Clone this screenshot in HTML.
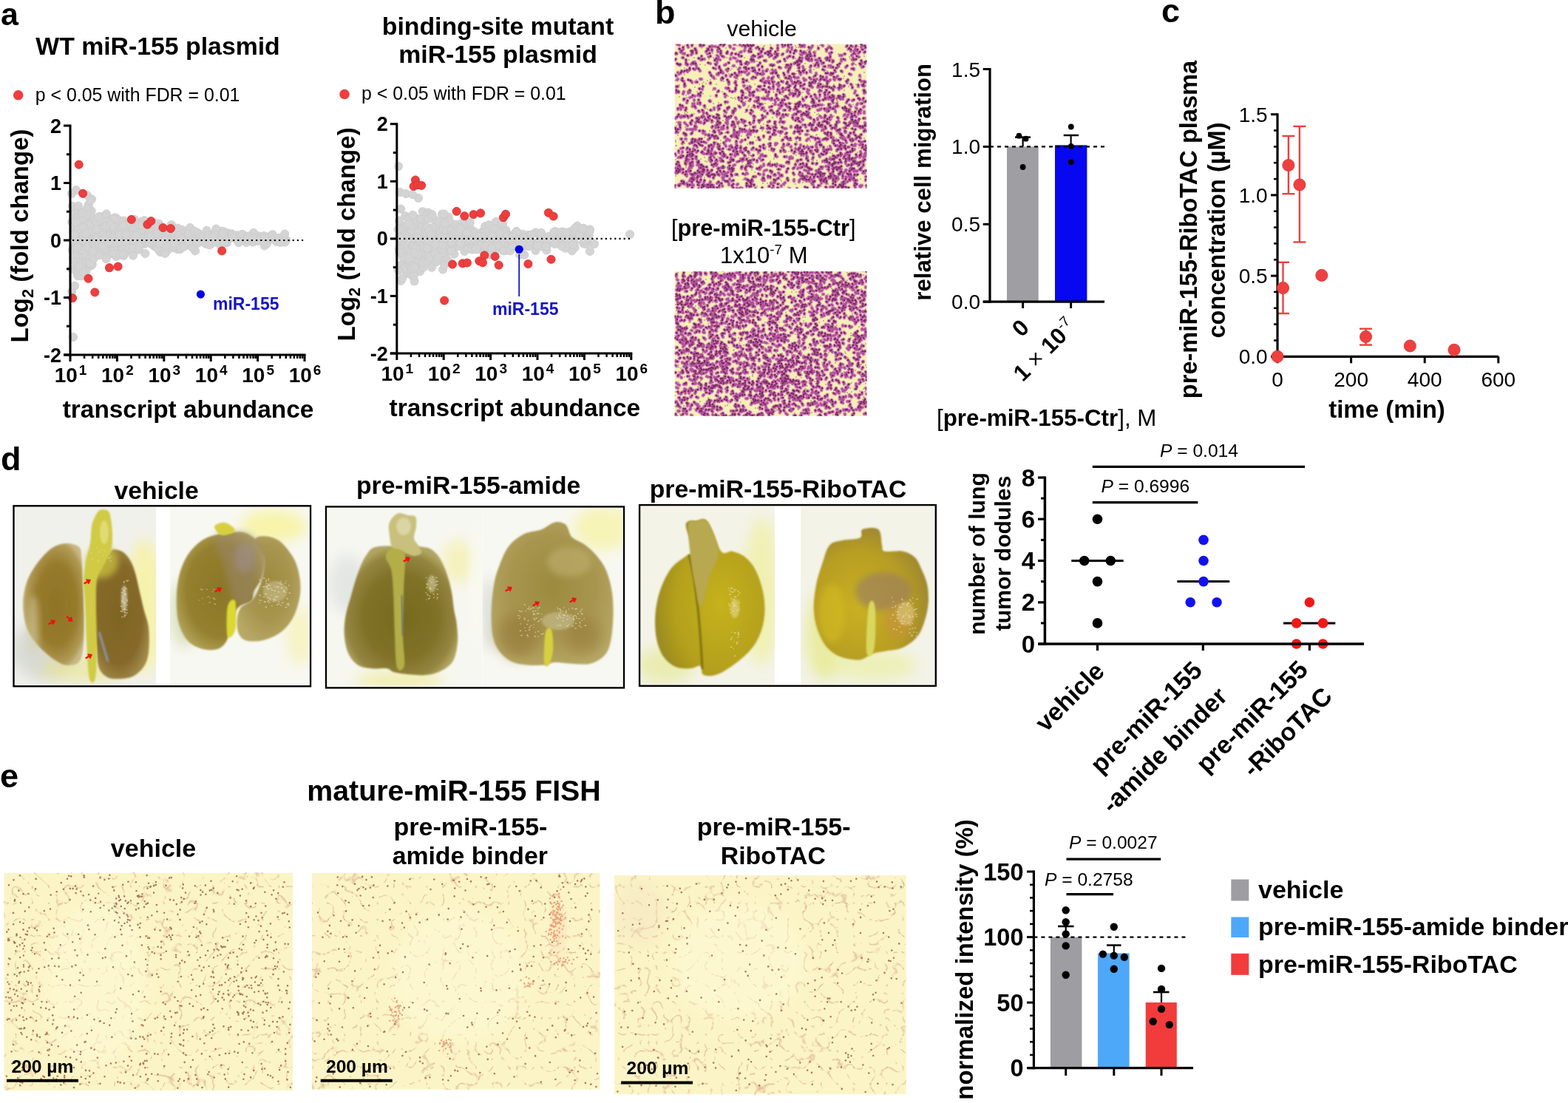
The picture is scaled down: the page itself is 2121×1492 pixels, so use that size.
<!DOCTYPE html>
<html><head><meta charset="utf-8"><style>
html,body{margin:0;padding:0;background:#fff;overflow:hidden;}
svg{display:block;}
</style></head><body>
<svg width="2121" height="1492" viewBox="0 0 2121 1492" font-family="'Liberation Sans', Arial, sans-serif">
<defs><clipPath id="mcc1"><rect x="912.6" y="59.6" width="259.8" height="195.2"/></clipPath>
<clipPath id="mcc2"><rect x="912.6" y="367" width="259.8" height="195.7"/></clipPath>
<filter id="bl1" x="-30%" y="-30%" width="160%" height="160%"><feGaussianBlur stdDeviation="0.8"/></filter>
<filter id="bl2" x="-30%" y="-30%" width="160%" height="160%"><feGaussianBlur stdDeviation="1.6"/></filter>
<filter id="bl4" x="-30%" y="-30%" width="160%" height="160%"><feGaussianBlur stdDeviation="4"/></filter>
<filter id="bl8" x="-30%" y="-30%" width="160%" height="160%"><feGaussianBlur stdDeviation="9"/></filter>
<radialGradient id="gL1" cx="0.55" cy="0.5" r="0.55" fx="0.55" fy="0.5"><stop offset="0" stop-color="#8f7326"/><stop offset="0.6" stop-color="#977b2c"/><stop offset="0.9" stop-color="#b09a55"/><stop offset="1" stop-color="#c9b784"/></radialGradient>
<radialGradient id="gL2" cx="0.5" cy="0.5" r="0.55" fx="0.5" fy="0.5"><stop offset="0" stop-color="#7e6522"/><stop offset="0.7" stop-color="#86692a"/><stop offset="1" stop-color="#a08a4a"/></radialGradient>
<radialGradient id="gL3" cx="0.5" cy="0.5" r="0.55" fx="0.5" fy="0.5"><stop offset="0" stop-color="#8c7628"/><stop offset="0.7" stop-color="#94802e"/><stop offset="1" stop-color="#b0a258"/></radialGradient>
<radialGradient id="gL3b" cx="0.5" cy="0.55" r="0.55" fx="0.5" fy="0.55"><stop offset="0" stop-color="#766a20"/><stop offset="0.6" stop-color="#807228"/><stop offset="0.88" stop-color="#948640"/><stop offset="1" stop-color="#b0a460"/></radialGradient>
<radialGradient id="gL4" cx="0.5" cy="0.45" r="0.6" fx="0.5" fy="0.45"><stop offset="0" stop-color="#9c8a3e"/><stop offset="0.6" stop-color="#a89650"/><stop offset="1" stop-color="#b8a866"/></radialGradient>
<radialGradient id="gL5" cx="0.6" cy="0.55" r="0.6" fx="0.6" fy="0.55"><stop offset="0" stop-color="#c6b21a"/><stop offset="0.7" stop-color="#b4a01a"/><stop offset="1" stop-color="#9c8c22"/></radialGradient>
<radialGradient id="gL6" cx="0.4" cy="0.6" r="0.6" fx="0.4" fy="0.6"><stop offset="0" stop-color="#cab020"/><stop offset="0.7" stop-color="#b89e24"/><stop offset="1" stop-color="#a08a30"/></radialGradient>
<radialGradient id="gY" cx="0.5" cy="0.5" r="0.5" fx="0.5" fy="0.5"><stop offset="0" stop-color="#fbf7a0" stop-opacity="1"/><stop offset="1" stop-color="#fbf7a0" stop-opacity="0"/></radialGradient>
<clipPath id="cp0"><rect x="20" y="686" width="191.5" height="240.5"/></clipPath>
<clipPath id="cp1"><rect x="229.7" y="686" width="189" height="240.5"/></clipPath>
<clipPath id="cp2"><rect x="442.5" y="687" width="210" height="241.5"/></clipPath>
<clipPath id="cp3"><rect x="652.5" y="687" width="190" height="241.5"/></clipPath>
<clipPath id="cp4"><rect x="867" y="685" width="181" height="241"/></clipPath>
<clipPath id="cp5"><rect x="1082.6" y="685" width="181.5" height="241"/></clipPath>
<filter id="ff1" filterUnits="userSpaceOnUse" primitiveUnits="userSpaceOnUse" x="5.5" y="1180.8" width="390.5" height="294.2" color-interpolation-filters="sRGB"><feTurbulence type="turbulence" baseFrequency="0.045" numOctaves="2" seed="5"/><feColorMatrix type="matrix" values="0 0 0 0 0 0 0 0 0 0 0 0 0 0 0 -1 0 0 0 1"/><feComponentTransfer result="a"><feFuncA type="linear" slope="9" intercept="-8.1"/></feComponentTransfer><feFlood flood-color="#d8a888" flood-opacity="0.75"/><feComposite in2="a" operator="in" result="p"/><feMerge><feMergeNode in="SourceGraphic"/><feMergeNode in="p"/></feMerge></filter>
<filter id="ff2" filterUnits="userSpaceOnUse" primitiveUnits="userSpaceOnUse" x="422" y="1181" width="389.4" height="292.6" color-interpolation-filters="sRGB"><feTurbulence type="turbulence" baseFrequency="0.045" numOctaves="2" seed="9"/><feColorMatrix type="matrix" values="0 0 0 0 0 0 0 0 0 0 0 0 0 0 0 -1 0 0 0 1"/><feComponentTransfer result="a"><feFuncA type="linear" slope="9" intercept="-8.1"/></feComponentTransfer><feFlood flood-color="#d8a888" flood-opacity="0.75"/><feComposite in2="a" operator="in" result="p"/><feMerge><feMergeNode in="SourceGraphic"/><feMergeNode in="p"/></feMerge></filter>
<filter id="ff3" filterUnits="userSpaceOnUse" primitiveUnits="userSpaceOnUse" x="831.2" y="1184" width="394.4" height="296.1" color-interpolation-filters="sRGB"><feTurbulence type="turbulence" baseFrequency="0.045" numOctaves="2" seed="13"/><feColorMatrix type="matrix" values="0 0 0 0 0 0 0 0 0 0 0 0 0 0 0 -1 0 0 0 1"/><feComponentTransfer result="a"><feFuncA type="linear" slope="9" intercept="-8.1"/></feComponentTransfer><feFlood flood-color="#d8a888" flood-opacity="0.75"/><feComposite in2="a" operator="in" result="p"/><feMerge><feMergeNode in="SourceGraphic"/><feMergeNode in="p"/></feMerge></filter></defs>
<rect width="2121" height="1492" fill="#fff"/>
<text x="1" y="34" font-size="43" font-weight="bold">a</text>
<text x="886" y="32" font-size="45" font-weight="bold">b</text>
<text x="1571" y="30" font-size="45" font-weight="bold">c</text>
<text x="1" y="636" font-size="45" font-weight="bold">d</text>
<text x="0" y="1065" font-size="45" font-weight="bold">e</text>
<g fill="#d4d4d4" stroke="#cbcbcb" stroke-width="0.8">
<circle cx="98.8" cy="362.4" r="5.6"/>
<circle cx="98.9" cy="335.6" r="5.6"/>
<circle cx="97.7" cy="338.8" r="5.6"/>
<circle cx="100.2" cy="287.4" r="5.6"/>
<circle cx="97.4" cy="363.7" r="5.6"/>
<circle cx="97.2" cy="394.3" r="5.6"/>
<circle cx="99.6" cy="313.3" r="5.6"/>
<circle cx="97.1" cy="300.6" r="5.6"/>
<circle cx="97.8" cy="278.8" r="5.6"/>
<circle cx="98.9" cy="348.5" r="5.6"/>
<circle cx="99.1" cy="338.7" r="5.6"/>
<circle cx="99.6" cy="310.7" r="5.6"/>
<circle cx="101" cy="386.7" r="5.6"/>
<circle cx="99.8" cy="297.6" r="5.6"/>
<circle cx="103" cy="257" r="5.6"/>
<circle cx="97" cy="262" r="5.6"/>
<circle cx="99" cy="456" r="5.6"/>
<circle cx="105.2" cy="345.3" r="5.6"/>
<circle cx="124.5" cy="294.3" r="5.6"/>
<circle cx="115.7" cy="326.7" r="5.6"/>
<circle cx="102.2" cy="340.6" r="5.6"/>
<circle cx="119" cy="288.4" r="5.6"/>
<circle cx="102.5" cy="316" r="5.6"/>
<circle cx="104.4" cy="324.4" r="5.6"/>
<circle cx="104.8" cy="316.3" r="5.6"/>
<circle cx="116.1" cy="298.1" r="5.6"/>
<circle cx="105.3" cy="337.5" r="5.6"/>
<circle cx="120.1" cy="334.6" r="5.6"/>
<circle cx="105.3" cy="337.9" r="5.6"/>
<circle cx="116" cy="329" r="5.6"/>
<circle cx="105.3" cy="325.7" r="5.6"/>
<circle cx="108.2" cy="288.7" r="5.6"/>
<circle cx="102.3" cy="314.2" r="5.6"/>
<circle cx="115" cy="314.2" r="5.6"/>
<circle cx="124" cy="327.3" r="5.6"/>
<circle cx="121.7" cy="286.9" r="5.6"/>
<circle cx="122.7" cy="327.8" r="5.6"/>
<circle cx="104.7" cy="362.1" r="5.6"/>
<circle cx="104.9" cy="370.6" r="5.6"/>
<circle cx="115.1" cy="297.4" r="5.6"/>
<circle cx="101" cy="335.3" r="5.6"/>
<circle cx="117.6" cy="328.5" r="5.6"/>
<circle cx="114.9" cy="294.3" r="5.6"/>
<circle cx="118" cy="284.6" r="5.6"/>
<circle cx="114" cy="350.1" r="5.6"/>
<circle cx="107" cy="330.8" r="5.6"/>
<circle cx="100.4" cy="308" r="5.6"/>
<circle cx="101.5" cy="298.5" r="5.6"/>
<circle cx="114.3" cy="295.6" r="5.6"/>
<circle cx="122.3" cy="359.7" r="5.6"/>
<circle cx="117.3" cy="308.6" r="5.6"/>
<circle cx="100.9" cy="320" r="5.6"/>
<circle cx="117.5" cy="323.1" r="5.6"/>
<circle cx="115.9" cy="335.9" r="5.6"/>
<circle cx="108" cy="328.2" r="5.6"/>
<circle cx="113.7" cy="359.7" r="5.6"/>
<circle cx="118.4" cy="351.8" r="5.6"/>
<circle cx="122.9" cy="326.1" r="5.6"/>
<circle cx="122.5" cy="340.1" r="5.6"/>
<circle cx="119.8" cy="348.4" r="5.6"/>
<circle cx="115.6" cy="322" r="5.6"/>
<circle cx="115.2" cy="308.3" r="5.6"/>
<circle cx="124.8" cy="358" r="5.6"/>
<circle cx="109.7" cy="341.7" r="5.6"/>
<circle cx="111" cy="319.6" r="5.6"/>
<circle cx="118.8" cy="303.3" r="5.6"/>
<circle cx="112" cy="320" r="5.6"/>
<circle cx="112.4" cy="354" r="5.6"/>
<circle cx="106.4" cy="285.5" r="5.6"/>
<circle cx="117" cy="288.8" r="5.6"/>
<circle cx="122.6" cy="329.7" r="5.6"/>
<circle cx="122.3" cy="323.6" r="5.6"/>
<circle cx="105" cy="337.3" r="5.6"/>
<circle cx="122.9" cy="338.8" r="5.6"/>
<circle cx="114.6" cy="293.3" r="5.6"/>
<circle cx="112.4" cy="362.4" r="5.6"/>
<circle cx="117.8" cy="336.7" r="5.6"/>
<circle cx="104.2" cy="308.6" r="5.6"/>
<circle cx="105.4" cy="326.2" r="5.6"/>
<circle cx="112.3" cy="332.7" r="5.6"/>
<circle cx="124.6" cy="297.5" r="5.6"/>
<circle cx="100.8" cy="319.2" r="5.6"/>
<circle cx="117.7" cy="317.3" r="5.6"/>
<circle cx="119.8" cy="276.7" r="5.6"/>
<circle cx="111.4" cy="315.8" r="5.6"/>
<circle cx="105.9" cy="278.5" r="5.6"/>
<circle cx="115.7" cy="328.3" r="5.6"/>
<circle cx="116.4" cy="366.9" r="5.6"/>
<circle cx="117.1" cy="305.8" r="5.6"/>
<circle cx="104.5" cy="295" r="5.6"/>
<circle cx="117.9" cy="293.3" r="5.6"/>
<circle cx="108.6" cy="336.2" r="5.6"/>
<circle cx="115.4" cy="332.4" r="5.6"/>
<circle cx="119.8" cy="323.6" r="5.6"/>
<circle cx="123.3" cy="315.7" r="5.6"/>
<circle cx="111.3" cy="354" r="5.6"/>
<circle cx="109.4" cy="349.1" r="5.6"/>
<circle cx="119.9" cy="346.8" r="5.6"/>
<circle cx="116.3" cy="319.9" r="5.6"/>
<circle cx="120.5" cy="344.1" r="5.6"/>
<circle cx="105.3" cy="373.3" r="5.6"/>
<circle cx="124.4" cy="342.4" r="5.6"/>
<circle cx="108" cy="366.9" r="5.6"/>
<circle cx="108.7" cy="297.3" r="5.6"/>
<circle cx="113.8" cy="338.3" r="5.6"/>
<circle cx="100.7" cy="316.9" r="5.6"/>
<circle cx="120" cy="296.4" r="5.6"/>
<circle cx="119.7" cy="284.2" r="5.6"/>
<circle cx="112.9" cy="355.6" r="5.6"/>
<circle cx="117.2" cy="348.5" r="5.6"/>
<circle cx="123.7" cy="285.2" r="5.6"/>
<circle cx="113.2" cy="325.1" r="5.6"/>
<circle cx="116" cy="344.5" r="5.6"/>
<circle cx="114" cy="306.8" r="5.6"/>
<circle cx="121.1" cy="330.1" r="5.6"/>
<circle cx="121.3" cy="351.6" r="5.6"/>
<circle cx="114.3" cy="309.3" r="5.6"/>
<circle cx="112.6" cy="303.4" r="5.6"/>
<circle cx="124.2" cy="319.3" r="5.6"/>
<circle cx="120" cy="327" r="5.6"/>
<circle cx="117.3" cy="301.9" r="5.6"/>
<circle cx="110.3" cy="373.3" r="5.6"/>
<circle cx="106.7" cy="301.6" r="5.6"/>
<circle cx="110.8" cy="364.1" r="5.6"/>
<circle cx="111.9" cy="296.5" r="5.6"/>
<circle cx="115.4" cy="327.1" r="5.6"/>
<circle cx="119.5" cy="280.1" r="5.6"/>
<circle cx="105.7" cy="324.5" r="5.6"/>
<circle cx="108.9" cy="308.6" r="5.6"/>
<circle cx="118.3" cy="303.5" r="5.6"/>
<circle cx="106.3" cy="308.8" r="5.6"/>
<circle cx="110.9" cy="312.2" r="5.6"/>
<circle cx="113.2" cy="288.4" r="5.6"/>
<circle cx="115.8" cy="333.4" r="5.6"/>
<circle cx="121.3" cy="350.2" r="5.6"/>
<circle cx="105.8" cy="354.9" r="5.6"/>
<circle cx="122.6" cy="303.3" r="5.6"/>
<circle cx="123.1" cy="336.1" r="5.6"/>
<circle cx="122.2" cy="288.9" r="5.6"/>
<circle cx="118.2" cy="288" r="5.6"/>
<circle cx="120.8" cy="335.8" r="5.6"/>
<circle cx="103.2" cy="328.9" r="5.6"/>
<circle cx="100.4" cy="317.5" r="5.6"/>
<circle cx="122.8" cy="328.7" r="5.6"/>
<circle cx="112.6" cy="338.6" r="5.6"/>
<circle cx="117.1" cy="282.5" r="5.6"/>
<circle cx="102.7" cy="301" r="5.6"/>
<circle cx="112.9" cy="308.1" r="5.6"/>
<circle cx="104.6" cy="326.5" r="5.6"/>
<circle cx="124.8" cy="325.2" r="5.6"/>
<circle cx="101.5" cy="347.2" r="5.6"/>
<circle cx="119.1" cy="312.5" r="5.6"/>
<circle cx="112.9" cy="325.7" r="5.6"/>
<circle cx="100.3" cy="354.5" r="5.6"/>
<circle cx="104.5" cy="334.8" r="5.6"/>
<circle cx="110.1" cy="288.2" r="5.6"/>
<circle cx="112.8" cy="318.9" r="5.6"/>
<circle cx="120" cy="355.7" r="5.6"/>
<circle cx="115.7" cy="324.2" r="5.6"/>
<circle cx="112.6" cy="368.1" r="5.6"/>
<circle cx="106.5" cy="360.7" r="5.6"/>
<circle cx="119.4" cy="336.3" r="5.6"/>
<circle cx="122.4" cy="356.2" r="5.6"/>
<circle cx="119.2" cy="333.6" r="5.6"/>
<circle cx="118.1" cy="291.1" r="5.6"/>
<circle cx="111.7" cy="288.5" r="5.6"/>
<circle cx="116" cy="315.9" r="5.6"/>
<circle cx="117.7" cy="264" r="5.6"/>
<circle cx="124" cy="269.3" r="5.6"/>
<circle cx="122.3" cy="270.9" r="5.6"/>
<circle cx="149.5" cy="343.2" r="5.6"/>
<circle cx="125.8" cy="330" r="5.6"/>
<circle cx="134" cy="299.4" r="5.6"/>
<circle cx="131.8" cy="300.1" r="5.6"/>
<circle cx="133.8" cy="333.5" r="5.6"/>
<circle cx="142.8" cy="336.2" r="5.6"/>
<circle cx="159.8" cy="333.2" r="5.6"/>
<circle cx="127.7" cy="330.1" r="5.6"/>
<circle cx="126.6" cy="321.1" r="5.6"/>
<circle cx="141.5" cy="306.6" r="5.6"/>
<circle cx="146.4" cy="318.1" r="5.6"/>
<circle cx="139.7" cy="322.2" r="5.6"/>
<circle cx="137.8" cy="316" r="5.6"/>
<circle cx="144.6" cy="318" r="5.6"/>
<circle cx="135.4" cy="292.8" r="5.6"/>
<circle cx="126.5" cy="315" r="5.6"/>
<circle cx="138.6" cy="340" r="5.6"/>
<circle cx="126.8" cy="349.7" r="5.6"/>
<circle cx="127.6" cy="329.4" r="5.6"/>
<circle cx="141.7" cy="325.4" r="5.6"/>
<circle cx="143.3" cy="340.4" r="5.6"/>
<circle cx="141.4" cy="345" r="5.6"/>
<circle cx="146.1" cy="309.1" r="5.6"/>
<circle cx="140.9" cy="292.7" r="5.6"/>
<circle cx="143.5" cy="303.3" r="5.6"/>
<circle cx="148.4" cy="308.4" r="5.6"/>
<circle cx="145.4" cy="324.7" r="5.6"/>
<circle cx="143.6" cy="350.3" r="5.6"/>
<circle cx="150.7" cy="296" r="5.6"/>
<circle cx="156.2" cy="331.9" r="5.6"/>
<circle cx="137.6" cy="316.5" r="5.6"/>
<circle cx="144.8" cy="325.6" r="5.6"/>
<circle cx="151.4" cy="298.9" r="5.6"/>
<circle cx="159.3" cy="345" r="5.6"/>
<circle cx="126.4" cy="295.3" r="5.6"/>
<circle cx="139.9" cy="308.7" r="5.6"/>
<circle cx="144" cy="289.4" r="5.6"/>
<circle cx="148.7" cy="324.2" r="5.6"/>
<circle cx="138.1" cy="307.4" r="5.6"/>
<circle cx="137" cy="337.8" r="5.6"/>
<circle cx="127.6" cy="315.6" r="5.6"/>
<circle cx="146.8" cy="317.4" r="5.6"/>
<circle cx="139.9" cy="320.3" r="5.6"/>
<circle cx="137.9" cy="339.9" r="5.6"/>
<circle cx="136.4" cy="328" r="5.6"/>
<circle cx="157.2" cy="311.1" r="5.6"/>
<circle cx="128.4" cy="316.4" r="5.6"/>
<circle cx="127.9" cy="319.7" r="5.6"/>
<circle cx="149" cy="320.5" r="5.6"/>
<circle cx="127.7" cy="313.8" r="5.6"/>
<circle cx="127.9" cy="319" r="5.6"/>
<circle cx="149.3" cy="298.5" r="5.6"/>
<circle cx="137.5" cy="321.1" r="5.6"/>
<circle cx="129.1" cy="327.5" r="5.6"/>
<circle cx="157.1" cy="347" r="5.6"/>
<circle cx="140.3" cy="321.7" r="5.6"/>
<circle cx="136.1" cy="329.4" r="5.6"/>
<circle cx="156.3" cy="304.7" r="5.6"/>
<circle cx="137.8" cy="309.8" r="5.6"/>
<circle cx="138.6" cy="309.8" r="5.6"/>
<circle cx="152.9" cy="330.8" r="5.6"/>
<circle cx="144.7" cy="315.8" r="5.6"/>
<circle cx="155.8" cy="294.3" r="5.6"/>
<circle cx="143" cy="321.8" r="5.6"/>
<circle cx="158.8" cy="333.5" r="5.6"/>
<circle cx="127.2" cy="329.4" r="5.6"/>
<circle cx="127.9" cy="311.8" r="5.6"/>
<circle cx="156.5" cy="308.4" r="5.6"/>
<circle cx="130" cy="331.4" r="5.6"/>
<circle cx="133.6" cy="317.5" r="5.6"/>
<circle cx="143.3" cy="323.4" r="5.6"/>
<circle cx="136.8" cy="339.8" r="5.6"/>
<circle cx="142.3" cy="326.8" r="5.6"/>
<circle cx="149.8" cy="329.1" r="5.6"/>
<circle cx="153.9" cy="335.7" r="5.6"/>
<circle cx="153.2" cy="342.6" r="5.6"/>
<circle cx="158.5" cy="323.6" r="5.6"/>
<circle cx="149.9" cy="325.6" r="5.6"/>
<circle cx="139.7" cy="314.2" r="5.6"/>
<circle cx="159.7" cy="302.5" r="5.6"/>
<circle cx="132.2" cy="308.4" r="5.6"/>
<circle cx="158.9" cy="296.5" r="5.6"/>
<circle cx="129" cy="332.4" r="5.6"/>
<circle cx="131.3" cy="301.7" r="5.6"/>
<circle cx="145.4" cy="316.2" r="5.6"/>
<circle cx="128.8" cy="297.7" r="5.6"/>
<circle cx="133.2" cy="328.6" r="5.6"/>
<circle cx="132.8" cy="299.8" r="5.6"/>
<circle cx="131" cy="320.4" r="5.6"/>
<circle cx="144.2" cy="328.1" r="5.6"/>
<circle cx="134.1" cy="345.3" r="5.6"/>
<circle cx="137" cy="335.1" r="5.6"/>
<circle cx="141.9" cy="293.2" r="5.6"/>
<circle cx="158.2" cy="324.3" r="5.6"/>
<circle cx="143.5" cy="310.9" r="5.6"/>
<circle cx="159.7" cy="314.4" r="5.6"/>
<circle cx="125.4" cy="312.7" r="5.6"/>
<circle cx="152.9" cy="328.9" r="5.6"/>
<circle cx="130.5" cy="300.3" r="5.6"/>
<circle cx="134.1" cy="331.1" r="5.6"/>
<circle cx="147.3" cy="326.8" r="5.6"/>
<circle cx="143.7" cy="315.3" r="5.6"/>
<circle cx="125" cy="340.7" r="5.6"/>
<circle cx="153.8" cy="296" r="5.6"/>
<circle cx="150.1" cy="303.6" r="5.6"/>
<circle cx="141.4" cy="336.4" r="5.6"/>
<circle cx="155" cy="321.2" r="5.6"/>
<circle cx="139.6" cy="318.3" r="5.6"/>
<circle cx="153.9" cy="309.6" r="5.6"/>
<circle cx="143.4" cy="317.6" r="5.6"/>
<circle cx="135.9" cy="297.2" r="5.6"/>
<circle cx="135.7" cy="324.2" r="5.6"/>
<circle cx="137.6" cy="311" r="5.6"/>
<circle cx="138.8" cy="332.6" r="5.6"/>
<circle cx="154" cy="306.7" r="5.6"/>
<circle cx="138.2" cy="316.2" r="5.6"/>
<circle cx="144.7" cy="299.9" r="5.6"/>
<circle cx="159.7" cy="318.2" r="5.6"/>
<circle cx="146.6" cy="306.7" r="5.6"/>
<circle cx="143.9" cy="305.6" r="5.6"/>
<circle cx="138.7" cy="315.4" r="5.6"/>
<circle cx="132" cy="320.1" r="5.6"/>
<circle cx="158.1" cy="327.7" r="5.6"/>
<circle cx="136.6" cy="315.3" r="5.6"/>
<circle cx="129.9" cy="310.3" r="5.6"/>
<circle cx="149.8" cy="303.8" r="5.6"/>
<circle cx="154.3" cy="307.2" r="5.6"/>
<circle cx="132.9" cy="293.6" r="5.6"/>
<circle cx="139.2" cy="317.8" r="5.6"/>
<circle cx="139.9" cy="323.4" r="5.6"/>
<circle cx="190.7" cy="326.6" r="5.6"/>
<circle cx="173.3" cy="305.5" r="5.6"/>
<circle cx="176" cy="339.4" r="5.6"/>
<circle cx="191.6" cy="328.3" r="5.6"/>
<circle cx="160.7" cy="312.2" r="5.6"/>
<circle cx="186" cy="307.1" r="5.6"/>
<circle cx="180.4" cy="337.6" r="5.6"/>
<circle cx="184.5" cy="319" r="5.6"/>
<circle cx="196.1" cy="318.3" r="5.6"/>
<circle cx="180" cy="317.1" r="5.6"/>
<circle cx="199.5" cy="327.2" r="5.6"/>
<circle cx="193.4" cy="324.8" r="5.6"/>
<circle cx="185.1" cy="301.6" r="5.6"/>
<circle cx="169.8" cy="328.4" r="5.6"/>
<circle cx="173.2" cy="328.8" r="5.6"/>
<circle cx="178.5" cy="323.6" r="5.6"/>
<circle cx="165.4" cy="333.1" r="5.6"/>
<circle cx="182.4" cy="316.3" r="5.6"/>
<circle cx="196.4" cy="342.9" r="5.6"/>
<circle cx="184.1" cy="319.6" r="5.6"/>
<circle cx="171.5" cy="324.7" r="5.6"/>
<circle cx="182.9" cy="321.4" r="5.6"/>
<circle cx="181.9" cy="296.9" r="5.6"/>
<circle cx="167.2" cy="346" r="5.6"/>
<circle cx="186.3" cy="320.4" r="5.6"/>
<circle cx="189.5" cy="320.3" r="5.6"/>
<circle cx="192.2" cy="299.8" r="5.6"/>
<circle cx="178.7" cy="308.3" r="5.6"/>
<circle cx="182.8" cy="312.7" r="5.6"/>
<circle cx="170.5" cy="318.3" r="5.6"/>
<circle cx="185.7" cy="313.1" r="5.6"/>
<circle cx="165.8" cy="336.1" r="5.6"/>
<circle cx="178.8" cy="322" r="5.6"/>
<circle cx="187.6" cy="334.8" r="5.6"/>
<circle cx="179.4" cy="343.5" r="5.6"/>
<circle cx="194.2" cy="316.8" r="5.6"/>
<circle cx="182.6" cy="332.6" r="5.6"/>
<circle cx="181" cy="330.1" r="5.6"/>
<circle cx="172.8" cy="315.1" r="5.6"/>
<circle cx="196" cy="329.9" r="5.6"/>
<circle cx="190.1" cy="318.3" r="5.6"/>
<circle cx="162.8" cy="309.4" r="5.6"/>
<circle cx="180.1" cy="306.1" r="5.6"/>
<circle cx="187.8" cy="314.7" r="5.6"/>
<circle cx="172.3" cy="311" r="5.6"/>
<circle cx="162.7" cy="344.7" r="5.6"/>
<circle cx="186.6" cy="328.8" r="5.6"/>
<circle cx="192.2" cy="320.1" r="5.6"/>
<circle cx="182.7" cy="321.1" r="5.6"/>
<circle cx="191.7" cy="311.9" r="5.6"/>
<circle cx="198" cy="300.6" r="5.6"/>
<circle cx="172" cy="304.5" r="5.6"/>
<circle cx="195.8" cy="326.7" r="5.6"/>
<circle cx="174.3" cy="311" r="5.6"/>
<circle cx="161.2" cy="326.6" r="5.6"/>
<circle cx="179.9" cy="345.6" r="5.6"/>
<circle cx="178.9" cy="307.6" r="5.6"/>
<circle cx="196.9" cy="323.5" r="5.6"/>
<circle cx="193.5" cy="316.3" r="5.6"/>
<circle cx="166.9" cy="344.6" r="5.6"/>
<circle cx="168.1" cy="316.2" r="5.6"/>
<circle cx="195.2" cy="298.2" r="5.6"/>
<circle cx="189" cy="326.8" r="5.6"/>
<circle cx="194.8" cy="316.9" r="5.6"/>
<circle cx="187.8" cy="331.3" r="5.6"/>
<circle cx="163.2" cy="308.3" r="5.6"/>
<circle cx="188.4" cy="304.2" r="5.6"/>
<circle cx="169.4" cy="333.3" r="5.6"/>
<circle cx="174.9" cy="335.8" r="5.6"/>
<circle cx="183.6" cy="308.3" r="5.6"/>
<circle cx="197.1" cy="319.5" r="5.6"/>
<circle cx="185.6" cy="323" r="5.6"/>
<circle cx="177.6" cy="322.6" r="5.6"/>
<circle cx="161.8" cy="317.9" r="5.6"/>
<circle cx="170" cy="318" r="5.6"/>
<circle cx="171.4" cy="321" r="5.6"/>
<circle cx="171.2" cy="313.8" r="5.6"/>
<circle cx="195.9" cy="321.6" r="5.6"/>
<circle cx="178.5" cy="324.7" r="5.6"/>
<circle cx="197.2" cy="312.4" r="5.6"/>
<circle cx="182.2" cy="321.1" r="5.6"/>
<circle cx="186.3" cy="329.1" r="5.6"/>
<circle cx="180.2" cy="335.3" r="5.6"/>
<circle cx="180.8" cy="324.4" r="5.6"/>
<circle cx="191.2" cy="314.9" r="5.6"/>
<circle cx="169.4" cy="326.8" r="5.6"/>
<circle cx="191.5" cy="321.7" r="5.6"/>
<circle cx="179.6" cy="315.6" r="5.6"/>
<circle cx="180" cy="311.1" r="5.6"/>
<circle cx="188.6" cy="333" r="5.6"/>
<circle cx="167.2" cy="298.6" r="5.6"/>
<circle cx="179.8" cy="317.7" r="5.6"/>
<circle cx="170.5" cy="317.5" r="5.6"/>
<circle cx="196.3" cy="324" r="5.6"/>
<circle cx="191.7" cy="304.4" r="5.6"/>
<circle cx="172.4" cy="303.6" r="5.6"/>
<circle cx="184.8" cy="315.3" r="5.6"/>
<circle cx="183.5" cy="318.5" r="5.6"/>
<circle cx="166.9" cy="305.2" r="5.6"/>
<circle cx="187.6" cy="337.7" r="5.6"/>
<circle cx="202.1" cy="318.2" r="5.6"/>
<circle cx="207.6" cy="323.8" r="5.6"/>
<circle cx="217.1" cy="341.1" r="5.6"/>
<circle cx="205.1" cy="328.2" r="5.6"/>
<circle cx="201.4" cy="326.6" r="5.6"/>
<circle cx="205" cy="316.2" r="5.6"/>
<circle cx="214.9" cy="302.6" r="5.6"/>
<circle cx="234.9" cy="335.2" r="5.6"/>
<circle cx="208" cy="318.9" r="5.6"/>
<circle cx="208.5" cy="332.8" r="5.6"/>
<circle cx="212.7" cy="331" r="5.6"/>
<circle cx="221.4" cy="310.4" r="5.6"/>
<circle cx="222.7" cy="309.4" r="5.6"/>
<circle cx="224.3" cy="334.2" r="5.6"/>
<circle cx="231" cy="320.1" r="5.6"/>
<circle cx="229.5" cy="327.3" r="5.6"/>
<circle cx="207.5" cy="312.5" r="5.6"/>
<circle cx="219.2" cy="308.6" r="5.6"/>
<circle cx="207.5" cy="318.2" r="5.6"/>
<circle cx="215.6" cy="339.3" r="5.6"/>
<circle cx="230.2" cy="313.8" r="5.6"/>
<circle cx="202.5" cy="324.8" r="5.6"/>
<circle cx="209.6" cy="304.7" r="5.6"/>
<circle cx="209.2" cy="330.9" r="5.6"/>
<circle cx="225" cy="314.8" r="5.6"/>
<circle cx="205.4" cy="330.5" r="5.6"/>
<circle cx="226.8" cy="338.3" r="5.6"/>
<circle cx="200.7" cy="316.6" r="5.6"/>
<circle cx="202.9" cy="328.4" r="5.6"/>
<circle cx="227" cy="313.5" r="5.6"/>
<circle cx="213.8" cy="306.6" r="5.6"/>
<circle cx="205.3" cy="314.7" r="5.6"/>
<circle cx="210.9" cy="322.7" r="5.6"/>
<circle cx="204.8" cy="322.7" r="5.6"/>
<circle cx="225.4" cy="319.1" r="5.6"/>
<circle cx="207.2" cy="323.3" r="5.6"/>
<circle cx="214.2" cy="329.4" r="5.6"/>
<circle cx="207.9" cy="315" r="5.6"/>
<circle cx="207.6" cy="301.5" r="5.6"/>
<circle cx="222.1" cy="332.3" r="5.6"/>
<circle cx="234.1" cy="322.8" r="5.6"/>
<circle cx="232.2" cy="321.3" r="5.6"/>
<circle cx="223.3" cy="342.9" r="5.6"/>
<circle cx="208.2" cy="317" r="5.6"/>
<circle cx="215" cy="310.6" r="5.6"/>
<circle cx="213.4" cy="319.4" r="5.6"/>
<circle cx="209.8" cy="313.2" r="5.6"/>
<circle cx="216.6" cy="319.6" r="5.6"/>
<circle cx="208.4" cy="310.2" r="5.6"/>
<circle cx="214.8" cy="317.2" r="5.6"/>
<circle cx="224.5" cy="329.5" r="5.6"/>
<circle cx="200.8" cy="317.8" r="5.6"/>
<circle cx="202.2" cy="310.8" r="5.6"/>
<circle cx="217.3" cy="324.8" r="5.6"/>
<circle cx="211.4" cy="306.5" r="5.6"/>
<circle cx="212.1" cy="334.3" r="5.6"/>
<circle cx="209.2" cy="320.1" r="5.6"/>
<circle cx="216.4" cy="336.9" r="5.6"/>
<circle cx="212.7" cy="335.7" r="5.6"/>
<circle cx="227" cy="329.3" r="5.6"/>
<circle cx="214.4" cy="316.3" r="5.6"/>
<circle cx="229" cy="329.6" r="5.6"/>
<circle cx="231.8" cy="304.1" r="5.6"/>
<circle cx="217.7" cy="315.7" r="5.6"/>
<circle cx="234.2" cy="308" r="5.6"/>
<circle cx="208" cy="321.5" r="5.6"/>
<circle cx="200" cy="322" r="5.6"/>
<circle cx="208.4" cy="326.9" r="5.6"/>
<circle cx="219.2" cy="327.9" r="5.6"/>
<circle cx="229.1" cy="330.6" r="5.6"/>
<circle cx="212.1" cy="328.2" r="5.6"/>
<circle cx="225.1" cy="332.5" r="5.6"/>
<circle cx="233.7" cy="323.1" r="5.6"/>
<circle cx="221.8" cy="324.8" r="5.6"/>
<circle cx="212.9" cy="324.3" r="5.6"/>
<circle cx="218.7" cy="311.4" r="5.6"/>
<circle cx="211.4" cy="316.3" r="5.6"/>
<circle cx="204.4" cy="303.1" r="5.6"/>
<circle cx="203.6" cy="319.2" r="5.6"/>
<circle cx="215.8" cy="329.4" r="5.6"/>
<circle cx="240" cy="337.1" r="5.6"/>
<circle cx="236.7" cy="319.1" r="5.6"/>
<circle cx="259.7" cy="325.5" r="5.6"/>
<circle cx="242.8" cy="324.3" r="5.6"/>
<circle cx="245.3" cy="334.6" r="5.6"/>
<circle cx="260.7" cy="323.3" r="5.6"/>
<circle cx="256.9" cy="331.9" r="5.6"/>
<circle cx="259.8" cy="314.3" r="5.6"/>
<circle cx="255.8" cy="312.7" r="5.6"/>
<circle cx="235.4" cy="333.2" r="5.6"/>
<circle cx="265.1" cy="320.2" r="5.6"/>
<circle cx="248" cy="324" r="5.6"/>
<circle cx="263.9" cy="324.2" r="5.6"/>
<circle cx="257.1" cy="308" r="5.6"/>
<circle cx="243.9" cy="336.9" r="5.6"/>
<circle cx="238.7" cy="311.6" r="5.6"/>
<circle cx="251.8" cy="320.8" r="5.6"/>
<circle cx="244.6" cy="335.3" r="5.6"/>
<circle cx="243.8" cy="323.7" r="5.6"/>
<circle cx="258.7" cy="330.4" r="5.6"/>
<circle cx="256.5" cy="329.9" r="5.6"/>
<circle cx="239.6" cy="310.2" r="5.6"/>
<circle cx="263.9" cy="318.7" r="5.6"/>
<circle cx="238.7" cy="311.3" r="5.6"/>
<circle cx="252.5" cy="319.2" r="5.6"/>
<circle cx="243.5" cy="318.1" r="5.6"/>
<circle cx="246.3" cy="310.8" r="5.6"/>
<circle cx="237" cy="327.2" r="5.6"/>
<circle cx="237.4" cy="317.3" r="5.6"/>
<circle cx="265.9" cy="324.8" r="5.6"/>
<circle cx="250" cy="327.6" r="5.6"/>
<circle cx="247.3" cy="316.3" r="5.6"/>
<circle cx="255.4" cy="321.7" r="5.6"/>
<circle cx="264.1" cy="339.4" r="5.6"/>
<circle cx="248.7" cy="333.8" r="5.6"/>
<circle cx="240.5" cy="308.6" r="5.6"/>
<circle cx="238.7" cy="313" r="5.6"/>
<circle cx="258.4" cy="320.2" r="5.6"/>
<circle cx="235.3" cy="326.6" r="5.6"/>
<circle cx="235.3" cy="329.7" r="5.6"/>
<circle cx="259.6" cy="326" r="5.6"/>
<circle cx="259.9" cy="334.5" r="5.6"/>
<circle cx="265.6" cy="324.4" r="5.6"/>
<circle cx="247.5" cy="322.7" r="5.6"/>
<circle cx="263.2" cy="316.1" r="5.6"/>
<circle cx="242" cy="319" r="5.6"/>
<circle cx="255.4" cy="326.7" r="5.6"/>
<circle cx="254.8" cy="316.7" r="5.6"/>
<circle cx="263.1" cy="312.7" r="5.6"/>
<circle cx="245.4" cy="322.6" r="5.6"/>
<circle cx="273.4" cy="326.7" r="5.6"/>
<circle cx="267.8" cy="315" r="5.6"/>
<circle cx="269.5" cy="317.3" r="5.6"/>
<circle cx="271" cy="320.7" r="5.6"/>
<circle cx="271.4" cy="325.9" r="5.6"/>
<circle cx="274.8" cy="324.9" r="5.6"/>
<circle cx="267.1" cy="329" r="5.6"/>
<circle cx="275.6" cy="319.5" r="5.6"/>
<circle cx="300.7" cy="312.8" r="5.6"/>
<circle cx="299.7" cy="325" r="5.6"/>
<circle cx="282.4" cy="326.2" r="5.6"/>
<circle cx="281.2" cy="321.2" r="5.6"/>
<circle cx="298.5" cy="318.4" r="5.6"/>
<circle cx="307.1" cy="328.3" r="5.6"/>
<circle cx="293.7" cy="316.2" r="5.6"/>
<circle cx="305.3" cy="323.1" r="5.6"/>
<circle cx="299.3" cy="318.1" r="5.6"/>
<circle cx="284.1" cy="323.6" r="5.6"/>
<circle cx="294" cy="315.9" r="5.6"/>
<circle cx="291.6" cy="323.8" r="5.6"/>
<circle cx="308.6" cy="315.3" r="5.6"/>
<circle cx="310.8" cy="321.8" r="5.6"/>
<circle cx="301.8" cy="326.9" r="5.6"/>
<circle cx="306.4" cy="322.8" r="5.6"/>
<circle cx="293.2" cy="322.1" r="5.6"/>
<circle cx="298.7" cy="332.5" r="5.6"/>
<circle cx="303.9" cy="328.6" r="5.6"/>
<circle cx="278.3" cy="329.7" r="5.6"/>
<circle cx="284.8" cy="324.9" r="5.6"/>
<circle cx="294.8" cy="321.9" r="5.6"/>
<circle cx="285.8" cy="316.8" r="5.6"/>
<circle cx="295.4" cy="325.2" r="5.6"/>
<circle cx="284.5" cy="330.8" r="5.6"/>
<circle cx="303" cy="327.8" r="5.6"/>
<circle cx="303.9" cy="313.8" r="5.6"/>
<circle cx="279.5" cy="311.7" r="5.6"/>
<circle cx="306.3" cy="320.3" r="5.6"/>
<circle cx="282.4" cy="324.6" r="5.6"/>
<circle cx="297.6" cy="320.6" r="5.6"/>
<circle cx="310.6" cy="318.5" r="5.6"/>
<circle cx="306.7" cy="319.9" r="5.6"/>
<circle cx="299.4" cy="312.7" r="5.6"/>
<circle cx="287.9" cy="320.2" r="5.6"/>
<circle cx="285.7" cy="325.5" r="5.6"/>
<circle cx="282.3" cy="318.3" r="5.6"/>
<circle cx="292.3" cy="309.7" r="5.6"/>
<circle cx="308.9" cy="320.5" r="5.6"/>
<circle cx="282.9" cy="331.3" r="5.6"/>
<circle cx="301.8" cy="316.1" r="5.6"/>
<circle cx="290.3" cy="317.7" r="5.6"/>
<circle cx="290.9" cy="324.4" r="5.6"/>
<circle cx="292" cy="327.7" r="5.6"/>
<circle cx="288.1" cy="320.1" r="5.6"/>
<circle cx="355.6" cy="324.2" r="5.6"/>
<circle cx="333.1" cy="328.1" r="5.6"/>
<circle cx="346" cy="325.9" r="5.6"/>
<circle cx="368.2" cy="323" r="5.6"/>
<circle cx="315.9" cy="319.4" r="5.6"/>
<circle cx="344.9" cy="325.1" r="5.6"/>
<circle cx="364.5" cy="321.6" r="5.6"/>
<circle cx="342.7" cy="322.8" r="5.6"/>
<circle cx="330.4" cy="320" r="5.6"/>
<circle cx="374.2" cy="327.1" r="5.6"/>
<circle cx="353" cy="322.5" r="5.6"/>
<circle cx="317.8" cy="319.7" r="5.6"/>
<circle cx="366.7" cy="322.6" r="5.6"/>
<circle cx="380.1" cy="322.2" r="5.6"/>
<circle cx="359.7" cy="320.7" r="5.6"/>
<circle cx="346.8" cy="322.4" r="5.6"/>
<circle cx="357.6" cy="332.4" r="5.6"/>
<circle cx="387.4" cy="324.8" r="5.6"/>
<circle cx="361" cy="329.8" r="5.6"/>
<circle cx="316.1" cy="321.1" r="5.6"/>
<circle cx="361.5" cy="324.7" r="5.6"/>
<circle cx="327.1" cy="317.4" r="5.6"/>
<circle cx="341.4" cy="320.7" r="5.6"/>
<circle cx="323.8" cy="325.4" r="5.6"/>
<circle cx="368.1" cy="323.2" r="5.6"/>
<circle cx="367.3" cy="321.4" r="5.6"/>
<circle cx="347.1" cy="321.2" r="5.6"/>
<circle cx="383.7" cy="321.7" r="5.6"/>
<circle cx="338" cy="323.2" r="5.6"/>
<circle cx="319.6" cy="323.5" r="5.6"/>
<circle cx="350.1" cy="319.3" r="5.6"/>
<circle cx="321" cy="318.3" r="5.6"/>
<circle cx="333.6" cy="322.8" r="5.6"/>
<circle cx="342.9" cy="314.9" r="5.6"/>
<circle cx="345.8" cy="322.7" r="5.6"/>
<circle cx="376.5" cy="322" r="5.6"/>
<circle cx="322.9" cy="327.7" r="5.6"/>
<circle cx="342.3" cy="327.5" r="5.6"/>
<circle cx="385.2" cy="316.5" r="5.6"/>
<circle cx="322.8" cy="328.3" r="5.6"/>
<circle cx="365.9" cy="319.2" r="5.6"/>
<circle cx="313.2" cy="316.3" r="5.6"/>
<circle cx="385.4" cy="327.7" r="5.6"/>
<circle cx="314.5" cy="317.2" r="5.6"/>
<circle cx="331.1" cy="322.8" r="5.6"/>
<circle cx="336.3" cy="324" r="5.6"/>
<circle cx="379.3" cy="327.9" r="5.6"/>
<circle cx="349.6" cy="325.6" r="5.6"/>
<circle cx="334" cy="322.5" r="5.6"/>
<circle cx="339.3" cy="321.5" r="5.6"/>
<circle cx="338.6" cy="321.3" r="5.6"/>
<circle cx="314.8" cy="321.4" r="5.6"/>
<circle cx="351.6" cy="321.9" r="5.6"/>
<circle cx="328.1" cy="316.9" r="5.6"/>
<circle cx="335.2" cy="319.5" r="5.6"/>
<circle cx="368.7" cy="317.2" r="5.6"/>
<circle cx="342.3" cy="322.2" r="5.6"/>
<circle cx="356.7" cy="325.9" r="5.6"/>
<circle cx="357.1" cy="319" r="5.6"/>
<circle cx="357.9" cy="321.5" r="5.6"/>
</g>
<line x1="98" y1="325" x2="412" y2="325" stroke="#000" stroke-width="2.2" stroke-dasharray="2.2 4" />
<g fill="#ee3e3e" stroke="#d63030" stroke-width="0.8">
<circle cx="106.7" cy="222.6" r="5.6"/>
<circle cx="112.1" cy="261.7" r="5.6"/>
<circle cx="177.8" cy="296.9" r="5.6"/>
<circle cx="199.4" cy="303.7" r="5.6"/>
<circle cx="204.3" cy="299.1" r="5.6"/>
<circle cx="220.5" cy="308" r="5.6"/>
<circle cx="230.9" cy="309.1" r="5.6"/>
<circle cx="300.2" cy="339.4" r="5.6"/>
<circle cx="148" cy="362.2" r="5.6"/>
<circle cx="159.6" cy="360.5" r="5.6"/>
<circle cx="119.5" cy="376.7" r="5.6"/>
<circle cx="128.3" cy="395.4" r="5.6"/>
<circle cx="98.1" cy="403.2" r="5.6"/>
</g>
<circle cx="271.4" cy="398.1" r="5.6" fill="#0000e6"/>
<line x1="95" y1="168.5" x2="95" y2="481.5" stroke="#000" stroke-width="3"/>
<line x1="86" y1="480" x2="413.5" y2="480" stroke="#000" stroke-width="3"/>
<line x1="86" y1="170" x2="95" y2="170" stroke="#000" stroke-width="3"/>
<text x="83" y="179.5" font-size="27" font-weight="bold" text-anchor="end">2</text>
<line x1="86" y1="247.5" x2="95" y2="247.5" stroke="#000" stroke-width="3"/>
<text x="83" y="257" font-size="27" font-weight="bold" text-anchor="end">1</text>
<line x1="86" y1="325" x2="95" y2="325" stroke="#000" stroke-width="3"/>
<text x="83" y="334.5" font-size="27" font-weight="bold" text-anchor="end">0</text>
<line x1="86" y1="402.5" x2="95" y2="402.5" stroke="#000" stroke-width="3"/>
<text x="83" y="412" font-size="27" font-weight="bold" text-anchor="end">-1</text>
<line x1="86" y1="480" x2="95" y2="480" stroke="#000" stroke-width="3"/>
<text x="83" y="489.5" font-size="27" font-weight="bold" text-anchor="end">-2</text>
<line x1="90" y1="208.8" x2="95" y2="208.8" stroke="#000" stroke-width="3"/>
<line x1="90" y1="286.2" x2="95" y2="286.2" stroke="#000" stroke-width="3"/>
<line x1="90" y1="363.8" x2="95" y2="363.8" stroke="#000" stroke-width="3"/>
<line x1="90" y1="441.2" x2="95" y2="441.2" stroke="#000" stroke-width="3"/>
<line x1="95" y1="480" x2="95" y2="489" stroke="#000" stroke-width="3"/>
<line x1="114.1" y1="480" x2="114.1" y2="485" stroke="#000" stroke-width="2.5"/>
<line x1="125.2" y1="480" x2="125.2" y2="485" stroke="#000" stroke-width="2.5"/>
<line x1="133.2" y1="480" x2="133.2" y2="485" stroke="#000" stroke-width="2.5"/>
<line x1="139.3" y1="480" x2="139.3" y2="485" stroke="#000" stroke-width="2.5"/>
<line x1="144.3" y1="480" x2="144.3" y2="485" stroke="#000" stroke-width="2.5"/>
<line x1="148.6" y1="480" x2="148.6" y2="485" stroke="#000" stroke-width="2.5"/>
<line x1="152.3" y1="480" x2="152.3" y2="485" stroke="#000" stroke-width="2.5"/>
<line x1="155.5" y1="480" x2="155.5" y2="485" stroke="#000" stroke-width="2.5"/>
<text x="95.5" y="516.5" font-size="28" font-weight="bold" text-anchor="middle">10<tspan font-size="19" dx="2" dy="-10">1</tspan></text>
<line x1="158.4" y1="480" x2="158.4" y2="489" stroke="#000" stroke-width="3"/>
<line x1="177.5" y1="480" x2="177.5" y2="485" stroke="#000" stroke-width="2.5"/>
<line x1="188.6" y1="480" x2="188.6" y2="485" stroke="#000" stroke-width="2.5"/>
<line x1="196.6" y1="480" x2="196.6" y2="485" stroke="#000" stroke-width="2.5"/>
<line x1="202.7" y1="480" x2="202.7" y2="485" stroke="#000" stroke-width="2.5"/>
<line x1="207.7" y1="480" x2="207.7" y2="485" stroke="#000" stroke-width="2.5"/>
<line x1="212" y1="480" x2="212" y2="485" stroke="#000" stroke-width="2.5"/>
<line x1="215.7" y1="480" x2="215.7" y2="485" stroke="#000" stroke-width="2.5"/>
<line x1="218.9" y1="480" x2="218.9" y2="485" stroke="#000" stroke-width="2.5"/>
<text x="158.9" y="516.5" font-size="28" font-weight="bold" text-anchor="middle">10<tspan font-size="19" dx="2" dy="-10">2</tspan></text>
<line x1="221.8" y1="480" x2="221.8" y2="489" stroke="#000" stroke-width="3"/>
<line x1="240.9" y1="480" x2="240.9" y2="485" stroke="#000" stroke-width="2.5"/>
<line x1="252" y1="480" x2="252" y2="485" stroke="#000" stroke-width="2.5"/>
<line x1="260" y1="480" x2="260" y2="485" stroke="#000" stroke-width="2.5"/>
<line x1="266.1" y1="480" x2="266.1" y2="485" stroke="#000" stroke-width="2.5"/>
<line x1="271.1" y1="480" x2="271.1" y2="485" stroke="#000" stroke-width="2.5"/>
<line x1="275.4" y1="480" x2="275.4" y2="485" stroke="#000" stroke-width="2.5"/>
<line x1="279.1" y1="480" x2="279.1" y2="485" stroke="#000" stroke-width="2.5"/>
<line x1="282.3" y1="480" x2="282.3" y2="485" stroke="#000" stroke-width="2.5"/>
<text x="222.3" y="516.5" font-size="28" font-weight="bold" text-anchor="middle">10<tspan font-size="19" dx="2" dy="-10">3</tspan></text>
<line x1="285.2" y1="480" x2="285.2" y2="489" stroke="#000" stroke-width="3"/>
<line x1="304.3" y1="480" x2="304.3" y2="485" stroke="#000" stroke-width="2.5"/>
<line x1="315.4" y1="480" x2="315.4" y2="485" stroke="#000" stroke-width="2.5"/>
<line x1="323.4" y1="480" x2="323.4" y2="485" stroke="#000" stroke-width="2.5"/>
<line x1="329.5" y1="480" x2="329.5" y2="485" stroke="#000" stroke-width="2.5"/>
<line x1="334.5" y1="480" x2="334.5" y2="485" stroke="#000" stroke-width="2.5"/>
<line x1="338.8" y1="480" x2="338.8" y2="485" stroke="#000" stroke-width="2.5"/>
<line x1="342.5" y1="480" x2="342.5" y2="485" stroke="#000" stroke-width="2.5"/>
<line x1="345.7" y1="480" x2="345.7" y2="485" stroke="#000" stroke-width="2.5"/>
<text x="285.7" y="516.5" font-size="28" font-weight="bold" text-anchor="middle">10<tspan font-size="19" dx="2" dy="-10">4</tspan></text>
<line x1="348.6" y1="480" x2="348.6" y2="489" stroke="#000" stroke-width="3"/>
<line x1="367.7" y1="480" x2="367.7" y2="485" stroke="#000" stroke-width="2.5"/>
<line x1="378.8" y1="480" x2="378.8" y2="485" stroke="#000" stroke-width="2.5"/>
<line x1="386.8" y1="480" x2="386.8" y2="485" stroke="#000" stroke-width="2.5"/>
<line x1="392.9" y1="480" x2="392.9" y2="485" stroke="#000" stroke-width="2.5"/>
<line x1="397.9" y1="480" x2="397.9" y2="485" stroke="#000" stroke-width="2.5"/>
<line x1="402.2" y1="480" x2="402.2" y2="485" stroke="#000" stroke-width="2.5"/>
<line x1="405.9" y1="480" x2="405.9" y2="485" stroke="#000" stroke-width="2.5"/>
<line x1="409.1" y1="480" x2="409.1" y2="485" stroke="#000" stroke-width="2.5"/>
<text x="349.1" y="516.5" font-size="28" font-weight="bold" text-anchor="middle">10<tspan font-size="19" dx="2" dy="-10">5</tspan></text>
<line x1="412" y1="480" x2="412" y2="489" stroke="#000" stroke-width="3"/>
<text x="412.5" y="516.5" font-size="28" font-weight="bold" text-anchor="middle">10<tspan font-size="19" dx="2" dy="-10">6</tspan></text>
<text transform="translate(38 319) rotate(-90)" font-size="33" font-weight="bold" text-anchor="middle">Log<tspan font-size="22" dy="7">2</tspan><tspan dy="-7"> (fold change)</tspan></text>
<text x="254.5" y="564.5" font-size="33.4" font-weight="bold" text-anchor="middle">transcript abundance</text>
<text x="213.5" y="74" font-size="33.8" font-weight="bold" text-anchor="middle">WT miR-155 plasmid</text>
<circle cx="24.7" cy="128.7" r="6.8" fill="#ee3e3e"/>
<text x="47.7" y="136.5" font-size="24.9">p &lt; 0.05 with FDR = 0.01</text>
<text x="288" y="419" font-size="23" font-weight="bold" fill="#1414c8">miR-155</text>
<g fill="#d4d4d4" stroke="#cbcbcb" stroke-width="0.8">
<circle cx="539" cy="225" r="5.6"/>
<circle cx="541" cy="260" r="5.6"/>
<circle cx="549" cy="262" r="5.6"/>
<circle cx="566" cy="268" r="5.6"/>
<circle cx="558" cy="263" r="5.6"/>
<circle cx="553.6" cy="344.2" r="5.6"/>
<circle cx="551.3" cy="321.7" r="5.6"/>
<circle cx="559.8" cy="346" r="5.6"/>
<circle cx="573.9" cy="337.3" r="5.6"/>
<circle cx="551.6" cy="343.4" r="5.6"/>
<circle cx="549.6" cy="306.1" r="5.6"/>
<circle cx="564.6" cy="332.6" r="5.6"/>
<circle cx="561.8" cy="295" r="5.6"/>
<circle cx="550" cy="331.1" r="5.6"/>
<circle cx="542.2" cy="282.6" r="5.6"/>
<circle cx="548.2" cy="352.3" r="5.6"/>
<circle cx="550.2" cy="311.5" r="5.6"/>
<circle cx="549.3" cy="348.6" r="5.6"/>
<circle cx="547.6" cy="324.4" r="5.6"/>
<circle cx="564.2" cy="334.2" r="5.6"/>
<circle cx="558.2" cy="358.9" r="5.6"/>
<circle cx="573" cy="338.4" r="5.6"/>
<circle cx="540.1" cy="299.4" r="5.6"/>
<circle cx="568" cy="367.2" r="5.6"/>
<circle cx="567.8" cy="357.6" r="5.6"/>
<circle cx="574.6" cy="335.8" r="5.6"/>
<circle cx="574.1" cy="306.7" r="5.6"/>
<circle cx="540.8" cy="311.8" r="5.6"/>
<circle cx="572.5" cy="339.7" r="5.6"/>
<circle cx="541.8" cy="313.8" r="5.6"/>
<circle cx="558.1" cy="334.2" r="5.6"/>
<circle cx="553.6" cy="349.7" r="5.6"/>
<circle cx="550.7" cy="369.7" r="5.6"/>
<circle cx="571.1" cy="336.1" r="5.6"/>
<circle cx="563.6" cy="356.5" r="5.6"/>
<circle cx="546.8" cy="314.1" r="5.6"/>
<circle cx="566.6" cy="336.4" r="5.6"/>
<circle cx="568.6" cy="316.1" r="5.6"/>
<circle cx="550.3" cy="352.4" r="5.6"/>
<circle cx="547.2" cy="332.2" r="5.6"/>
<circle cx="558.8" cy="318.1" r="5.6"/>
<circle cx="558.8" cy="326.1" r="5.6"/>
<circle cx="564.6" cy="296.2" r="5.6"/>
<circle cx="567.1" cy="331" r="5.6"/>
<circle cx="545.5" cy="322.4" r="5.6"/>
<circle cx="554.6" cy="303" r="5.6"/>
<circle cx="563.9" cy="339.9" r="5.6"/>
<circle cx="557.9" cy="335.1" r="5.6"/>
<circle cx="549" cy="329.7" r="5.6"/>
<circle cx="570.4" cy="350.6" r="5.6"/>
<circle cx="566.7" cy="346" r="5.6"/>
<circle cx="548.8" cy="312.1" r="5.6"/>
<circle cx="549.2" cy="347.2" r="5.6"/>
<circle cx="552.3" cy="343.6" r="5.6"/>
<circle cx="555.7" cy="319.9" r="5.6"/>
<circle cx="548.3" cy="292" r="5.6"/>
<circle cx="547.8" cy="350.2" r="5.6"/>
<circle cx="542.1" cy="307.4" r="5.6"/>
<circle cx="558.9" cy="347.2" r="5.6"/>
<circle cx="547.6" cy="336" r="5.6"/>
<circle cx="574.4" cy="312.6" r="5.6"/>
<circle cx="567.9" cy="310.4" r="5.6"/>
<circle cx="543.4" cy="326.5" r="5.6"/>
<circle cx="565.3" cy="334.7" r="5.6"/>
<circle cx="548.8" cy="330.1" r="5.6"/>
<circle cx="562.2" cy="338.6" r="5.6"/>
<circle cx="571.7" cy="286.2" r="5.6"/>
<circle cx="560.6" cy="323.3" r="5.6"/>
<circle cx="555.3" cy="346" r="5.6"/>
<circle cx="566.5" cy="354.1" r="5.6"/>
<circle cx="559.9" cy="300.6" r="5.6"/>
<circle cx="541.4" cy="334" r="5.6"/>
<circle cx="553.8" cy="327" r="5.6"/>
<circle cx="557.7" cy="346.9" r="5.6"/>
<circle cx="551.4" cy="352.5" r="5.6"/>
<circle cx="572.2" cy="341.5" r="5.6"/>
<circle cx="574.3" cy="336.7" r="5.6"/>
<circle cx="552.1" cy="364.1" r="5.6"/>
<circle cx="539.5" cy="337.1" r="5.6"/>
<circle cx="566.1" cy="316.4" r="5.6"/>
<circle cx="553.1" cy="295.8" r="5.6"/>
<circle cx="553.8" cy="353.4" r="5.6"/>
<circle cx="553.3" cy="306.1" r="5.6"/>
<circle cx="562.8" cy="309.3" r="5.6"/>
<circle cx="568.4" cy="360.6" r="5.6"/>
<circle cx="557.8" cy="333.3" r="5.6"/>
<circle cx="560.5" cy="380.5" r="5.6"/>
<circle cx="562.5" cy="302.4" r="5.6"/>
<circle cx="569.1" cy="317.9" r="5.6"/>
<circle cx="540.1" cy="298.6" r="5.6"/>
<circle cx="574.1" cy="355.4" r="5.6"/>
<circle cx="562.7" cy="299.5" r="5.6"/>
<circle cx="560.3" cy="311.2" r="5.6"/>
<circle cx="557" cy="311.8" r="5.6"/>
<circle cx="540.5" cy="309.3" r="5.6"/>
<circle cx="561.7" cy="326.6" r="5.6"/>
<circle cx="565.8" cy="338.2" r="5.6"/>
<circle cx="545.3" cy="348.5" r="5.6"/>
<circle cx="547.9" cy="318.2" r="5.6"/>
<circle cx="558.2" cy="335.3" r="5.6"/>
<circle cx="573.6" cy="320.1" r="5.6"/>
<circle cx="559.1" cy="333.5" r="5.6"/>
<circle cx="563.5" cy="364.6" r="5.6"/>
<circle cx="542.2" cy="379.9" r="5.6"/>
<circle cx="542.1" cy="325.3" r="5.6"/>
<circle cx="541" cy="359.1" r="5.6"/>
<circle cx="573.4" cy="338.5" r="5.6"/>
<circle cx="548.1" cy="361.9" r="5.6"/>
<circle cx="561.9" cy="334.6" r="5.6"/>
<circle cx="565.2" cy="319.5" r="5.6"/>
<circle cx="568.3" cy="296.8" r="5.6"/>
<circle cx="540.3" cy="319.7" r="5.6"/>
<circle cx="574.1" cy="319.9" r="5.6"/>
<circle cx="566.1" cy="338.3" r="5.6"/>
<circle cx="567.5" cy="318.1" r="5.6"/>
<circle cx="567.5" cy="327" r="5.6"/>
<circle cx="557" cy="348.2" r="5.6"/>
<circle cx="569.6" cy="297.6" r="5.6"/>
<circle cx="562.8" cy="355.2" r="5.6"/>
<circle cx="545.7" cy="363.8" r="5.6"/>
<circle cx="543.3" cy="315.1" r="5.6"/>
<circle cx="574.1" cy="332.8" r="5.6"/>
<circle cx="556.8" cy="348.9" r="5.6"/>
<circle cx="557.9" cy="359.7" r="5.6"/>
<circle cx="567.6" cy="336.3" r="5.6"/>
<circle cx="560.2" cy="360.5" r="5.6"/>
<circle cx="573.2" cy="332.9" r="5.6"/>
<circle cx="556.8" cy="306.2" r="5.6"/>
<circle cx="556.5" cy="372.2" r="5.6"/>
<circle cx="541.7" cy="309.3" r="5.6"/>
<circle cx="570.8" cy="309.4" r="5.6"/>
<circle cx="558.4" cy="290.8" r="5.6"/>
<circle cx="559.9" cy="373.1" r="5.6"/>
<circle cx="565.2" cy="314.6" r="5.6"/>
<circle cx="561.6" cy="341.9" r="5.6"/>
<circle cx="540" cy="341.2" r="5.6"/>
<circle cx="565.3" cy="344" r="5.6"/>
<circle cx="550.5" cy="303.9" r="5.6"/>
<circle cx="555.8" cy="341.4" r="5.6"/>
<circle cx="562.7" cy="336.5" r="5.6"/>
<circle cx="544.4" cy="376.3" r="5.6"/>
<circle cx="538.9" cy="365.8" r="5.6"/>
<circle cx="563.6" cy="321.6" r="5.6"/>
<circle cx="566.6" cy="363.2" r="5.6"/>
<circle cx="573" cy="361.5" r="5.6"/>
<circle cx="543.3" cy="321" r="5.6"/>
<circle cx="557.3" cy="363.2" r="5.6"/>
<circle cx="561" cy="362" r="5.6"/>
<circle cx="552.8" cy="349.3" r="5.6"/>
<circle cx="552.9" cy="302.3" r="5.6"/>
<circle cx="538.4" cy="310.3" r="5.6"/>
<circle cx="541" cy="321.4" r="5.6"/>
<circle cx="572.3" cy="355.2" r="5.6"/>
<circle cx="569.3" cy="296.7" r="5.6"/>
<circle cx="560.6" cy="342.3" r="5.6"/>
<circle cx="589.9" cy="328.7" r="5.6"/>
<circle cx="578.3" cy="336.8" r="5.6"/>
<circle cx="584" cy="361.7" r="5.6"/>
<circle cx="599.1" cy="364.5" r="5.6"/>
<circle cx="580.2" cy="343.5" r="5.6"/>
<circle cx="600.6" cy="318" r="5.6"/>
<circle cx="595.6" cy="318.8" r="5.6"/>
<circle cx="588.1" cy="327.6" r="5.6"/>
<circle cx="579.1" cy="287.6" r="5.6"/>
<circle cx="579.1" cy="335.9" r="5.6"/>
<circle cx="587.4" cy="313.2" r="5.6"/>
<circle cx="586.6" cy="336.7" r="5.6"/>
<circle cx="591" cy="338.2" r="5.6"/>
<circle cx="604.8" cy="351.5" r="5.6"/>
<circle cx="601.1" cy="313.8" r="5.6"/>
<circle cx="602" cy="345.1" r="5.6"/>
<circle cx="604.5" cy="338.7" r="5.6"/>
<circle cx="597.4" cy="302.4" r="5.6"/>
<circle cx="600.4" cy="355.8" r="5.6"/>
<circle cx="590.4" cy="328" r="5.6"/>
<circle cx="598" cy="289.9" r="5.6"/>
<circle cx="605.7" cy="309.5" r="5.6"/>
<circle cx="609.6" cy="337.9" r="5.6"/>
<circle cx="603.2" cy="313.5" r="5.6"/>
<circle cx="581" cy="325" r="5.6"/>
<circle cx="602.7" cy="293.8" r="5.6"/>
<circle cx="588.5" cy="297.6" r="5.6"/>
<circle cx="608.7" cy="325" r="5.6"/>
<circle cx="604.1" cy="300" r="5.6"/>
<circle cx="597.3" cy="301.3" r="5.6"/>
<circle cx="578" cy="295.9" r="5.6"/>
<circle cx="606.9" cy="305" r="5.6"/>
<circle cx="582.4" cy="311.1" r="5.6"/>
<circle cx="588" cy="312.8" r="5.6"/>
<circle cx="589.4" cy="314.8" r="5.6"/>
<circle cx="597" cy="320.7" r="5.6"/>
<circle cx="584.5" cy="318.9" r="5.6"/>
<circle cx="578.3" cy="291.9" r="5.6"/>
<circle cx="583.7" cy="289.7" r="5.6"/>
<circle cx="604.8" cy="324.1" r="5.6"/>
<circle cx="592.8" cy="316.8" r="5.6"/>
<circle cx="576.6" cy="308.9" r="5.6"/>
<circle cx="592.7" cy="343.4" r="5.6"/>
<circle cx="575" cy="310.7" r="5.6"/>
<circle cx="595.3" cy="313.8" r="5.6"/>
<circle cx="608.5" cy="332.2" r="5.6"/>
<circle cx="604.2" cy="351.5" r="5.6"/>
<circle cx="592.1" cy="317.9" r="5.6"/>
<circle cx="604.5" cy="323.7" r="5.6"/>
<circle cx="609.1" cy="320.2" r="5.6"/>
<circle cx="602.5" cy="300" r="5.6"/>
<circle cx="606.7" cy="319.8" r="5.6"/>
<circle cx="588.9" cy="334.3" r="5.6"/>
<circle cx="606.6" cy="293.5" r="5.6"/>
<circle cx="592.9" cy="307.9" r="5.6"/>
<circle cx="578.9" cy="308.3" r="5.6"/>
<circle cx="576.8" cy="308.2" r="5.6"/>
<circle cx="578.3" cy="353.4" r="5.6"/>
<circle cx="576.1" cy="322.3" r="5.6"/>
<circle cx="600.5" cy="314.7" r="5.6"/>
<circle cx="607.6" cy="298.2" r="5.6"/>
<circle cx="586.9" cy="350.5" r="5.6"/>
<circle cx="580.5" cy="350.6" r="5.6"/>
<circle cx="608.5" cy="328.6" r="5.6"/>
<circle cx="600.5" cy="289.3" r="5.6"/>
<circle cx="593.8" cy="299.4" r="5.6"/>
<circle cx="587.5" cy="339.2" r="5.6"/>
<circle cx="595.3" cy="334.8" r="5.6"/>
<circle cx="581.6" cy="347.3" r="5.6"/>
<circle cx="603.5" cy="322.7" r="5.6"/>
<circle cx="577.6" cy="327.4" r="5.6"/>
<circle cx="608.2" cy="333.1" r="5.6"/>
<circle cx="601.5" cy="358.1" r="5.6"/>
<circle cx="598.8" cy="331.7" r="5.6"/>
<circle cx="575.6" cy="324.1" r="5.6"/>
<circle cx="605.9" cy="315.3" r="5.6"/>
<circle cx="580.8" cy="313.9" r="5.6"/>
<circle cx="602.4" cy="305.7" r="5.6"/>
<circle cx="594.5" cy="311.1" r="5.6"/>
<circle cx="587" cy="323.4" r="5.6"/>
<circle cx="583.7" cy="318.5" r="5.6"/>
<circle cx="608" cy="299.6" r="5.6"/>
<circle cx="584.5" cy="314.5" r="5.6"/>
<circle cx="603.7" cy="318.7" r="5.6"/>
<circle cx="590.1" cy="326.2" r="5.6"/>
<circle cx="596.1" cy="314.2" r="5.6"/>
<circle cx="589.1" cy="339.3" r="5.6"/>
<circle cx="589.3" cy="330.1" r="5.6"/>
<circle cx="575.5" cy="315" r="5.6"/>
<circle cx="578.2" cy="315.4" r="5.6"/>
<circle cx="585.4" cy="307.7" r="5.6"/>
<circle cx="590.2" cy="354.3" r="5.6"/>
<circle cx="588.6" cy="343.5" r="5.6"/>
<circle cx="603.4" cy="311.2" r="5.6"/>
<circle cx="599.5" cy="342.5" r="5.6"/>
<circle cx="580.3" cy="311.8" r="5.6"/>
<circle cx="583.1" cy="317.2" r="5.6"/>
<circle cx="580" cy="296" r="5.6"/>
<circle cx="599.7" cy="310.2" r="5.6"/>
<circle cx="608.3" cy="355" r="5.6"/>
<circle cx="603.2" cy="311.2" r="5.6"/>
<circle cx="584.6" cy="291.1" r="5.6"/>
<circle cx="597.3" cy="321" r="5.6"/>
<circle cx="601.2" cy="302.1" r="5.6"/>
<circle cx="579" cy="326.7" r="5.6"/>
<circle cx="592.2" cy="349" r="5.6"/>
<circle cx="598.3" cy="337.1" r="5.6"/>
<circle cx="577.8" cy="335.8" r="5.6"/>
<circle cx="598.9" cy="330.8" r="5.6"/>
<circle cx="601.5" cy="322.6" r="5.6"/>
<circle cx="664.4" cy="333.9" r="5.6"/>
<circle cx="651" cy="337.6" r="5.6"/>
<circle cx="626.8" cy="316.6" r="5.6"/>
<circle cx="659.4" cy="329.8" r="5.6"/>
<circle cx="637.4" cy="337" r="5.6"/>
<circle cx="639.9" cy="317.7" r="5.6"/>
<circle cx="640" cy="325.6" r="5.6"/>
<circle cx="650.7" cy="317.4" r="5.6"/>
<circle cx="651.3" cy="321.3" r="5.6"/>
<circle cx="679.3" cy="329.6" r="5.6"/>
<circle cx="650.1" cy="317.9" r="5.6"/>
<circle cx="664.3" cy="310.2" r="5.6"/>
<circle cx="627.7" cy="300.5" r="5.6"/>
<circle cx="638.7" cy="318" r="5.6"/>
<circle cx="626.1" cy="314.3" r="5.6"/>
<circle cx="633.2" cy="316.1" r="5.6"/>
<circle cx="671.1" cy="299.8" r="5.6"/>
<circle cx="645.8" cy="334.6" r="5.6"/>
<circle cx="639.2" cy="337.6" r="5.6"/>
<circle cx="676" cy="319.1" r="5.6"/>
<circle cx="625.6" cy="326.4" r="5.6"/>
<circle cx="682" cy="322.2" r="5.6"/>
<circle cx="659.6" cy="327.8" r="5.6"/>
<circle cx="652.8" cy="313.5" r="5.6"/>
<circle cx="672.7" cy="308.7" r="5.6"/>
<circle cx="617" cy="305.5" r="5.6"/>
<circle cx="613.5" cy="317.6" r="5.6"/>
<circle cx="611.4" cy="316" r="5.6"/>
<circle cx="628.5" cy="319" r="5.6"/>
<circle cx="614.4" cy="343.7" r="5.6"/>
<circle cx="629" cy="327.9" r="5.6"/>
<circle cx="629.9" cy="317.3" r="5.6"/>
<circle cx="632" cy="310" r="5.6"/>
<circle cx="628.4" cy="340.1" r="5.6"/>
<circle cx="636.5" cy="329.8" r="5.6"/>
<circle cx="678.1" cy="327.2" r="5.6"/>
<circle cx="646.2" cy="322.2" r="5.6"/>
<circle cx="641.6" cy="325" r="5.6"/>
<circle cx="679.2" cy="311.1" r="5.6"/>
<circle cx="623.8" cy="302.7" r="5.6"/>
<circle cx="615.9" cy="315.6" r="5.6"/>
<circle cx="682.4" cy="331.9" r="5.6"/>
<circle cx="636.4" cy="315.6" r="5.6"/>
<circle cx="628.6" cy="305.1" r="5.6"/>
<circle cx="684.3" cy="311.3" r="5.6"/>
<circle cx="628.6" cy="317.2" r="5.6"/>
<circle cx="650.8" cy="326.5" r="5.6"/>
<circle cx="621.5" cy="319.8" r="5.6"/>
<circle cx="684.1" cy="338.9" r="5.6"/>
<circle cx="679.2" cy="321.9" r="5.6"/>
<circle cx="647.6" cy="321.2" r="5.6"/>
<circle cx="678.4" cy="318.9" r="5.6"/>
<circle cx="615.5" cy="320.6" r="5.6"/>
<circle cx="638.5" cy="330.6" r="5.6"/>
<circle cx="667.8" cy="314.8" r="5.6"/>
<circle cx="648.6" cy="319.1" r="5.6"/>
<circle cx="632.1" cy="335" r="5.6"/>
<circle cx="654.1" cy="332.7" r="5.6"/>
<circle cx="624.3" cy="328.4" r="5.6"/>
<circle cx="622" cy="329.4" r="5.6"/>
<circle cx="677.6" cy="331.7" r="5.6"/>
<circle cx="660.9" cy="325.1" r="5.6"/>
<circle cx="652.9" cy="330" r="5.6"/>
<circle cx="650.1" cy="318.5" r="5.6"/>
<circle cx="617.7" cy="315.6" r="5.6"/>
<circle cx="626.9" cy="319.3" r="5.6"/>
<circle cx="652.4" cy="330.1" r="5.6"/>
<circle cx="614" cy="306.5" r="5.6"/>
<circle cx="636.6" cy="329.4" r="5.6"/>
<circle cx="611.1" cy="321.2" r="5.6"/>
<circle cx="669.3" cy="342" r="5.6"/>
<circle cx="656.1" cy="306.2" r="5.6"/>
<circle cx="644.9" cy="337.4" r="5.6"/>
<circle cx="680.1" cy="302.6" r="5.6"/>
<circle cx="662.1" cy="317" r="5.6"/>
<circle cx="650.7" cy="319.5" r="5.6"/>
<circle cx="682.8" cy="313.7" r="5.6"/>
<circle cx="622.9" cy="308.1" r="5.6"/>
<circle cx="661.2" cy="304.3" r="5.6"/>
<circle cx="674.6" cy="326.6" r="5.6"/>
<circle cx="668.8" cy="333" r="5.6"/>
<circle cx="659.7" cy="323.8" r="5.6"/>
<circle cx="636.5" cy="309.7" r="5.6"/>
<circle cx="651.1" cy="315.5" r="5.6"/>
<circle cx="616.8" cy="303.7" r="5.6"/>
<circle cx="622.5" cy="332.4" r="5.6"/>
<circle cx="652.8" cy="323.6" r="5.6"/>
<circle cx="616" cy="334.3" r="5.6"/>
<circle cx="621.8" cy="321.8" r="5.6"/>
<circle cx="666.5" cy="311.2" r="5.6"/>
<circle cx="640.8" cy="330.8" r="5.6"/>
<circle cx="621.7" cy="329.2" r="5.6"/>
<circle cx="624.2" cy="321.1" r="5.6"/>
<circle cx="659.9" cy="320.4" r="5.6"/>
<circle cx="615" cy="319.7" r="5.6"/>
<circle cx="645.3" cy="332.2" r="5.6"/>
<circle cx="641.6" cy="313.3" r="5.6"/>
<circle cx="659.4" cy="318" r="5.6"/>
<circle cx="610.4" cy="311.5" r="5.6"/>
<circle cx="657.9" cy="314" r="5.6"/>
<circle cx="648" cy="329" r="5.6"/>
<circle cx="631" cy="321.9" r="5.6"/>
<circle cx="629.2" cy="320.9" r="5.6"/>
<circle cx="652.4" cy="320" r="5.6"/>
<circle cx="620.1" cy="318.2" r="5.6"/>
<circle cx="646.5" cy="319.9" r="5.6"/>
<circle cx="662.4" cy="305.1" r="5.6"/>
<circle cx="665.9" cy="319.2" r="5.6"/>
<circle cx="612.7" cy="316.6" r="5.6"/>
<circle cx="612.5" cy="321.3" r="5.6"/>
<circle cx="669.4" cy="326.5" r="5.6"/>
<circle cx="675.2" cy="320.8" r="5.6"/>
<circle cx="656" cy="337.5" r="5.6"/>
<circle cx="673" cy="324.8" r="5.6"/>
<circle cx="612.5" cy="320" r="5.6"/>
<circle cx="651.4" cy="321.2" r="5.6"/>
<circle cx="612" cy="333.9" r="5.6"/>
<circle cx="656.8" cy="331.1" r="5.6"/>
<circle cx="647.8" cy="330.1" r="5.6"/>
<circle cx="621.9" cy="332.8" r="5.6"/>
<circle cx="636.6" cy="313.9" r="5.6"/>
<circle cx="633.5" cy="317.8" r="5.6"/>
<circle cx="669.8" cy="337.9" r="5.6"/>
<circle cx="642.5" cy="325.7" r="5.6"/>
<circle cx="630.6" cy="325.5" r="5.6"/>
<circle cx="617.9" cy="321.7" r="5.6"/>
<circle cx="611.1" cy="327.1" r="5.6"/>
<circle cx="686.8" cy="329.8" r="5.6"/>
<circle cx="653.7" cy="321" r="5.6"/>
<circle cx="611.6" cy="334.8" r="5.6"/>
<circle cx="674" cy="312.7" r="5.6"/>
<circle cx="618.2" cy="326.8" r="5.6"/>
<circle cx="675.3" cy="315.7" r="5.6"/>
<circle cx="687.5" cy="317.7" r="5.6"/>
<circle cx="652.3" cy="315.7" r="5.6"/>
<circle cx="615.7" cy="313.2" r="5.6"/>
<circle cx="613.1" cy="328.2" r="5.6"/>
<circle cx="622.8" cy="328.9" r="5.6"/>
<circle cx="638.9" cy="316.1" r="5.6"/>
<circle cx="681.6" cy="324.1" r="5.6"/>
<circle cx="660.2" cy="328.9" r="5.6"/>
<circle cx="631.8" cy="314.9" r="5.6"/>
<circle cx="674.1" cy="332.4" r="5.6"/>
<circle cx="610.2" cy="339.1" r="5.6"/>
<circle cx="620.1" cy="308" r="5.6"/>
<circle cx="620.4" cy="313.5" r="5.6"/>
<circle cx="665.6" cy="322.1" r="5.6"/>
<circle cx="665" cy="341.1" r="5.6"/>
<circle cx="666.5" cy="311.3" r="5.6"/>
<circle cx="633.6" cy="325.6" r="5.6"/>
<circle cx="668.2" cy="309.2" r="5.6"/>
<circle cx="643.7" cy="336.5" r="5.6"/>
<circle cx="636.6" cy="324.7" r="5.6"/>
<circle cx="682.3" cy="328.4" r="5.6"/>
<circle cx="656.6" cy="333.4" r="5.6"/>
<circle cx="641.2" cy="323.6" r="5.6"/>
<circle cx="667.2" cy="320.9" r="5.6"/>
<circle cx="649.1" cy="319.4" r="5.6"/>
<circle cx="635.7" cy="301.2" r="5.6"/>
<circle cx="622.4" cy="309" r="5.6"/>
<circle cx="687.5" cy="329.5" r="5.6"/>
<circle cx="665.1" cy="336" r="5.6"/>
<circle cx="686.6" cy="319.2" r="5.6"/>
<circle cx="610.2" cy="329.3" r="5.6"/>
<circle cx="662.3" cy="344.6" r="5.6"/>
<circle cx="652" cy="320.1" r="5.6"/>
<circle cx="665.8" cy="319.5" r="5.6"/>
<circle cx="610.3" cy="327.6" r="5.6"/>
<circle cx="681" cy="339.4" r="5.6"/>
<circle cx="646.4" cy="319.7" r="5.6"/>
<circle cx="715.8" cy="318.1" r="5.6"/>
<circle cx="714" cy="318.1" r="5.6"/>
<circle cx="693.2" cy="318.7" r="5.6"/>
<circle cx="699.2" cy="331" r="5.6"/>
<circle cx="739.4" cy="338.5" r="5.6"/>
<circle cx="711.8" cy="327.8" r="5.6"/>
<circle cx="738.5" cy="323.7" r="5.6"/>
<circle cx="724.5" cy="339" r="5.6"/>
<circle cx="736.5" cy="322.6" r="5.6"/>
<circle cx="701.8" cy="327.9" r="5.6"/>
<circle cx="727.1" cy="329.6" r="5.6"/>
<circle cx="728.2" cy="316.5" r="5.6"/>
<circle cx="705.6" cy="332.4" r="5.6"/>
<circle cx="690.2" cy="339.3" r="5.6"/>
<circle cx="739.7" cy="332.8" r="5.6"/>
<circle cx="717.6" cy="330.7" r="5.6"/>
<circle cx="703.1" cy="322" r="5.6"/>
<circle cx="691.6" cy="321.3" r="5.6"/>
<circle cx="736.1" cy="329.3" r="5.6"/>
<circle cx="705.4" cy="327.6" r="5.6"/>
<circle cx="724.7" cy="314.4" r="5.6"/>
<circle cx="703.3" cy="344.6" r="5.6"/>
<circle cx="709.3" cy="344.8" r="5.6"/>
<circle cx="697.1" cy="323" r="5.6"/>
<circle cx="707.2" cy="316.8" r="5.6"/>
<circle cx="719.3" cy="317.3" r="5.6"/>
<circle cx="697" cy="327.4" r="5.6"/>
<circle cx="704.4" cy="328.1" r="5.6"/>
<circle cx="691.4" cy="321.7" r="5.6"/>
<circle cx="705.5" cy="329.5" r="5.6"/>
<circle cx="723.1" cy="329" r="5.6"/>
<circle cx="708" cy="325.1" r="5.6"/>
<circle cx="727.8" cy="328.1" r="5.6"/>
<circle cx="698.6" cy="312.9" r="5.6"/>
<circle cx="732.5" cy="333.3" r="5.6"/>
<circle cx="693.6" cy="329.3" r="5.6"/>
<circle cx="696.4" cy="316" r="5.6"/>
<circle cx="714.8" cy="333.2" r="5.6"/>
<circle cx="739.2" cy="333.4" r="5.6"/>
<circle cx="723.7" cy="331.3" r="5.6"/>
<circle cx="691.7" cy="326.4" r="5.6"/>
<circle cx="715.9" cy="332.4" r="5.6"/>
<circle cx="732.1" cy="314.8" r="5.6"/>
<circle cx="704.5" cy="334.1" r="5.6"/>
<circle cx="728.2" cy="328.9" r="5.6"/>
<circle cx="726.9" cy="332.6" r="5.6"/>
<circle cx="716.3" cy="325" r="5.6"/>
<circle cx="700.5" cy="335.3" r="5.6"/>
<circle cx="702.7" cy="322.2" r="5.6"/>
<circle cx="704.8" cy="339.9" r="5.6"/>
<circle cx="694.3" cy="323.8" r="5.6"/>
<circle cx="708.3" cy="320.6" r="5.6"/>
<circle cx="708" cy="322.4" r="5.6"/>
<circle cx="715.9" cy="328.2" r="5.6"/>
<circle cx="693.1" cy="332.9" r="5.6"/>
<circle cx="702.6" cy="326.1" r="5.6"/>
<circle cx="690.6" cy="324.3" r="5.6"/>
<circle cx="707.2" cy="328.6" r="5.6"/>
<circle cx="699.2" cy="313.7" r="5.6"/>
<circle cx="693.8" cy="320.9" r="5.6"/>
<circle cx="796.7" cy="318.6" r="5.6"/>
<circle cx="797.8" cy="310.3" r="5.6"/>
<circle cx="770.3" cy="316" r="5.6"/>
<circle cx="790" cy="322.9" r="5.6"/>
<circle cx="773.4" cy="322.1" r="5.6"/>
<circle cx="751" cy="318.4" r="5.6"/>
<circle cx="780.9" cy="305.7" r="5.6"/>
<circle cx="791.3" cy="318.2" r="5.6"/>
<circle cx="770.8" cy="313.4" r="5.6"/>
<circle cx="789.1" cy="328.4" r="5.6"/>
<circle cx="757.2" cy="321.8" r="5.6"/>
<circle cx="771.6" cy="326.2" r="5.6"/>
<circle cx="755.6" cy="324" r="5.6"/>
<circle cx="777.6" cy="334.8" r="5.6"/>
<circle cx="747.9" cy="325" r="5.6"/>
<circle cx="749.7" cy="315.7" r="5.6"/>
<circle cx="772.6" cy="322.4" r="5.6"/>
<circle cx="767.7" cy="315.7" r="5.6"/>
<circle cx="799.4" cy="327.7" r="5.6"/>
<circle cx="760.4" cy="324.2" r="5.6"/>
<circle cx="795.6" cy="313.4" r="5.6"/>
<circle cx="764" cy="321.2" r="5.6"/>
<circle cx="789.6" cy="329.6" r="5.6"/>
<circle cx="776.5" cy="321.6" r="5.6"/>
<circle cx="748" cy="322.8" r="5.6"/>
<circle cx="751.1" cy="313.2" r="5.6"/>
<circle cx="791.4" cy="316.8" r="5.6"/>
<circle cx="776.6" cy="314.6" r="5.6"/>
<circle cx="792" cy="329.6" r="5.6"/>
<circle cx="777.6" cy="308.6" r="5.6"/>
<circle cx="761.3" cy="313.6" r="5.6"/>
<circle cx="776.8" cy="328.2" r="5.6"/>
<circle cx="770.7" cy="324.5" r="5.6"/>
<circle cx="757.9" cy="314.1" r="5.6"/>
<circle cx="792.1" cy="330" r="5.6"/>
<circle cx="769.2" cy="323.1" r="5.6"/>
<circle cx="742.1" cy="319.8" r="5.6"/>
<circle cx="769" cy="324.3" r="5.6"/>
<circle cx="779" cy="314" r="5.6"/>
<circle cx="764.9" cy="314.6" r="5.6"/>
<circle cx="788.5" cy="312.3" r="5.6"/>
<circle cx="759.6" cy="330.5" r="5.6"/>
<circle cx="749.3" cy="313.9" r="5.6"/>
<circle cx="789.3" cy="308.7" r="5.6"/>
<circle cx="783.4" cy="316.8" r="5.6"/>
<circle cx="790.3" cy="326" r="5.6"/>
<circle cx="773.7" cy="339.2" r="5.6"/>
<circle cx="775.5" cy="331.1" r="5.6"/>
<circle cx="789.7" cy="324.1" r="5.6"/>
<circle cx="764.9" cy="335.8" r="5.6"/>
<circle cx="759.9" cy="333.1" r="5.6"/>
<circle cx="784" cy="317.4" r="5.6"/>
<circle cx="744.8" cy="324.4" r="5.6"/>
<circle cx="750.7" cy="330.1" r="5.6"/>
<circle cx="797.3" cy="313.2" r="5.6"/>
<circle cx="852" cy="317" r="5.6"/>
<circle cx="788" cy="310" r="5.6"/>
<circle cx="798" cy="340" r="5.6"/>
<circle cx="804" cy="330" r="5.6"/>
</g>
<line x1="539.8" y1="322.9" x2="853.8" y2="322.9" stroke="#000" stroke-width="2.2" stroke-dasharray="2.2 4" />
<g fill="#ee3e3e" stroke="#d63030" stroke-width="0.8">
<circle cx="561.9" cy="243.5" r="5.6"/>
<circle cx="559.6" cy="252" r="5.6"/>
<circle cx="565" cy="250.1" r="5.6"/>
<circle cx="570.1" cy="250.8" r="5.6"/>
<circle cx="617.6" cy="285.9" r="5.6"/>
<circle cx="628.3" cy="292.2" r="5.6"/>
<circle cx="640.5" cy="290.1" r="5.6"/>
<circle cx="650.1" cy="288.3" r="5.6"/>
<circle cx="680.9" cy="294.3" r="5.6"/>
<circle cx="684" cy="289.7" r="5.6"/>
<circle cx="741.9" cy="287.8" r="5.6"/>
<circle cx="748.6" cy="292.5" r="5.6"/>
<circle cx="612" cy="357.5" r="5.6"/>
<circle cx="625.7" cy="356.3" r="5.6"/>
<circle cx="631.9" cy="355.5" r="5.6"/>
<circle cx="648.3" cy="353.1" r="5.6"/>
<circle cx="652.9" cy="355.2" r="5.6"/>
<circle cx="655.3" cy="345.4" r="5.6"/>
<circle cx="669.6" cy="346.9" r="5.6"/>
<circle cx="674.7" cy="358.6" r="5.6"/>
<circle cx="714.4" cy="357" r="5.6"/>
<circle cx="745.5" cy="350.8" r="5.6"/>
<circle cx="601.1" cy="406.5" r="5.6"/>
</g>
<circle cx="702.2" cy="337.3" r="5.6" fill="#0000e6"/>
<line x1="536.8" y1="166.2" x2="536.8" y2="479.5" stroke="#000" stroke-width="3"/>
<line x1="527.8" y1="478" x2="855.3" y2="478" stroke="#000" stroke-width="3"/>
<line x1="527.8" y1="167.7" x2="536.8" y2="167.7" stroke="#000" stroke-width="3"/>
<text x="524.8" y="177.2" font-size="27" font-weight="bold" text-anchor="end">2</text>
<line x1="527.8" y1="245.3" x2="536.8" y2="245.3" stroke="#000" stroke-width="3"/>
<text x="524.8" y="254.8" font-size="27" font-weight="bold" text-anchor="end">1</text>
<line x1="527.8" y1="322.9" x2="536.8" y2="322.9" stroke="#000" stroke-width="3"/>
<text x="524.8" y="332.4" font-size="27" font-weight="bold" text-anchor="end">0</text>
<line x1="527.8" y1="400.4" x2="536.8" y2="400.4" stroke="#000" stroke-width="3"/>
<text x="524.8" y="409.9" font-size="27" font-weight="bold" text-anchor="end">-1</text>
<line x1="527.8" y1="478" x2="536.8" y2="478" stroke="#000" stroke-width="3"/>
<text x="524.8" y="487.5" font-size="27" font-weight="bold" text-anchor="end">-2</text>
<line x1="531.8" y1="206.5" x2="536.8" y2="206.5" stroke="#000" stroke-width="3"/>
<line x1="531.8" y1="284.1" x2="536.8" y2="284.1" stroke="#000" stroke-width="3"/>
<line x1="531.8" y1="361.6" x2="536.8" y2="361.6" stroke="#000" stroke-width="3"/>
<line x1="531.8" y1="439.2" x2="536.8" y2="439.2" stroke="#000" stroke-width="3"/>
<line x1="536.8" y1="478" x2="536.8" y2="487" stroke="#000" stroke-width="3"/>
<line x1="555.9" y1="478" x2="555.9" y2="483" stroke="#000" stroke-width="2.5"/>
<line x1="567" y1="478" x2="567" y2="483" stroke="#000" stroke-width="2.5"/>
<line x1="575" y1="478" x2="575" y2="483" stroke="#000" stroke-width="2.5"/>
<line x1="581.1" y1="478" x2="581.1" y2="483" stroke="#000" stroke-width="2.5"/>
<line x1="586.1" y1="478" x2="586.1" y2="483" stroke="#000" stroke-width="2.5"/>
<line x1="590.4" y1="478" x2="590.4" y2="483" stroke="#000" stroke-width="2.5"/>
<line x1="594.1" y1="478" x2="594.1" y2="483" stroke="#000" stroke-width="2.5"/>
<line x1="597.3" y1="478" x2="597.3" y2="483" stroke="#000" stroke-width="2.5"/>
<text x="537.3" y="514.5" font-size="28" font-weight="bold" text-anchor="middle">10<tspan font-size="19" dx="2" dy="-10">1</tspan></text>
<line x1="600.2" y1="478" x2="600.2" y2="487" stroke="#000" stroke-width="3"/>
<line x1="619.3" y1="478" x2="619.3" y2="483" stroke="#000" stroke-width="2.5"/>
<line x1="630.4" y1="478" x2="630.4" y2="483" stroke="#000" stroke-width="2.5"/>
<line x1="638.4" y1="478" x2="638.4" y2="483" stroke="#000" stroke-width="2.5"/>
<line x1="644.5" y1="478" x2="644.5" y2="483" stroke="#000" stroke-width="2.5"/>
<line x1="649.5" y1="478" x2="649.5" y2="483" stroke="#000" stroke-width="2.5"/>
<line x1="653.8" y1="478" x2="653.8" y2="483" stroke="#000" stroke-width="2.5"/>
<line x1="657.5" y1="478" x2="657.5" y2="483" stroke="#000" stroke-width="2.5"/>
<line x1="660.7" y1="478" x2="660.7" y2="483" stroke="#000" stroke-width="2.5"/>
<text x="600.7" y="514.5" font-size="28" font-weight="bold" text-anchor="middle">10<tspan font-size="19" dx="2" dy="-10">2</tspan></text>
<line x1="663.6" y1="478" x2="663.6" y2="487" stroke="#000" stroke-width="3"/>
<line x1="682.7" y1="478" x2="682.7" y2="483" stroke="#000" stroke-width="2.5"/>
<line x1="693.8" y1="478" x2="693.8" y2="483" stroke="#000" stroke-width="2.5"/>
<line x1="701.8" y1="478" x2="701.8" y2="483" stroke="#000" stroke-width="2.5"/>
<line x1="707.9" y1="478" x2="707.9" y2="483" stroke="#000" stroke-width="2.5"/>
<line x1="712.9" y1="478" x2="712.9" y2="483" stroke="#000" stroke-width="2.5"/>
<line x1="717.2" y1="478" x2="717.2" y2="483" stroke="#000" stroke-width="2.5"/>
<line x1="720.9" y1="478" x2="720.9" y2="483" stroke="#000" stroke-width="2.5"/>
<line x1="724.1" y1="478" x2="724.1" y2="483" stroke="#000" stroke-width="2.5"/>
<text x="664.1" y="514.5" font-size="28" font-weight="bold" text-anchor="middle">10<tspan font-size="19" dx="2" dy="-10">3</tspan></text>
<line x1="727" y1="478" x2="727" y2="487" stroke="#000" stroke-width="3"/>
<line x1="746.1" y1="478" x2="746.1" y2="483" stroke="#000" stroke-width="2.5"/>
<line x1="757.2" y1="478" x2="757.2" y2="483" stroke="#000" stroke-width="2.5"/>
<line x1="765.2" y1="478" x2="765.2" y2="483" stroke="#000" stroke-width="2.5"/>
<line x1="771.3" y1="478" x2="771.3" y2="483" stroke="#000" stroke-width="2.5"/>
<line x1="776.3" y1="478" x2="776.3" y2="483" stroke="#000" stroke-width="2.5"/>
<line x1="780.6" y1="478" x2="780.6" y2="483" stroke="#000" stroke-width="2.5"/>
<line x1="784.3" y1="478" x2="784.3" y2="483" stroke="#000" stroke-width="2.5"/>
<line x1="787.5" y1="478" x2="787.5" y2="483" stroke="#000" stroke-width="2.5"/>
<text x="727.5" y="514.5" font-size="28" font-weight="bold" text-anchor="middle">10<tspan font-size="19" dx="2" dy="-10">4</tspan></text>
<line x1="790.4" y1="478" x2="790.4" y2="487" stroke="#000" stroke-width="3"/>
<line x1="809.5" y1="478" x2="809.5" y2="483" stroke="#000" stroke-width="2.5"/>
<line x1="820.6" y1="478" x2="820.6" y2="483" stroke="#000" stroke-width="2.5"/>
<line x1="828.6" y1="478" x2="828.6" y2="483" stroke="#000" stroke-width="2.5"/>
<line x1="834.7" y1="478" x2="834.7" y2="483" stroke="#000" stroke-width="2.5"/>
<line x1="839.7" y1="478" x2="839.7" y2="483" stroke="#000" stroke-width="2.5"/>
<line x1="844" y1="478" x2="844" y2="483" stroke="#000" stroke-width="2.5"/>
<line x1="847.7" y1="478" x2="847.7" y2="483" stroke="#000" stroke-width="2.5"/>
<line x1="850.9" y1="478" x2="850.9" y2="483" stroke="#000" stroke-width="2.5"/>
<text x="790.9" y="514.5" font-size="28" font-weight="bold" text-anchor="middle">10<tspan font-size="19" dx="2" dy="-10">5</tspan></text>
<line x1="853.8" y1="478" x2="853.8" y2="487" stroke="#000" stroke-width="3"/>
<text x="854.3" y="514.5" font-size="28" font-weight="bold" text-anchor="middle">10<tspan font-size="19" dx="2" dy="-10">6</tspan></text>
<text transform="translate(479.8 316.9) rotate(-90)" font-size="33" font-weight="bold" text-anchor="middle">Log<tspan font-size="22" dy="7">2</tspan><tspan dy="-7"> (fold change)</tspan></text>
<text x="696.3" y="562.5" font-size="33.4" font-weight="bold" text-anchor="middle">transcript abundance</text>
<text x="673.5" y="46.5" font-size="33.8" font-weight="bold" text-anchor="middle">binding-site mutant</text>
<text x="673.5" y="84.5" font-size="33.8" font-weight="bold" text-anchor="middle">miR-155 plasmid</text>
<circle cx="466" cy="127.5" r="6.8" fill="#ee3e3e"/>
<text x="489" y="135.3" font-size="24.9">p &lt; 0.05 with FDR = 0.01</text>
<text x="666" y="426.3" font-size="23" font-weight="bold" fill="#1414c8">miR-155</text>
<line x1="702.2" y1="344" x2="702.2" y2="401" stroke="#1414c8" stroke-width="1.8"/>
<text x="1030.5" y="48.8" font-size="30.4" text-anchor="middle">vehicle</text>
<rect x="912.6" y="59.6" width="259.8" height="195.2" fill="#f6f0b8"/>
<g clip-path="url(#mcc1)" fill="none" stroke-linecap="round">
<path d="M974 166l-1 2M1066 118l-2 1M938 86l-2 0M1075 118l0 1M1170 191l-3 1M967 222l0 1M1134 253l-1 1M924 200l-3 1M1044 255l2 0M921 98l0 1M924 229l-3 0M1074 243l0 2M1048 167l1 2M928 182l-1 1M1096 204l2 0M1067 122l1 1M1067 118l0 0M1060 203l2 2M1094 79l1 2M1027 227l1 2M1142 148l2 1M1079 217l1 0M1119 113l0 1M1019 239l3 0M1141 252l-3 0M1085 161l1 1M930 175l-1 0M1146 235l2 0M1072 126l-2 1M1116 128l0 3M1122 220l-1 2M926 113l0 2M1035 211l1 0M995 121l-1 2M1006 97l2 1M1099 134l1 1M1070 212l-2 1M1093 74l1 3M945 218l-2 1M939 174l2 1M924 78l-1 0M919 224l-2 1M1130 246l0 0M1128 107l1 1M1108 136l0 1M1021 76l-2 0M1109 191l0 2M1146 89l-2 2M961 112l0 1M989 197l-2 1M982 102l0 1M1129 220l0 2M1162 151l2 2M975 97l2 1M1136 235l-1 1M1023 202l2 1M1088 61l0 2M1014 166l1 2M938 243l-2 2M1162 191l2 1M1032 121l2 0M1006 111l-1 0M1005 125l0 2M1004 225l0 1M1066 88l1 1M1060 99l0 0M990 227l-1 2M963 163l0 2M1075 69l1 0M1053 241l-2 1M948 227l-2 1M1155 228l-1 1M941 68l1 1M1068 103l2 2M950 149l1 1M1017 92l1 0M1040 71l0 1M1095 70l0 1M1163 102l0 1M1074 127l2 0M984 213l-1 0M1076 127l-2 2M1066 60l1 0M1157 66l-1 3M1089 241l-2 2M1007 141l-1 1M1070 198l0 1M1097 64l-2 2M999 132l1 3M940 171l2 1M975 69l-1 2M970 169l-2 1M1117 164l1 0M1127 82l-1 0M970 222l-1 2M1067 219l0 2M1102 75l0 1M1081 178l1 3M1000 144l1 1M1147 245l-1 1M1172 239l-1 0M938 201l0 2M923 205l0 1M1105 205l1 0M1019 75l-2 2M1009 91l0 2M1122 118l0 0M956 69l-1 1M922 96l0 1M926 166l1 1M1121 141l2 0M1123 108l-2 2M985 93l-1 2M1154 218l0 2M1170 166l1 1M1155 179l0 2M1162 185l-1 0M1012 221l2 2M986 85l-1 0M972 99l0 2M982 166l2 2M950 236l-2 0M1081 87l-1 1M925 247l0 1M1014 252l1 0M1172 251l1 3M1116 171l0 2M1051 222l-1 3M1131 92l1 0M1049 209l0 2M951 177l0 1M986 248l0 2M1140 252l0 2M1012 251l1 1M1097 130l0 1M1064 88l1 2M949 76l0 0M944 231l0 3M1068 76l0 0M1129 95l1 2M1092 76l-2 2M930 61l1 3M1064 232l0 1M1049 172l1 1M1135 165l-2 0M1050 99l-1 0M1104 99l0 1M963 230l-2 2M944 238l1 1M922 157l-2 1M1093 126l1 1M958 206l0 2M1076 146l-2 2M1040 173l-2 1M1002 254l2 1M1127 99l-1 1M1107 116l-1 2M996 201l0 1M1019 172l2 0M965 158l2 1M1152 229l0 1M943 245l0 1M1045 99l-2 0M1103 236l-1 2M997 208l-1 1M1024 217l0 2M1013 69l0 1M1133 202l2 0M1106 239l3 1M1069 91l-1 3M948 61l-1 1M981 196l1 2M998 249l-1 1M1120 127l0 1M1068 116l1 0M964 171l-1 1M1085 203l0 1M929 215l3 1M945 255l1 3M977 240l2 0M992 152l0 1M924 248l2 1M1046 247l2 0M1058 136l0 1M992 204l0 1M1161 153l0 1M975 95l1 1M979 232l1 1M1007 201l1 1M1025 99l-1 2M1026 88l-1 1M972 236l1 1M931 108l3 1M1148 238l1 1M927 236l2 2M965 240l0 1M1146 137l-1 2M919 230l1 1M1018 125l0 2M1132 133l0 0M961 251l-1 0M1119 110l0 3M926 134l-1 1M1088 230l3 1M985 189l2 1M946 225l0 2M1136 115l2 1M1094 122l-2 2M1102 176l-2 0M969 79l0 1M1159 186l-1 2M1040 222l-1 1M1028 198l1 1M1058 172l1 1M1087 60l0 1M1118 122l-1 2M1007 164l1 0M972 254l1 1M1137 219l1 1M1131 241l-1 3M982 119l2 1M937 205l-2 1M1091 225l1 1M1124 132l0 1M1170 208l2 1M967 207l-1 1M1080 160l-3 0M1110 114l-2 2M1158 188l-1 0M1119 181l1 2M945 162l-2 1M1111 208l0 0M1059 155l1 3M1005 235l3 1M1165 60l2 2M956 250l-2 1M966 213l0 0M1095 169l-1 0M1028 77l-2 1M985 233l-2 1M1126 129l2 1M1057 143l1 0M1144 215l0 1M936 241l-1 0M995 73l1 0M1134 220l0 1M953 166l-1 1M950 197l0 0M957 250l-1 2M1106 231l-2 0M980 150l2 2M1097 229l1 0M1104 174l-1 0M1066 96l0 2M1116 90l-2 0M1119 182l1 2M1167 67l-1 0M1125 173l0 0M952 208l1 0M1137 107l-1 1M1144 220l0 1M1140 146l1 1M1146 170l-1 0M1118 207l-1 1M1136 198l-1 2M1038 170l2 2M984 238l-1 0M1028 85l0 1M1052 102l1 2M941 86l1 3M936 163l-1 2M1095 71l1 2M984 188l-1 0M970 75l2 2M1164 209l1 2M980 127l2 2M1069 147l-1 2M919 224l1 3M1109 128l0 2M979 208l2 2M1029 76l2 0M1149 243l1 1M918 155l-1 2M1016 177l0 2M1003 97l0 1M1004 123l0 2M936 175l-3 0M947 196l3 1M1149 213l-2 0M1135 119l0 2M963 217l-2 1M1033 196l-1 1M1028 117l1 0M1127 83l-1 1M995 210l-1 1M1010 177l-2 1M1095 116l1 0M1107 86l-3 0M1111 238l1 0M984 108l1 2M1066 244l0 0M999 182l-1 1M1031 90l0 1M1157 163l2 1M1138 201l0 1M1068 255l-1 2M1081 128l-2 2M1013 99l-2 2M924 72l2 1M1003 226l0 2M1108 166l0 1M938 251l-2 0M1167 217l0 2M1126 222l-2 1M1062 61l-1 1M1151 236l0 3M936 73l-1 1M1091 214l0 1M939 135l0 1M1171 197l0 3M1135 132l2 2M959 234l-1 2M1161 115l0 2M1039 238l0 2M1159 76l3 1M1044 144l-3 1M1091 238l1 1M992 89l1 0M1055 224l2 0M1105 194l-1 2M1033 235l0 2M943 164l-2 2M1035 158l-1 0M985 119l1 1M1155 241l-1 2M1101 138l-2 1M1004 190l-2 2M962 102l2 2M1081 125l0 1M1146 208l-2 2M1001 92l-2 2M992 165l0 2M1112 228l-1 0M1163 252l1 1M1103 81l2 0M1156 220l1 1M972 176l1 2M963 236l-2 1M1040 110l-1 0M934 242l-1 3M1103 110l-1 2M928 217l2 1M1066 77l-1 1M1086 169l0 0M1027 94l0 1M986 158l-1 3M1100 246l-1 1M1114 85l-2 1M1025 64l-2 1M1138 232l0 1M1119 188l1 0M1138 96l1 1M1119 132l-1 1M1024 137l-3 0M1060 156l-2 1M1020 92l-1 1M914 72l-1 1M917 107l-1 1M1167 116l2 0M977 105l-1 2M995 110l-1 2M1099 199l-2 0M958 85l3 1M1054 153l0 2M1132 229l1 1M968 221l1 2M936 61l0 1M1152 215l1 1M920 212l-2 1M963 62l1 1M1117 205l2 0M1143 161l1 0M1144 218l0 1M1083 69l2 2M1097 113l-2 1M1044 201l0 2M1060 195l0 2M1058 140l0 1M983 245l2 1M1125 119l-1 0M1005 107l0 1M972 246l-2 2M1033 241l1 3M1069 70l0 1M928 219l-1 0M1148 169l0 1M1006 61l-2 1M976 180l-2 1M1100 143l-1 1M1138 229l-2 0M952 252l-1 0M1065 219l-1 1M947 238l1 1M1070 108l1 2M1130 197l3 0M1086 134l1 2M1136 117l2 2M1127 232l-1 1M932 228l-1 3M1128 227l3 1M992 228l0 2M956 163l-1 0M1007 175l-2 1M1004 216l1 1M1154 78l0 2M1084 83l-1 1M944 220l1 0M1053 234l1 1M1079 86l0 1M972 172l-2 0M1114 199l0 3M1113 117l-1 1M1004 164l2 2M977 217l1 1M1119 161l2 0M1091 151l1 1M1080 105l-1 0M1011 60l0 2M951 225l1 1M996 115l0 1M1014 121l-2 1M1005 215l1 0M1072 113l2 0M988 79l0 1M1158 62l-1 2M1164 228l1 2M1026 135l-1 0M1115 243l-1 0M975 72l0 2M958 159l2 2M1142 212l-1 2M972 227l-1 1M1015 153l1 1M1076 195l1 0M1133 143l0 1M1148 236l2 1M934 205l-1 0M1001 60l0 1M942 71l0 1M1108 192l-3 1M961 213l-1 2M1019 81l1 2M1141 249l-3 1M918 166l2 0M1096 95l0 2M945 93l2 3M1136 216l1 2M1080 227l-1 1M1117 173l0 1M1156 230l-1 2M1064 143l2 2M971 64l1 0M1167 172l1 0M916 86l1 1M1075 85l-1 1M989 184l1 1M1032 66l0 1M1110 233l1 2M1136 118l-2 1M1018 92l1 1M1059 189l-1 1M1127 229l0 2M1042 194l-2 1M1116 180l1 1M1148 183l1 0M1024 121l1 1M946 233l0 1M930 136l-1 3M1050 98l-2 0M1133 212l-1 1M1167 199l-1 1M928 232l0 1M1017 243l1 2M1008 170l0 0M963 223l2 1M1108 234l0 0M1150 165l-1 1M1039 128l-1 3M1003 70l-2 1M990 237l0 1M1170 169l1 1M992 216l-1 0M971 68l0 2M1000 179l0 0M1113 235l-1 3M1101 164l0 2M937 224l-1 1M978 243l1 0M1099 236l-1 0M1143 210l1 0M935 227l0 0M1051 194l-1 1M1128 215l0 1M1127 131l1 2M967 206l0 2M1082 60l1 3M1101 108l0 1M970 100l0 1M937 69l0 3M937 188l-1 1M1085 62l0 1M1020 157l-1 0M1024 177l-1 1M1170 216l-1 0M1123 240l3 0M1149 210l-1 0M1101 162l1 2M953 244l-1 3M1103 88l-1 1M978 226l1 0M1124 201l0 1M1144 253l1 3M966 177l-1 1M1172 83l-1 1M1145 150l0 1M941 170l-1 0M1082 200l0 1M926 115l0 2M1092 121l1 2M1007 210l1 1M995 119l0 1M1121 142l0 2M1172 177l1 0M1120 179l-2 2M973 92l1 1M965 92l3 1M1012 206l1 0M981 185l-1 1M979 210l0 2M962 208l2 2M941 214l1 1M996 191l0 2M1003 76l-1 0M983 238l-1 0M1034 112l2 0M1111 196l-1 0M1165 182l-1 1M928 146l0 2M922 157l-1 2M1087 71l0 1M1136 130l1 1M990 72l-1 2M1137 207l2 2M989 157l-1 2M1020 250l0 1M976 172l0 3M1030 173l2 0M1083 98l0 3M1003 137l0 0M1049 77l-2 2M1053 178l2 1M1010 248l1 1M1154 166l2 0M917 228l-2 2M979 170l-1 3M990 199l1 1M1016 149l2 2M960 213l1 0M913 208l1 2M978 227l-3 0M984 146l0 2M984 245l1 1M1095 112l2 0M1010 215l0 1M1121 229l0 2M1119 117l-3 0M1083 222l-1 1M1150 205l0 1M972 228l0 2M960 137l1 0M1156 236l-1 2M1029 225l1 1M1149 215l3 1M948 223l1 3M972 156l-1 2M938 93l2 1M931 124l0 2M920 142l1 2M1120 229l0 0M951 232l1 1M1000 97l0 2M928 81l0 2M1117 164l2 1M967 81l0 1M1164 195l0 1M1162 150l2 0M937 209l1 1M1132 165l0 2M960 98l1 2M1046 114l0 1M942 92l1 0M950 120l0 1M1101 253l0 2M1063 105l2 1M1057 143l0 1M987 242l0 1M1007 68l0 1M939 142l-2 2M1093 234l2 1M1150 167l-1 0M942 212l-1 0M1152 222l2 0M1009 86l-1 0M1043 88l-1 0M974 231l1 2M920 249l1 0M950 80l3 0M1001 83l1 0M1044 106l0 3M1070 171l0 1M1019 200l-2 2M1121 80l1 2M1103 102l-2 2M918 124l0 1M1013 93l-1 0M1153 201l1 1M984 172l0 2M961 246l-1 2M1104 173l1 2M1124 180l-1 0M1057 237l1 0M1113 226l-1 0M1163 210l0 3M1049 194l0 2M1038 153l0 1M986 145l0 1M1077 141l-1 0M920 145l1 3M1072 100l1 0M1014 176l0 2M1153 204l-1 1M1163 186l1 1M1076 222l0 2M973 198l0 1M1160 67l-1 2M1055 146l-1 1M914 175l2 1M1094 243l1 2M1002 84l0 2M1090 108l-2 1M1117 241l-2 1M1140 238l0 3M1136 227l-1 1M949 158l1 1M1045 89l0 0M1048 236l-1 1M1042 239l0 1M927 181l1 2M1010 234l1 1M1135 179l2 2M1116 217l1 1M1013 181l2 1M1045 107l-1 0M1171 206l1 1M1042 134l1 1M917 147l0 1M993 66l-1 0M1123 145l0 0M1107 142l2 0M961 253l2 0M981 245l3 1M990 229l-2 1M1028 100l1 0M1066 62l1 2M956 153l1 2M923 143l1 2M917 124l-2 1M1014 125l1 1M1024 132l-1 0M1014 220l2 0M1002 215l1 2M1076 85l-1 1M1156 218l1 0M1140 194l-2 0M913 233l1 1M1135 177l-3 0M1080 144l-2 1M1113 94l2 1M1092 177l1 0M1153 203l0 1M918 100l1 0M1059 123l0 1M1091 222l0 1M960 136l0 1M973 166l1 1M918 232l2 0M966 222l-1 3M950 205l0 2M1076 68l1 1M933 220l0 2M994 104l2 1M1074 104l2 1M1151 189l1 2M998 82l-1 1M1028 163l-1 2M1154 73l-2 2M1109 122l2 1M1084 208l0 2M964 183l1 1M993 179l2 1M1109 117l-1 1M948 125l-1 2M1033 100l-2 1M1048 141l1 0M1144 242l-1 2M1166 251l-2 0M1006 214l-2 1M925 124l-1 3M1041 221l1 3M1163 108l2 2M1004 177l0 1M1133 176l-1 1M1149 231l1 3M1146 62l-1 1M1081 141l-1 2M965 253l-1 0M1068 140l-1 0M1079 140l1 1M1049 70l-1 3M1096 76l2 0M1108 149l-2 0M990 169l0 1M1156 202l-1 1M1153 118l0 1M1093 152l1 1M932 94l0 0M1049 182l-1 0M1155 69l1 0M1136 175l0 1M969 129l0 1M1052 249l1 0M960 238l-2 0M1008 62l0 3M1075 178l-1 2M1021 95l1 3M1033 106l-2 2M945 150l1 1M968 207l1 0M1123 77l-1 2M1142 116l-1 1M1115 108l3 1M947 139l0 2M973 251l-1 3M993 60l1 0M1148 185l1 1M943 111l-2 0M998 208l0 1M1045 95l1 2M917 175l-2 1M1063 130l1 1M958 250l0 1M926 116l1 0M1058 60l1 3M1157 175l-1 1M1082 187l0 2M1056 144l0 1M1003 123l0 1M1042 69l-1 1M1047 176l0 2M1082 173l-1 2M1032 216l-2 1M971 195l2 2M1044 133l0 2M1081 82l-2 1M1097 185l3 1M974 207l1 1M1134 210l-2 1M1128 191l-1 2M1092 143l-1 2M1143 177l1 1M1124 65l1 1M1101 71l1 1M993 168l0 2M1019 129l0 1M1079 186l-2 1M918 204l0 2M1096 159l1 1M1047 202l-1 2M1009 226l-1 1M1111 147l-1 1M1116 156l1 1M1131 144l-1 0M1055 83l-3 1M1044 75l-3 1M1063 141l-1 0M1008 132l2 0M1170 170l1 0M1073 77l0 1M963 250l2 1M952 192l3 1M967 179l-1 0M963 203l-1 1M1155 93l0 1M1010 251l0 1M1008 242l1 0M994 99l1 1M1133 159l1 1M939 240l0 3M1164 87l1 0M919 66l1 1M1078 170l1 0M915 72l0 1M1086 238l0 1M949 223l0 1M1117 164l1 1M1119 165l2 1M1081 92l-1 0M1144 179l-1 0M1079 151l0 1M1098 243l1 1M1170 84l0 2M1169 234l-2 0M1119 219l-3 0M1083 196l0 1M1123 145l-2 2M1150 189l3 1M934 221l3 0M1160 231l-2 1M1048 236l1 1M1138 80l0 3M1046 251l0 1M957 230l0 2M919 251l-1 0M1091 206l-1 2M965 198l-1 1M1105 107l-2 1M1144 190l1 3M961 149l1 0M1085 177l-1 0M967 237l-1 1M1025 139l2 1M1114 245l1 1M1118 217l1 0M1100 213l-1 2M1062 247l-2 2M1163 171l1 2M942 197l1 2M1082 138l-2 1M1026 117l2 1M925 180l0 1M1157 248l-1 1M1127 248l0 1M924 64l0 3M934 235l2 1M1121 150l-2 1M1085 238l-2 0M971 164l-1 2M973 147l-1 1M981 130l0 1M1139 183l2 2M1135 107l-1 0M1086 242l2 1M965 253l-2 1M1031 243l1 1M1109 196l2 1M994 223l-2 1M1115 147l1 2M1141 246l-2 1M1157 195l-1 2M1086 90l1 3M1083 112l-2 1M1059 165l2 0M970 233l1 3M1093 217l0 1M1132 140l0 1M918 231l0 1M1099 169l1 0M1159 249l-1 1M921 213l-1 0M946 177l1 0M916 60l3 1M1155 165l1 2M1049 244l0 0M959 198l0 2M1016 249l0 1M1036 122l0 1M1027 189l1 0M1117 253l1 1M1116 158l-1 2M1086 96l1 2M1041 252l-1 0M1159 129l1 0M992 217l-1 0M1139 253l0 2M1149 148l0 3M1166 140l-2 0M1005 139l2 1M918 87l1 1M940 234l2 1M1121 239l0 2M1084 205l-2 2M1083 216l1 0M1065 241l0 2M1007 91l0 1M929 169l1 1M1024 228l3 1M1015 129l-1 0M1038 94l-1 1M1056 204l0 1M1063 155l2 1M1163 134l0 1M1171 203l1 1M1031 156l1 3M1059 73l-1 1M958 254l-2 1M937 236l3 0M984 70l-1 2M1035 150l-1 0M927 149l0 0M1123 240l0 1M977 76l2 1M1124 238l-2 2M1172 231l-2 0M973 202l1 0M1019 96l-1 0M968 87l1 1M936 180l-1 1M1067 195l-2 1M1170 212l-2 1M1124 89l-3 0M1072 159l1 2M947 165l1 0M1139 255l2 1M953 143l0 1M990 101l-2 2M1118 246l0 2M1129 219l2 1M1050 128l0 2M1064 180l-1 1M1168 90l-2 1M1170 62l0 1M958 163l-3 0M1113 104l-2 1M960 157l-2 1M983 162l1 2M1044 149l1 2M1112 169l0 3M944 140l2 0M1126 100l-2 1M1159 221l1 1M1108 234l-3 0M997 205l-2 1M1083 172l-1 3M1051 133l2 2M1125 71l-3 1M1087 153l-3 2M1127 147l-2 0M1090 182l2 0M996 195l0 1M1110 238l0 3M928 85l0 2M915 117l0 1M1020 177l-1 1M1160 236l-2 1M917 219l1 1M945 79l2 0M1117 99l0 0M1004 129l1 0M975 142l-2 1M1166 226l-2 2M1069 126l-1 2M1096 73l-2 1M1021 158l-1 2M1015 225l2 1M978 106l-2 2M1102 128l1 1M1040 124l0 1M1107 88l0 2M977 251l0 1M922 210l1 2M1155 135l-2 1M1140 188l2 0M1012 218l1 0M957 236l-1 0M937 129l3 1M1073 234l1 2M1112 61l1 1M1163 229l1 1M926 96l-1 1M1096 113l1 1M1110 170l0 1M1170 124l1 1M1111 169l1 1M1078 83l1 2M972 80l2 1M944 250l2 1M1010 149l0 1M1165 82l1 3M1042 197l-1 1M1141 234l-1 2M1069 187l0 2M970 254l1 2M1151 114l1 1M1022 255l0 1M946 160l-1 1M1128 104l2 2M988 209l2 0M984 179l1 0M1087 198l1 3M1115 235l-1 3M1157 151l-1 2M951 117l0 0M1157 123l-1 3M1099 137l-1 1M983 189l-1 2M1020 216l-2 0M972 123l-1 1M1015 61l0 2M1089 253l1 1M1117 187l1 2M1033 121l-2 0M933 122l0 3M1076 163l0 0M1058 238l-3 0M923 109l2 1M1153 157l0 2M1078 255l0 1M1105 254l1 0M1015 66l0 2M1096 205l1 1M1051 75l0 1M1028 141l0 2M1148 223l-2 1M1088 71l0 1M1170 70l-1 1M1091 211l0 1M994 147l1 1M1153 214l1 1M1117 225l2 0M914 102l1 1M1026 132l-1 3M1171 243l0 1M997 102l1 0M1152 154l0 2M943 240l0 2M1005 107l1 1M1169 151l0 2M1019 75l-1 3M936 219l1 0M966 185l1 2M1149 100l2 1M1030 70l-1 2M913 173l2 1M1065 111l-1 2M1144 167l0 1M975 98l-1 0M1056 178l1 0M1007 116l-1 0M995 112l-1 0M1012 180l-1 3M952 230l-1 0M936 236l-1 0M1138 225l-2 1M1037 96l-1 0M1160 140l-1 2M922 245l1 1M1127 244l1 0M949 107l-2 0M949 254l1 0M1148 151l2 1M997 179l1 0M934 167l1 1M929 95l1 2M1033 184l0 1M1154 93l-2 0M933 92l0 1M1153 188l-2 1M1063 130l-1 1M1124 99l1 2M924 192l-1 2M1171 201l2 1M1134 163l0 1M1147 206l1 0M1075 154l-2 2M929 248l1 1M1059 199l-1 1M1104 198l1 2M1018 193l0 1M1106 203l-1 2M982 87l-2 1M970 155l2 1M1053 229l2 0M1138 251l1 0M1157 244l2 0M1079 110l2 0M963 201l0 2M969 216l1 2M1107 65l0 1M952 251l1 0M1105 221l-1 1M966 254l-2 1M1147 155l1 0M1076 172l0 1M1123 239l2 1M1133 103l-1 1M1164 171l-3 0M962 216l0 3M1015 217l0 1M1099 62l-1 2M920 169l-1 0M1157 197l-1 0M973 160l-1 0M958 204l-1 0M1086 143l0 1M1167 171l0 2M1160 220l1 0M1108 79l1 0M1156 170l3 0M1020 163l-1 3M1081 200l1 1M1148 135l-1 0M1046 117l0 3M999 74l1 2M970 82l0 3M987 123l0 0M1083 116l0 1M1076 144l0 1M1130 250l0 1M1034 82l2 0M1095 105l2 2M1122 159l0 0M1099 111l1 1M1158 80l-2 1M1043 248l0 1M947 60l2 2M1079 178l2 1M992 78l3 1M981 138l3 0M1163 86l1 2M1121 226l0 1M1027 214l1 0M925 134l0 0M1004 175l-2 1M981 157l-1 0M1122 215l2 0M918 251l1 0M1086 221l1 2M990 251l1 2M1152 223l-1 1M1092 212l0 3M1137 186l2 1M1153 174l0 0M1143 188l0 1M1069 76l-1 0M1003 132l1 2M1151 241l-2 1M996 181l-3 1M1002 200l-1 0M943 160l-1 0M1100 208l0 1M916 117l1 0M992 244l-2 1M1167 196l0 1M1165 194l-2 2M1094 201l0 1M928 156l-2 2M1119 80l-1 1M1013 244l0 1M1122 131l-1 3M1082 78l-1 2M1093 155l0 3M994 171l-1 2M1017 62l-1 1M1000 218l-3 1M977 205l1 1M1056 160l0 2M1088 114l0 0M1080 143l1 0M1064 185l-2 1M1148 149l-1 2M974 214l2 1M939 140l-2 1M1153 228l-1 2M1061 101l0 1M924 233l0 1M951 229l-1 1M936 211l-3 0M1099 221l1 0M1095 147l-1 1M1138 181l-1 0M1079 173l0 2M1061 80l1 2M1108 229l0 3M1143 232l1 0M1016 70l-2 0M936 131l-3 1M937 175l0 2M1123 253l2 0M1119 78l-2 1M1169 144l-1 1M1012 186l0 0M1130 213l-1 1M1053 142l2 0M1109 242l1 0M1144 208l1 0M1148 216l1 1M979 61l-1 1M1008 228l1 2M1110 107l-1 2M1032 211l1 0M1036 124l1 1M980 60l-1 0M1143 146l2 1M1148 254l-2 0M1072 100l2 1M924 211l0 0M1068 145l-1 0M1044 232l0 2M1079 88l2 2M1115 202l-1 1M929 212l-1 2M1074 100l-2 0M1171 64l-1 1M978 201l0 0M1052 61l0 1M935 69l2 0M1014 117l1 1M1058 165l2 1M1126 137l1 2M1032 96l0 2M1132 203l0 1M1091 98l0 1M973 90l0 2M1075 111l0 1M992 182l-1 1M1089 154l-1 1M1067 93l0 1M1156 156l2 2M962 206l-1 1M1141 80l2 1M1091 131l-1 1M1066 228l-1 1M1095 75l1 1M1087 106l1 2M1081 124l1 2M1052 150l-1 1M947 129l0 1M1065 187l2 2M1152 162l1 3M1032 241l1 1M1017 81l0 2M984 165l0 2M936 193l-3 1M930 87l0 1M1091 207l0 1M930 206l3 0M920 87l0 1M975 60l-1 1M1162 220l1 1M1162 161l-1 3M950 231l-1 1M1015 193l0 1M1119 99l1 0M1082 172l0 2M930 250l0 2M1119 167l2 0M1128 117l1 1M1093 227l2 0M1140 253l0 1M1008 189l0 0M1087 208l0 1M1098 169l0 3M972 143l-1 2M967 194l-1 1M965 104l1 2M991 231l-2 2M1111 247l0 1M1085 74l-2 0M951 156l1 2M1095 228l-1 3M1063 174l-2 0M1169 122l-1 0M1033 200l1 1M1057 164l-2 1M1049 211l2 1M1137 209l0 2M945 220l0 2M1096 167l1 2M1126 224l0 1M1039 74l1 0M933 250l-1 1M1085 155l-1 2M1127 121l0 1M1081 164l2 1M1153 162l0 2M1111 226l-1 0M913 255l-2 0M918 250l1 1M1102 245l-2 2M1145 110l1 2M1115 107l-2 0M980 211l-3 0M1131 226l1 0M1156 251l1 3M1168 160l2 0M1118 215l0 1M1163 70l-2 2M945 247l0 1M1058 178l-2 2M1147 199l2 0M1077 112l0 1M1001 177l-1 1M1076 201l1 1M1080 151l3 0M1026 186l0 1M1146 157l0 1M1014 220l-2 1M1110 244l1 1M1054 122l-2 1M1040 112l1 1M1096 75l1 0M1127 186l0 3M959 197l3 0M1086 205l-2 2M1170 175l0 1M966 193l1 1M1123 238l-2 2M1134 130l1 0M1169 111l1 0M1035 110l3 0M936 71l1 1M1118 203l-1 1M1096 240l0 2M1071 64l0 3M1016 252l-1 0M1069 213l3 1M1048 223l2 1M1081 96l1 3M1010 109l-1 0M1094 64l3 1M1027 66l0 1M1141 246l2 2M1158 166l-3 1M1048 135l1 3M1171 197l0 2M1133 239l1 3M1040 118l2 2M949 192l-1 0M922 69l-1 2M1046 172l0 1M1073 129l0 1M1079 161l0 1M997 236l-2 0M961 76l-2 1M1028 203l0 1M1016 245l2 0M973 66l-2 1M1118 244l0 1M936 191l1 2M1027 163l-1 0M1065 132l1 1M1026 73l0 1M1039 70l-2 1M990 216l-2 0M958 238l2 1M1042 231l0 1M1010 85l1 2M1161 133l1 0M989 236l1 1M954 161l-1 2M1011 249l-1 1M978 225l-2 2M1057 140l1 2M978 98l0 1M940 144l1 2M1142 166l2 1M1052 254l1 1M950 250l2 0M1103 203l2 2M1108 113l-1 1M940 196l-1 1M960 63l1 1M961 209l1 2M1137 196l1 1M1088 70l2 2M1128 221l-1 2M1108 168l-2 1M995 159l1 2M1123 235l2 2M1002 87l1 0M1166 62l-1 2M987 228l-1 1M1002 203l-1 2M972 201l3 1M1129 172l0 1M1154 86l-1 1M1056 139l3 0M914 80l-1 1M1061 135l-3 0M1048 176l1 1M951 151l1 2M940 203l0 0M915 178l-1 1M1019 176l2 1M1114 135l-1 0M936 254l1 0M967 178l-1 1M946 232l2 2M1054 115l-1 2M1046 88l1 0M917 98l0 0M952 252l-1 0M1098 80l0 2M1051 154l0 2M1100 136l1 0M1137 182l2 1M1031 209l-2 2M972 166l-2 1M917 179l-1 0M1144 230l1 0M1089 169l1 3M1026 204l0 2M1015 247l2 2M1134 242l-3 0M938 237l-1 1M1059 119l-1 1M1126 173l-1 1M1123 170l1 0M1011 243l1 2M1093 199l-2 0M983 72l1 0M1067 106l1 0M954 200l-1 2M936 246l0 2M1107 170l2 1M1046 104l-1 1M968 218l0 1M1152 227l-2 1M1144 239l1 1M1151 67l0 2M940 189l1 0M1035 72l1 0M1160 167l0 2M1136 86l-2 2M1047 180l0 1M1107 251l2 0M1045 111l2 0M1077 121l0 3M1109 157l2 2M1124 186l1 0M953 178l-2 2M937 85l-2 2M1103 131l2 2M1052 121l1 0M1125 99l-2 2M982 235l-2 2M930 200l-1 2M1143 155l-1 1M960 72l-3 1M983 159l1 0M1134 227l2 1M1053 112l-2 2M1009 200l-1 1M1116 125l-1 1M1136 250l-1 2M1010 84l3 1M991 124l-1 0M1155 72l2 1M1081 140l2 1M1168 218l0 1M1141 128l1 1M987 62l1 2M1093 81l2 1M1049 95l-1 1M1002 198l0 1M1168 133l-1 2M1095 158l0 1M1121 202l-2 0M1118 67l0 2M977 235l0 1M1108 210l1 2M939 235l0 0M1118 117l-2 0M915 231l0 1M930 210l1 1M961 213l0 3M1146 206l-2 2M986 111l0 3M999 165l-1 2M1122 125l-1 0M1020 143l1 2M1135 235l1 1M1031 133l3 1M1151 62l2 1M1103 143l0 1M915 122l0 3M1158 146l1 1M1019 104l-2 2M955 182l-1 0M1052 74l0 1M1085 235l0 1M1037 230l-3 1M991 165l0 1M1153 241l-2 1M1118 147l0 1M1086 115l0 1M1127 135l-2 0M934 224l-1 2M995 199l2 1M1171 137l-2 1M1127 211l1 0M1162 223l-1 1M1085 226l-2 1M953 230l-1 2M1012 205l1 2M1032 147l-2 1M1143 73l-1 0M1116 133l1 1M1048 165l1 0M1034 133l2 1M1130 220l-2 2M1145 150l1 0M1082 233l-1 3M1087 120l1 0M1116 217l-3 1M1143 197l-2 2M1149 65l1 2M1101 139l0 2M934 109l2 2M920 172l0 2M968 63l-1 0M1031 254l0 1M1079 218l-1 0M966 120l1 0M1127 243l0 2M1128 190l-1 1M1109 123l-1 1M1156 214l1 0M913 251l-1 2M979 193l1 2M1112 142l-1 0M1115 205l-1 0M1105 142l0 1M1043 65l1 1M1066 68l-1 1M949 206l2 1M1025 144l1 1M1043 149l-1 1M1062 121l1 0M1122 63l-2 2M1145 147l-3 0M1126 240l2 2M997 255l-1 0M1169 202l2 1M1131 170l0 2M1052 65l0 3M933 202l0 1M945 135l0 1M1123 198l0 1M1054 91l2 1M1164 148l1 1M1062 149l-2 0M1019 61l-1 0M1097 116l2 2M949 81l-1 0M983 94l1 2M1144 201l0 1M1093 188l-2 2M1047 243l1 3M1164 205l1 3M1012 62l1 0M1101 239l0 2M1134 190l-3 0M1057 251l0 1M935 210l-1 2M1041 72l2 1M992 249l-1 1M1088 95l0 0M915 222l3 0M1014 66l0 2M1091 156l1 1M940 191l-1 1M1103 187l0 2M1004 206l1 1M962 196l1 1M1091 79l0 1M1115 174l1 0M1039 179l2 0M930 157l1 2M1092 153l2 0M1045 182l1 0M1061 212l3 0M1112 240l-2 2M963 67l0 2M923 106l-1 2M1026 235l2 1M1098 248l2 2M1128 194l1 2M1001 174l0 0M1076 116l0 0M925 157l-1 1M1092 254l1 3M944 204l-2 2M958 66l-1 0M936 208l-2 1M958 203l1 2M976 248l-2 0M978 174l1 0M1039 133l2 1M1031 146l2 0M1106 160l0 2M1083 82l0 2M1075 205l-1 2M1081 81l-2 1M1153 228l-1 2M952 61l-2 1M1110 236l-1 0M1122 82l0 0M1077 154l0 1M949 188l-1 0M1030 69l-1 1M938 86l1 0M1097 89l-1 2M1045 223l-1 1M1130 150l0 1M960 249l-1 2M1155 80l-2 1M989 213l0 1M978 218l-3 0M1170 210l-1 1M1129 238l2 1M997 186l1 1M1091 143l3 1M988 219l0 0M1147 108l0 1M1139 75l-3 0M958 67l1 1M1085 78l0 2M927 188l1 0M1032 160l-2 2M1150 180l1 0M1152 158l-1 1M971 198l0 1M1117 108l1 1M1148 66l2 0M1019 210l-1 1M1094 188l-1 0M1105 85l-1 1M992 254l0 1M1080 139l2 1M1015 134l-1 2M1013 224l-3 0M937 215l-1 0M1128 211l1 1M1149 215l-3 0M914 227l0 1M934 166l0 1M1123 73l0 2M1009 203l-2 0M925 246l0 2M963 183l-1 2M1114 176l-2 0M938 84l2 0M1070 60l-1 0M1127 253l-2 0M1011 119l-2 1M934 231l-2 1M1110 82l1 2M1074 72l0 0M987 224l-2 3M1088 241l1 0M1172 200l1 0M1065 90l-2 1M1071 203l0 1M1055 125l0 1M1091 224l-2 1M1124 182l0 2M1168 114l-2 1M1003 87l0 0M950 251l0 3M966 146l0 2M927 221l1 1M991 150l0 3M1107 233l-2 2M1081 244l0 2M1141 198l0 1M1034 116l0 0M1113 209l1 0M934 207l-1 2M986 202l2 0M1070 87l0 2M1080 202l1 2M1029 141l2 0M1123 162l0 0M936 242l-1 1M1047 153l-1 0M959 183l0 1M1003 162l3 1M1009 93l1 3M1126 215l-2 1M1057 225l3 0M1051 73l-3 0M933 209l1 2M1143 145l-1 1M992 150l2 0M1106 187l2 1M997 197l-1 2M1014 128l1 0M1143 199l-1 1M952 229l-1 1M1042 185l-1 3M936 156l-2 1M1168 223l0 1M929 235l0 1M1124 156l1 2M1126 228l1 0M946 120l1 0M1129 173l1 1M1152 196l2 1M1070 214l-2 1M1168 232l0 1M1115 188l-2 1M933 94l-1 1M1074 227l-1 1M986 220l-1 0M1169 124l0 2M1020 124l-1 1M1164 219l0 1M1092 75l-1 1M1141 131l-1 1M1133 88l1 2M1136 193l1 1M945 223l-2 0M1079 172l1 0M968 184l2 1M1110 103l0 1M917 233l-1 1M922 188l-1 0M1091 243l0 2M1154 190l-2 0M940 66l1 0M1158 245l-2 1M971 187l-1 0M1144 173l-2 0M1098 175l2 1M995 201l-1 1M956 226l-1 0M946 188l0 2M969 159l1 2M956 208l0 0M1016 80l0 2M924 245l-1 2M1118 104l0 2M994 209l1 0M930 75l1 0M1088 239l-3 0M1079 122l-2 1M1086 241l-3 1M1041 164l-2 1M1128 145l1 2M959 182l-1 1M1077 121l-1 2M945 194l1 1M1040 105l-1 1M1169 177l0 1M948 243l-1 3M1115 164l-2 1M1137 233l-1 0M1157 183l1 1M1029 109l2 1M1131 168l-1 1M1134 176l1 0M945 127l-1 2M1111 243l-1 1M945 247l0 1M1126 234l1 2M1042 174l-1 0M1139 132l1 2M1057 110l2 1M1064 113l2 1M1033 222l0 2M1077 147l1 1M1149 142l2 2M1127 91l-3 0M945 165l3 1M1000 255l1 0M993 176l0 1M916 158l-2 2M960 187l-2 2M969 170l-1 3M1158 209l1 3M1106 82l0 1M1089 142l2 2M1147 185l0 1M1079 84l-1 1M1022 105l-1 0M944 190l-1 2M1169 110l2 1M996 184l-2 1M965 236l2 0" stroke="#dc8cc4" stroke-width="5.4" opacity="0.6"/>
<path d="M974 166l-1 2M1066 118l-2 1M938 86l-2 0M1075 118l0 1M1170 191l-3 1M967 222l0 1M1134 253l-1 1M924 200l-3 1M1044 255l2 0M921 98l0 1M924 229l-3 0M1074 243l0 2M1048 167l1 2M928 182l-1 1M1096 204l2 0M1067 122l1 1M1067 118l0 0M1060 203l2 2M1094 79l1 2M1027 227l1 2M1142 148l2 1M1079 217l1 0M1119 113l0 1M1019 239l3 0M1141 252l-3 0M1085 161l1 1M930 175l-1 0M1146 235l2 0M1072 126l-2 1M1116 128l0 3M1122 220l-1 2M926 113l0 2M1035 211l1 0M995 121l-1 2M1006 97l2 1M1099 134l1 1M1070 212l-2 1M1093 74l1 3M945 218l-2 1M939 174l2 1M924 78l-1 0M919 224l-2 1M1130 246l0 0M1128 107l1 1M1108 136l0 1M1021 76l-2 0M1109 191l0 2M1146 89l-2 2M961 112l0 1M989 197l-2 1M982 102l0 1M1129 220l0 2M1162 151l2 2M975 97l2 1M1136 235l-1 1M1023 202l2 1M1088 61l0 2M1014 166l1 2M938 243l-2 2M1162 191l2 1M1032 121l2 0M1006 111l-1 0M1005 125l0 2M1004 225l0 1M1066 88l1 1M1060 99l0 0M990 227l-1 2M963 163l0 2M1075 69l1 0M1053 241l-2 1M948 227l-2 1M1155 228l-1 1M941 68l1 1M1068 103l2 2M950 149l1 1M1017 92l1 0M1040 71l0 1M1095 70l0 1M1163 102l0 1M1074 127l2 0M984 213l-1 0M1076 127l-2 2M1066 60l1 0M1157 66l-1 3M1089 241l-2 2M1007 141l-1 1M1070 198l0 1M1097 64l-2 2M999 132l1 3M940 171l2 1M975 69l-1 2M970 169l-2 1M1117 164l1 0M1127 82l-1 0M970 222l-1 2M1067 219l0 2M1102 75l0 1M1081 178l1 3M1000 144l1 1M1147 245l-1 1M1172 239l-1 0M938 201l0 2M923 205l0 1M1105 205l1 0M1019 75l-2 2M1009 91l0 2M1122 118l0 0M956 69l-1 1M922 96l0 1M926 166l1 1M1121 141l2 0M1123 108l-2 2M985 93l-1 2M1154 218l0 2M1170 166l1 1M1155 179l0 2M1162 185l-1 0M1012 221l2 2M986 85l-1 0M972 99l0 2M982 166l2 2M950 236l-2 0M1081 87l-1 1M925 247l0 1M1014 252l1 0M1172 251l1 3M1116 171l0 2M1051 222l-1 3M1131 92l1 0M1049 209l0 2M951 177l0 1M986 248l0 2M1140 252l0 2M1012 251l1 1M1097 130l0 1M1064 88l1 2M949 76l0 0M944 231l0 3M1068 76l0 0M1129 95l1 2M1092 76l-2 2M930 61l1 3M1064 232l0 1M1049 172l1 1M1135 165l-2 0M1050 99l-1 0M1104 99l0 1M963 230l-2 2M944 238l1 1M922 157l-2 1M1093 126l1 1M958 206l0 2M1076 146l-2 2M1040 173l-2 1M1002 254l2 1M1127 99l-1 1M1107 116l-1 2M996 201l0 1M1019 172l2 0M965 158l2 1M1152 229l0 1M943 245l0 1M1045 99l-2 0M1103 236l-1 2M997 208l-1 1M1024 217l0 2M1013 69l0 1M1133 202l2 0M1106 239l3 1M1069 91l-1 3M948 61l-1 1M981 196l1 2M998 249l-1 1M1120 127l0 1M1068 116l1 0M964 171l-1 1M1085 203l0 1M929 215l3 1M945 255l1 3M977 240l2 0M992 152l0 1M924 248l2 1M1046 247l2 0M1058 136l0 1M992 204l0 1M1161 153l0 1M975 95l1 1M979 232l1 1M1007 201l1 1M1025 99l-1 2M1026 88l-1 1M972 236l1 1M931 108l3 1M1148 238l1 1M927 236l2 2M965 240l0 1M1146 137l-1 2M919 230l1 1M1018 125l0 2M1132 133l0 0M961 251l-1 0M1119 110l0 3M926 134l-1 1M1088 230l3 1M985 189l2 1M946 225l0 2M1136 115l2 1M1094 122l-2 2M1102 176l-2 0M969 79l0 1M1159 186l-1 2M1040 222l-1 1M1028 198l1 1M1058 172l1 1M1087 60l0 1M1118 122l-1 2M1007 164l1 0M972 254l1 1M1137 219l1 1M1131 241l-1 3M982 119l2 1M937 205l-2 1M1091 225l1 1M1124 132l0 1M1170 208l2 1M967 207l-1 1M1080 160l-3 0M1110 114l-2 2M1158 188l-1 0M1119 181l1 2M945 162l-2 1M1111 208l0 0M1059 155l1 3M1005 235l3 1M1165 60l2 2M956 250l-2 1M966 213l0 0M1095 169l-1 0M1028 77l-2 1M985 233l-2 1M1126 129l2 1M1057 143l1 0M1144 215l0 1M936 241l-1 0M995 73l1 0M1134 220l0 1M953 166l-1 1M950 197l0 0M957 250l-1 2M1106 231l-2 0M980 150l2 2M1097 229l1 0M1104 174l-1 0M1066 96l0 2M1116 90l-2 0M1119 182l1 2M1167 67l-1 0M1125 173l0 0M952 208l1 0M1137 107l-1 1M1144 220l0 1M1140 146l1 1M1146 170l-1 0M1118 207l-1 1M1136 198l-1 2M1038 170l2 2M984 238l-1 0M1028 85l0 1M1052 102l1 2M941 86l1 3M936 163l-1 2M1095 71l1 2M984 188l-1 0M970 75l2 2M1164 209l1 2M980 127l2 2M1069 147l-1 2M919 224l1 3M1109 128l0 2M979 208l2 2M1029 76l2 0M1149 243l1 1M918 155l-1 2M1016 177l0 2M1003 97l0 1M1004 123l0 2M936 175l-3 0M947 196l3 1M1149 213l-2 0M1135 119l0 2M963 217l-2 1M1033 196l-1 1M1028 117l1 0M1127 83l-1 1M995 210l-1 1M1010 177l-2 1M1095 116l1 0M1107 86l-3 0M1111 238l1 0M984 108l1 2M1066 244l0 0M999 182l-1 1M1031 90l0 1M1157 163l2 1M1138 201l0 1M1068 255l-1 2M1081 128l-2 2M1013 99l-2 2M924 72l2 1M1003 226l0 2M1108 166l0 1M938 251l-2 0M1167 217l0 2M1126 222l-2 1M1062 61l-1 1M1151 236l0 3M936 73l-1 1M1091 214l0 1M939 135l0 1M1171 197l0 3M1135 132l2 2M959 234l-1 2M1161 115l0 2M1039 238l0 2M1159 76l3 1M1044 144l-3 1M1091 238l1 1M992 89l1 0M1055 224l2 0M1105 194l-1 2M1033 235l0 2M943 164l-2 2M1035 158l-1 0M985 119l1 1M1155 241l-1 2M1101 138l-2 1M1004 190l-2 2M962 102l2 2M1081 125l0 1M1146 208l-2 2M1001 92l-2 2M992 165l0 2M1112 228l-1 0M1163 252l1 1M1103 81l2 0M1156 220l1 1M972 176l1 2M963 236l-2 1M1040 110l-1 0M934 242l-1 3M1103 110l-1 2M928 217l2 1M1066 77l-1 1M1086 169l0 0M1027 94l0 1M986 158l-1 3M1100 246l-1 1M1114 85l-2 1M1025 64l-2 1M1138 232l0 1M1119 188l1 0M1138 96l1 1M1119 132l-1 1M1024 137l-3 0M1060 156l-2 1M1020 92l-1 1M914 72l-1 1M917 107l-1 1M1167 116l2 0M977 105l-1 2M995 110l-1 2M1099 199l-2 0M958 85l3 1M1054 153l0 2M1132 229l1 1M968 221l1 2M936 61l0 1M1152 215l1 1M920 212l-2 1M963 62l1 1M1117 205l2 0M1143 161l1 0M1144 218l0 1M1083 69l2 2M1097 113l-2 1M1044 201l0 2M1060 195l0 2M1058 140l0 1M983 245l2 1M1125 119l-1 0M1005 107l0 1M972 246l-2 2M1033 241l1 3M1069 70l0 1M928 219l-1 0M1148 169l0 1M1006 61l-2 1M976 180l-2 1M1100 143l-1 1M1138 229l-2 0M952 252l-1 0M1065 219l-1 1M947 238l1 1M1070 108l1 2M1130 197l3 0M1086 134l1 2M1136 117l2 2M1127 232l-1 1M932 228l-1 3M1128 227l3 1M992 228l0 2M956 163l-1 0M1007 175l-2 1M1004 216l1 1M1154 78l0 2M1084 83l-1 1M944 220l1 0M1053 234l1 1M1079 86l0 1M972 172l-2 0M1114 199l0 3M1113 117l-1 1M1004 164l2 2M977 217l1 1M1119 161l2 0M1091 151l1 1M1080 105l-1 0M1011 60l0 2M951 225l1 1M996 115l0 1M1014 121l-2 1M1005 215l1 0M1072 113l2 0M988 79l0 1M1158 62l-1 2M1164 228l1 2M1026 135l-1 0M1115 243l-1 0M975 72l0 2M958 159l2 2M1142 212l-1 2M972 227l-1 1M1015 153l1 1M1076 195l1 0M1133 143l0 1M1148 236l2 1M934 205l-1 0M1001 60l0 1M942 71l0 1M1108 192l-3 1M961 213l-1 2M1019 81l1 2M1141 249l-3 1M918 166l2 0M1096 95l0 2M945 93l2 3M1136 216l1 2M1080 227l-1 1M1117 173l0 1M1156 230l-1 2M1064 143l2 2M971 64l1 0M1167 172l1 0M916 86l1 1M1075 85l-1 1M989 184l1 1M1032 66l0 1M1110 233l1 2M1136 118l-2 1M1018 92l1 1M1059 189l-1 1M1127 229l0 2M1042 194l-2 1M1116 180l1 1M1148 183l1 0M1024 121l1 1M946 233l0 1M930 136l-1 3M1050 98l-2 0M1133 212l-1 1M1167 199l-1 1M928 232l0 1M1017 243l1 2M1008 170l0 0M963 223l2 1M1108 234l0 0M1150 165l-1 1M1039 128l-1 3M1003 70l-2 1M990 237l0 1M1170 169l1 1M992 216l-1 0M971 68l0 2M1000 179l0 0M1113 235l-1 3M1101 164l0 2M937 224l-1 1M978 243l1 0M1099 236l-1 0M1143 210l1 0M935 227l0 0M1051 194l-1 1M1128 215l0 1M1127 131l1 2M967 206l0 2M1082 60l1 3M1101 108l0 1M970 100l0 1M937 69l0 3M937 188l-1 1M1085 62l0 1M1020 157l-1 0M1024 177l-1 1M1170 216l-1 0M1123 240l3 0M1149 210l-1 0M1101 162l1 2M953 244l-1 3M1103 88l-1 1M978 226l1 0M1124 201l0 1M1144 253l1 3M966 177l-1 1M1172 83l-1 1M1145 150l0 1M941 170l-1 0M1082 200l0 1M926 115l0 2M1092 121l1 2M1007 210l1 1M995 119l0 1M1121 142l0 2M1172 177l1 0M1120 179l-2 2M973 92l1 1M965 92l3 1M1012 206l1 0M981 185l-1 1M979 210l0 2M962 208l2 2M941 214l1 1M996 191l0 2M1003 76l-1 0M983 238l-1 0M1034 112l2 0M1111 196l-1 0M1165 182l-1 1M928 146l0 2M922 157l-1 2M1087 71l0 1M1136 130l1 1M990 72l-1 2M1137 207l2 2M989 157l-1 2M1020 250l0 1M976 172l0 3M1030 173l2 0M1083 98l0 3M1003 137l0 0M1049 77l-2 2M1053 178l2 1M1010 248l1 1M1154 166l2 0M917 228l-2 2M979 170l-1 3M990 199l1 1M1016 149l2 2M960 213l1 0M913 208l1 2M978 227l-3 0M984 146l0 2M984 245l1 1M1095 112l2 0M1010 215l0 1M1121 229l0 2M1119 117l-3 0M1083 222l-1 1M1150 205l0 1M972 228l0 2M960 137l1 0M1156 236l-1 2M1029 225l1 1M1149 215l3 1M948 223l1 3M972 156l-1 2M938 93l2 1M931 124l0 2M920 142l1 2M1120 229l0 0M951 232l1 1M1000 97l0 2M928 81l0 2M1117 164l2 1M967 81l0 1M1164 195l0 1M1162 150l2 0M937 209l1 1M1132 165l0 2M960 98l1 2M1046 114l0 1M942 92l1 0M950 120l0 1M1101 253l0 2M1063 105l2 1M1057 143l0 1M987 242l0 1M1007 68l0 1M939 142l-2 2M1093 234l2 1M1150 167l-1 0M942 212l-1 0M1152 222l2 0M1009 86l-1 0M1043 88l-1 0M974 231l1 2M920 249l1 0M950 80l3 0M1001 83l1 0M1044 106l0 3M1070 171l0 1M1019 200l-2 2M1121 80l1 2M1103 102l-2 2M918 124l0 1M1013 93l-1 0M1153 201l1 1M984 172l0 2M961 246l-1 2M1104 173l1 2M1124 180l-1 0M1057 237l1 0M1113 226l-1 0M1163 210l0 3M1049 194l0 2M1038 153l0 1M986 145l0 1M1077 141l-1 0M920 145l1 3M1072 100l1 0M1014 176l0 2M1153 204l-1 1M1163 186l1 1M1076 222l0 2M973 198l0 1M1160 67l-1 2M1055 146l-1 1M914 175l2 1M1094 243l1 2M1002 84l0 2M1090 108l-2 1M1117 241l-2 1M1140 238l0 3M1136 227l-1 1M949 158l1 1M1045 89l0 0M1048 236l-1 1M1042 239l0 1M927 181l1 2M1010 234l1 1M1135 179l2 2M1116 217l1 1M1013 181l2 1M1045 107l-1 0M1171 206l1 1M1042 134l1 1M917 147l0 1M993 66l-1 0M1123 145l0 0M1107 142l2 0M961 253l2 0M981 245l3 1M990 229l-2 1M1028 100l1 0M1066 62l1 2M956 153l1 2M923 143l1 2M917 124l-2 1M1014 125l1 1M1024 132l-1 0M1014 220l2 0M1002 215l1 2M1076 85l-1 1M1156 218l1 0M1140 194l-2 0M913 233l1 1M1135 177l-3 0M1080 144l-2 1M1113 94l2 1M1092 177l1 0M1153 203l0 1M918 100l1 0M1059 123l0 1M1091 222l0 1M960 136l0 1M973 166l1 1M918 232l2 0M966 222l-1 3M950 205l0 2M1076 68l1 1M933 220l0 2M994 104l2 1M1074 104l2 1M1151 189l1 2M998 82l-1 1M1028 163l-1 2M1154 73l-2 2M1109 122l2 1M1084 208l0 2M964 183l1 1M993 179l2 1M1109 117l-1 1M948 125l-1 2M1033 100l-2 1M1048 141l1 0M1144 242l-1 2M1166 251l-2 0M1006 214l-2 1M925 124l-1 3M1041 221l1 3M1163 108l2 2M1004 177l0 1M1133 176l-1 1M1149 231l1 3M1146 62l-1 1M1081 141l-1 2M965 253l-1 0M1068 140l-1 0M1079 140l1 1M1049 70l-1 3M1096 76l2 0M1108 149l-2 0M990 169l0 1M1156 202l-1 1M1153 118l0 1M1093 152l1 1M932 94l0 0M1049 182l-1 0M1155 69l1 0M1136 175l0 1M969 129l0 1M1052 249l1 0M960 238l-2 0M1008 62l0 3M1075 178l-1 2M1021 95l1 3M1033 106l-2 2M945 150l1 1M968 207l1 0M1123 77l-1 2M1142 116l-1 1M1115 108l3 1M947 139l0 2M973 251l-1 3M993 60l1 0M1148 185l1 1M943 111l-2 0M998 208l0 1M1045 95l1 2M917 175l-2 1M1063 130l1 1M958 250l0 1M926 116l1 0M1058 60l1 3M1157 175l-1 1M1082 187l0 2M1056 144l0 1M1003 123l0 1M1042 69l-1 1M1047 176l0 2M1082 173l-1 2M1032 216l-2 1M971 195l2 2M1044 133l0 2M1081 82l-2 1M1097 185l3 1M974 207l1 1M1134 210l-2 1M1128 191l-1 2M1092 143l-1 2M1143 177l1 1M1124 65l1 1M1101 71l1 1M993 168l0 2M1019 129l0 1M1079 186l-2 1M918 204l0 2M1096 159l1 1M1047 202l-1 2M1009 226l-1 1M1111 147l-1 1M1116 156l1 1M1131 144l-1 0M1055 83l-3 1M1044 75l-3 1M1063 141l-1 0M1008 132l2 0M1170 170l1 0M1073 77l0 1M963 250l2 1M952 192l3 1M967 179l-1 0M963 203l-1 1M1155 93l0 1M1010 251l0 1M1008 242l1 0M994 99l1 1M1133 159l1 1M939 240l0 3M1164 87l1 0M919 66l1 1M1078 170l1 0M915 72l0 1M1086 238l0 1M949 223l0 1M1117 164l1 1M1119 165l2 1M1081 92l-1 0M1144 179l-1 0M1079 151l0 1M1098 243l1 1M1170 84l0 2M1169 234l-2 0M1119 219l-3 0M1083 196l0 1M1123 145l-2 2M1150 189l3 1M934 221l3 0M1160 231l-2 1M1048 236l1 1M1138 80l0 3M1046 251l0 1M957 230l0 2M919 251l-1 0M1091 206l-1 2M965 198l-1 1M1105 107l-2 1M1144 190l1 3M961 149l1 0M1085 177l-1 0M967 237l-1 1M1025 139l2 1M1114 245l1 1M1118 217l1 0M1100 213l-1 2M1062 247l-2 2M1163 171l1 2M942 197l1 2M1082 138l-2 1M1026 117l2 1M925 180l0 1M1157 248l-1 1M1127 248l0 1M924 64l0 3M934 235l2 1M1121 150l-2 1M1085 238l-2 0M971 164l-1 2M973 147l-1 1M981 130l0 1M1139 183l2 2M1135 107l-1 0M1086 242l2 1M965 253l-2 1M1031 243l1 1M1109 196l2 1M994 223l-2 1M1115 147l1 2M1141 246l-2 1M1157 195l-1 2M1086 90l1 3M1083 112l-2 1M1059 165l2 0M970 233l1 3M1093 217l0 1M1132 140l0 1M918 231l0 1M1099 169l1 0M1159 249l-1 1M921 213l-1 0M946 177l1 0M916 60l3 1M1155 165l1 2M1049 244l0 0M959 198l0 2M1016 249l0 1M1036 122l0 1M1027 189l1 0M1117 253l1 1M1116 158l-1 2M1086 96l1 2M1041 252l-1 0M1159 129l1 0M992 217l-1 0M1139 253l0 2M1149 148l0 3M1166 140l-2 0M1005 139l2 1M918 87l1 1M940 234l2 1M1121 239l0 2M1084 205l-2 2M1083 216l1 0M1065 241l0 2M1007 91l0 1M929 169l1 1M1024 228l3 1M1015 129l-1 0M1038 94l-1 1M1056 204l0 1M1063 155l2 1M1163 134l0 1M1171 203l1 1M1031 156l1 3M1059 73l-1 1M958 254l-2 1M937 236l3 0M984 70l-1 2M1035 150l-1 0M927 149l0 0M1123 240l0 1M977 76l2 1M1124 238l-2 2M1172 231l-2 0M973 202l1 0M1019 96l-1 0M968 87l1 1M936 180l-1 1M1067 195l-2 1M1170 212l-2 1M1124 89l-3 0M1072 159l1 2M947 165l1 0M1139 255l2 1M953 143l0 1M990 101l-2 2M1118 246l0 2M1129 219l2 1M1050 128l0 2M1064 180l-1 1M1168 90l-2 1M1170 62l0 1M958 163l-3 0M1113 104l-2 1M960 157l-2 1M983 162l1 2M1044 149l1 2M1112 169l0 3M944 140l2 0M1126 100l-2 1M1159 221l1 1M1108 234l-3 0M997 205l-2 1M1083 172l-1 3M1051 133l2 2M1125 71l-3 1M1087 153l-3 2M1127 147l-2 0M1090 182l2 0M996 195l0 1M1110 238l0 3M928 85l0 2M915 117l0 1M1020 177l-1 1M1160 236l-2 1M917 219l1 1M945 79l2 0M1117 99l0 0M1004 129l1 0M975 142l-2 1M1166 226l-2 2M1069 126l-1 2M1096 73l-2 1M1021 158l-1 2M1015 225l2 1M978 106l-2 2M1102 128l1 1M1040 124l0 1M1107 88l0 2M977 251l0 1M922 210l1 2M1155 135l-2 1M1140 188l2 0M1012 218l1 0M957 236l-1 0M937 129l3 1M1073 234l1 2M1112 61l1 1M1163 229l1 1M926 96l-1 1M1096 113l1 1M1110 170l0 1M1170 124l1 1M1111 169l1 1M1078 83l1 2M972 80l2 1M944 250l2 1M1010 149l0 1M1165 82l1 3M1042 197l-1 1M1141 234l-1 2M1069 187l0 2M970 254l1 2M1151 114l1 1M1022 255l0 1M946 160l-1 1M1128 104l2 2M988 209l2 0M984 179l1 0M1087 198l1 3M1115 235l-1 3M1157 151l-1 2M951 117l0 0M1157 123l-1 3M1099 137l-1 1M983 189l-1 2M1020 216l-2 0M972 123l-1 1M1015 61l0 2M1089 253l1 1M1117 187l1 2M1033 121l-2 0M933 122l0 3M1076 163l0 0M1058 238l-3 0M923 109l2 1M1153 157l0 2M1078 255l0 1M1105 254l1 0M1015 66l0 2M1096 205l1 1M1051 75l0 1M1028 141l0 2M1148 223l-2 1M1088 71l0 1M1170 70l-1 1M1091 211l0 1M994 147l1 1M1153 214l1 1M1117 225l2 0M914 102l1 1M1026 132l-1 3M1171 243l0 1M997 102l1 0M1152 154l0 2M943 240l0 2M1005 107l1 1M1169 151l0 2M1019 75l-1 3M936 219l1 0M966 185l1 2M1149 100l2 1M1030 70l-1 2M913 173l2 1M1065 111l-1 2M1144 167l0 1M975 98l-1 0M1056 178l1 0M1007 116l-1 0M995 112l-1 0M1012 180l-1 3M952 230l-1 0M936 236l-1 0M1138 225l-2 1M1037 96l-1 0M1160 140l-1 2M922 245l1 1M1127 244l1 0M949 107l-2 0M949 254l1 0M1148 151l2 1M997 179l1 0M934 167l1 1M929 95l1 2M1033 184l0 1M1154 93l-2 0M933 92l0 1M1153 188l-2 1M1063 130l-1 1M1124 99l1 2M924 192l-1 2M1171 201l2 1M1134 163l0 1M1147 206l1 0M1075 154l-2 2M929 248l1 1M1059 199l-1 1M1104 198l1 2M1018 193l0 1M1106 203l-1 2M982 87l-2 1M970 155l2 1M1053 229l2 0M1138 251l1 0M1157 244l2 0M1079 110l2 0M963 201l0 2M969 216l1 2M1107 65l0 1M952 251l1 0M1105 221l-1 1M966 254l-2 1M1147 155l1 0M1076 172l0 1M1123 239l2 1M1133 103l-1 1M1164 171l-3 0M962 216l0 3M1015 217l0 1M1099 62l-1 2M920 169l-1 0M1157 197l-1 0M973 160l-1 0M958 204l-1 0M1086 143l0 1M1167 171l0 2M1160 220l1 0M1108 79l1 0M1156 170l3 0M1020 163l-1 3M1081 200l1 1M1148 135l-1 0M1046 117l0 3M999 74l1 2M970 82l0 3M987 123l0 0M1083 116l0 1M1076 144l0 1M1130 250l0 1M1034 82l2 0M1095 105l2 2M1122 159l0 0M1099 111l1 1M1158 80l-2 1M1043 248l0 1M947 60l2 2M1079 178l2 1M992 78l3 1M981 138l3 0M1163 86l1 2M1121 226l0 1M1027 214l1 0M925 134l0 0M1004 175l-2 1M981 157l-1 0M1122 215l2 0M918 251l1 0M1086 221l1 2M990 251l1 2M1152 223l-1 1M1092 212l0 3M1137 186l2 1M1153 174l0 0M1143 188l0 1M1069 76l-1 0M1003 132l1 2M1151 241l-2 1M996 181l-3 1M1002 200l-1 0M943 160l-1 0M1100 208l0 1M916 117l1 0M992 244l-2 1M1167 196l0 1M1165 194l-2 2M1094 201l0 1M928 156l-2 2M1119 80l-1 1M1013 244l0 1M1122 131l-1 3M1082 78l-1 2M1093 155l0 3M994 171l-1 2M1017 62l-1 1M1000 218l-3 1M977 205l1 1M1056 160l0 2M1088 114l0 0M1080 143l1 0M1064 185l-2 1M1148 149l-1 2M974 214l2 1M939 140l-2 1M1153 228l-1 2M1061 101l0 1M924 233l0 1M951 229l-1 1M936 211l-3 0M1099 221l1 0M1095 147l-1 1M1138 181l-1 0M1079 173l0 2M1061 80l1 2M1108 229l0 3M1143 232l1 0M1016 70l-2 0M936 131l-3 1M937 175l0 2M1123 253l2 0M1119 78l-2 1M1169 144l-1 1M1012 186l0 0M1130 213l-1 1M1053 142l2 0M1109 242l1 0M1144 208l1 0M1148 216l1 1M979 61l-1 1M1008 228l1 2M1110 107l-1 2M1032 211l1 0M1036 124l1 1M980 60l-1 0M1143 146l2 1M1148 254l-2 0M1072 100l2 1M924 211l0 0M1068 145l-1 0M1044 232l0 2M1079 88l2 2M1115 202l-1 1M929 212l-1 2M1074 100l-2 0M1171 64l-1 1M978 201l0 0M1052 61l0 1M935 69l2 0M1014 117l1 1M1058 165l2 1M1126 137l1 2M1032 96l0 2M1132 203l0 1M1091 98l0 1M973 90l0 2M1075 111l0 1M992 182l-1 1M1089 154l-1 1M1067 93l0 1M1156 156l2 2M962 206l-1 1M1141 80l2 1M1091 131l-1 1M1066 228l-1 1M1095 75l1 1M1087 106l1 2M1081 124l1 2M1052 150l-1 1M947 129l0 1M1065 187l2 2M1152 162l1 3M1032 241l1 1M1017 81l0 2M984 165l0 2M936 193l-3 1M930 87l0 1M1091 207l0 1M930 206l3 0M920 87l0 1M975 60l-1 1M1162 220l1 1M1162 161l-1 3M950 231l-1 1M1015 193l0 1M1119 99l1 0M1082 172l0 2M930 250l0 2M1119 167l2 0M1128 117l1 1M1093 227l2 0M1140 253l0 1M1008 189l0 0M1087 208l0 1M1098 169l0 3M972 143l-1 2M967 194l-1 1M965 104l1 2M991 231l-2 2M1111 247l0 1M1085 74l-2 0M951 156l1 2M1095 228l-1 3M1063 174l-2 0M1169 122l-1 0M1033 200l1 1M1057 164l-2 1M1049 211l2 1M1137 209l0 2M945 220l0 2M1096 167l1 2M1126 224l0 1M1039 74l1 0M933 250l-1 1M1085 155l-1 2M1127 121l0 1M1081 164l2 1M1153 162l0 2M1111 226l-1 0M913 255l-2 0M918 250l1 1M1102 245l-2 2M1145 110l1 2M1115 107l-2 0M980 211l-3 0M1131 226l1 0M1156 251l1 3M1168 160l2 0M1118 215l0 1M1163 70l-2 2M945 247l0 1M1058 178l-2 2M1147 199l2 0M1077 112l0 1M1001 177l-1 1M1076 201l1 1M1080 151l3 0M1026 186l0 1M1146 157l0 1M1014 220l-2 1M1110 244l1 1M1054 122l-2 1M1040 112l1 1M1096 75l1 0M1127 186l0 3M959 197l3 0M1086 205l-2 2M1170 175l0 1M966 193l1 1M1123 238l-2 2M1134 130l1 0M1169 111l1 0M1035 110l3 0M936 71l1 1M1118 203l-1 1M1096 240l0 2M1071 64l0 3M1016 252l-1 0M1069 213l3 1M1048 223l2 1M1081 96l1 3M1010 109l-1 0M1094 64l3 1M1027 66l0 1M1141 246l2 2M1158 166l-3 1M1048 135l1 3M1171 197l0 2M1133 239l1 3M1040 118l2 2M949 192l-1 0M922 69l-1 2M1046 172l0 1M1073 129l0 1M1079 161l0 1M997 236l-2 0M961 76l-2 1M1028 203l0 1M1016 245l2 0M973 66l-2 1M1118 244l0 1M936 191l1 2M1027 163l-1 0M1065 132l1 1M1026 73l0 1M1039 70l-2 1M990 216l-2 0M958 238l2 1M1042 231l0 1M1010 85l1 2M1161 133l1 0M989 236l1 1M954 161l-1 2M1011 249l-1 1M978 225l-2 2M1057 140l1 2M978 98l0 1M940 144l1 2M1142 166l2 1M1052 254l1 1M950 250l2 0M1103 203l2 2M1108 113l-1 1M940 196l-1 1M960 63l1 1M961 209l1 2M1137 196l1 1M1088 70l2 2M1128 221l-1 2M1108 168l-2 1M995 159l1 2M1123 235l2 2M1002 87l1 0M1166 62l-1 2M987 228l-1 1M1002 203l-1 2M972 201l3 1M1129 172l0 1M1154 86l-1 1M1056 139l3 0M914 80l-1 1M1061 135l-3 0M1048 176l1 1M951 151l1 2M940 203l0 0M915 178l-1 1M1019 176l2 1M1114 135l-1 0M936 254l1 0M967 178l-1 1M946 232l2 2M1054 115l-1 2M1046 88l1 0M917 98l0 0M952 252l-1 0M1098 80l0 2M1051 154l0 2M1100 136l1 0M1137 182l2 1M1031 209l-2 2M972 166l-2 1M917 179l-1 0M1144 230l1 0M1089 169l1 3M1026 204l0 2M1015 247l2 2M1134 242l-3 0M938 237l-1 1M1059 119l-1 1M1126 173l-1 1M1123 170l1 0M1011 243l1 2M1093 199l-2 0M983 72l1 0M1067 106l1 0M954 200l-1 2M936 246l0 2M1107 170l2 1M1046 104l-1 1M968 218l0 1M1152 227l-2 1M1144 239l1 1M1151 67l0 2M940 189l1 0M1035 72l1 0M1160 167l0 2M1136 86l-2 2M1047 180l0 1M1107 251l2 0M1045 111l2 0M1077 121l0 3M1109 157l2 2M1124 186l1 0M953 178l-2 2M937 85l-2 2M1103 131l2 2M1052 121l1 0M1125 99l-2 2M982 235l-2 2M930 200l-1 2M1143 155l-1 1M960 72l-3 1M983 159l1 0M1134 227l2 1M1053 112l-2 2M1009 200l-1 1M1116 125l-1 1M1136 250l-1 2M1010 84l3 1M991 124l-1 0M1155 72l2 1M1081 140l2 1M1168 218l0 1M1141 128l1 1M987 62l1 2M1093 81l2 1M1049 95l-1 1M1002 198l0 1M1168 133l-1 2M1095 158l0 1M1121 202l-2 0M1118 67l0 2M977 235l0 1M1108 210l1 2M939 235l0 0M1118 117l-2 0M915 231l0 1M930 210l1 1M961 213l0 3M1146 206l-2 2M986 111l0 3M999 165l-1 2M1122 125l-1 0M1020 143l1 2M1135 235l1 1M1031 133l3 1M1151 62l2 1M1103 143l0 1M915 122l0 3M1158 146l1 1M1019 104l-2 2M955 182l-1 0M1052 74l0 1M1085 235l0 1M1037 230l-3 1M991 165l0 1M1153 241l-2 1M1118 147l0 1M1086 115l0 1M1127 135l-2 0M934 224l-1 2M995 199l2 1M1171 137l-2 1M1127 211l1 0M1162 223l-1 1M1085 226l-2 1M953 230l-1 2M1012 205l1 2M1032 147l-2 1M1143 73l-1 0M1116 133l1 1M1048 165l1 0M1034 133l2 1M1130 220l-2 2M1145 150l1 0M1082 233l-1 3M1087 120l1 0M1116 217l-3 1M1143 197l-2 2M1149 65l1 2M1101 139l0 2M934 109l2 2M920 172l0 2M968 63l-1 0M1031 254l0 1M1079 218l-1 0M966 120l1 0M1127 243l0 2M1128 190l-1 1M1109 123l-1 1M1156 214l1 0M913 251l-1 2M979 193l1 2M1112 142l-1 0M1115 205l-1 0M1105 142l0 1M1043 65l1 1M1066 68l-1 1M949 206l2 1M1025 144l1 1M1043 149l-1 1M1062 121l1 0M1122 63l-2 2M1145 147l-3 0M1126 240l2 2M997 255l-1 0M1169 202l2 1M1131 170l0 2M1052 65l0 3M933 202l0 1M945 135l0 1M1123 198l0 1M1054 91l2 1M1164 148l1 1M1062 149l-2 0M1019 61l-1 0M1097 116l2 2M949 81l-1 0M983 94l1 2M1144 201l0 1M1093 188l-2 2M1047 243l1 3M1164 205l1 3M1012 62l1 0M1101 239l0 2M1134 190l-3 0M1057 251l0 1M935 210l-1 2M1041 72l2 1M992 249l-1 1M1088 95l0 0M915 222l3 0M1014 66l0 2M1091 156l1 1M940 191l-1 1M1103 187l0 2M1004 206l1 1M962 196l1 1M1091 79l0 1M1115 174l1 0M1039 179l2 0M930 157l1 2M1092 153l2 0M1045 182l1 0M1061 212l3 0M1112 240l-2 2M963 67l0 2M923 106l-1 2M1026 235l2 1M1098 248l2 2M1128 194l1 2M1001 174l0 0M1076 116l0 0M925 157l-1 1M1092 254l1 3M944 204l-2 2M958 66l-1 0M936 208l-2 1M958 203l1 2M976 248l-2 0M978 174l1 0M1039 133l2 1M1031 146l2 0M1106 160l0 2M1083 82l0 2M1075 205l-1 2M1081 81l-2 1M1153 228l-1 2M952 61l-2 1M1110 236l-1 0M1122 82l0 0M1077 154l0 1M949 188l-1 0M1030 69l-1 1M938 86l1 0M1097 89l-1 2M1045 223l-1 1M1130 150l0 1M960 249l-1 2M1155 80l-2 1M989 213l0 1M978 218l-3 0M1170 210l-1 1M1129 238l2 1M997 186l1 1M1091 143l3 1M988 219l0 0M1147 108l0 1M1139 75l-3 0M958 67l1 1M1085 78l0 2M927 188l1 0M1032 160l-2 2M1150 180l1 0M1152 158l-1 1M971 198l0 1M1117 108l1 1M1148 66l2 0M1019 210l-1 1M1094 188l-1 0M1105 85l-1 1M992 254l0 1M1080 139l2 1M1015 134l-1 2M1013 224l-3 0M937 215l-1 0M1128 211l1 1M1149 215l-3 0M914 227l0 1M934 166l0 1M1123 73l0 2M1009 203l-2 0M925 246l0 2M963 183l-1 2M1114 176l-2 0M938 84l2 0M1070 60l-1 0M1127 253l-2 0M1011 119l-2 1M934 231l-2 1M1110 82l1 2M1074 72l0 0M987 224l-2 3M1088 241l1 0M1172 200l1 0M1065 90l-2 1M1071 203l0 1M1055 125l0 1M1091 224l-2 1M1124 182l0 2M1168 114l-2 1M1003 87l0 0M950 251l0 3M966 146l0 2M927 221l1 1M991 150l0 3M1107 233l-2 2M1081 244l0 2M1141 198l0 1M1034 116l0 0M1113 209l1 0M934 207l-1 2M986 202l2 0M1070 87l0 2M1080 202l1 2M1029 141l2 0M1123 162l0 0M936 242l-1 1M1047 153l-1 0M959 183l0 1M1003 162l3 1M1009 93l1 3M1126 215l-2 1M1057 225l3 0M1051 73l-3 0M933 209l1 2M1143 145l-1 1M992 150l2 0M1106 187l2 1M997 197l-1 2M1014 128l1 0M1143 199l-1 1M952 229l-1 1M1042 185l-1 3M936 156l-2 1M1168 223l0 1M929 235l0 1M1124 156l1 2M1126 228l1 0M946 120l1 0M1129 173l1 1M1152 196l2 1M1070 214l-2 1M1168 232l0 1M1115 188l-2 1M933 94l-1 1M1074 227l-1 1M986 220l-1 0M1169 124l0 2M1020 124l-1 1M1164 219l0 1M1092 75l-1 1M1141 131l-1 1M1133 88l1 2M1136 193l1 1M945 223l-2 0M1079 172l1 0M968 184l2 1M1110 103l0 1M917 233l-1 1M922 188l-1 0M1091 243l0 2M1154 190l-2 0M940 66l1 0M1158 245l-2 1M971 187l-1 0M1144 173l-2 0M1098 175l2 1M995 201l-1 1M956 226l-1 0M946 188l0 2M969 159l1 2M956 208l0 0M1016 80l0 2M924 245l-1 2M1118 104l0 2M994 209l1 0M930 75l1 0M1088 239l-3 0M1079 122l-2 1M1086 241l-3 1M1041 164l-2 1M1128 145l1 2M959 182l-1 1M1077 121l-1 2M945 194l1 1M1040 105l-1 1M1169 177l0 1M948 243l-1 3M1115 164l-2 1M1137 233l-1 0M1157 183l1 1M1029 109l2 1M1131 168l-1 1M1134 176l1 0M945 127l-1 2M1111 243l-1 1M945 247l0 1M1126 234l1 2M1042 174l-1 0M1139 132l1 2M1057 110l2 1M1064 113l2 1M1033 222l0 2M1077 147l1 1M1149 142l2 2M1127 91l-3 0M945 165l3 1M1000 255l1 0M993 176l0 1M916 158l-2 2M960 187l-2 2M969 170l-1 3M1158 209l1 3M1106 82l0 1M1089 142l2 2M1147 185l0 1M1079 84l-1 1M1022 105l-1 0M944 190l-1 2M1169 110l2 1M996 184l-2 1M965 236l2 0" stroke="#b2509e" stroke-width="3.3"/>
<path d="M974 166h0M1066 118h0M938 86h0M1075 118h0M1170 191h0M1134 253h0M924 200h0M1044 255h0M921 98h0M924 229h0M1048 167h0M928 182h0M1096 204h0M1067 122h0M1067 118h0M1060 203h0M1094 79h0M1027 227h0M1079 217h0M1119 113h0M1019 239h0M1141 252h0M1146 235h0M1116 128h0M1122 220h0M926 113h0M1035 211h0M995 121h0M1099 134h0M1093 74h0M945 218h0M924 78h0M919 224h0M1130 246h0M1108 136h0M1021 76h0M1146 89h0M961 112h0M982 102h0M1129 220h0M1162 151h0M975 97h0M1136 235h0M1023 202h0M1014 166h0M938 243h0M1162 191h0M1032 121h0M1006 111h0M1005 125h0M1066 88h0M1060 99h0M990 227h0M963 163h0M1075 69h0M1053 241h0M948 227h0M1155 228h0M941 68h0M1068 103h0M950 149h0M1040 71h0M1095 70h0M1074 127h0M984 213h0M1076 127h0M1066 60h0M1089 241h0M999 132h0M940 171h0M975 69h0M970 169h0M1117 164h0M1067 219h0M1102 75h0M1081 178h0M1000 144h0M1172 239h0M1105 205h0M1019 75h0M1009 91h0M1122 118h0M956 69h0M922 96h0M1121 141h0M985 93h0M1154 218h0M1155 179h0M1162 185h0M1012 221h0M986 85h0M972 99h0M950 236h0M1081 87h0M925 247h0M1014 252h0M1172 251h0M1116 171h0M1131 92h0M1049 209h0M951 177h0M1140 252h0M1097 130h0M1064 88h0M949 76h0M944 231h0M1068 76h0M1129 95h0M1092 76h0M930 61h0M1064 232h0M1049 172h0M1050 99h0M963 230h0M944 238h0M958 206h0M1076 146h0M1040 173h0M1127 99h0M1107 116h0M996 201h0M1019 172h0M965 158h0M1152 229h0M943 245h0M1045 99h0M1103 236h0M997 208h0M1024 217h0M1013 69h0M1133 202h0M1106 239h0M1069 91h0M948 61h0M1068 116h0M964 171h0M1085 203h0M929 215h0M945 255h0M992 152h0M924 248h0M1058 136h0M992 204h0M975 95h0M979 232h0M1007 201h0M1025 99h0M1026 88h0M972 236h0M931 108h0M927 236h0M965 240h0M1146 137h0M919 230h0M1018 125h0M961 251h0M1119 110h0M1136 115h0M1102 176h0M969 79h0M1159 186h0M1040 222h0M1028 198h0M1058 172h0M1118 122h0M1007 164h0M1137 219h0M1131 241h0M937 205h0M1091 225h0M1124 132h0M1080 160h0M1110 114h0M1119 181h0M945 162h0M1111 208h0M1059 155h0M1005 235h0M1165 60h0M1095 169h0M1028 77h0M1126 129h0M1144 215h0M936 241h0M995 73h0M1134 220h0M953 166h0M950 197h0M957 250h0M980 150h0M1097 229h0M1066 96h0M1116 90h0M1119 182h0M1167 67h0M1137 107h0M1140 146h0M1146 170h0M1118 207h0M1136 198h0M1038 170h0M984 238h0M1028 85h0M1052 102h0M941 86h0M936 163h0M1164 209h0M980 127h0M1069 147h0M1109 128h0M979 208h0M1149 243h0M918 155h0M1016 177h0M1003 97h0M1004 123h0M947 196h0M1149 213h0M1135 119h0M963 217h0M1033 196h0M1028 117h0M1127 83h0M1095 116h0M984 108h0M1066 244h0M1031 90h0M1157 163h0M1138 201h0M1081 128h0M1003 226h0M1108 166h0M1126 222h0M1062 61h0M1151 236h0M1091 214h0M1135 132h0M959 234h0M1161 115h0M1039 238h0M1159 76h0M1044 144h0M943 164h0M985 119h0M1155 241h0M1101 138h0M962 102h0M1081 125h0M992 165h0M1156 220h0M963 236h0M1103 110h0M928 217h0M1027 94h0M986 158h0M1100 246h0M1114 85h0M1025 64h0M1138 232h0M1119 188h0M1138 96h0M1024 137h0M914 72h0M1167 116h0M977 105h0M1099 199h0M958 85h0M1054 153h0M1132 229h0M968 221h0M936 61h0M1152 215h0M1143 161h0M1144 218h0M1083 69h0M1097 113h0M1044 201h0M1060 195h0M983 245h0M1125 119h0M1005 107h0M972 246h0M1033 241h0M1069 70h0M1148 169h0M1006 61h0M976 180h0M1100 143h0M952 252h0M1065 219h0M1130 197h0M1086 134h0M1136 117h0M1127 232h0M1128 227h0M992 228h0M956 163h0M1007 175h0M1004 216h0M1084 83h0M944 220h0M972 172h0M1114 199h0M1113 117h0M977 217h0M1119 161h0M1091 151h0M1011 60h0M951 225h0M996 115h0M1005 215h0M1158 62h0M1164 228h0M1026 135h0M1115 243h0M975 72h0M958 159h0M1142 212h0M1015 153h0M1076 195h0M1133 143h0M1148 236h0M942 71h0M1108 192h0M1019 81h0M1141 249h0M945 93h0M1136 216h0M1117 173h0M971 64h0M1167 172h0M916 86h0M989 184h0M1032 66h0M1110 233h0M1018 92h0M1059 189h0M1127 229h0M1042 194h0M1116 180h0M1148 183h0M946 233h0M930 136h0M1050 98h0M1167 199h0M928 232h0M1017 243h0M1008 170h0M963 223h0M990 237h0M1170 169h0M992 216h0M1113 235h0M1099 236h0M1128 215h0M1127 131h0M1082 60h0M1101 108h0M937 69h0M937 188h0M1085 62h0M1020 157h0M1024 177h0M1170 216h0M1123 240h0M1149 210h0M1101 162h0M953 244h0M1103 88h0M1144 253h0M966 177h0M1172 83h0M1145 150h0M1082 200h0M926 115h0M1007 210h0M995 119h0M1121 142h0M1120 179h0M973 92h0M965 92h0M981 185h0M979 210h0M962 208h0M996 191h0M1003 76h0M983 238h0M1034 112h0M1111 196h0M1165 182h0M928 146h0M1087 71h0M1136 130h0M990 72h0M1137 207h0M989 157h0M1020 250h0M1030 173h0M1083 98h0M1003 137h0M1049 77h0M1010 248h0M917 228h0M979 170h0M990 199h0M1016 149h0M913 208h0M978 227h0M984 146h0M984 245h0M1095 112h0M1010 215h0M1121 229h0M1119 117h0M1083 222h0M1150 205h0M972 228h0M960 137h0M1156 236h0M1149 215h0M948 223h0M972 156h0M938 93h0M920 142h0M951 232h0M1000 97h0M928 81h0M1117 164h0M967 81h0M1162 150h0M937 209h0M1132 165h0M960 98h0M1101 253h0M1063 105h0M1057 143h0M1093 234h0M1150 167h0M942 212h0M1152 222h0M1009 86h0M1043 88h0M974 231h0M950 80h0M1001 83h0M1044 106h0M1019 200h0M1103 102h0M918 124h0M1013 93h0M1153 201h0M984 172h0M1104 173h0M1124 180h0M1057 237h0M1163 210h0M1038 153h0M986 145h0M1077 141h0M1072 100h0M1153 204h0M1163 186h0M1076 222h0M973 198h0M1160 67h0M914 175h0M1094 243h0M1002 84h0M1117 241h0M1140 238h0M1136 227h0M949 158h0M1045 89h0M1042 239h0M927 181h0M1116 217h0M917 147h0M1123 145h0M1107 142h0M961 253h0M981 245h0M990 229h0M1028 100h0M1066 62h0M956 153h0M923 143h0M917 124h0M1014 125h0M1014 220h0M1076 85h0M1156 218h0M1080 144h0M1113 94h0M1092 177h0M1153 203h0M1091 222h0M973 166h0M918 232h0M966 222h0M950 205h0M1076 68h0M1074 104h0M1109 122h0M1084 208h0M964 183h0M948 125h0M1144 242h0M1163 108h0M1133 176h0M1149 231h0M1146 62h0M1081 141h0M965 253h0M1068 140h0M1079 140h0M1049 70h0M1096 76h0M990 169h0M1153 118h0M1136 175h0M969 129h0M1052 249h0M960 238h0M1008 62h0M1075 178h0M1021 95h0M945 150h0M968 207h0M1123 77h0M1142 116h0M1115 108h0M947 139h0M973 251h0M1148 185h0M943 111h0M998 208h0M917 175h0M1063 130h0M958 250h0M1058 60h0M1157 175h0M1082 187h0M1003 123h0M1042 69h0M1047 176h0M1082 173h0M1032 216h0M971 195h0M1044 133h0M1081 82h0M1097 185h0M974 207h0M1134 210h0M1143 177h0M1124 65h0M993 168h0M1019 129h0M1079 186h0M918 204h0M1096 159h0M1047 202h0M1009 226h0M1116 156h0M1131 144h0M1055 83h0M1044 75h0M1063 141h0M1008 132h0M1170 170h0M1073 77h0M963 250h0M952 192h0M967 179h0M1010 251h0M994 99h0M1133 159h0M1164 87h0M919 66h0M1078 170h0M915 72h0M1086 238h0M949 223h0M1119 165h0M1081 92h0M1079 151h0M1170 84h0M1119 219h0M1123 145h0M1150 189h0M934 221h0M1048 236h0M1046 251h0M957 230h0M919 251h0M1091 206h0M1144 190h0M961 149h0M1085 177h0M967 237h0M1114 245h0M1118 217h0M1100 213h0M1163 171h0M942 197h0M1082 138h0M1026 117h0M925 180h0M1157 248h0M1127 248h0M924 64h0M1121 150h0M1085 238h0M971 164h0M973 147h0M1139 183h0M1135 107h0M1086 242h0M965 253h0M1109 196h0M1115 147h0M1083 112h0M1059 165h0M970 233h0M1093 217h0M918 231h0M1099 169h0M1159 249h0M921 213h0M946 177h0M1155 165h0M1049 244h0M959 198h0M1016 249h0M1027 189h0M1117 253h0M1116 158h0M1086 96h0M1041 252h0M1159 129h0M992 217h0M1139 253h0M1166 140h0M918 87h0M940 234h0M1121 239h0M1084 205h0M1083 216h0M1065 241h0M1007 91h0M1024 228h0M1056 204h0M1063 155h0M1163 134h0M1171 203h0M1031 156h0M1059 73h0M958 254h0M937 236h0M984 70h0M927 149h0M1123 240h0M977 76h0M1124 238h0M1172 231h0M973 202h0M1019 96h0M968 87h0M936 180h0M1067 195h0M1072 159h0M1139 255h0M953 143h0M990 101h0M1118 246h0M1050 128h0M1064 180h0M1168 90h0M1170 62h0M1113 104h0M960 157h0M1112 169h0M1126 100h0M1159 221h0M1108 234h0M997 205h0M1083 172h0M1051 133h0M1125 71h0M1087 153h0M1127 147h0M1110 238h0M928 85h0M1020 177h0M1160 236h0M917 219h0M945 79h0M1117 99h0M1004 129h0M975 142h0M1096 73h0M1015 225h0M978 106h0M1102 128h0M1040 124h0M1107 88h0M1155 135h0M1012 218h0M957 236h0M937 129h0M1073 234h0M1163 229h0M926 96h0M1096 113h0M1110 170h0M1111 169h0M1078 83h0M944 250h0M1010 149h0M1165 82h0M1042 197h0M1069 187h0M970 254h0M1151 114h0M1022 255h0M1128 104h0M988 209h0M984 179h0M1087 198h0M1115 235h0M1157 151h0M951 117h0M1099 137h0M1020 216h0M972 123h0M1015 61h0M1089 253h0M1117 187h0M1033 121h0M933 122h0M1076 163h0M923 109h0M1153 157h0M1078 255h0M1015 66h0M1051 75h0M1028 141h0M1148 223h0M1170 70h0M994 147h0M1153 214h0M914 102h0M1026 132h0M1171 243h0M997 102h0M1152 154h0M943 240h0M1005 107h0M936 219h0M966 185h0M1149 100h0M1030 70h0M913 173h0M1065 111h0M1144 167h0M975 98h0M1056 178h0M995 112h0M952 230h0M936 236h0M1138 225h0M1037 96h0M922 245h0M1127 244h0M949 254h0M1148 151h0M997 179h0M934 167h0M929 95h0M1033 184h0M1154 93h0M933 92h0M1153 188h0M1063 130h0M1124 99h0M924 192h0M1147 206h0M1018 193h0M1106 203h0M970 155h0M1053 229h0M1138 251h0M1157 244h0M1079 110h0M963 201h0M969 216h0M1107 65h0M952 251h0M1105 221h0M1076 172h0M1164 171h0M962 216h0M1015 217h0M920 169h0M973 160h0M958 204h0M1086 143h0M1167 171h0M1108 79h0M1020 163h0M1148 135h0M1046 117h0M999 74h0M987 123h0M1083 116h0M1076 144h0M1130 250h0M1034 82h0M1095 105h0M1122 159h0M1099 111h0M1158 80h0M947 60h0M1079 178h0M981 138h0M1163 86h0M1121 226h0M925 134h0M1004 175h0M981 157h0M918 251h0M1086 221h0M990 251h0M1152 223h0M1153 174h0M1003 132h0M1002 200h0M943 160h0M1100 208h0M916 117h0M992 244h0M1167 196h0M1094 201h0M1119 80h0M1013 244h0M1122 131h0M1082 78h0M1093 155h0M1017 62h0M1000 218h0M977 205h0M1056 160h0M1088 114h0M1080 143h0M1064 185h0M1148 149h0M1153 228h0M1061 101h0M924 233h0M951 229h0M936 211h0M1099 221h0M1095 147h0M1138 181h0M1079 173h0M1061 80h0M1108 229h0M1016 70h0M1119 78h0M1012 186h0M1130 213h0M979 61h0M1008 228h0M1110 107h0M1036 124h0M980 60h0M1143 146h0M1148 254h0M924 211h0M1068 145h0M1044 232h0M1079 88h0M929 212h0M1074 100h0M1171 64h0M978 201h0M935 69h0M1126 137h0M1091 98h0M973 90h0M1075 111h0M1089 154h0M1067 93h0M1156 156h0M1141 80h0M1091 131h0M1066 228h0M1052 150h0M947 129h0M1065 187h0M1152 162h0M1032 241h0M1017 81h0M936 193h0M930 87h0M1091 207h0M930 206h0M920 87h0M975 60h0M1162 220h0M1162 161h0M1015 193h0M1119 99h0M930 250h0M1119 167h0M1128 117h0M1093 227h0M1140 253h0M1008 189h0M1087 208h0M1098 169h0M972 143h0M991 231h0M1095 228h0M1169 122h0M1033 200h0M1049 211h0M1137 209h0M945 220h0M1096 167h0M1126 224h0M1039 74h0M933 250h0M1085 155h0M1127 121h0M1081 164h0M1153 162h0M1111 226h0M1102 245h0M1145 110h0M980 211h0M1131 226h0M1156 251h0M1168 160h0M1118 215h0M1163 70h0M1147 199h0M1077 112h0M1080 151h0M1026 186h0M1014 220h0M1110 244h0M1040 112h0M959 197h0M1086 205h0M966 193h0M1123 238h0M1134 130h0M1169 111h0M936 71h0M1118 203h0M1096 240h0M1016 252h0M1048 223h0M1081 96h0M1010 109h0M1094 64h0M1027 66h0M1141 246h0M1158 166h0M1171 197h0M1040 118h0M949 192h0M922 69h0M1073 129h0M1079 161h0M997 236h0M961 76h0M1028 203h0M1016 245h0M973 66h0M1118 244h0M936 191h0M1027 163h0M1065 132h0M1026 73h0M1039 70h0M990 216h0M958 238h0M1042 231h0M1161 133h0M989 236h0M954 161h0M978 225h0M940 144h0M1142 166h0M1052 254h0M950 250h0M1103 203h0M940 196h0M960 63h0M1137 196h0M1128 221h0M1108 168h0M1123 235h0M987 228h0M972 201h0M1056 139h0M914 80h0M1061 135h0M1048 176h0M940 203h0M915 178h0M1019 176h0M1114 135h0M936 254h0M1046 88h0M952 252h0M1098 80h0M1051 154h0M1100 136h0M1137 182h0M1089 169h0M1026 204h0M1015 247h0M1059 119h0M1126 173h0M1123 170h0M1011 243h0M983 72h0M1067 106h0M936 246h0M1107 170h0M1151 67h0M940 189h0M1035 72h0M1160 167h0M1136 86h0M1047 180h0M1107 251h0M1045 111h0M1077 121h0M1124 186h0M937 85h0M1052 121h0M930 200h0M960 72h0M983 159h0M1134 227h0M1053 112h0M1009 200h0M1116 125h0M1136 250h0M1010 84h0M991 124h0M1155 72h0M1081 140h0M1168 218h0M1141 128h0M1093 81h0M1168 133h0M1121 202h0M1118 67h0M1118 117h0M915 231h0M930 210h0M961 213h0M1146 206h0M986 111h0M1122 125h0M1020 143h0M1135 235h0M1151 62h0M1103 143h0M915 122h0M1019 104h0M991 165h0M1127 135h0M934 224h0M995 199h0M1171 137h0M1127 211h0M1162 223h0M1085 226h0M1012 205h0M1143 73h0M1116 133h0M1048 165h0M1034 133h0M1130 220h0M1145 150h0M1082 233h0M1087 120h0M1116 217h0M1143 197h0M1149 65h0M1101 139h0M934 109h0M920 172h0M1031 254h0M1127 243h0M1128 190h0M913 251h0M979 193h0M1115 205h0M1043 65h0M949 206h0M1025 144h0M1043 149h0M1145 147h0M997 255h0M1169 202h0M1131 170h0M1052 65h0M933 202h0M945 135h0M1054 91h0M1164 148h0M1062 149h0M1019 61h0M1097 116h0M1144 201h0M1047 243h0M1012 62h0M1101 239h0M1134 190h0M1041 72h0M992 249h0M1088 95h0M915 222h0M1091 156h0M940 191h0M1103 187h0M1004 206h0M962 196h0M1091 79h0M1039 179h0M930 157h0M1045 182h0M1061 212h0M963 67h0M923 106h0M1026 235h0M1128 194h0M1001 174h0M1076 116h0M925 157h0M1092 254h0M944 204h0M958 66h0M936 208h0M958 203h0M976 248h0M1031 146h0M1083 82h0M1075 205h0M1081 81h0M1153 228h0M952 61h0M1110 236h0M1122 82h0M1077 154h0M949 188h0M1030 69h0M938 86h0M1097 89h0M1045 223h0M1155 80h0M978 218h0M1129 238h0M997 186h0M988 219h0M1147 108h0M958 67h0M1032 160h0M1150 180h0M1152 158h0M1148 66h0M1019 210h0M1105 85h0M992 254h0M1080 139h0M1015 134h0M937 215h0M1128 211h0M1149 215h0M934 166h0M1009 203h0M925 246h0M963 183h0M1070 60h0M1127 253h0M1011 119h0M934 231h0M1110 82h0M1074 72h0M987 224h0M1088 241h0M1172 200h0M1071 203h0M1055 125h0M1091 224h0M1124 182h0M1168 114h0M1003 87h0M950 251h0M927 221h0M1107 233h0M1034 116h0M1113 209h0M986 202h0M1070 87h0M1080 202h0M1029 141h0M936 242h0M1047 153h0M959 183h0M1003 162h0M1009 93h0M1126 215h0M1057 225h0M1051 73h0M933 209h0M1143 145h0M992 150h0M1106 187h0M997 197h0M1143 199h0M952 229h0M1042 185h0M936 156h0M1168 223h0M946 120h0M1129 173h0M1152 196h0M1168 232h0M1115 188h0M933 94h0M1074 227h0M986 220h0M1169 124h0M1020 124h0M1164 219h0M1092 75h0M1141 131h0M1133 88h0M1136 193h0M1079 172h0M968 184h0M1110 103h0M917 233h0M922 188h0M1091 243h0M1154 190h0M940 66h0M971 187h0M1144 173h0M1098 175h0M956 226h0M946 188h0M969 159h0M956 208h0M1016 80h0M930 75h0M1088 239h0M1079 122h0M1041 164h0M1077 121h0M945 194h0M1169 177h0M948 243h0M1115 164h0M1137 233h0M1157 183h0M1029 109h0M1131 168h0M1134 176h0M945 127h0M1111 243h0M945 247h0M1042 174h0M1057 110h0M1064 113h0M1077 147h0M1127 91h0M945 165h0M1000 255h0M993 176h0M916 158h0M960 187h0M1158 209h0M1089 142h0M1079 84h0M1022 105h0M996 184h0M965 236h0" stroke="#702a58" stroke-width="2.5" opacity="0.9"/>
<path d="M1021 114h0M1147 199h0M1014 64h0M981 180h0M1130 242h0M1047 214h0M1159 149h0M1076 198h0M1067 198h0M1045 159h0M1008 217h0M956 233h0M1125 193h0M1072 122h0M955 146h0M1047 247h0M1096 241h0M1036 178h0M954 147h0M1149 169h0M951 143h0M1001 60h0M1044 86h0M1117 234h0M935 144h0M946 114h0M915 165h0M990 93h0M1123 80h0M1059 155h0M1115 142h0M1032 108h0M1044 75h0M975 180h0M1055 169h0M963 174h0M1111 210h0M966 86h0M939 204h0M1087 239h0M1160 211h0M1011 85h0M995 102h0M930 152h0M1009 126h0M1148 147h0M961 73h0M1075 107h0M1042 61h0M1036 123h0M918 122h0M1091 210h0M1158 243h0M966 164h0M1154 170h0M1065 102h0M947 87h0M1082 221h0M1162 162h0M1126 190h0M912 99h0M1065 71h0M1128 114h0M958 136h0M986 202h0M1105 182h0M1149 101h0M929 191h0M1128 157h0M1056 243h0M1163 213h0M1047 88h0M935 123h0M1114 158h0M995 237h0M928 129h0M1164 161h0M1066 122h0M920 177h0M1154 82h0M1043 170h0M914 192h0M1015 96h0M1000 91h0M993 177h0M1141 106h0M1001 102h0M1134 212h0M926 62h0M1086 247h0M1156 144h0M940 118h0M1096 246h0M1151 174h0M1154 141h0M1006 201h0M919 208h0M1102 69h0M1119 92h0M916 214h0M998 142h0M1125 161h0M1072 228h0M1138 185h0M1034 62h0M1108 146h0M1076 207h0M1157 87h0M1041 96h0M1132 136h0M926 194h0M1099 176h0M1078 206h0M963 232h0M1023 239h0M1047 171h0M1011 116h0M1062 83h0M979 210h0M1013 111h0M1096 191h0M957 77h0M1153 173h0M929 96h0M1010 68h0M971 212h0M999 171h0M1126 208h0M1067 194h0M1151 220h0M936 154h0M914 190h0M1055 107h0M1063 71h0M1055 184h0M1009 87h0M986 100h0M1075 222h0M1066 253h0M981 141h0M996 165h0M1152 81h0M1140 254h0M960 244h0M1082 244h0M1114 180h0M1128 218h0M1038 165h0M1158 88h0M953 186h0M1050 79h0M936 70h0M1068 120h0M1150 167h0M1098 99h0M969 253h0M1024 252h0M1169 76h0M923 74h0M988 95h0M1085 243h0M954 162h0M1020 76h0M979 193h0M1002 166h0M1096 112h0M1097 68h0M1045 93h0M1134 158h0M938 60h0M1171 235h0M1053 72h0M1015 96h0M1092 196h0M915 170h0M1151 114h0M1010 225h0M994 159h0M1054 153h0M1101 145h0M1028 174h0M1080 139h0M1032 232h0M925 67h0M1009 137h0M1047 125h0M975 106h0M1166 111h0M1014 254h0M955 113h0M1079 202h0M1100 214h0M1017 240h0M943 141h0M914 197h0M1053 101h0M1125 203h0M965 140h0M1049 245h0M1096 144h0M1152 188h0M913 109h0M1066 115h0M957 85h0M1001 59h0M1081 72h0M1061 251h0M1067 88h0M1150 79h0M960 177h0M1112 220h0M1097 208h0M1077 188h0M1104 92h0M1104 183h0M1100 217h0M1153 188h0M918 206h0M1042 218h0M1097 238h0M1139 97h0M1100 86h0M1048 248h0M986 221h0M1043 107h0M1119 198h0M1139 173h0M1153 151h0M987 64h0M952 111h0M1095 70h0M1131 153h0M996 164h0M1156 217h0M1120 120h0M1142 103h0M1123 148h0M1097 115h0M965 78h0M1020 80h0M1121 249h0M974 175h0M937 205h0M1093 74h0M1138 211h0M943 138h0M1148 117h0M936 139h0M950 177h0M916 99h0M1058 125h0M1027 167h0M1149 77h0M954 218h0M1094 234h0M1039 103h0M1085 119h0M1146 218h0M1132 143h0M988 213h0M1140 158h0M914 238h0M1025 209h0M1022 254h0M1008 152h0M995 177h0M938 164h0M1013 213h0M1168 208h0M942 108h0M915 197h0M1171 123h0M945 158h0M1062 198h0M932 122h0M1092 68h0M1014 129h0M914 216h0M1096 119h0M1050 212h0M1116 66h0M1147 174h0M950 113h0M1077 64h0M940 88h0M1040 253h0M1169 187h0M914 251h0M1149 223h0M992 101h0M1028 122h0M1160 195h0M989 62h0M939 94h0M919 131h0M1122 197h0M977 71h0M1123 184h0M1127 254h0M1109 200h0M989 132h0M1073 212h0M958 207h0M1031 106h0M1099 209h0M1160 77h0M1045 140h0M953 240h0M1011 170h0M927 172h0M988 239h0M1167 109h0M1124 240h0M1135 113h0M1108 133h0M972 158h0M919 115h0M1013 210h0M1085 160h0M981 95h0M1114 236h0M1069 90h0M1133 252h0M966 188h0M926 80h0M964 122h0M922 190h0M1089 86h0M1136 144h0M954 144h0M1089 156h0M1167 178h0M1010 170h0M939 249h0M1067 205h0M937 132h0M1012 137h0M1119 82h0M1066 107h0M1120 60h0M1060 206h0M1166 222h0M1077 210h0M1164 242h0M937 113h0M1069 190h0M979 154h0M1161 78h0M1031 177h0M1142 219h0M1015 152h0M1102 152h0M1113 118h0M1018 67h0M1114 114h0M1062 182h0M916 146h0M1125 129h0M1104 81h0M943 124h0M1109 133h0M1169 118h0M1040 203h0M996 91h0M1011 107h0M1017 145h0M1078 192h0M948 215h0M1091 74h0M971 231h0M1010 254h0M1123 221h0M956 67h0M927 71h0M915 126h0M931 245h0M1000 184h0M1125 102h0M1129 94h0M964 72h0M929 221h0M1019 222h0M973 158h0M972 139h0M949 65h0M1086 125h0M1169 98h0M1011 107h0M995 172h0M1133 245h0M959 80h0M994 132h0M998 165h0M1067 242h0M1043 245h0M1114 169h0M1080 208h0M1044 89h0M1115 109h0M1041 109h0M1060 201h0M1106 116h0M1036 198h0M1032 248h0M1042 242h0M1006 91h0M1116 121h0M1150 191h0M1037 83h0M1033 174h0M973 163h0M928 227h0M956 219h0M1079 220h0M1137 199h0M1033 187h0M1040 78h0M975 190h0M1125 80h0M1105 155h0M1060 194h0M941 87h0M982 102h0M1168 222h0M1152 167h0M1142 122h0M1104 69h0M942 241h0M1033 63h0M932 81h0M1051 159h0M926 153h0M998 207h0M1006 118h0M1078 96h0M1096 230h0M1144 144h0M917 73h0M1171 211h0M1146 68h0M998 104h0M982 89h0M1162 200h0M1121 144h0M1122 224h0M1151 148h0M958 217h0M917 146h0M1059 196h0M1144 186h0M1047 143h0M1054 72h0M1071 140h0M1107 162h0M1060 122h0M983 202h0M1054 166h0M981 246h0M1054 102h0M1125 212h0M984 148h0M998 107h0M1127 244h0M1051 253h0M1046 124h0M1105 217h0M954 88h0M1014 173h0M1133 137h0M1080 186h0M957 109h0M1137 96h0M1153 78h0M1048 110h0M1085 131h0M1028 124h0M1133 235h0M1093 151h0M965 175h0M1160 206h0M978 163h0M1112 119h0M1032 176h0M1008 91h0M1095 182h0M1058 128h0M960 204h0M1115 237h0M1169 175h0M1019 108h0M1132 181h0M1125 191h0M1023 190h0M963 150h0M1029 170h0M989 245h0M985 130h0M1123 207h0M1012 225h0M967 93h0M1030 99h0M1077 191h0M982 179h0M1131 104h0M928 225h0M914 250h0M1009 64h0M1045 250h0M1144 131h0M1117 116h0M1161 63h0M1060 130h0M1059 204h0M1005 243h0M1021 233h0M934 69h0M1036 199h0M986 109h0M1065 66h0M1021 185h0M975 194h0M926 101h0M1047 215h0M1016 211h0M1150 203h0M967 160h0M1168 199h0M1033 168h0M1111 178h0M1035 140h0M933 125h0M1168 195h0M1036 84h0M1124 129h0M1067 154h0M971 150h0M968 209h0M1015 210h0M1119 96h0M979 219h0M1142 194h0M1078 107h0M1134 73h0M1048 221h0M1077 100h0M987 203h0M1154 195h0M1051 229h0M1019 241h0M1127 228h0M1119 82h0M1082 120h0M951 127h0M1042 247h0M1089 199h0M1104 139h0M1038 230h0M969 107h0M1095 79h0M932 94h0M969 114h0M1144 159h0M1074 242h0M936 113h0M1061 105h0M977 241h0M1065 174h0M1106 101h0M1022 170h0M1080 64h0M919 70h0M1012 145h0M1029 99h0M1158 114h0M1012 132h0M986 228h0M922 235h0M1110 198h0M1069 121h0M1117 243h0M1071 190h0M1101 94h0M1121 92h0M1171 63h0M953 146h0M1122 212h0M1165 141h0M1105 167h0M1065 193h0M1033 130h0M922 87h0M1043 94h0M1020 204h0M983 78h0M1076 62h0M1038 180h0M942 91h0M1069 125h0M979 110h0M1118 229h0M1087 212h0M1083 242h0M1003 189h0M974 234h0M1017 230h0M1023 203h0M1090 93h0M977 60h0M1131 245h0M954 158h0M978 252h0M1165 105h0M1076 148h0M1048 97h0M977 124h0M1096 158h0M991 133h0M1110 136h0M982 65h0M1103 177h0M1106 62h0M927 223h0M1047 97h0M926 92h0M1099 107h0M966 186h0M974 209h0M1076 249h0M950 158h0M929 132h0M1019 145h0M923 127h0M973 217h0M1036 130h0M1011 195h0M1075 236h0M989 218h0M1123 212h0M915 221h0M1138 249h0M952 158h0M1131 144h0M970 186h0M1136 90h0M1047 237h0M927 158h0M970 68h0M981 226h0M939 78h0M980 236h0M1013 143h0M939 154h0M1143 143h0M1079 158h0M961 130h0M1004 220h0M1067 103h0M953 213h0M950 116h0M949 196h0M917 183h0M1133 139h0M990 90h0M1057 245h0M1076 79h0M952 248h0M941 196h0M1081 72h0M1027 137h0M1098 81h0M1098 219h0M1171 116h0M963 156h0M1131 187h0M984 112h0M1060 109h0M1062 107h0M1129 173h0M1026 63h0M1053 105h0M1069 141h0M997 62h0M957 148h0M980 228h0M999 238h0M1028 208h0M1003 184h0M1018 199h0M961 108h0M969 183h0M1024 83h0M1042 77h0M924 124h0M951 234h0M992 156h0M1115 179h0M1038 248h0M1107 154h0M1133 141h0M1076 148h0M1128 253h0M1019 178h0M1045 66h0M995 134h0M915 219h0M1055 252h0M1109 61h0M1092 203h0M1019 193h0M986 84h0M1098 206h0M1031 239h0M1054 224h0M969 192h0M934 193h0M1079 165h0M1005 98h0M970 125h0M1007 78h0M1071 156h0M965 211h0M928 151h0M1003 102h0M1132 92h0" stroke="#8a6040" stroke-width="1.9" opacity="0.55"/>
</g>
<text x="1032.7" y="318.6" font-size="30.75" text-anchor="middle">[<tspan font-weight="bold">pre-miR-155-Ctr</tspan>]</text>
<text x="1033.3" y="356.2" font-size="31" text-anchor="middle">1x10<tspan font-size="19" dy="-12">-7</tspan><tspan dy="12"> M</tspan></text>
<rect x="912.6" y="367" width="259.8" height="195.7" fill="#f6f0b8"/>
<g clip-path="url(#mcc2)" fill="none" stroke-linecap="round">
<path d="M988 517l0 1M920 442l1 1M1017 562l-2 1M952 505l-1 0M1053 540l0 1M1152 370l2 0M1005 555l-2 2M1049 437l-1 1M1069 476l2 1M1151 429l-2 1M1003 458l-1 2M1149 371l-1 1M1103 555l0 1M978 397l2 2M1083 446l2 1M975 471l1 1M1101 462l0 2M1108 412l1 1M1022 542l-1 3M1057 487l-2 0M991 437l0 2M963 480l-1 1M1028 466l0 1M1034 514l1 1M1094 372l-2 1M1130 372l-1 1M1024 378l2 1M983 435l-2 2M921 510l1 1M1052 415l1 1M978 500l1 1M952 424l0 1M1049 516l0 1M1141 554l0 1M1097 519l1 2M1108 523l1 1M962 368l0 2M1144 441l-1 0M1001 516l-2 0M1046 395l-2 1M1131 452l1 0M1149 407l2 0M928 499l0 1M1108 409l1 2M1011 456l-2 2M1157 462l0 1M1141 517l1 2M1134 503l-3 0M1135 463l1 3M1038 555l2 0M964 417l1 1M935 425l1 1M1011 419l0 0M941 440l1 2M1041 559l-1 0M1047 396l-1 3M923 444l-1 1M964 525l-1 0M1171 388l0 1M1080 426l1 0M1052 430l-2 2M937 494l-2 1M931 430l2 1M1061 406l0 1M1124 442l0 2M1111 419l0 2M1118 408l1 1M1073 406l1 0M1013 376l-1 0M1076 562l-1 2M1065 496l-2 1M1152 389l2 1M1099 547l1 0M1083 445l2 1M1070 553l0 3M1029 385l0 1M980 509l0 2M915 524l2 1M968 373l1 0M997 408l-2 1M1019 433l-1 3M927 384l1 2M961 432l-3 1M1154 430l0 3M969 478l-1 0M1054 491l-2 1M947 556l-1 1M939 438l2 2M1068 429l0 3M1147 405l2 0M1035 483l0 1M996 520l-3 0M915 518l0 0M1081 378l-1 2M1007 417l1 1M1060 471l1 2M1008 504l0 1M1029 547l2 1M1008 406l-2 1M968 369l2 2M985 491l0 2M969 397l-1 1M1137 494l-1 0M965 522l-2 0M1030 507l2 1M1040 503l0 1M1153 373l1 2M968 417l0 3M935 462l0 3M1156 432l0 3M975 420l-1 0M963 446l2 2M963 470l-3 1M1033 445l0 1M923 419l0 1M977 405l-1 0M1002 554l-1 3M1103 430l0 1M996 505l2 0M1085 546l1 2M1094 480l0 1M921 452l2 1M1150 431l2 1M977 431l1 0M1143 395l-1 1M1053 373l0 3M1000 412l1 1M962 506l1 1M1115 491l-1 2M983 391l-2 2M1135 517l0 1M1013 513l-1 0M1041 474l-1 1M1082 450l1 1M1110 461l1 1M959 541l3 1M1032 408l0 3M1081 519l-3 1M1012 525l2 2M970 441l2 1M934 553l-1 1M1089 559l-2 0M1170 475l-2 2M951 441l-3 1M977 493l0 1M1022 545l-2 0M1016 412l-2 1M997 399l1 1M1003 401l-3 1M1138 410l0 1M951 466l1 3M1020 392l-1 0M983 497l-2 2M1168 406l-2 1M939 387l1 0M1030 424l0 2M954 549l-1 1M1033 481l0 3M1068 475l-2 0M992 556l-3 0M1044 369l0 2M915 398l1 1M1066 522l0 1M1025 429l2 2M930 383l1 1M981 471l2 2M1040 557l-1 2M944 527l-3 1M1027 560l2 2M1111 426l1 2M922 477l0 1M976 413l-1 2M1162 514l2 0M917 412l0 0M1159 523l0 1M1063 526l2 1M1029 405l0 0M970 399l-3 0M1105 445l-1 1M1006 387l1 2M922 544l0 1M989 501l1 0M1059 370l0 2M941 530l-1 2M1074 434l2 2M962 476l-1 1M1140 464l1 1M940 476l0 2M1011 526l-1 1M1025 441l0 0M1016 481l0 1M967 441l-1 0M1144 554l-1 1M1133 426l0 1M959 479l-1 0M1132 383l-3 0M983 492l0 2M1102 443l1 1M1158 436l-1 2M922 531l-1 2M1152 504l1 1M1051 409l1 1M1039 372l-1 1M1021 371l1 2M1097 494l0 1M1031 553l0 0M1083 536l0 3M1070 450l2 0M933 467l0 2M960 385l-1 1M1049 499l1 1M958 490l0 3M1112 389l-3 1M1144 386l-1 2M1040 470l1 0M1153 406l0 2M1025 399l-1 1M955 443l2 1M916 459l2 1M981 505l2 0M924 373l0 1M1105 376l2 1M1115 415l-2 2M957 405l2 0M957 500l-1 1M1094 381l0 2M1011 424l-2 1M1049 535l-1 2M1130 458l-1 0M999 443l2 1M1102 543l0 3M1019 446l-1 0M1034 391l2 2M936 548l-2 2M1158 451l1 2M1129 374l-2 0M992 434l-1 2M1158 416l2 2M987 438l-2 1M1099 530l-1 2M1009 450l2 2M925 553l-1 0M924 556l1 0M1092 368l-1 3M1081 499l-1 2M1038 413l3 1M1050 519l1 0M1080 504l1 1M931 379l0 1M1041 486l1 3M946 440l-2 1M967 425l2 2M1116 469l2 1M1055 426l-1 2M939 381l-2 1M1102 538l-2 0M1048 502l0 0M1077 500l2 2M962 369l1 0M940 472l1 0M919 389l0 1M1059 417l-1 2M1099 514l-3 1M1042 451l-1 2M975 395l0 3M1105 512l2 2M1121 424l0 1M1038 545l-2 1M1061 505l0 1M1053 453l2 1M982 472l-1 1M1097 438l-2 2M1124 521l-3 0M962 515l-1 2M977 482l-1 0M1171 449l2 2M1089 483l0 1M1171 421l3 1M1089 520l0 1M942 383l-1 1M1057 492l0 2M931 473l1 2M921 448l2 1M1082 524l1 1M981 422l-1 0M1065 431l-1 2M1131 525l0 2M1101 443l0 1M1101 405l3 1M1160 495l2 1M1159 464l-2 2M1072 516l-1 1M941 369l-1 2M1079 538l0 3M1157 406l-1 0M962 511l0 3M1070 516l-2 1M1157 395l1 2M1121 369l2 2M1162 549l1 0M1059 512l0 1M1106 497l2 1M930 401l-1 2M1049 447l2 2M948 521l1 2M1023 459l-2 0M1006 501l-1 2M1160 480l1 2M1164 408l0 1M1101 459l0 2M1006 525l0 1M941 505l2 1M1106 516l1 1M1024 454l-1 0M1010 434l-2 1M1129 459l2 0M989 374l3 0M967 522l-2 1M936 390l-1 2M914 560l-1 1M1133 505l0 1M973 522l1 1M962 525l-1 0M1073 531l-1 2M1028 552l0 1M1034 373l-1 2M960 542l-3 1M1015 470l-1 1M1128 532l2 1M979 451l1 0M946 388l-2 2M1037 518l1 1M1029 392l-1 2M939 485l0 2M962 554l0 1M1018 436l1 1M961 503l2 0M935 537l-1 0M946 411l0 1M968 480l2 1M970 521l2 2M1163 420l1 2M1036 550l0 3M1100 452l-2 1M1019 447l-1 3M1100 432l0 1M953 415l-2 1M1089 503l1 1M1058 503l0 1M920 410l0 1M1130 499l-1 1M946 386l1 1M1024 454l2 2M1126 406l0 1M1015 535l1 3M1134 398l-2 2M1072 419l-1 2M1122 469l-3 0M1019 486l1 2M1073 488l-2 2M1063 516l2 2M1009 440l-1 1M1039 488l3 1M1124 368l0 1M1079 482l-1 1M1007 521l2 1M927 460l-2 2M1086 376l0 2M1116 546l-2 1M1036 552l1 1M975 414l0 1M1036 484l1 2M936 406l-1 2M984 515l1 0M961 385l-2 1M939 406l1 2M997 385l0 0M1135 389l0 1M960 528l2 2M1139 508l-1 1M916 477l-2 1M1094 389l-2 1M976 373l-1 3M965 482l0 2M1062 516l-2 2M997 537l2 1M1046 455l3 0M1028 375l1 2M937 500l-1 2M920 391l3 0M988 454l1 1M1076 407l0 1M1020 484l2 0M1161 433l-2 2M947 502l1 1M1115 547l-1 1M1051 455l0 3M1094 506l-1 1M1073 481l1 1M1061 374l-1 2M936 562l-1 0M1051 446l-2 1M1028 533l2 1M1044 509l-1 2M1064 460l2 1M969 562l0 2M1014 534l0 1M1111 404l-1 0M964 436l-1 2M1021 451l0 1M1023 468l1 0M1110 556l1 1M948 369l-1 2M1043 396l-1 2M1120 442l0 0M1029 412l1 3M1077 426l-3 0M1132 450l-1 0M1059 519l2 1M935 430l1 1M1096 503l-1 0M985 431l0 1M997 436l0 1M1136 454l-2 2M1026 448l0 2M933 527l0 2M1066 512l1 1M1101 459l-1 1M1032 456l-1 1M1005 519l-1 1M1122 385l1 2M1171 508l-1 0M1099 368l0 1M1091 509l1 2M926 433l-1 1M1044 554l2 1M935 526l-2 0M1032 416l-1 2M978 472l1 2M1044 507l-1 0M1098 373l2 3M1098 527l1 0M1127 504l2 1M986 389l0 2M1077 413l-2 1M999 560l1 1M1139 506l0 1M1102 433l-2 1M929 474l0 1M1093 485l3 1M1032 525l-1 3M1082 444l0 1M939 502l0 1M1133 554l-1 0M1158 554l1 0M939 513l1 1M966 494l0 1M962 442l-1 2M1128 435l1 0M1093 546l1 0M1167 382l-2 0M1033 376l0 2M942 478l1 0M969 429l1 1M994 373l-1 0M1063 559l2 2M1051 496l-1 1M985 377l1 1M1085 373l0 1M1089 532l2 2M1146 495l2 1M1014 557l1 1M923 458l0 2M1047 531l1 1M946 367l1 2M1107 388l-2 1M931 406l-1 0M1163 534l-1 1M1058 487l0 0M929 545l2 1M1095 411l0 1M926 529l-2 1M944 547l-1 1M1005 372l-1 1M985 386l-1 0M933 513l2 1M952 395l-2 0M1127 454l2 0M1112 539l-1 1M1146 471l2 2M1056 485l1 1M936 381l0 2M1060 517l3 1M1160 393l1 0M1148 520l-1 1M1169 404l0 2M1044 520l1 1M962 501l1 3M1038 505l1 1M1061 388l1 1M1074 375l0 1M1034 463l3 1M1172 506l-1 1M1145 526l-2 2M1157 380l2 1M992 480l2 2M1125 373l1 0M959 431l-2 0M995 547l-1 2M1036 517l0 2M931 504l-1 0M974 406l1 1M963 529l0 1M1013 467l-1 1M939 544l2 2M1035 423l0 2M1018 405l2 1M934 461l1 1M977 426l-1 2M1061 529l-2 1M1092 503l3 1M1015 381l1 1M1066 454l2 0M962 432l-1 1M1018 399l-2 2M1120 439l1 1M999 393l-1 1M1128 384l-1 0M1076 445l-1 2M1081 388l-1 0M972 382l1 0M986 414l-1 1M926 467l-2 2M1026 410l-2 1M1073 377l-2 1M1130 423l-2 1M967 542l-1 2M1149 499l-1 1M1061 462l0 1M917 409l0 1M1115 378l0 2M976 411l-1 0M962 501l0 0M975 412l-1 1M1055 444l1 2M1043 393l1 0M956 509l2 1M976 488l1 0M1103 531l1 2M1124 368l0 1M1172 375l1 2M990 463l1 1M915 450l1 1M1133 420l0 2M1133 460l-1 1M1041 439l0 1M1103 384l1 1M927 450l1 1M1114 381l1 1M1091 556l0 2M1086 394l-2 0M1099 378l2 3M1145 409l-1 2M944 487l0 1M1002 493l-1 0M1069 487l2 0M1126 447l0 1M1099 426l-2 1M1116 479l1 3M1075 469l1 2M969 475l0 1M1150 377l1 1M960 404l0 1M1097 535l-3 0M1141 540l-1 2M1130 435l0 1M1034 507l0 2M1149 441l0 1M970 541l2 0M1163 544l0 2M1149 555l-1 1M933 451l1 1M1099 401l-1 3M1042 407l2 1M1058 445l0 1M1136 500l0 2M1029 406l1 2M1110 373l-1 1M1080 489l0 0M919 393l-3 0M1078 431l1 2M1010 484l2 2M1117 416l1 2M956 485l2 1M1169 542l1 1M1153 384l1 2M1087 453l1 1M1038 484l0 1M1112 368l1 1M1163 483l-2 1M1141 418l1 1M1127 393l0 3M1086 412l1 1M1105 373l1 2M1088 516l-2 1M1074 546l-2 1M1021 493l0 2M914 504l-2 0M964 498l-2 0M1050 371l-2 0M1083 479l0 1M1010 405l-2 2M1006 527l2 0M935 413l0 2M1171 550l2 0M979 414l-2 0M923 465l2 1M1080 468l0 1M1166 454l-1 1M1073 553l-2 2M1006 495l2 1M998 389l-1 1M1085 559l-1 0M1127 429l-2 2M1014 434l0 2M1074 518l-2 1M1048 507l0 1M975 518l1 0M1071 467l1 1M939 513l-2 2M914 562l2 2M991 397l-1 0M999 548l-2 1M1086 459l1 1M1018 525l-2 2M1103 487l-1 2M1134 529l-1 2M1070 430l-1 3M1136 468l0 1M927 553l0 3M1117 474l-1 1M1146 554l-2 1M951 449l2 1M1107 531l-1 1M944 478l-1 3M1033 385l-1 2M1106 477l-2 1M1111 483l-1 0M1059 482l-1 2M1064 508l-1 0M932 411l0 0M1059 518l-2 0M955 489l-2 2M1019 540l0 1M1114 424l1 3M940 373l0 1M1065 509l1 0M923 421l1 2M1122 405l-1 1M956 474l-2 2M996 369l1 0M1022 420l-1 1M955 521l0 2M1058 515l1 2M1004 422l-3 0M1062 515l0 2M1110 479l1 2M1053 503l-1 2M1097 484l-1 3M1005 375l2 1M991 406l-2 1M1163 403l-2 1M1135 416l2 1M1167 475l-2 1M976 437l0 1M1031 454l0 2M1047 452l0 0M1061 417l0 1M1137 497l-2 1M1065 415l-2 0M1045 465l2 1M1013 523l-1 0M984 384l-1 1M1110 512l1 1M939 509l1 0M1102 476l1 0M966 436l-2 1M1125 541l-2 2M1024 521l1 1M1142 424l0 1M1005 533l-2 0M1019 503l-1 0M974 493l1 2M999 499l-1 0M1037 516l1 1M1105 480l-1 0M921 429l-1 0M955 526l-1 2M977 437l1 0M1080 412l0 1M982 382l1 1M1013 517l1 1M920 401l0 0M980 540l2 1M956 470l1 0M1126 547l1 2M1084 449l-1 1M1026 385l-1 1M1117 439l0 1M1025 528l-2 1M964 453l-2 0M938 426l1 0M1118 453l1 2M992 521l-1 1M979 428l-1 2M1157 534l1 1M1042 390l2 1M995 539l2 1M1141 537l-1 0M1072 468l0 1M1053 489l2 1M1003 479l0 1M970 550l0 2M1105 406l2 1M1014 473l-1 1M999 549l1 1M1006 511l1 0M1158 526l-1 0M1058 534l-2 0M1155 463l1 2M1125 495l1 1M975 380l0 0M979 426l1 0M1100 502l1 1M1167 411l0 1M1109 561l-2 2M1014 421l0 1M991 370l2 1M940 494l0 1M948 511l1 1M1073 528l2 1M1011 539l-2 0M928 443l-2 1M1087 497l1 1M964 547l2 2M1081 490l1 0M972 403l1 2M925 379l1 1M1123 401l0 2M926 541l-1 0M980 481l2 0M966 385l0 2M1097 402l-3 0M1056 497l-1 1M1167 506l2 1M1085 399l1 1M1024 396l-1 2M955 519l-1 2M1061 542l-2 1M947 483l1 0M967 398l0 1M955 500l0 1M1118 550l0 2M983 410l0 0M920 463l2 1M1037 484l-2 0M1163 472l-2 1M940 511l1 2M914 373l1 1M987 453l1 0M1012 473l-1 1M1071 385l2 2M975 529l1 1M1089 455l1 1M953 418l-1 1M958 391l-1 1M1151 492l1 2M1046 557l-3 0M1001 416l-1 2M995 425l-1 1M1150 470l-1 1M1006 406l2 2M1043 461l-1 0M1118 453l-1 1M1119 468l0 1M959 523l-1 2M988 501l2 0M971 504l-2 1M1038 522l1 3M1106 522l-2 2M1084 393l0 1M1056 480l1 1M1109 508l-1 1M1138 450l0 1M1024 516l2 1M1141 459l-2 1M1068 555l1 0M1116 389l-2 1M1096 387l0 1M1009 503l2 1M1087 534l-1 2M1041 435l-2 2M917 530l1 2M1072 494l1 2M966 428l0 1M956 390l-2 1M962 455l-1 0M1080 369l-3 0M1087 520l-1 2M1051 416l-2 1M997 440l0 1M1043 470l-1 2M1161 456l0 3M946 396l0 1M1116 468l-1 0M982 489l1 1M958 469l-1 0M1123 466l1 2M1162 383l1 0M969 402l-1 0M969 414l-2 1M1011 429l1 2M955 527l-1 1M1052 401l0 1M1117 545l1 0M936 492l1 0M1136 423l-1 0M1112 393l-3 1M979 388l-1 0M975 373l-2 0M1060 376l1 0M1134 467l-2 1M1063 485l0 2M1008 518l-1 0M1001 441l-1 1M1106 446l-1 0M1118 368l2 2M973 404l-1 1M1068 467l0 3M1092 559l2 0M1036 555l1 2M1047 406l2 1M1123 453l1 2M1056 371l-1 1M1008 515l0 1M1092 529l1 0M937 519l2 0M948 492l-1 0M952 446l0 2M1108 505l0 2M1046 409l0 2M928 422l3 0M1015 390l0 1M1162 374l2 0M1046 534l0 0M1063 415l2 1M984 431l0 2M1008 500l0 0M1004 422l1 2M929 490l-1 1M1114 463l-1 0M1005 450l-1 1M1133 396l-1 1M1046 498l2 0M957 413l0 1M960 544l-1 0M1144 393l-1 1M1051 390l0 1M999 442l2 0M972 403l-1 0M1123 522l0 2M1020 543l-2 2M1042 530l2 2M963 396l-1 0M1043 391l0 1M1052 374l0 1M1028 523l1 2M1049 393l0 0M1021 402l0 1M1030 523l-2 0M953 490l0 1M972 441l0 1M1066 531l-1 1M1080 550l1 1M1128 507l0 1M972 509l-2 1M916 432l-1 0M968 521l0 1M925 538l2 0M964 492l-1 1M960 449l1 0M1141 412l2 0M1106 487l-1 2M948 498l-2 1M1074 529l0 0M1079 371l0 0M1073 367l-1 0M1108 554l-1 1M1015 370l0 2M964 521l1 1M1121 434l1 0M963 484l1 1M926 444l-2 2M1101 447l1 0M1052 432l-2 1M1166 467l-1 2M1112 418l0 1M935 374l0 1M1011 494l0 0M919 399l0 3M1154 374l-2 1M1097 368l-1 1M948 520l0 2M963 425l1 1M935 426l1 2M1028 537l1 1M1031 477l1 0M1086 398l-1 3M1141 394l2 1M949 465l1 1M1010 494l1 0M1131 514l1 0M924 378l-1 1M951 473l1 2M1122 421l0 2M1150 547l-1 2M1105 545l-2 1M964 374l2 1M1034 421l0 1M1036 492l-1 0M1010 473l1 0M998 470l-1 0M1067 381l2 2M1007 490l-1 2M1067 493l0 3M917 547l-1 2M1015 530l0 3M990 416l0 0M1060 555l1 1M928 496l-3 0M919 474l2 1M1160 486l1 1M1113 376l-2 1M963 421l-1 1M1153 500l0 3M1088 415l-1 0M955 391l1 1M1022 437l-1 0M960 532l-1 0M1004 389l3 1M953 488l0 2M1084 536l2 1M927 474l1 1M1035 419l1 0M1124 525l0 1M1019 381l-1 1M971 462l-2 2M1152 502l1 1M1155 378l1 3M968 561l1 0M1089 496l-1 0M980 466l2 2M996 479l1 1M925 373l-1 1M1171 453l2 1M1167 477l1 2M982 486l-1 0M1120 388l-2 2M948 525l0 2M1088 424l0 1M959 499l-1 2M1068 442l2 2M964 431l1 2M946 407l2 1M1077 535l0 1M1006 555l0 1M1030 559l0 3M1003 436l-2 1M1093 484l-1 1M926 388l-1 2M916 400l-1 1M970 454l-2 1M968 447l1 1M1139 391l-2 1M1058 495l-1 2M1088 490l2 2M1088 529l-1 2M980 446l1 1M1162 534l-1 3M1104 384l1 0M949 393l-2 1M1153 507l3 1M1116 560l1 2M1158 373l-1 1M1081 478l2 0M1073 533l2 2M981 509l0 2M1133 397l0 1M984 528l-1 2M1135 422l-2 0M940 506l-2 2M1148 504l-2 0M1136 445l0 1M1020 467l0 0M1059 518l0 3M1161 397l0 0M1021 459l0 0M1152 552l0 1M964 547l-1 2M1172 367l2 1M952 561l2 1M925 484l1 1M1157 459l1 0M956 502l-1 2M1015 472l0 1M1059 419l-1 1M946 495l2 1M1070 496l0 1M1114 442l1 1M1095 422l3 1M1166 379l-1 3M1058 525l-1 1M927 457l-2 0M930 509l2 0M1153 492l-2 2M1001 520l-2 1M936 491l-2 2M1159 388l-1 1M1057 461l3 0M937 528l-3 1M1166 394l0 1M1166 432l0 3M937 463l1 2M1126 417l1 2M970 554l1 1M929 462l2 2M979 388l1 0M947 377l0 2M1048 493l0 3M1153 399l2 1M1157 451l-2 2M1048 452l0 1M1045 517l0 1M986 449l0 0M1002 505l-1 1M1085 379l1 0M1053 422l-1 1M1011 410l2 1M1038 458l3 1M1019 518l0 1M994 561l0 0M1136 470l0 1M1031 399l0 1M1142 403l3 1M1107 403l2 2M1042 431l-1 0M1024 368l0 1M917 508l0 1M1026 378l-2 1M1039 539l0 2M1035 379l2 0M990 541l-2 2M982 493l0 1M1024 465l-2 1M957 402l-2 2M968 406l1 2M1149 543l0 0M1113 414l-1 1M1017 496l-1 2M977 451l-1 1M1112 443l1 0M1032 423l3 1M1078 412l2 2M978 419l0 3M1134 473l0 1M981 411l1 1M961 510l1 0M1002 375l0 2M1149 490l0 3M1072 465l0 3M1136 369l-1 1M1036 539l-1 1M1050 372l-1 0M1062 511l-3 0M914 544l2 1M929 556l0 1M1088 372l3 0M935 410l-2 1M1036 528l0 1M1026 444l0 1M1119 500l-2 0M984 374l1 2M990 428l2 1M1033 500l2 1M982 372l1 2M1062 512l-2 2M1087 392l0 1M955 396l-1 1M1138 544l2 1M998 389l-2 1M1155 477l1 0M1150 418l2 2M924 374l2 0M1167 383l-1 0M1144 382l0 2M1110 546l1 2M939 492l3 1M1010 561l1 0M971 457l1 1M960 451l1 2M1014 455l-1 1M934 403l-2 2M992 504l-1 1M923 502l1 1M960 549l-2 0M1025 463l-1 2M941 457l0 1M1162 538l-1 0M1153 399l-1 2M919 556l-2 0M929 489l1 0M938 385l1 3M1171 503l1 1M1106 539l2 2M1120 541l0 1M1140 529l1 0M980 418l0 0M960 389l-1 2M1138 381l1 3M965 550l-1 1M1000 430l-1 0M1099 373l1 1M1043 387l3 1M1025 370l0 1M1002 519l0 2M915 371l0 1M1101 432l1 1M1121 443l1 2M1025 394l0 2M1042 510l-1 0M1019 452l0 3M1076 473l2 2M1086 498l-2 2M1038 492l1 1M1009 423l1 2M1125 473l-2 1M1120 422l-1 3M1072 484l-1 3M941 398l-1 1M976 484l-1 0M1157 411l0 1M969 436l1 1M1067 547l1 1M1102 472l0 2M1116 560l2 0M936 466l-1 1M1019 492l-1 1M1069 535l-1 2M971 391l-2 1M1056 503l-2 1M1047 373l-2 1M935 499l-1 1M972 528l-1 3M1130 477l1 0M941 439l0 3M1026 544l-2 0M1104 422l1 1M1138 479l1 1M1106 505l-1 3M1081 461l0 3M931 414l1 1M966 465l1 1M961 396l-1 2M1097 388l-3 0M1006 502l0 2M1100 523l1 1M1022 386l3 1M1005 441l1 1M1167 414l-2 1M1051 424l1 1M1171 400l-1 0M924 560l-2 2M1089 470l0 1M1047 498l1 1M1116 547l-2 1M1075 369l1 2M937 456l-1 1M1016 463l-3 0M1096 512l1 2M1159 468l0 3M1149 431l1 1M971 417l-1 0M943 406l-1 1M982 537l1 1M1073 540l0 1M1140 396l1 0M1075 562l-1 0M979 491l-1 1M971 390l-1 1M1002 417l-1 1M941 459l-2 1M1014 427l1 0M997 402l1 0M1116 373l2 1M1061 455l-1 1M1010 467l2 0M1033 516l-2 1M923 460l-3 0M1147 405l0 0M1027 498l0 1M989 389l0 2M963 497l2 2M1142 429l0 1M1167 506l-1 1M1098 398l2 1M1000 491l3 0M1047 457l2 1M1122 517l-1 2M991 404l1 2M1086 399l-1 2M1009 555l-1 0M925 475l0 2M1055 369l0 1M1172 380l0 1M1130 477l1 2M1056 549l0 1M1019 414l2 1M1040 474l2 1M1028 529l1 2M949 409l-1 2M1095 376l1 0M1080 539l1 2M1015 454l0 1M942 379l3 0M1030 455l0 1M1027 460l2 2M1043 500l1 3M942 396l-1 2M984 524l-2 2M1000 506l1 3M1019 413l-1 2M1155 484l1 1M1064 549l0 1M1003 425l0 3M925 402l-1 0M1034 541l0 1M1167 421l1 1M1053 382l0 1M928 459l-2 0M1071 409l0 0M1003 532l-2 1M961 425l0 1M1005 472l-1 1M1144 505l1 2M968 461l1 1M1100 445l0 1M977 515l-2 0M980 371l0 1M1031 496l1 0M1023 404l1 1M986 485l2 0M1077 500l-2 1M944 550l2 0M956 494l2 0M925 474l-1 0M978 559l-2 1M975 465l0 1M913 494l2 1M1104 473l0 1M976 490l-3 0M964 391l0 1M934 411l2 1M1047 495l1 1M1117 487l-1 1M1014 393l0 1M1017 526l1 0M1007 562l-1 1M1012 414l-2 1M1060 372l3 0M1132 558l1 0M1028 551l0 2M916 378l1 1M915 405l1 1M1169 508l-3 1M1068 501l1 1M1038 388l-2 0M987 370l1 2M1001 535l-1 1M1036 515l-1 3M1000 388l0 2M1087 464l-1 2M944 469l0 0M1021 422l2 0M942 379l0 2M1037 374l1 2M1023 462l-1 1M962 432l1 0M1108 473l-3 1M1047 428l2 1M1072 419l-3 1M992 420l0 0M963 556l1 1M1062 546l-1 1M984 485l0 2M961 456l-1 1M944 488l2 1M1116 451l0 2M992 515l1 1M940 471l1 0M1061 516l0 1M1146 386l1 1M1104 399l2 2M959 465l-2 2M974 374l-2 2M1118 401l0 3M1085 372l2 1M1081 537l1 2M942 496l1 1M1014 560l-1 0M1065 477l0 3M1061 551l0 1M963 436l0 2M1164 372l0 2M920 386l1 1M1017 545l-1 2M1083 438l1 1M1102 402l1 2M1079 375l0 1M935 459l0 3M957 491l-3 1M1057 420l-1 3M1001 416l2 1M1049 549l-1 2M1017 485l0 2M1084 562l-1 0M974 475l-2 2M941 518l0 1M1153 406l0 1M1088 457l0 1M1164 517l-2 2M1017 472l-2 2M1036 407l-1 1M1149 492l2 1M951 416l1 2M1171 446l0 1M1150 549l1 2M1126 508l-1 2M948 492l-1 1M1124 457l0 3M1151 536l1 1M1025 561l-1 2M1114 398l-1 0M968 498l-1 1M915 543l-2 1M1112 376l1 3M1031 533l-1 1M942 449l-2 1M1127 420l-1 0M1130 527l2 1M1058 444l0 2M1172 544l0 2M1042 534l-1 1M1110 379l2 1M1005 530l1 1M1037 400l0 1M1127 378l-2 1M1121 551l1 1M1117 479l1 1M1059 538l-2 0M1022 465l1 0M943 426l1 0M1056 453l1 0M1046 418l-2 1M948 414l1 0M1043 542l0 1M1010 491l1 0M920 484l-1 1M1131 463l1 1M1001 468l1 2M922 412l2 2M1025 467l0 1M1077 515l3 0M1048 458l-2 2M938 382l0 2M1054 466l2 1M924 416l-1 0M994 426l2 1M973 476l-2 1M1067 402l0 0M965 461l-2 2M1155 461l2 0M1023 407l1 2M918 454l-1 1M1074 386l-2 2M1066 488l1 2M1055 380l0 2M1041 529l2 0M1042 407l0 2M959 554l-1 1M1050 468l2 1M925 380l-2 2M1021 467l0 1M1156 471l2 2M925 553l-1 0M1053 457l1 0M1020 447l1 0M1039 391l-1 0M1145 507l1 2M1062 459l-1 3M1168 457l1 1M1087 482l0 2M980 475l-1 2M990 503l0 1M1132 426l1 2M1155 370l2 0M1135 478l-1 1M1134 385l0 1M1035 547l1 0M936 400l1 1M1157 423l2 2M930 462l1 1M1160 478l2 1M1000 423l1 1M927 390l1 0M953 559l1 0M1014 518l-1 0M1055 488l-1 0M927 451l1 0M970 403l2 0M1164 546l-1 0M952 500l-2 1M1151 402l2 2M985 491l-1 0M969 440l-2 1M1020 426l0 1M1143 560l0 1M1030 469l1 2M987 416l-2 2M1082 542l1 1M1064 499l1 1M954 369l1 1M1096 394l-1 2M1169 396l0 1M1100 433l1 1M999 536l0 1M930 546l0 3M915 437l2 0M1086 399l0 2M1080 456l1 1M966 428l-2 1M932 388l-2 1M1104 387l2 1M1106 536l2 0M1035 453l2 2M1158 486l0 1M1002 393l-2 0M999 483l0 3M1093 450l-1 0M1100 380l-1 2M926 526l2 1M975 468l-1 0M1105 432l-1 0M1098 501l-1 0M1088 470l-1 2M961 498l0 3M1165 455l0 1M1029 448l1 1M1046 533l1 1M981 389l-1 1M936 547l-1 1M1019 445l2 2M1107 453l1 1M1064 435l-3 0M937 490l-1 2M1069 401l1 2M946 518l-1 1M1131 486l0 1M1165 379l-1 1M942 369l1 1M940 373l-1 1M966 370l-2 1M1164 426l1 2M995 412l2 2M959 420l-2 1M1144 414l0 1M996 514l2 1M1160 454l-1 0M963 377l1 2M1097 489l-1 2M991 440l1 2M1105 440l-2 2M1015 454l2 2M965 551l0 2M1111 385l0 2M1045 434l1 0M1041 493l-2 1M952 410l0 1M991 420l1 2M1036 411l1 0M963 440l0 1M1064 427l1 2M1093 553l1 2M974 551l0 1M1127 419l0 1M1171 559l-2 1M1072 368l1 1M954 402l1 1M936 535l0 0M1080 529l1 1M1063 502l0 1M966 371l1 1M1094 404l-2 0M918 421l0 2M1153 415l-1 2M1169 434l1 1M1027 378l1 2M945 460l0 2M917 428l0 1M1082 407l2 2M1006 433l1 1M1153 428l-1 3M1126 557l-3 1M944 510l-1 1M1151 510l0 1M982 562l-2 1M950 482l-1 1M1075 539l1 2M970 514l-2 1M940 374l0 1M1045 452l-1 0M924 454l0 1M1143 483l1 1M1161 551l1 2M1002 380l0 1M1108 510l1 2M1069 514l1 3M927 412l-2 1M963 500l-1 0M932 427l2 1M1115 507l-2 1M964 382l1 0M1097 486l0 2M1119 493l0 0M1051 443l0 1M979 518l-1 1M948 467l2 2M931 385l0 1M1110 380l0 2M933 431l0 2M1161 491l-1 2M1105 368l-2 1M1105 503l2 1M1079 388l0 1M991 529l-1 1M1054 553l0 1M1004 529l1 1M960 408l-1 1M1060 446l2 1M956 546l0 1M1064 513l0 2M976 463l2 2M1016 535l-3 0M1167 489l1 0M949 500l1 1M926 519l-1 1M1034 369l1 0M1171 454l1 1M1120 458l-1 2M977 512l3 0M1128 417l2 1M1047 481l0 1M945 439l1 1M1104 393l1 0M925 369l-1 3M1020 537l1 1M974 384l-2 2M1158 408l0 3M943 497l0 1M1097 389l1 2M1078 442l1 1M1014 434l-1 1M972 516l2 0M1053 533l0 1M1040 500l1 2M974 478l0 1M1122 413l-1 0M987 492l0 1M1046 523l0 1M1019 397l2 2M1045 417l-1 3M993 520l-1 1M1152 442l-2 1M1128 394l1 1M1020 436l1 2M1075 425l-1 1M1141 538l-2 1M927 529l0 3M1130 393l0 2M1090 438l0 0M1088 419l-1 1M1078 382l0 1M924 504l-3 0M915 434l1 2M929 497l0 1M1097 382l3 1M1094 538l-3 0M961 402l2 1M976 437l-2 1M960 547l2 2M923 541l-1 0M1118 511l-1 2M970 489l-1 2M1032 544l-1 3M1024 397l-3 0M1011 403l2 0M1026 497l0 2M980 469l-2 1M1084 369l0 1M1137 556l-1 2M1147 487l1 1M1066 367l1 0M1148 384l1 2M1144 524l3 0M1028 508l2 0M1170 433l0 2M919 538l-1 0M983 541l1 1M922 433l-2 1M984 446l2 1M1121 454l-2 1M1062 499l-1 2M986 420l1 0M1079 388l2 1M978 515l-2 1M1158 519l0 3M1039 418l3 0M1120 525l-1 1M1009 410l-2 0M954 404l0 1M962 470l-2 1M1040 497l0 2M985 510l1 1M1059 497l-1 0M1107 479l-1 1M920 403l-2 1M1080 451l0 3M937 458l1 1M968 469l-2 0M995 536l-2 0M977 491l0 0M1020 422l-3 0M1048 521l1 1M935 477l2 1M1155 411l1 2M942 384l1 2M1112 450l-1 1M1140 377l1 2M947 494l0 1M982 493l-1 2M1005 373l-1 2M1063 440l2 0M1124 375l-2 1M1016 409l0 2M1022 541l-1 1M1089 517l1 0M997 555l-3 1M1087 537l-2 2M975 524l1 2M988 378l1 1M917 391l2 1M984 498l-1 0M1162 462l-1 1M1090 440l2 1M1060 452l2 1M997 414l1 0M968 426l1 2M917 404l-1 3M1152 500l1 0M947 504l2 2M1118 494l0 2M938 417l1 1M1110 562l1 2M1078 528l2 1M1017 520l1 1M962 426l0 0M1154 403l-2 0M1061 545l-1 1M1163 554l0 1M931 429l1 1M949 382l1 2M984 477l-2 2M968 513l2 1M1168 406l-3 1M1112 502l1 2M1026 524l-2 1M1157 455l3 1M941 502l-2 0M1034 546l2 1M1036 473l1 2M1074 403l-2 2M1154 375l0 1M1102 466l1 1M1089 412l0 2M1043 458l0 2M1081 381l-2 0M1088 368l1 0M1045 411l-1 0M1059 403l1 1M979 503l-3 0M1154 555l1 0M963 517l-2 1M1085 491l-1 0M1018 485l-1 1M949 556l2 2M1142 497l1 1M1001 431l0 2M1032 447l1 1M1074 491l0 2M1064 528l-1 0M1084 402l0 0M929 472l-1 1M1087 381l-2 1M947 433l1 3M1130 544l0 1M1171 412l-2 1M961 493l-1 1M1106 369l2 2M1018 516l0 1M1054 467l-1 0M1019 448l-3 1M1029 409l1 1M923 501l1 3M917 438l0 2M924 372l2 2M1026 480l-3 1M1005 549l1 2M1097 517l-1 1M918 479l0 1M1090 488l-1 0M1009 561l1 1M1020 388l1 1M1116 486l-1 0M1011 386l-1 1M934 484l-2 2M1125 412l1 1M1056 512l2 1M1128 434l0 2M1041 541l-2 0M1124 505l0 2M1142 406l-1 1M972 517l1 1M1052 523l0 1M1059 517l-2 0M952 484l0 0M1132 445l0 1M1137 492l3 1M1029 505l0 2M1126 442l-1 1M1094 496l-1 3M1144 382l-1 3M1137 496l1 1M917 417l2 0M1165 415l-1 0M1155 559l-1 2M1007 534l-2 1M1058 522l-2 2M1038 493l-2 1M920 474l2 2M984 371l-1 2M1014 373l-2 0M1047 539l1 2M1002 512l3 1M1129 467l0 1M989 372l0 3M966 510l2 2M1169 545l0 2M1045 379l1 1M914 488l3 1M1063 377l1 1M1090 378l-1 2M1082 421l1 2M961 484l-2 1M967 407l1 0M1015 389l-1 1M1030 536l1 1M1154 467l-1 2M1097 448l-1 0M1147 406l0 1M1085 496l1 1M963 434l-1 2M972 428l1 1M1008 521l2 1M930 539l-1 1M939 482l1 0M1002 377l-1 2M1056 548l-2 0M1041 445l2 1M941 443l-3 0M1112 525l-1 3M1138 387l2 0M1050 509l-1 1M1028 503l-2 1M1118 552l-1 0M987 486l0 1M1153 562l0 1M1102 479l-3 0M1001 368l-2 1M1130 443l-1 2M1077 370l1 1M1080 506l1 0M1166 531l0 2M1106 413l-1 2M978 496l-1 2M941 371l0 2M1057 457l1 2M1025 453l0 2M1004 534l0 1M1056 399l-1 2M1079 423l-1 2M1035 480l1 1M1023 534l2 2M934 485l-1 0M1031 531l-1 0M1169 399l-2 2M991 458l1 1M1057 424l-2 1M1009 421l1 0M997 541l0 1M985 404l-2 1M930 483l0 1M1131 560l0 1M1124 448l0 0M1126 557l1 0M1153 507l0 1M1000 385l2 1M1001 481l0 1M1052 461l0 1M964 561l1 1M1078 488l0 1M1132 372l-1 1M1096 548l-3 0M994 451l-2 1M1072 438l0 1M967 415l1 0M1013 379l1 2M918 549l2 2M920 422l2 0M992 532l-3 1M1022 528l-1 0M987 389l0 1M1026 541l1 2M997 467l-1 2M1118 468l0 3M1034 517l0 1M1111 513l-1 0M1124 474l2 2M1060 506l-2 0M1096 466l1 1M966 550l-2 1M994 560l-1 2M986 443l-2 0M936 447l-1 0M966 550l0 1M997 490l0 1M1018 562l2 0M1004 416l-1 3M1044 559l1 1M1110 540l1 1M1118 423l0 1M1142 450l1 1M1051 390l0 1M1171 433l1 0M988 563l-1 1M944 552l1 1M989 433l0 1M1000 519l0 1M1102 403l1 1M1064 497l0 0M1108 450l2 0M1021 499l0 1M1099 472l-1 0M985 398l2 1M1034 503l-2 1M1139 401l-1 2M969 535l2 1M1136 373l2 2M1139 420l0 1M1103 438l1 1M1007 479l-1 2M995 550l1 1M957 560l1 2M1149 534l0 2M1126 399l1 0M1106 519l-1 0M916 455l1 1M969 464l2 0M1134 373l3 1M1166 445l0 1M1001 419l-3 1M1092 378l-1 3M994 374l0 2M1041 559l-1 1M939 514l1 1M928 558l1 2M984 373l-2 1M1091 451l2 0M1119 534l0 2M1018 376l0 1M1083 496l0 1M1040 561l1 3M1150 407l-1 2M989 393l2 1M1041 427l1 0M1029 509l-1 2M1024 469l0 1M1060 395l-1 0M1103 443l-2 0M1140 440l0 1M1160 429l-1 1M961 483l1 2M996 480l-2 0M934 424l3 1M1140 417l1 1M1141 414l-1 2M928 518l0 2M1103 497l1 0M1045 398l0 2M1076 520l0 1M975 552l-1 2M1005 404l0 1M983 385l-2 2M958 419l1 0M1032 535l-1 1M1098 504l1 1M1075 464l-1 1M1040 519l2 1M1149 467l-1 1M1137 556l-2 1M1034 491l0 1M1067 550l-1 0M1101 474l1 2M993 489l-1 0M1044 554l1 1M984 445l1 2M1050 497l-1 1M1072 389l-2 0M995 414l-1 0M973 421l-1 1M1076 472l-1 2M989 372l0 1M963 466l-2 2M1047 515l0 1M1092 506l-1 2M1118 549l-1 1M1063 485l-2 2M972 542l1 1M1006 551l-1 2M996 533l2 2M1170 395l0 2M1169 427l2 2M1120 453l1 1M1019 463l1 1M1005 426l1 1M1025 542l1 1M1123 421l-3 1M1035 500l-1 2M1170 421l3 1M955 531l1 0M1114 493l1 3M1136 382l-2 2M916 392l-1 0M1047 550l-1 1M1070 537l-2 2M1079 446l0 2M953 525l2 2M1126 438l0 2M928 464l0 1M1117 499l-1 1M1076 418l1 0M966 458l-2 1M1002 556l0 0M977 433l-1 1M948 370l0 2M922 408l0 1M1085 415l-1 1M974 399l-1 0M979 562l-2 1M929 406l2 0M1092 505l2 1M1054 395l2 2M984 517l-1 1M1172 514l1 0M1047 436l1 1M992 385l1 0M987 514l2 1M1073 514l2 2M1016 461l-3 1M952 457l2 2M1001 497l-2 2M1050 486l2 0M1140 539l-2 2M1155 392l-2 0M1082 395l2 2M1140 385l0 2M1011 512l0 2M916 489l-2 0M946 504l-1 1M1131 391l2 2M1160 371l0 2M942 537l2 1M962 481l-1 0M946 448l0 1M963 468l-1 1M998 380l2 2M1135 530l0 2M1051 378l-1 1M1069 535l-1 0M1010 392l-1 3M1030 462l-1 0M1080 516l1 2M1090 554l-3 1M1165 544l2 0M932 451l-1 2M1002 424l0 1M1030 542l1 3M965 391l-2 0M1105 490l0 2M1011 387l-2 0M1027 486l0 2M940 368l1 1M948 465l1 1M1093 510l2 1M916 416l2 1M1168 398l1 0M1071 372l0 1M1021 536l0 0M1164 553l-1 0M1065 475l-1 1M936 457l-1 0M1149 459l-1 2M1036 496l-1 1M965 497l2 0M929 411l-2 1M1067 493l1 1M974 539l-1 0M1024 520l1 2M992 520l2 1M969 384l-1 0M1003 476l-3 0M1164 551l3 0M1157 381l0 3M1108 391l0 1M926 492l1 2M998 500l0 0M1116 454l-2 1M952 534l-1 1M1143 416l-2 0M1085 413l-1 1M1017 388l1 0M1025 562l1 2M1101 426l-1 2M1009 420l2 1M929 502l2 1M1161 455l-2 1M1136 537l0 3M1058 507l0 3M1144 427l0 0M1071 471l0 1M1020 384l-1 1M944 467l1 1M923 490l1 1M950 423l-1 2M949 553l-2 1M1145 398l3 1M1096 389l0 2M919 538l1 3M977 454l1 2M1080 400l3 1M1046 414l0 2M1004 433l-2 1M1068 543l0 1M1172 374l-1 2M994 460l-3 1M999 406l0 0M1111 451l0 2M946 468l1 0M1063 493l1 1M934 373l-1 1M929 394l-2 0M1013 468l1 2M1162 455l1 2M1008 523l0 0M1098 393l3 1M996 407l-1 1M1015 478l0 3M1026 432l2 0M1011 407l3 0M1157 450l-1 2M916 443l1 1M1116 536l0 2M918 386l-2 1M1009 370l-1 2M1139 526l1 1M1012 414l-1 0M1140 404l-2 1M1167 429l1 0M1137 429l-1 1M1133 561l-1 3M946 432l2 1M1163 504l-2 0M930 407l0 2M998 523l3 0M1045 484l1 0M1057 530l0 2M1002 452l2 1M1007 412l-1 1M1127 404l2 2M959 442l3 1M1160 448l-2 2M1006 450l-1 1M1052 514l2 1M1145 386l-1 3M1158 382l0 2M1012 493l1 1M1078 490l-1 3M1063 456l-2 2M1098 416l1 2M986 511l1 1M954 424l-1 3M994 459l-1 0M1021 369l0 1M1170 540l0 1M1080 469l0 1M1114 455l-1 0M1130 401l0 2M1092 483l-1 1M1014 518l-1 0M1106 413l-1 2M1161 493l1 1M1042 435l0 2M1008 406l1 1M1053 481l1 0M991 398l2 1M998 480l-2 1M1167 497l-1 2M1022 454l1 0M1042 375l1 0M943 447l1 0M946 406l2 0M976 542l1 0M1168 544l-2 2M946 464l1 2M1025 377l1 2M1170 445l-1 1M1033 545l0 2M1156 380l0 1M1106 418l-1 2M1080 484l-3 1M1009 481l-1 1M1076 548l1 1M986 463l1 0M1019 426l0 1M1144 536l0 1M1077 372l1 3M981 476l-1 0M917 520l2 1M1027 387l-1 0M1099 545l-2 1M928 409l2 1M1115 544l1 0M1010 450l-1 0M1088 405l0 1M1031 559l1 3M1038 427l0 0M1060 517l0 2M974 524l1 1M1011 450l0 2M950 491l1 3M951 552l0 1M1023 477l1 0M1142 395l-1 2M1015 391l0 1M919 507l-1 0M970 496l1 1M1043 379l0 2M917 389l0 1M1166 384l1 0M939 479l2 2M1048 525l-3 0M982 476l1 1M1122 490l0 1M944 392l-2 1M938 378l0 1M1048 474l3 0M986 388l-2 1M1007 406l-1 0M1171 525l1 1M1134 515l-2 0M975 377l2 2M945 484l-1 0M1025 523l1 0M1002 451l-1 0M1080 384l1 0M1122 445l-2 0M1018 409l1 2M1166 399l-1 0M1085 376l-3 0M1171 451l-2 3M1172 533l3 1M916 470l-1 0M1161 393l-1 2M1044 409l-2 2M1011 394l-2 2M1043 426l1 3M1077 467l-1 2M1022 440l1 1M1166 439l2 1M1116 378l1 0M967 468l1 2M991 512l-2 1M1002 510l-1 1M1084 468l0 0M1107 548l-2 2M950 405l1 1M954 370l1 1M1106 492l1 1M962 406l1 0M1172 510l2 1M1051 440l-1 2M929 444l-2 2M1011 559l1 1M991 560l-1 3M1164 458l-2 1M964 420l2 2M983 501l-1 3M1151 409l2 2M929 427l-1 2M1132 502l-1 0M1007 527l0 1M1129 380l-2 1M1082 507l1 0M1132 410l1 1M1115 459l1 1M988 391l-1 0M972 563l-1 2M948 558l2 2M1091 413l-1 1M1109 385l1 0M1152 388l-2 1M1077 368l2 0M995 488l2 2M936 457l-1 0M1013 412l0 1M994 384l0 0M1034 369l1 0M1060 402l0 2M989 511l0 3M1026 525l2 1M1008 496l-2 1M1096 497l2 2M1025 423l-1 0M980 499l-1 0M1074 516l-1 1M988 443l0 2M940 439l2 1M999 382l0 1M1084 421l0 1M1027 473l0 2M950 480l-3 0M1122 447l-1 0M1096 487l3 0M986 407l-1 2M1126 543l1 3M991 395l-2 1M946 410l0 1M975 475l-2 1M1036 368l0 2M1040 500l0 1M1035 413l-3 1M1171 376l-1 1M983 517l-2 1M1014 412l0 1M1126 445l0 1M1045 436l0 1M1056 403l1 2M1071 383l-1 2M1033 505l-1 1M1077 523l2 1M918 441l-1 1M1149 543l-3 0M1086 395l0 3M1056 556l-1 2M1051 549l2 1M987 372l-1 2M986 418l2 1M1163 460l2 0M1168 468l-1 0M1071 532l-2 1M1122 558l-1 0M1044 443l0 1M964 469l0 3M936 379l-1 1M1072 537l2 1M1057 482l1 0M991 499l0 1M966 523l1 1M1149 414l1 1M1018 484l-3 0M1029 462l1 1M1032 470l-1 1M943 553l-1 2M978 374l2 2M975 512l1 1M965 394l-2 0M1129 405l2 0M918 446l-1 1M1130 399l0 1M918 383l-1 1M1157 381l0 3M1032 530l-2 0M936 378l2 0M1104 529l-2 2M983 392l0 1M1029 533l2 2M1126 514l0 1M1056 413l-1 0M1105 403l-1 1M970 442l-1 3M993 467l0 1M920 446l0 1M1167 513l1 2M987 455l1 0M947 400l0 2M1000 371l2 1M991 394l0 3M975 552l1 1M1057 460l-1 0M1136 369l-2 1M960 545l-1 0M937 464l0 0M1096 438l-1 1M1101 421l-1 2M1167 477l-2 0M941 371l1 1M1036 483l-1 2M955 554l-1 2M1081 431l-1 2M1097 406l0 3M1032 440l1 0M1122 470l-2 1M1017 368l0 1M1094 441l-1 1M1015 454l0 1M1042 379l0 1M931 529l1 3M1033 381l2 1M1005 549l1 2M996 440l0 2M1105 462l1 2M1039 555l0 1M1155 417l-1 2M970 542l1 1M1059 409l0 2M1130 405l1 1M951 381l1 2M957 486l-1 2M1005 377l0 3M1029 519l1 1M1026 512l0 3M955 425l2 2M1125 420l-1 0M1169 397l0 1M934 525l0 1M1028 375l0 1M946 442l2 1M1068 535l0 2M1137 485l-3 1M1043 523l-1 1M913 457l1 0M1000 405l1 1M945 491l-3 1M996 489l1 0M1087 516l-2 1M931 376l-1 2M928 493l2 0M1143 507l1 3M1171 559l2 2M1082 476l0 2M1133 480l-2 2M941 420l-1 2M995 478l2 0M1055 495l2 1M946 489l0 1M1066 385l1 1M1019 465l2 1M1103 464l0 2M969 445l-1 1M913 428l1 2M1165 432l0 1M961 472l1 1" stroke="#dc8cc4" stroke-width="5.4" opacity="0.6"/>
<path d="M988 517l0 1M920 442l1 1M1017 562l-2 1M952 505l-1 0M1053 540l0 1M1152 370l2 0M1005 555l-2 2M1049 437l-1 1M1069 476l2 1M1151 429l-2 1M1003 458l-1 2M1149 371l-1 1M1103 555l0 1M978 397l2 2M1083 446l2 1M975 471l1 1M1101 462l0 2M1108 412l1 1M1022 542l-1 3M1057 487l-2 0M991 437l0 2M963 480l-1 1M1028 466l0 1M1034 514l1 1M1094 372l-2 1M1130 372l-1 1M1024 378l2 1M983 435l-2 2M921 510l1 1M1052 415l1 1M978 500l1 1M952 424l0 1M1049 516l0 1M1141 554l0 1M1097 519l1 2M1108 523l1 1M962 368l0 2M1144 441l-1 0M1001 516l-2 0M1046 395l-2 1M1131 452l1 0M1149 407l2 0M928 499l0 1M1108 409l1 2M1011 456l-2 2M1157 462l0 1M1141 517l1 2M1134 503l-3 0M1135 463l1 3M1038 555l2 0M964 417l1 1M935 425l1 1M1011 419l0 0M941 440l1 2M1041 559l-1 0M1047 396l-1 3M923 444l-1 1M964 525l-1 0M1171 388l0 1M1080 426l1 0M1052 430l-2 2M937 494l-2 1M931 430l2 1M1061 406l0 1M1124 442l0 2M1111 419l0 2M1118 408l1 1M1073 406l1 0M1013 376l-1 0M1076 562l-1 2M1065 496l-2 1M1152 389l2 1M1099 547l1 0M1083 445l2 1M1070 553l0 3M1029 385l0 1M980 509l0 2M915 524l2 1M968 373l1 0M997 408l-2 1M1019 433l-1 3M927 384l1 2M961 432l-3 1M1154 430l0 3M969 478l-1 0M1054 491l-2 1M947 556l-1 1M939 438l2 2M1068 429l0 3M1147 405l2 0M1035 483l0 1M996 520l-3 0M915 518l0 0M1081 378l-1 2M1007 417l1 1M1060 471l1 2M1008 504l0 1M1029 547l2 1M1008 406l-2 1M968 369l2 2M985 491l0 2M969 397l-1 1M1137 494l-1 0M965 522l-2 0M1030 507l2 1M1040 503l0 1M1153 373l1 2M968 417l0 3M935 462l0 3M1156 432l0 3M975 420l-1 0M963 446l2 2M963 470l-3 1M1033 445l0 1M923 419l0 1M977 405l-1 0M1002 554l-1 3M1103 430l0 1M996 505l2 0M1085 546l1 2M1094 480l0 1M921 452l2 1M1150 431l2 1M977 431l1 0M1143 395l-1 1M1053 373l0 3M1000 412l1 1M962 506l1 1M1115 491l-1 2M983 391l-2 2M1135 517l0 1M1013 513l-1 0M1041 474l-1 1M1082 450l1 1M1110 461l1 1M959 541l3 1M1032 408l0 3M1081 519l-3 1M1012 525l2 2M970 441l2 1M934 553l-1 1M1089 559l-2 0M1170 475l-2 2M951 441l-3 1M977 493l0 1M1022 545l-2 0M1016 412l-2 1M997 399l1 1M1003 401l-3 1M1138 410l0 1M951 466l1 3M1020 392l-1 0M983 497l-2 2M1168 406l-2 1M939 387l1 0M1030 424l0 2M954 549l-1 1M1033 481l0 3M1068 475l-2 0M992 556l-3 0M1044 369l0 2M915 398l1 1M1066 522l0 1M1025 429l2 2M930 383l1 1M981 471l2 2M1040 557l-1 2M944 527l-3 1M1027 560l2 2M1111 426l1 2M922 477l0 1M976 413l-1 2M1162 514l2 0M917 412l0 0M1159 523l0 1M1063 526l2 1M1029 405l0 0M970 399l-3 0M1105 445l-1 1M1006 387l1 2M922 544l0 1M989 501l1 0M1059 370l0 2M941 530l-1 2M1074 434l2 2M962 476l-1 1M1140 464l1 1M940 476l0 2M1011 526l-1 1M1025 441l0 0M1016 481l0 1M967 441l-1 0M1144 554l-1 1M1133 426l0 1M959 479l-1 0M1132 383l-3 0M983 492l0 2M1102 443l1 1M1158 436l-1 2M922 531l-1 2M1152 504l1 1M1051 409l1 1M1039 372l-1 1M1021 371l1 2M1097 494l0 1M1031 553l0 0M1083 536l0 3M1070 450l2 0M933 467l0 2M960 385l-1 1M1049 499l1 1M958 490l0 3M1112 389l-3 1M1144 386l-1 2M1040 470l1 0M1153 406l0 2M1025 399l-1 1M955 443l2 1M916 459l2 1M981 505l2 0M924 373l0 1M1105 376l2 1M1115 415l-2 2M957 405l2 0M957 500l-1 1M1094 381l0 2M1011 424l-2 1M1049 535l-1 2M1130 458l-1 0M999 443l2 1M1102 543l0 3M1019 446l-1 0M1034 391l2 2M936 548l-2 2M1158 451l1 2M1129 374l-2 0M992 434l-1 2M1158 416l2 2M987 438l-2 1M1099 530l-1 2M1009 450l2 2M925 553l-1 0M924 556l1 0M1092 368l-1 3M1081 499l-1 2M1038 413l3 1M1050 519l1 0M1080 504l1 1M931 379l0 1M1041 486l1 3M946 440l-2 1M967 425l2 2M1116 469l2 1M1055 426l-1 2M939 381l-2 1M1102 538l-2 0M1048 502l0 0M1077 500l2 2M962 369l1 0M940 472l1 0M919 389l0 1M1059 417l-1 2M1099 514l-3 1M1042 451l-1 2M975 395l0 3M1105 512l2 2M1121 424l0 1M1038 545l-2 1M1061 505l0 1M1053 453l2 1M982 472l-1 1M1097 438l-2 2M1124 521l-3 0M962 515l-1 2M977 482l-1 0M1171 449l2 2M1089 483l0 1M1171 421l3 1M1089 520l0 1M942 383l-1 1M1057 492l0 2M931 473l1 2M921 448l2 1M1082 524l1 1M981 422l-1 0M1065 431l-1 2M1131 525l0 2M1101 443l0 1M1101 405l3 1M1160 495l2 1M1159 464l-2 2M1072 516l-1 1M941 369l-1 2M1079 538l0 3M1157 406l-1 0M962 511l0 3M1070 516l-2 1M1157 395l1 2M1121 369l2 2M1162 549l1 0M1059 512l0 1M1106 497l2 1M930 401l-1 2M1049 447l2 2M948 521l1 2M1023 459l-2 0M1006 501l-1 2M1160 480l1 2M1164 408l0 1M1101 459l0 2M1006 525l0 1M941 505l2 1M1106 516l1 1M1024 454l-1 0M1010 434l-2 1M1129 459l2 0M989 374l3 0M967 522l-2 1M936 390l-1 2M914 560l-1 1M1133 505l0 1M973 522l1 1M962 525l-1 0M1073 531l-1 2M1028 552l0 1M1034 373l-1 2M960 542l-3 1M1015 470l-1 1M1128 532l2 1M979 451l1 0M946 388l-2 2M1037 518l1 1M1029 392l-1 2M939 485l0 2M962 554l0 1M1018 436l1 1M961 503l2 0M935 537l-1 0M946 411l0 1M968 480l2 1M970 521l2 2M1163 420l1 2M1036 550l0 3M1100 452l-2 1M1019 447l-1 3M1100 432l0 1M953 415l-2 1M1089 503l1 1M1058 503l0 1M920 410l0 1M1130 499l-1 1M946 386l1 1M1024 454l2 2M1126 406l0 1M1015 535l1 3M1134 398l-2 2M1072 419l-1 2M1122 469l-3 0M1019 486l1 2M1073 488l-2 2M1063 516l2 2M1009 440l-1 1M1039 488l3 1M1124 368l0 1M1079 482l-1 1M1007 521l2 1M927 460l-2 2M1086 376l0 2M1116 546l-2 1M1036 552l1 1M975 414l0 1M1036 484l1 2M936 406l-1 2M984 515l1 0M961 385l-2 1M939 406l1 2M997 385l0 0M1135 389l0 1M960 528l2 2M1139 508l-1 1M916 477l-2 1M1094 389l-2 1M976 373l-1 3M965 482l0 2M1062 516l-2 2M997 537l2 1M1046 455l3 0M1028 375l1 2M937 500l-1 2M920 391l3 0M988 454l1 1M1076 407l0 1M1020 484l2 0M1161 433l-2 2M947 502l1 1M1115 547l-1 1M1051 455l0 3M1094 506l-1 1M1073 481l1 1M1061 374l-1 2M936 562l-1 0M1051 446l-2 1M1028 533l2 1M1044 509l-1 2M1064 460l2 1M969 562l0 2M1014 534l0 1M1111 404l-1 0M964 436l-1 2M1021 451l0 1M1023 468l1 0M1110 556l1 1M948 369l-1 2M1043 396l-1 2M1120 442l0 0M1029 412l1 3M1077 426l-3 0M1132 450l-1 0M1059 519l2 1M935 430l1 1M1096 503l-1 0M985 431l0 1M997 436l0 1M1136 454l-2 2M1026 448l0 2M933 527l0 2M1066 512l1 1M1101 459l-1 1M1032 456l-1 1M1005 519l-1 1M1122 385l1 2M1171 508l-1 0M1099 368l0 1M1091 509l1 2M926 433l-1 1M1044 554l2 1M935 526l-2 0M1032 416l-1 2M978 472l1 2M1044 507l-1 0M1098 373l2 3M1098 527l1 0M1127 504l2 1M986 389l0 2M1077 413l-2 1M999 560l1 1M1139 506l0 1M1102 433l-2 1M929 474l0 1M1093 485l3 1M1032 525l-1 3M1082 444l0 1M939 502l0 1M1133 554l-1 0M1158 554l1 0M939 513l1 1M966 494l0 1M962 442l-1 2M1128 435l1 0M1093 546l1 0M1167 382l-2 0M1033 376l0 2M942 478l1 0M969 429l1 1M994 373l-1 0M1063 559l2 2M1051 496l-1 1M985 377l1 1M1085 373l0 1M1089 532l2 2M1146 495l2 1M1014 557l1 1M923 458l0 2M1047 531l1 1M946 367l1 2M1107 388l-2 1M931 406l-1 0M1163 534l-1 1M1058 487l0 0M929 545l2 1M1095 411l0 1M926 529l-2 1M944 547l-1 1M1005 372l-1 1M985 386l-1 0M933 513l2 1M952 395l-2 0M1127 454l2 0M1112 539l-1 1M1146 471l2 2M1056 485l1 1M936 381l0 2M1060 517l3 1M1160 393l1 0M1148 520l-1 1M1169 404l0 2M1044 520l1 1M962 501l1 3M1038 505l1 1M1061 388l1 1M1074 375l0 1M1034 463l3 1M1172 506l-1 1M1145 526l-2 2M1157 380l2 1M992 480l2 2M1125 373l1 0M959 431l-2 0M995 547l-1 2M1036 517l0 2M931 504l-1 0M974 406l1 1M963 529l0 1M1013 467l-1 1M939 544l2 2M1035 423l0 2M1018 405l2 1M934 461l1 1M977 426l-1 2M1061 529l-2 1M1092 503l3 1M1015 381l1 1M1066 454l2 0M962 432l-1 1M1018 399l-2 2M1120 439l1 1M999 393l-1 1M1128 384l-1 0M1076 445l-1 2M1081 388l-1 0M972 382l1 0M986 414l-1 1M926 467l-2 2M1026 410l-2 1M1073 377l-2 1M1130 423l-2 1M967 542l-1 2M1149 499l-1 1M1061 462l0 1M917 409l0 1M1115 378l0 2M976 411l-1 0M962 501l0 0M975 412l-1 1M1055 444l1 2M1043 393l1 0M956 509l2 1M976 488l1 0M1103 531l1 2M1124 368l0 1M1172 375l1 2M990 463l1 1M915 450l1 1M1133 420l0 2M1133 460l-1 1M1041 439l0 1M1103 384l1 1M927 450l1 1M1114 381l1 1M1091 556l0 2M1086 394l-2 0M1099 378l2 3M1145 409l-1 2M944 487l0 1M1002 493l-1 0M1069 487l2 0M1126 447l0 1M1099 426l-2 1M1116 479l1 3M1075 469l1 2M969 475l0 1M1150 377l1 1M960 404l0 1M1097 535l-3 0M1141 540l-1 2M1130 435l0 1M1034 507l0 2M1149 441l0 1M970 541l2 0M1163 544l0 2M1149 555l-1 1M933 451l1 1M1099 401l-1 3M1042 407l2 1M1058 445l0 1M1136 500l0 2M1029 406l1 2M1110 373l-1 1M1080 489l0 0M919 393l-3 0M1078 431l1 2M1010 484l2 2M1117 416l1 2M956 485l2 1M1169 542l1 1M1153 384l1 2M1087 453l1 1M1038 484l0 1M1112 368l1 1M1163 483l-2 1M1141 418l1 1M1127 393l0 3M1086 412l1 1M1105 373l1 2M1088 516l-2 1M1074 546l-2 1M1021 493l0 2M914 504l-2 0M964 498l-2 0M1050 371l-2 0M1083 479l0 1M1010 405l-2 2M1006 527l2 0M935 413l0 2M1171 550l2 0M979 414l-2 0M923 465l2 1M1080 468l0 1M1166 454l-1 1M1073 553l-2 2M1006 495l2 1M998 389l-1 1M1085 559l-1 0M1127 429l-2 2M1014 434l0 2M1074 518l-2 1M1048 507l0 1M975 518l1 0M1071 467l1 1M939 513l-2 2M914 562l2 2M991 397l-1 0M999 548l-2 1M1086 459l1 1M1018 525l-2 2M1103 487l-1 2M1134 529l-1 2M1070 430l-1 3M1136 468l0 1M927 553l0 3M1117 474l-1 1M1146 554l-2 1M951 449l2 1M1107 531l-1 1M944 478l-1 3M1033 385l-1 2M1106 477l-2 1M1111 483l-1 0M1059 482l-1 2M1064 508l-1 0M932 411l0 0M1059 518l-2 0M955 489l-2 2M1019 540l0 1M1114 424l1 3M940 373l0 1M1065 509l1 0M923 421l1 2M1122 405l-1 1M956 474l-2 2M996 369l1 0M1022 420l-1 1M955 521l0 2M1058 515l1 2M1004 422l-3 0M1062 515l0 2M1110 479l1 2M1053 503l-1 2M1097 484l-1 3M1005 375l2 1M991 406l-2 1M1163 403l-2 1M1135 416l2 1M1167 475l-2 1M976 437l0 1M1031 454l0 2M1047 452l0 0M1061 417l0 1M1137 497l-2 1M1065 415l-2 0M1045 465l2 1M1013 523l-1 0M984 384l-1 1M1110 512l1 1M939 509l1 0M1102 476l1 0M966 436l-2 1M1125 541l-2 2M1024 521l1 1M1142 424l0 1M1005 533l-2 0M1019 503l-1 0M974 493l1 2M999 499l-1 0M1037 516l1 1M1105 480l-1 0M921 429l-1 0M955 526l-1 2M977 437l1 0M1080 412l0 1M982 382l1 1M1013 517l1 1M920 401l0 0M980 540l2 1M956 470l1 0M1126 547l1 2M1084 449l-1 1M1026 385l-1 1M1117 439l0 1M1025 528l-2 1M964 453l-2 0M938 426l1 0M1118 453l1 2M992 521l-1 1M979 428l-1 2M1157 534l1 1M1042 390l2 1M995 539l2 1M1141 537l-1 0M1072 468l0 1M1053 489l2 1M1003 479l0 1M970 550l0 2M1105 406l2 1M1014 473l-1 1M999 549l1 1M1006 511l1 0M1158 526l-1 0M1058 534l-2 0M1155 463l1 2M1125 495l1 1M975 380l0 0M979 426l1 0M1100 502l1 1M1167 411l0 1M1109 561l-2 2M1014 421l0 1M991 370l2 1M940 494l0 1M948 511l1 1M1073 528l2 1M1011 539l-2 0M928 443l-2 1M1087 497l1 1M964 547l2 2M1081 490l1 0M972 403l1 2M925 379l1 1M1123 401l0 2M926 541l-1 0M980 481l2 0M966 385l0 2M1097 402l-3 0M1056 497l-1 1M1167 506l2 1M1085 399l1 1M1024 396l-1 2M955 519l-1 2M1061 542l-2 1M947 483l1 0M967 398l0 1M955 500l0 1M1118 550l0 2M983 410l0 0M920 463l2 1M1037 484l-2 0M1163 472l-2 1M940 511l1 2M914 373l1 1M987 453l1 0M1012 473l-1 1M1071 385l2 2M975 529l1 1M1089 455l1 1M953 418l-1 1M958 391l-1 1M1151 492l1 2M1046 557l-3 0M1001 416l-1 2M995 425l-1 1M1150 470l-1 1M1006 406l2 2M1043 461l-1 0M1118 453l-1 1M1119 468l0 1M959 523l-1 2M988 501l2 0M971 504l-2 1M1038 522l1 3M1106 522l-2 2M1084 393l0 1M1056 480l1 1M1109 508l-1 1M1138 450l0 1M1024 516l2 1M1141 459l-2 1M1068 555l1 0M1116 389l-2 1M1096 387l0 1M1009 503l2 1M1087 534l-1 2M1041 435l-2 2M917 530l1 2M1072 494l1 2M966 428l0 1M956 390l-2 1M962 455l-1 0M1080 369l-3 0M1087 520l-1 2M1051 416l-2 1M997 440l0 1M1043 470l-1 2M1161 456l0 3M946 396l0 1M1116 468l-1 0M982 489l1 1M958 469l-1 0M1123 466l1 2M1162 383l1 0M969 402l-1 0M969 414l-2 1M1011 429l1 2M955 527l-1 1M1052 401l0 1M1117 545l1 0M936 492l1 0M1136 423l-1 0M1112 393l-3 1M979 388l-1 0M975 373l-2 0M1060 376l1 0M1134 467l-2 1M1063 485l0 2M1008 518l-1 0M1001 441l-1 1M1106 446l-1 0M1118 368l2 2M973 404l-1 1M1068 467l0 3M1092 559l2 0M1036 555l1 2M1047 406l2 1M1123 453l1 2M1056 371l-1 1M1008 515l0 1M1092 529l1 0M937 519l2 0M948 492l-1 0M952 446l0 2M1108 505l0 2M1046 409l0 2M928 422l3 0M1015 390l0 1M1162 374l2 0M1046 534l0 0M1063 415l2 1M984 431l0 2M1008 500l0 0M1004 422l1 2M929 490l-1 1M1114 463l-1 0M1005 450l-1 1M1133 396l-1 1M1046 498l2 0M957 413l0 1M960 544l-1 0M1144 393l-1 1M1051 390l0 1M999 442l2 0M972 403l-1 0M1123 522l0 2M1020 543l-2 2M1042 530l2 2M963 396l-1 0M1043 391l0 1M1052 374l0 1M1028 523l1 2M1049 393l0 0M1021 402l0 1M1030 523l-2 0M953 490l0 1M972 441l0 1M1066 531l-1 1M1080 550l1 1M1128 507l0 1M972 509l-2 1M916 432l-1 0M968 521l0 1M925 538l2 0M964 492l-1 1M960 449l1 0M1141 412l2 0M1106 487l-1 2M948 498l-2 1M1074 529l0 0M1079 371l0 0M1073 367l-1 0M1108 554l-1 1M1015 370l0 2M964 521l1 1M1121 434l1 0M963 484l1 1M926 444l-2 2M1101 447l1 0M1052 432l-2 1M1166 467l-1 2M1112 418l0 1M935 374l0 1M1011 494l0 0M919 399l0 3M1154 374l-2 1M1097 368l-1 1M948 520l0 2M963 425l1 1M935 426l1 2M1028 537l1 1M1031 477l1 0M1086 398l-1 3M1141 394l2 1M949 465l1 1M1010 494l1 0M1131 514l1 0M924 378l-1 1M951 473l1 2M1122 421l0 2M1150 547l-1 2M1105 545l-2 1M964 374l2 1M1034 421l0 1M1036 492l-1 0M1010 473l1 0M998 470l-1 0M1067 381l2 2M1007 490l-1 2M1067 493l0 3M917 547l-1 2M1015 530l0 3M990 416l0 0M1060 555l1 1M928 496l-3 0M919 474l2 1M1160 486l1 1M1113 376l-2 1M963 421l-1 1M1153 500l0 3M1088 415l-1 0M955 391l1 1M1022 437l-1 0M960 532l-1 0M1004 389l3 1M953 488l0 2M1084 536l2 1M927 474l1 1M1035 419l1 0M1124 525l0 1M1019 381l-1 1M971 462l-2 2M1152 502l1 1M1155 378l1 3M968 561l1 0M1089 496l-1 0M980 466l2 2M996 479l1 1M925 373l-1 1M1171 453l2 1M1167 477l1 2M982 486l-1 0M1120 388l-2 2M948 525l0 2M1088 424l0 1M959 499l-1 2M1068 442l2 2M964 431l1 2M946 407l2 1M1077 535l0 1M1006 555l0 1M1030 559l0 3M1003 436l-2 1M1093 484l-1 1M926 388l-1 2M916 400l-1 1M970 454l-2 1M968 447l1 1M1139 391l-2 1M1058 495l-1 2M1088 490l2 2M1088 529l-1 2M980 446l1 1M1162 534l-1 3M1104 384l1 0M949 393l-2 1M1153 507l3 1M1116 560l1 2M1158 373l-1 1M1081 478l2 0M1073 533l2 2M981 509l0 2M1133 397l0 1M984 528l-1 2M1135 422l-2 0M940 506l-2 2M1148 504l-2 0M1136 445l0 1M1020 467l0 0M1059 518l0 3M1161 397l0 0M1021 459l0 0M1152 552l0 1M964 547l-1 2M1172 367l2 1M952 561l2 1M925 484l1 1M1157 459l1 0M956 502l-1 2M1015 472l0 1M1059 419l-1 1M946 495l2 1M1070 496l0 1M1114 442l1 1M1095 422l3 1M1166 379l-1 3M1058 525l-1 1M927 457l-2 0M930 509l2 0M1153 492l-2 2M1001 520l-2 1M936 491l-2 2M1159 388l-1 1M1057 461l3 0M937 528l-3 1M1166 394l0 1M1166 432l0 3M937 463l1 2M1126 417l1 2M970 554l1 1M929 462l2 2M979 388l1 0M947 377l0 2M1048 493l0 3M1153 399l2 1M1157 451l-2 2M1048 452l0 1M1045 517l0 1M986 449l0 0M1002 505l-1 1M1085 379l1 0M1053 422l-1 1M1011 410l2 1M1038 458l3 1M1019 518l0 1M994 561l0 0M1136 470l0 1M1031 399l0 1M1142 403l3 1M1107 403l2 2M1042 431l-1 0M1024 368l0 1M917 508l0 1M1026 378l-2 1M1039 539l0 2M1035 379l2 0M990 541l-2 2M982 493l0 1M1024 465l-2 1M957 402l-2 2M968 406l1 2M1149 543l0 0M1113 414l-1 1M1017 496l-1 2M977 451l-1 1M1112 443l1 0M1032 423l3 1M1078 412l2 2M978 419l0 3M1134 473l0 1M981 411l1 1M961 510l1 0M1002 375l0 2M1149 490l0 3M1072 465l0 3M1136 369l-1 1M1036 539l-1 1M1050 372l-1 0M1062 511l-3 0M914 544l2 1M929 556l0 1M1088 372l3 0M935 410l-2 1M1036 528l0 1M1026 444l0 1M1119 500l-2 0M984 374l1 2M990 428l2 1M1033 500l2 1M982 372l1 2M1062 512l-2 2M1087 392l0 1M955 396l-1 1M1138 544l2 1M998 389l-2 1M1155 477l1 0M1150 418l2 2M924 374l2 0M1167 383l-1 0M1144 382l0 2M1110 546l1 2M939 492l3 1M1010 561l1 0M971 457l1 1M960 451l1 2M1014 455l-1 1M934 403l-2 2M992 504l-1 1M923 502l1 1M960 549l-2 0M1025 463l-1 2M941 457l0 1M1162 538l-1 0M1153 399l-1 2M919 556l-2 0M929 489l1 0M938 385l1 3M1171 503l1 1M1106 539l2 2M1120 541l0 1M1140 529l1 0M980 418l0 0M960 389l-1 2M1138 381l1 3M965 550l-1 1M1000 430l-1 0M1099 373l1 1M1043 387l3 1M1025 370l0 1M1002 519l0 2M915 371l0 1M1101 432l1 1M1121 443l1 2M1025 394l0 2M1042 510l-1 0M1019 452l0 3M1076 473l2 2M1086 498l-2 2M1038 492l1 1M1009 423l1 2M1125 473l-2 1M1120 422l-1 3M1072 484l-1 3M941 398l-1 1M976 484l-1 0M1157 411l0 1M969 436l1 1M1067 547l1 1M1102 472l0 2M1116 560l2 0M936 466l-1 1M1019 492l-1 1M1069 535l-1 2M971 391l-2 1M1056 503l-2 1M1047 373l-2 1M935 499l-1 1M972 528l-1 3M1130 477l1 0M941 439l0 3M1026 544l-2 0M1104 422l1 1M1138 479l1 1M1106 505l-1 3M1081 461l0 3M931 414l1 1M966 465l1 1M961 396l-1 2M1097 388l-3 0M1006 502l0 2M1100 523l1 1M1022 386l3 1M1005 441l1 1M1167 414l-2 1M1051 424l1 1M1171 400l-1 0M924 560l-2 2M1089 470l0 1M1047 498l1 1M1116 547l-2 1M1075 369l1 2M937 456l-1 1M1016 463l-3 0M1096 512l1 2M1159 468l0 3M1149 431l1 1M971 417l-1 0M943 406l-1 1M982 537l1 1M1073 540l0 1M1140 396l1 0M1075 562l-1 0M979 491l-1 1M971 390l-1 1M1002 417l-1 1M941 459l-2 1M1014 427l1 0M997 402l1 0M1116 373l2 1M1061 455l-1 1M1010 467l2 0M1033 516l-2 1M923 460l-3 0M1147 405l0 0M1027 498l0 1M989 389l0 2M963 497l2 2M1142 429l0 1M1167 506l-1 1M1098 398l2 1M1000 491l3 0M1047 457l2 1M1122 517l-1 2M991 404l1 2M1086 399l-1 2M1009 555l-1 0M925 475l0 2M1055 369l0 1M1172 380l0 1M1130 477l1 2M1056 549l0 1M1019 414l2 1M1040 474l2 1M1028 529l1 2M949 409l-1 2M1095 376l1 0M1080 539l1 2M1015 454l0 1M942 379l3 0M1030 455l0 1M1027 460l2 2M1043 500l1 3M942 396l-1 2M984 524l-2 2M1000 506l1 3M1019 413l-1 2M1155 484l1 1M1064 549l0 1M1003 425l0 3M925 402l-1 0M1034 541l0 1M1167 421l1 1M1053 382l0 1M928 459l-2 0M1071 409l0 0M1003 532l-2 1M961 425l0 1M1005 472l-1 1M1144 505l1 2M968 461l1 1M1100 445l0 1M977 515l-2 0M980 371l0 1M1031 496l1 0M1023 404l1 1M986 485l2 0M1077 500l-2 1M944 550l2 0M956 494l2 0M925 474l-1 0M978 559l-2 1M975 465l0 1M913 494l2 1M1104 473l0 1M976 490l-3 0M964 391l0 1M934 411l2 1M1047 495l1 1M1117 487l-1 1M1014 393l0 1M1017 526l1 0M1007 562l-1 1M1012 414l-2 1M1060 372l3 0M1132 558l1 0M1028 551l0 2M916 378l1 1M915 405l1 1M1169 508l-3 1M1068 501l1 1M1038 388l-2 0M987 370l1 2M1001 535l-1 1M1036 515l-1 3M1000 388l0 2M1087 464l-1 2M944 469l0 0M1021 422l2 0M942 379l0 2M1037 374l1 2M1023 462l-1 1M962 432l1 0M1108 473l-3 1M1047 428l2 1M1072 419l-3 1M992 420l0 0M963 556l1 1M1062 546l-1 1M984 485l0 2M961 456l-1 1M944 488l2 1M1116 451l0 2M992 515l1 1M940 471l1 0M1061 516l0 1M1146 386l1 1M1104 399l2 2M959 465l-2 2M974 374l-2 2M1118 401l0 3M1085 372l2 1M1081 537l1 2M942 496l1 1M1014 560l-1 0M1065 477l0 3M1061 551l0 1M963 436l0 2M1164 372l0 2M920 386l1 1M1017 545l-1 2M1083 438l1 1M1102 402l1 2M1079 375l0 1M935 459l0 3M957 491l-3 1M1057 420l-1 3M1001 416l2 1M1049 549l-1 2M1017 485l0 2M1084 562l-1 0M974 475l-2 2M941 518l0 1M1153 406l0 1M1088 457l0 1M1164 517l-2 2M1017 472l-2 2M1036 407l-1 1M1149 492l2 1M951 416l1 2M1171 446l0 1M1150 549l1 2M1126 508l-1 2M948 492l-1 1M1124 457l0 3M1151 536l1 1M1025 561l-1 2M1114 398l-1 0M968 498l-1 1M915 543l-2 1M1112 376l1 3M1031 533l-1 1M942 449l-2 1M1127 420l-1 0M1130 527l2 1M1058 444l0 2M1172 544l0 2M1042 534l-1 1M1110 379l2 1M1005 530l1 1M1037 400l0 1M1127 378l-2 1M1121 551l1 1M1117 479l1 1M1059 538l-2 0M1022 465l1 0M943 426l1 0M1056 453l1 0M1046 418l-2 1M948 414l1 0M1043 542l0 1M1010 491l1 0M920 484l-1 1M1131 463l1 1M1001 468l1 2M922 412l2 2M1025 467l0 1M1077 515l3 0M1048 458l-2 2M938 382l0 2M1054 466l2 1M924 416l-1 0M994 426l2 1M973 476l-2 1M1067 402l0 0M965 461l-2 2M1155 461l2 0M1023 407l1 2M918 454l-1 1M1074 386l-2 2M1066 488l1 2M1055 380l0 2M1041 529l2 0M1042 407l0 2M959 554l-1 1M1050 468l2 1M925 380l-2 2M1021 467l0 1M1156 471l2 2M925 553l-1 0M1053 457l1 0M1020 447l1 0M1039 391l-1 0M1145 507l1 2M1062 459l-1 3M1168 457l1 1M1087 482l0 2M980 475l-1 2M990 503l0 1M1132 426l1 2M1155 370l2 0M1135 478l-1 1M1134 385l0 1M1035 547l1 0M936 400l1 1M1157 423l2 2M930 462l1 1M1160 478l2 1M1000 423l1 1M927 390l1 0M953 559l1 0M1014 518l-1 0M1055 488l-1 0M927 451l1 0M970 403l2 0M1164 546l-1 0M952 500l-2 1M1151 402l2 2M985 491l-1 0M969 440l-2 1M1020 426l0 1M1143 560l0 1M1030 469l1 2M987 416l-2 2M1082 542l1 1M1064 499l1 1M954 369l1 1M1096 394l-1 2M1169 396l0 1M1100 433l1 1M999 536l0 1M930 546l0 3M915 437l2 0M1086 399l0 2M1080 456l1 1M966 428l-2 1M932 388l-2 1M1104 387l2 1M1106 536l2 0M1035 453l2 2M1158 486l0 1M1002 393l-2 0M999 483l0 3M1093 450l-1 0M1100 380l-1 2M926 526l2 1M975 468l-1 0M1105 432l-1 0M1098 501l-1 0M1088 470l-1 2M961 498l0 3M1165 455l0 1M1029 448l1 1M1046 533l1 1M981 389l-1 1M936 547l-1 1M1019 445l2 2M1107 453l1 1M1064 435l-3 0M937 490l-1 2M1069 401l1 2M946 518l-1 1M1131 486l0 1M1165 379l-1 1M942 369l1 1M940 373l-1 1M966 370l-2 1M1164 426l1 2M995 412l2 2M959 420l-2 1M1144 414l0 1M996 514l2 1M1160 454l-1 0M963 377l1 2M1097 489l-1 2M991 440l1 2M1105 440l-2 2M1015 454l2 2M965 551l0 2M1111 385l0 2M1045 434l1 0M1041 493l-2 1M952 410l0 1M991 420l1 2M1036 411l1 0M963 440l0 1M1064 427l1 2M1093 553l1 2M974 551l0 1M1127 419l0 1M1171 559l-2 1M1072 368l1 1M954 402l1 1M936 535l0 0M1080 529l1 1M1063 502l0 1M966 371l1 1M1094 404l-2 0M918 421l0 2M1153 415l-1 2M1169 434l1 1M1027 378l1 2M945 460l0 2M917 428l0 1M1082 407l2 2M1006 433l1 1M1153 428l-1 3M1126 557l-3 1M944 510l-1 1M1151 510l0 1M982 562l-2 1M950 482l-1 1M1075 539l1 2M970 514l-2 1M940 374l0 1M1045 452l-1 0M924 454l0 1M1143 483l1 1M1161 551l1 2M1002 380l0 1M1108 510l1 2M1069 514l1 3M927 412l-2 1M963 500l-1 0M932 427l2 1M1115 507l-2 1M964 382l1 0M1097 486l0 2M1119 493l0 0M1051 443l0 1M979 518l-1 1M948 467l2 2M931 385l0 1M1110 380l0 2M933 431l0 2M1161 491l-1 2M1105 368l-2 1M1105 503l2 1M1079 388l0 1M991 529l-1 1M1054 553l0 1M1004 529l1 1M960 408l-1 1M1060 446l2 1M956 546l0 1M1064 513l0 2M976 463l2 2M1016 535l-3 0M1167 489l1 0M949 500l1 1M926 519l-1 1M1034 369l1 0M1171 454l1 1M1120 458l-1 2M977 512l3 0M1128 417l2 1M1047 481l0 1M945 439l1 1M1104 393l1 0M925 369l-1 3M1020 537l1 1M974 384l-2 2M1158 408l0 3M943 497l0 1M1097 389l1 2M1078 442l1 1M1014 434l-1 1M972 516l2 0M1053 533l0 1M1040 500l1 2M974 478l0 1M1122 413l-1 0M987 492l0 1M1046 523l0 1M1019 397l2 2M1045 417l-1 3M993 520l-1 1M1152 442l-2 1M1128 394l1 1M1020 436l1 2M1075 425l-1 1M1141 538l-2 1M927 529l0 3M1130 393l0 2M1090 438l0 0M1088 419l-1 1M1078 382l0 1M924 504l-3 0M915 434l1 2M929 497l0 1M1097 382l3 1M1094 538l-3 0M961 402l2 1M976 437l-2 1M960 547l2 2M923 541l-1 0M1118 511l-1 2M970 489l-1 2M1032 544l-1 3M1024 397l-3 0M1011 403l2 0M1026 497l0 2M980 469l-2 1M1084 369l0 1M1137 556l-1 2M1147 487l1 1M1066 367l1 0M1148 384l1 2M1144 524l3 0M1028 508l2 0M1170 433l0 2M919 538l-1 0M983 541l1 1M922 433l-2 1M984 446l2 1M1121 454l-2 1M1062 499l-1 2M986 420l1 0M1079 388l2 1M978 515l-2 1M1158 519l0 3M1039 418l3 0M1120 525l-1 1M1009 410l-2 0M954 404l0 1M962 470l-2 1M1040 497l0 2M985 510l1 1M1059 497l-1 0M1107 479l-1 1M920 403l-2 1M1080 451l0 3M937 458l1 1M968 469l-2 0M995 536l-2 0M977 491l0 0M1020 422l-3 0M1048 521l1 1M935 477l2 1M1155 411l1 2M942 384l1 2M1112 450l-1 1M1140 377l1 2M947 494l0 1M982 493l-1 2M1005 373l-1 2M1063 440l2 0M1124 375l-2 1M1016 409l0 2M1022 541l-1 1M1089 517l1 0M997 555l-3 1M1087 537l-2 2M975 524l1 2M988 378l1 1M917 391l2 1M984 498l-1 0M1162 462l-1 1M1090 440l2 1M1060 452l2 1M997 414l1 0M968 426l1 2M917 404l-1 3M1152 500l1 0M947 504l2 2M1118 494l0 2M938 417l1 1M1110 562l1 2M1078 528l2 1M1017 520l1 1M962 426l0 0M1154 403l-2 0M1061 545l-1 1M1163 554l0 1M931 429l1 1M949 382l1 2M984 477l-2 2M968 513l2 1M1168 406l-3 1M1112 502l1 2M1026 524l-2 1M1157 455l3 1M941 502l-2 0M1034 546l2 1M1036 473l1 2M1074 403l-2 2M1154 375l0 1M1102 466l1 1M1089 412l0 2M1043 458l0 2M1081 381l-2 0M1088 368l1 0M1045 411l-1 0M1059 403l1 1M979 503l-3 0M1154 555l1 0M963 517l-2 1M1085 491l-1 0M1018 485l-1 1M949 556l2 2M1142 497l1 1M1001 431l0 2M1032 447l1 1M1074 491l0 2M1064 528l-1 0M1084 402l0 0M929 472l-1 1M1087 381l-2 1M947 433l1 3M1130 544l0 1M1171 412l-2 1M961 493l-1 1M1106 369l2 2M1018 516l0 1M1054 467l-1 0M1019 448l-3 1M1029 409l1 1M923 501l1 3M917 438l0 2M924 372l2 2M1026 480l-3 1M1005 549l1 2M1097 517l-1 1M918 479l0 1M1090 488l-1 0M1009 561l1 1M1020 388l1 1M1116 486l-1 0M1011 386l-1 1M934 484l-2 2M1125 412l1 1M1056 512l2 1M1128 434l0 2M1041 541l-2 0M1124 505l0 2M1142 406l-1 1M972 517l1 1M1052 523l0 1M1059 517l-2 0M952 484l0 0M1132 445l0 1M1137 492l3 1M1029 505l0 2M1126 442l-1 1M1094 496l-1 3M1144 382l-1 3M1137 496l1 1M917 417l2 0M1165 415l-1 0M1155 559l-1 2M1007 534l-2 1M1058 522l-2 2M1038 493l-2 1M920 474l2 2M984 371l-1 2M1014 373l-2 0M1047 539l1 2M1002 512l3 1M1129 467l0 1M989 372l0 3M966 510l2 2M1169 545l0 2M1045 379l1 1M914 488l3 1M1063 377l1 1M1090 378l-1 2M1082 421l1 2M961 484l-2 1M967 407l1 0M1015 389l-1 1M1030 536l1 1M1154 467l-1 2M1097 448l-1 0M1147 406l0 1M1085 496l1 1M963 434l-1 2M972 428l1 1M1008 521l2 1M930 539l-1 1M939 482l1 0M1002 377l-1 2M1056 548l-2 0M1041 445l2 1M941 443l-3 0M1112 525l-1 3M1138 387l2 0M1050 509l-1 1M1028 503l-2 1M1118 552l-1 0M987 486l0 1M1153 562l0 1M1102 479l-3 0M1001 368l-2 1M1130 443l-1 2M1077 370l1 1M1080 506l1 0M1166 531l0 2M1106 413l-1 2M978 496l-1 2M941 371l0 2M1057 457l1 2M1025 453l0 2M1004 534l0 1M1056 399l-1 2M1079 423l-1 2M1035 480l1 1M1023 534l2 2M934 485l-1 0M1031 531l-1 0M1169 399l-2 2M991 458l1 1M1057 424l-2 1M1009 421l1 0M997 541l0 1M985 404l-2 1M930 483l0 1M1131 560l0 1M1124 448l0 0M1126 557l1 0M1153 507l0 1M1000 385l2 1M1001 481l0 1M1052 461l0 1M964 561l1 1M1078 488l0 1M1132 372l-1 1M1096 548l-3 0M994 451l-2 1M1072 438l0 1M967 415l1 0M1013 379l1 2M918 549l2 2M920 422l2 0M992 532l-3 1M1022 528l-1 0M987 389l0 1M1026 541l1 2M997 467l-1 2M1118 468l0 3M1034 517l0 1M1111 513l-1 0M1124 474l2 2M1060 506l-2 0M1096 466l1 1M966 550l-2 1M994 560l-1 2M986 443l-2 0M936 447l-1 0M966 550l0 1M997 490l0 1M1018 562l2 0M1004 416l-1 3M1044 559l1 1M1110 540l1 1M1118 423l0 1M1142 450l1 1M1051 390l0 1M1171 433l1 0M988 563l-1 1M944 552l1 1M989 433l0 1M1000 519l0 1M1102 403l1 1M1064 497l0 0M1108 450l2 0M1021 499l0 1M1099 472l-1 0M985 398l2 1M1034 503l-2 1M1139 401l-1 2M969 535l2 1M1136 373l2 2M1139 420l0 1M1103 438l1 1M1007 479l-1 2M995 550l1 1M957 560l1 2M1149 534l0 2M1126 399l1 0M1106 519l-1 0M916 455l1 1M969 464l2 0M1134 373l3 1M1166 445l0 1M1001 419l-3 1M1092 378l-1 3M994 374l0 2M1041 559l-1 1M939 514l1 1M928 558l1 2M984 373l-2 1M1091 451l2 0M1119 534l0 2M1018 376l0 1M1083 496l0 1M1040 561l1 3M1150 407l-1 2M989 393l2 1M1041 427l1 0M1029 509l-1 2M1024 469l0 1M1060 395l-1 0M1103 443l-2 0M1140 440l0 1M1160 429l-1 1M961 483l1 2M996 480l-2 0M934 424l3 1M1140 417l1 1M1141 414l-1 2M928 518l0 2M1103 497l1 0M1045 398l0 2M1076 520l0 1M975 552l-1 2M1005 404l0 1M983 385l-2 2M958 419l1 0M1032 535l-1 1M1098 504l1 1M1075 464l-1 1M1040 519l2 1M1149 467l-1 1M1137 556l-2 1M1034 491l0 1M1067 550l-1 0M1101 474l1 2M993 489l-1 0M1044 554l1 1M984 445l1 2M1050 497l-1 1M1072 389l-2 0M995 414l-1 0M973 421l-1 1M1076 472l-1 2M989 372l0 1M963 466l-2 2M1047 515l0 1M1092 506l-1 2M1118 549l-1 1M1063 485l-2 2M972 542l1 1M1006 551l-1 2M996 533l2 2M1170 395l0 2M1169 427l2 2M1120 453l1 1M1019 463l1 1M1005 426l1 1M1025 542l1 1M1123 421l-3 1M1035 500l-1 2M1170 421l3 1M955 531l1 0M1114 493l1 3M1136 382l-2 2M916 392l-1 0M1047 550l-1 1M1070 537l-2 2M1079 446l0 2M953 525l2 2M1126 438l0 2M928 464l0 1M1117 499l-1 1M1076 418l1 0M966 458l-2 1M1002 556l0 0M977 433l-1 1M948 370l0 2M922 408l0 1M1085 415l-1 1M974 399l-1 0M979 562l-2 1M929 406l2 0M1092 505l2 1M1054 395l2 2M984 517l-1 1M1172 514l1 0M1047 436l1 1M992 385l1 0M987 514l2 1M1073 514l2 2M1016 461l-3 1M952 457l2 2M1001 497l-2 2M1050 486l2 0M1140 539l-2 2M1155 392l-2 0M1082 395l2 2M1140 385l0 2M1011 512l0 2M916 489l-2 0M946 504l-1 1M1131 391l2 2M1160 371l0 2M942 537l2 1M962 481l-1 0M946 448l0 1M963 468l-1 1M998 380l2 2M1135 530l0 2M1051 378l-1 1M1069 535l-1 0M1010 392l-1 3M1030 462l-1 0M1080 516l1 2M1090 554l-3 1M1165 544l2 0M932 451l-1 2M1002 424l0 1M1030 542l1 3M965 391l-2 0M1105 490l0 2M1011 387l-2 0M1027 486l0 2M940 368l1 1M948 465l1 1M1093 510l2 1M916 416l2 1M1168 398l1 0M1071 372l0 1M1021 536l0 0M1164 553l-1 0M1065 475l-1 1M936 457l-1 0M1149 459l-1 2M1036 496l-1 1M965 497l2 0M929 411l-2 1M1067 493l1 1M974 539l-1 0M1024 520l1 2M992 520l2 1M969 384l-1 0M1003 476l-3 0M1164 551l3 0M1157 381l0 3M1108 391l0 1M926 492l1 2M998 500l0 0M1116 454l-2 1M952 534l-1 1M1143 416l-2 0M1085 413l-1 1M1017 388l1 0M1025 562l1 2M1101 426l-1 2M1009 420l2 1M929 502l2 1M1161 455l-2 1M1136 537l0 3M1058 507l0 3M1144 427l0 0M1071 471l0 1M1020 384l-1 1M944 467l1 1M923 490l1 1M950 423l-1 2M949 553l-2 1M1145 398l3 1M1096 389l0 2M919 538l1 3M977 454l1 2M1080 400l3 1M1046 414l0 2M1004 433l-2 1M1068 543l0 1M1172 374l-1 2M994 460l-3 1M999 406l0 0M1111 451l0 2M946 468l1 0M1063 493l1 1M934 373l-1 1M929 394l-2 0M1013 468l1 2M1162 455l1 2M1008 523l0 0M1098 393l3 1M996 407l-1 1M1015 478l0 3M1026 432l2 0M1011 407l3 0M1157 450l-1 2M916 443l1 1M1116 536l0 2M918 386l-2 1M1009 370l-1 2M1139 526l1 1M1012 414l-1 0M1140 404l-2 1M1167 429l1 0M1137 429l-1 1M1133 561l-1 3M946 432l2 1M1163 504l-2 0M930 407l0 2M998 523l3 0M1045 484l1 0M1057 530l0 2M1002 452l2 1M1007 412l-1 1M1127 404l2 2M959 442l3 1M1160 448l-2 2M1006 450l-1 1M1052 514l2 1M1145 386l-1 3M1158 382l0 2M1012 493l1 1M1078 490l-1 3M1063 456l-2 2M1098 416l1 2M986 511l1 1M954 424l-1 3M994 459l-1 0M1021 369l0 1M1170 540l0 1M1080 469l0 1M1114 455l-1 0M1130 401l0 2M1092 483l-1 1M1014 518l-1 0M1106 413l-1 2M1161 493l1 1M1042 435l0 2M1008 406l1 1M1053 481l1 0M991 398l2 1M998 480l-2 1M1167 497l-1 2M1022 454l1 0M1042 375l1 0M943 447l1 0M946 406l2 0M976 542l1 0M1168 544l-2 2M946 464l1 2M1025 377l1 2M1170 445l-1 1M1033 545l0 2M1156 380l0 1M1106 418l-1 2M1080 484l-3 1M1009 481l-1 1M1076 548l1 1M986 463l1 0M1019 426l0 1M1144 536l0 1M1077 372l1 3M981 476l-1 0M917 520l2 1M1027 387l-1 0M1099 545l-2 1M928 409l2 1M1115 544l1 0M1010 450l-1 0M1088 405l0 1M1031 559l1 3M1038 427l0 0M1060 517l0 2M974 524l1 1M1011 450l0 2M950 491l1 3M951 552l0 1M1023 477l1 0M1142 395l-1 2M1015 391l0 1M919 507l-1 0M970 496l1 1M1043 379l0 2M917 389l0 1M1166 384l1 0M939 479l2 2M1048 525l-3 0M982 476l1 1M1122 490l0 1M944 392l-2 1M938 378l0 1M1048 474l3 0M986 388l-2 1M1007 406l-1 0M1171 525l1 1M1134 515l-2 0M975 377l2 2M945 484l-1 0M1025 523l1 0M1002 451l-1 0M1080 384l1 0M1122 445l-2 0M1018 409l1 2M1166 399l-1 0M1085 376l-3 0M1171 451l-2 3M1172 533l3 1M916 470l-1 0M1161 393l-1 2M1044 409l-2 2M1011 394l-2 2M1043 426l1 3M1077 467l-1 2M1022 440l1 1M1166 439l2 1M1116 378l1 0M967 468l1 2M991 512l-2 1M1002 510l-1 1M1084 468l0 0M1107 548l-2 2M950 405l1 1M954 370l1 1M1106 492l1 1M962 406l1 0M1172 510l2 1M1051 440l-1 2M929 444l-2 2M1011 559l1 1M991 560l-1 3M1164 458l-2 1M964 420l2 2M983 501l-1 3M1151 409l2 2M929 427l-1 2M1132 502l-1 0M1007 527l0 1M1129 380l-2 1M1082 507l1 0M1132 410l1 1M1115 459l1 1M988 391l-1 0M972 563l-1 2M948 558l2 2M1091 413l-1 1M1109 385l1 0M1152 388l-2 1M1077 368l2 0M995 488l2 2M936 457l-1 0M1013 412l0 1M994 384l0 0M1034 369l1 0M1060 402l0 2M989 511l0 3M1026 525l2 1M1008 496l-2 1M1096 497l2 2M1025 423l-1 0M980 499l-1 0M1074 516l-1 1M988 443l0 2M940 439l2 1M999 382l0 1M1084 421l0 1M1027 473l0 2M950 480l-3 0M1122 447l-1 0M1096 487l3 0M986 407l-1 2M1126 543l1 3M991 395l-2 1M946 410l0 1M975 475l-2 1M1036 368l0 2M1040 500l0 1M1035 413l-3 1M1171 376l-1 1M983 517l-2 1M1014 412l0 1M1126 445l0 1M1045 436l0 1M1056 403l1 2M1071 383l-1 2M1033 505l-1 1M1077 523l2 1M918 441l-1 1M1149 543l-3 0M1086 395l0 3M1056 556l-1 2M1051 549l2 1M987 372l-1 2M986 418l2 1M1163 460l2 0M1168 468l-1 0M1071 532l-2 1M1122 558l-1 0M1044 443l0 1M964 469l0 3M936 379l-1 1M1072 537l2 1M1057 482l1 0M991 499l0 1M966 523l1 1M1149 414l1 1M1018 484l-3 0M1029 462l1 1M1032 470l-1 1M943 553l-1 2M978 374l2 2M975 512l1 1M965 394l-2 0M1129 405l2 0M918 446l-1 1M1130 399l0 1M918 383l-1 1M1157 381l0 3M1032 530l-2 0M936 378l2 0M1104 529l-2 2M983 392l0 1M1029 533l2 2M1126 514l0 1M1056 413l-1 0M1105 403l-1 1M970 442l-1 3M993 467l0 1M920 446l0 1M1167 513l1 2M987 455l1 0M947 400l0 2M1000 371l2 1M991 394l0 3M975 552l1 1M1057 460l-1 0M1136 369l-2 1M960 545l-1 0M937 464l0 0M1096 438l-1 1M1101 421l-1 2M1167 477l-2 0M941 371l1 1M1036 483l-1 2M955 554l-1 2M1081 431l-1 2M1097 406l0 3M1032 440l1 0M1122 470l-2 1M1017 368l0 1M1094 441l-1 1M1015 454l0 1M1042 379l0 1M931 529l1 3M1033 381l2 1M1005 549l1 2M996 440l0 2M1105 462l1 2M1039 555l0 1M1155 417l-1 2M970 542l1 1M1059 409l0 2M1130 405l1 1M951 381l1 2M957 486l-1 2M1005 377l0 3M1029 519l1 1M1026 512l0 3M955 425l2 2M1125 420l-1 0M1169 397l0 1M934 525l0 1M1028 375l0 1M946 442l2 1M1068 535l0 2M1137 485l-3 1M1043 523l-1 1M913 457l1 0M1000 405l1 1M945 491l-3 1M996 489l1 0M1087 516l-2 1M931 376l-1 2M928 493l2 0M1143 507l1 3M1171 559l2 2M1082 476l0 2M1133 480l-2 2M941 420l-1 2M995 478l2 0M1055 495l2 1M946 489l0 1M1066 385l1 1M1019 465l2 1M1103 464l0 2M969 445l-1 1M913 428l1 2M1165 432l0 1M961 472l1 1" stroke="#b2509e" stroke-width="3.3"/>
<path d="M988 517h0M920 442h0M1017 562h0M952 505h0M1053 540h0M1152 370h0M1005 555h0M1049 437h0M1069 476h0M1151 429h0M1003 458h0M1149 371h0M1103 555h0M1083 446h0M975 471h0M1101 462h0M1108 412h0M1022 542h0M1057 487h0M991 437h0M1028 466h0M1130 372h0M1024 378h0M983 435h0M1052 415h0M978 500h0M1049 516h0M1097 519h0M1108 523h0M962 368h0M1144 441h0M1001 516h0M1046 395h0M1149 407h0M928 499h0M1108 409h0M1011 456h0M1141 517h0M1135 463h0M1038 555h0M964 417h0M935 425h0M1011 419h0M941 440h0M1041 559h0M1047 396h0M923 444h0M964 525h0M1080 426h0M1052 430h0M931 430h0M1061 406h0M1124 442h0M1111 419h0M1118 408h0M1013 376h0M1076 562h0M1065 496h0M1152 389h0M1099 547h0M1083 445h0M1029 385h0M968 373h0M997 408h0M1019 433h0M927 384h0M969 478h0M1054 491h0M947 556h0M939 438h0M1068 429h0M1035 483h0M1007 417h0M1060 471h0M1029 547h0M1008 406h0M968 369h0M1137 494h0M965 522h0M1030 507h0M1040 503h0M1156 432h0M963 446h0M1033 445h0M923 419h0M977 405h0M1002 554h0M1103 430h0M1085 546h0M1094 480h0M977 431h0M1000 412h0M962 506h0M1115 491h0M983 391h0M1135 517h0M1041 474h0M1082 450h0M959 541h0M1032 408h0M1081 519h0M1012 525h0M970 441h0M1089 559h0M1170 475h0M997 399h0M1003 401h0M1138 410h0M1020 392h0M983 497h0M1168 406h0M939 387h0M1030 424h0M954 549h0M1033 481h0M992 556h0M1044 369h0M915 398h0M1025 429h0M930 383h0M981 471h0M944 527h0M1027 560h0M1111 426h0M922 477h0M976 413h0M917 412h0M1159 523h0M1063 526h0M1029 405h0M970 399h0M1105 445h0M1006 387h0M922 544h0M989 501h0M1059 370h0M941 530h0M1074 434h0M962 476h0M1140 464h0M1011 526h0M967 441h0M1144 554h0M1133 426h0M959 479h0M1132 383h0M1158 436h0M922 531h0M1152 504h0M1051 409h0M1097 494h0M1031 553h0M1083 536h0M1070 450h0M933 467h0M960 385h0M1049 499h0M1112 389h0M1144 386h0M1153 406h0M955 443h0M916 459h0M981 505h0M924 373h0M1105 376h0M957 500h0M1011 424h0M1049 535h0M1130 458h0M999 443h0M1102 543h0M1034 391h0M936 548h0M1158 451h0M992 434h0M1158 416h0M987 438h0M1009 450h0M925 553h0M1092 368h0M1081 499h0M1038 413h0M1050 519h0M1080 504h0M931 379h0M967 425h0M1116 469h0M939 381h0M1102 538h0M1048 502h0M1077 500h0M962 369h0M940 472h0M1099 514h0M1042 451h0M975 395h0M1121 424h0M1061 505h0M982 472h0M1097 438h0M1124 521h0M962 515h0M977 482h0M1171 449h0M1089 483h0M1171 421h0M1089 520h0M1057 492h0M931 473h0M921 448h0M1082 524h0M981 422h0M1065 431h0M1131 525h0M1101 443h0M1160 495h0M1159 464h0M1072 516h0M941 369h0M1079 538h0M1157 406h0M962 511h0M1070 516h0M1121 369h0M1162 549h0M1106 497h0M930 401h0M1049 447h0M948 521h0M1023 459h0M1164 408h0M1101 459h0M1006 525h0M941 505h0M1106 516h0M1024 454h0M1129 459h0M967 522h0M936 390h0M914 560h0M1133 505h0M973 522h0M962 525h0M1034 373h0M960 542h0M1128 532h0M979 451h0M946 388h0M1037 518h0M939 485h0M1018 436h0M968 480h0M970 521h0M1163 420h0M1100 452h0M1100 432h0M953 415h0M1058 503h0M920 410h0M1130 499h0M946 386h0M1024 454h0M1126 406h0M1015 535h0M1134 398h0M1122 469h0M1019 486h0M1073 488h0M1063 516h0M1009 440h0M1039 488h0M1079 482h0M1086 376h0M1116 546h0M1036 484h0M984 515h0M997 385h0M1135 389h0M960 528h0M1139 508h0M916 477h0M1094 389h0M976 373h0M965 482h0M1062 516h0M997 537h0M1046 455h0M1028 375h0M920 391h0M1076 407h0M1020 484h0M1161 433h0M947 502h0M1115 547h0M1094 506h0M1061 374h0M1028 533h0M969 562h0M1014 534h0M964 436h0M1023 468h0M1110 556h0M1043 396h0M1120 442h0M1029 412h0M1077 426h0M1132 450h0M1059 519h0M935 430h0M1096 503h0M997 436h0M1136 454h0M1026 448h0M1066 512h0M1101 459h0M1005 519h0M1122 385h0M1091 509h0M926 433h0M1044 554h0M935 526h0M978 472h0M1044 507h0M1098 373h0M1098 527h0M999 560h0M1102 433h0M929 474h0M1032 525h0M939 502h0M966 494h0M1128 435h0M1093 546h0M1167 382h0M942 478h0M969 429h0M994 373h0M1051 496h0M985 377h0M1089 532h0M1146 495h0M1047 531h0M931 406h0M1163 534h0M1058 487h0M929 545h0M1095 411h0M926 529h0M1005 372h0M985 386h0M952 395h0M1112 539h0M1060 517h0M1160 393h0M1148 520h0M1169 404h0M1044 520h0M1038 505h0M1061 388h0M1074 375h0M1157 380h0M1125 373h0M959 431h0M995 547h0M1036 517h0M931 504h0M974 406h0M963 529h0M1013 467h0M939 544h0M1018 405h0M934 461h0M1061 529h0M1092 503h0M1015 381h0M1066 454h0M962 432h0M1128 384h0M1076 445h0M972 382h0M986 414h0M1026 410h0M1073 377h0M1130 423h0M967 542h0M1149 499h0M1061 462h0M1115 378h0M976 411h0M962 501h0M975 412h0M1055 444h0M1043 393h0M976 488h0M1124 368h0M1172 375h0M990 463h0M915 450h0M1133 460h0M1041 439h0M1103 384h0M1091 556h0M1086 394h0M1099 378h0M944 487h0M1002 493h0M1069 487h0M1099 426h0M1116 479h0M1075 469h0M969 475h0M1150 377h0M960 404h0M1097 535h0M1130 435h0M1149 441h0M933 451h0M1099 401h0M1042 407h0M1136 500h0M1110 373h0M1080 489h0M919 393h0M1010 484h0M1169 542h0M1153 384h0M1087 453h0M1038 484h0M1112 368h0M1163 483h0M1127 393h0M1086 412h0M1105 373h0M1088 516h0M1074 546h0M1021 493h0M914 504h0M964 498h0M1010 405h0M1006 527h0M1171 550h0M1166 454h0M1073 553h0M998 389h0M1127 429h0M1014 434h0M1048 507h0M975 518h0M939 513h0M991 397h0M1103 487h0M1134 529h0M1070 430h0M1136 468h0M927 553h0M1146 554h0M1107 531h0M944 478h0M1033 385h0M1106 477h0M1111 483h0M1059 482h0M1064 508h0M1059 518h0M1019 540h0M940 373h0M1065 509h0M1122 405h0M955 521h0M1058 515h0M1004 422h0M1062 515h0M1110 479h0M1053 503h0M1097 484h0M1005 375h0M991 406h0M1163 403h0M1135 416h0M1167 475h0M976 437h0M1031 454h0M1061 417h0M1065 415h0M1045 465h0M1013 523h0M984 384h0M939 509h0M1102 476h0M966 436h0M1125 541h0M1024 521h0M1142 424h0M1019 503h0M1037 516h0M1105 480h0M955 526h0M982 382h0M1013 517h0M920 401h0M980 540h0M956 470h0M1126 547h0M1084 449h0M1026 385h0M964 453h0M938 426h0M992 521h0M1042 390h0M995 539h0M1141 537h0M1072 468h0M1053 489h0M1003 479h0M970 550h0M1105 406h0M1014 473h0M999 549h0M1006 511h0M1158 526h0M1058 534h0M1155 463h0M1125 495h0M975 380h0M979 426h0M1167 411h0M1109 561h0M1014 421h0M991 370h0M1073 528h0M964 547h0M1081 490h0M972 403h0M925 379h0M1123 401h0M926 541h0M966 385h0M1097 402h0M1056 497h0M1167 506h0M1085 399h0M1024 396h0M955 519h0M1061 542h0M947 483h0M967 398h0M955 500h0M1118 550h0M983 410h0M920 463h0M1037 484h0M1163 472h0M1071 385h0M975 529h0M1089 455h0M953 418h0M1046 557h0M1001 416h0M995 425h0M1150 470h0M1006 406h0M1119 468h0M959 523h0M988 501h0M971 504h0M1038 522h0M1106 522h0M1056 480h0M1109 508h0M1138 450h0M1024 516h0M1141 459h0M1068 555h0M1116 389h0M1096 387h0M1009 503h0M1087 534h0M1041 435h0M917 530h0M1072 494h0M956 390h0M962 455h0M1080 369h0M1051 416h0M997 440h0M1161 456h0M1116 468h0M982 489h0M1123 466h0M1162 383h0M969 402h0M969 414h0M1052 401h0M936 492h0M1136 423h0M975 373h0M1060 376h0M1134 467h0M1063 485h0M1008 518h0M1118 368h0M973 404h0M1068 467h0M1092 559h0M1036 555h0M1047 406h0M1123 453h0M1056 371h0M1008 515h0M1092 529h0M937 519h0M948 492h0M952 446h0M928 422h0M1046 534h0M1063 415h0M1008 500h0M1004 422h0M929 490h0M1114 463h0M1005 450h0M1133 396h0M1046 498h0M957 413h0M960 544h0M1051 390h0M999 442h0M1020 543h0M963 396h0M1043 391h0M1052 374h0M1028 523h0M1049 393h0M1021 402h0M953 490h0M972 441h0M1066 531h0M972 509h0M916 432h0M968 521h0M925 538h0M960 449h0M948 498h0M1074 529h0M1079 371h0M1073 367h0M1108 554h0M1015 370h0M1121 434h0M963 484h0M926 444h0M1052 432h0M935 374h0M1011 494h0M919 399h0M1154 374h0M948 520h0M935 426h0M1031 477h0M1141 394h0M949 465h0M1010 494h0M1131 514h0M924 378h0M951 473h0M1122 421h0M1150 547h0M964 374h0M1034 421h0M1036 492h0M1010 473h0M998 470h0M1067 381h0M1067 493h0M917 547h0M1015 530h0M1060 555h0M919 474h0M1160 486h0M1113 376h0M1088 415h0M955 391h0M1022 437h0M960 532h0M1004 389h0M953 488h0M1084 536h0M1124 525h0M1019 381h0M971 462h0M1152 502h0M968 561h0M980 466h0M1120 388h0M948 525h0M1088 424h0M959 499h0M1068 442h0M964 431h0M1077 535h0M1030 559h0M1093 484h0M926 388h0M916 400h0M970 454h0M968 447h0M1139 391h0M1058 495h0M1088 490h0M1088 529h0M980 446h0M1104 384h0M1116 560h0M1158 373h0M1081 478h0M1073 533h0M981 509h0M1133 397h0M984 528h0M1148 504h0M1136 445h0M1020 467h0M1059 518h0M1021 459h0M1152 552h0M964 547h0M1172 367h0M952 561h0M925 484h0M1157 459h0M1015 472h0M1059 419h0M946 495h0M1070 496h0M1114 442h0M1166 379h0M1058 525h0M930 509h0M1153 492h0M1159 388h0M1057 461h0M937 528h0M1166 394h0M937 463h0M970 554h0M929 462h0M1048 493h0M1153 399h0M1157 451h0M1048 452h0M1045 517h0M986 449h0M1002 505h0M1085 379h0M1011 410h0M1038 458h0M1019 518h0M994 561h0M1136 470h0M1031 399h0M1107 403h0M1042 431h0M1024 368h0M917 508h0M1026 378h0M1039 539h0M990 541h0M957 402h0M968 406h0M1149 543h0M1113 414h0M977 451h0M1112 443h0M1032 423h0M1078 412h0M978 419h0M1134 473h0M981 411h0M961 510h0M1072 465h0M1136 369h0M1036 539h0M1062 511h0M914 544h0M929 556h0M935 410h0M1036 528h0M1119 500h0M1033 500h0M1062 512h0M1087 392h0M1138 544h0M998 389h0M1155 477h0M1150 418h0M924 374h0M1144 382h0M939 492h0M1010 561h0M971 457h0M1014 455h0M934 403h0M992 504h0M923 502h0M960 549h0M1025 463h0M941 457h0M1162 538h0M1153 399h0M938 385h0M1171 503h0M1106 539h0M980 418h0M960 389h0M965 550h0M1000 430h0M1043 387h0M1025 370h0M915 371h0M1101 432h0M1121 443h0M1025 394h0M1042 510h0M1019 452h0M1076 473h0M1086 498h0M1009 423h0M1120 422h0M1072 484h0M941 398h0M976 484h0M1157 411h0M1067 547h0M1116 560h0M936 466h0M1019 492h0M1069 535h0M1047 373h0M1130 477h0M941 439h0M1138 479h0M1106 505h0M931 414h0M966 465h0M961 396h0M1097 388h0M1100 523h0M1022 386h0M1005 441h0M1167 414h0M1051 424h0M924 560h0M1089 470h0M1075 369h0M937 456h0M1016 463h0M1096 512h0M1159 468h0M1149 431h0M971 417h0M943 406h0M982 537h0M1140 396h0M1075 562h0M979 491h0M971 390h0M1002 417h0M997 402h0M1061 455h0M1010 467h0M1033 516h0M923 460h0M1147 405h0M1027 498h0M963 497h0M1142 429h0M1167 506h0M1098 398h0M1122 517h0M991 404h0M1086 399h0M1009 555h0M1055 369h0M1172 380h0M1056 549h0M1019 414h0M1028 529h0M1095 376h0M1080 539h0M1027 460h0M942 396h0M984 524h0M1000 506h0M1155 484h0M1064 549h0M1003 425h0M925 402h0M1034 541h0M1053 382h0M928 459h0M1071 409h0M961 425h0M1005 472h0M968 461h0M977 515h0M1023 404h0M1077 500h0M956 494h0M978 559h0M975 465h0M1104 473h0M934 411h0M1117 487h0M1014 393h0M1017 526h0M1012 414h0M1132 558h0M1028 551h0M915 405h0M1169 508h0M1068 501h0M1038 388h0M987 370h0M1001 535h0M1000 388h0M1087 464h0M1021 422h0M1037 374h0M1023 462h0M1108 473h0M1047 428h0M992 420h0M963 556h0M984 485h0M961 456h0M944 488h0M1116 451h0M992 515h0M940 471h0M1061 516h0M1146 386h0M959 465h0M1085 372h0M1081 537h0M942 496h0M1014 560h0M1061 551h0M963 436h0M1164 372h0M1017 545h0M1083 438h0M1079 375h0M957 491h0M1001 416h0M1049 549h0M1017 485h0M1084 562h0M974 475h0M1088 457h0M1164 517h0M1036 407h0M951 416h0M1126 508h0M948 492h0M1151 536h0M1025 561h0M968 498h0M1112 376h0M1031 533h0M942 449h0M1130 527h0M1058 444h0M1172 544h0M1042 534h0M1110 379h0M1005 530h0M1037 400h0M1121 551h0M1059 538h0M943 426h0M1056 453h0M1046 418h0M1010 491h0M920 484h0M1131 463h0M922 412h0M1077 515h0M924 416h0M973 476h0M1067 402h0M965 461h0M918 454h0M1074 386h0M1066 488h0M1055 380h0M1041 529h0M959 554h0M925 380h0M1021 467h0M1156 471h0M1053 457h0M1020 447h0M1039 391h0M1145 507h0M1062 459h0M1168 457h0M980 475h0M990 503h0M1132 426h0M1155 370h0M1134 385h0M1035 547h0M936 400h0M1157 423h0M930 462h0M1000 423h0M927 390h0M953 559h0M1055 488h0M927 451h0M1164 546h0M952 500h0M1151 402h0M985 491h0M1030 469h0M1082 542h0M1096 394h0M1169 396h0M1100 433h0M930 546h0M915 437h0M1080 456h0M1104 387h0M1106 536h0M1035 453h0M1158 486h0M1002 393h0M1093 450h0M1100 380h0M1105 432h0M1098 501h0M961 498h0M1046 533h0M981 389h0M1107 453h0M1064 435h0M937 490h0M1069 401h0M946 518h0M1131 486h0M942 369h0M1164 426h0M995 412h0M996 514h0M1160 454h0M963 377h0M1097 489h0M991 440h0M1105 440h0M1015 454h0M1041 493h0M991 420h0M1036 411h0M1064 427h0M974 551h0M1127 419h0M1171 559h0M1072 368h0M954 402h0M936 535h0M1080 529h0M1063 502h0M1094 404h0M918 421h0M1169 434h0M1027 378h0M945 460h0M917 428h0M1082 407h0M1006 433h0M944 510h0M1151 510h0M982 562h0M950 482h0M1075 539h0M970 514h0M940 374h0M1143 483h0M1161 551h0M1069 514h0M927 412h0M1115 507h0M964 382h0M1119 493h0M1051 443h0M979 518h0M948 467h0M931 385h0M1110 380h0M933 431h0M1161 491h0M1105 368h0M1105 503h0M1079 388h0M991 529h0M1054 553h0M1004 529h0M960 408h0M1060 446h0M956 546h0M1064 513h0M976 463h0M1016 535h0M1167 489h0M949 500h0M926 519h0M1034 369h0M1120 458h0M977 512h0M1047 481h0M945 439h0M1104 393h0M925 369h0M974 384h0M1158 408h0M943 497h0M1078 442h0M972 516h0M1053 533h0M1040 500h0M974 478h0M1122 413h0M987 492h0M1046 523h0M1045 417h0M1128 394h0M1075 425h0M927 529h0M1130 393h0M1088 419h0M924 504h0M929 497h0M1094 538h0M961 402h0M976 437h0M960 547h0M923 541h0M1118 511h0M970 489h0M1011 403h0M980 469h0M1084 369h0M1137 556h0M1147 487h0M1066 367h0M1148 384h0M1144 524h0M1028 508h0M1170 433h0M919 538h0M983 541h0M922 433h0M984 446h0M1062 499h0M1079 388h0M978 515h0M1120 525h0M954 404h0M962 470h0M1040 497h0M985 510h0M1059 497h0M920 403h0M968 469h0M995 536h0M977 491h0M1020 422h0M1048 521h0M935 477h0M1155 411h0M942 384h0M1112 450h0M1140 377h0M1005 373h0M1022 541h0M997 555h0M1087 537h0M975 524h0M988 378h0M917 391h0M984 498h0M1162 462h0M1090 440h0M1060 452h0M997 414h0M968 426h0M917 404h0M1152 500h0M1110 562h0M1078 528h0M1017 520h0M1154 403h0M1061 545h0M931 429h0M949 382h0M984 477h0M968 513h0M1168 406h0M1112 502h0M1026 524h0M941 502h0M1154 375h0M1089 412h0M1043 458h0M1081 381h0M1088 368h0M1059 403h0M979 503h0M1154 555h0M1085 491h0M1018 485h0M949 556h0M1001 431h0M1032 447h0M1074 491h0M1064 528h0M1084 402h0M929 472h0M1087 381h0M947 433h0M1130 544h0M1171 412h0M961 493h0M1018 516h0M1054 467h0M1019 448h0M1029 409h0M923 501h0M917 438h0M1026 480h0M1005 549h0M918 479h0M1009 561h0M1020 388h0M1116 486h0M934 484h0M1056 512h0M1128 434h0M1041 541h0M1142 406h0M1052 523h0M1059 517h0M1137 492h0M1126 442h0M1144 382h0M1155 559h0M1007 534h0M1058 522h0M984 371h0M1047 539h0M1002 512h0M1129 467h0M1169 545h0M1045 379h0M1063 377h0M1090 378h0M1082 421h0M961 484h0M1015 389h0M1030 536h0M1154 467h0M1097 448h0M1147 406h0M1085 496h0M972 428h0M1008 521h0M930 539h0M939 482h0M1056 548h0M1041 445h0M941 443h0M1112 525h0M1050 509h0M987 486h0M1153 562h0M1102 479h0M1001 368h0M1077 370h0M1080 506h0M1166 531h0M1106 413h0M978 496h0M941 371h0M1025 453h0M1004 534h0M1056 399h0M1079 423h0M1023 534h0M934 485h0M1031 531h0M991 458h0M1057 424h0M1009 421h0M997 541h0M930 483h0M1131 560h0M1126 557h0M1000 385h0M1001 481h0M1052 461h0M1078 488h0M1132 372h0M1096 548h0M994 451h0M1072 438h0M1013 379h0M918 549h0M920 422h0M992 532h0M997 467h0M1118 468h0M1034 517h0M1111 513h0M1124 474h0M1060 506h0M1096 466h0M966 550h0M994 560h0M986 443h0M966 550h0M1018 562h0M1004 416h0M1044 559h0M1110 540h0M1118 423h0M1142 450h0M1051 390h0M944 552h0M989 433h0M1000 519h0M1064 497h0M1108 450h0M1021 499h0M1099 472h0M1034 503h0M1139 401h0M969 535h0M1139 420h0M1103 438h0M995 550h0M957 560h0M1126 399h0M1106 519h0M969 464h0M1134 373h0M1001 419h0M1092 378h0M1091 451h0M1119 534h0M1018 376h0M1083 496h0M1040 561h0M989 393h0M1029 509h0M1024 469h0M1060 395h0M1103 443h0M961 483h0M996 480h0M934 424h0M1140 417h0M1141 414h0M928 518h0M1103 497h0M1045 398h0M1076 520h0M975 552h0M1005 404h0M983 385h0M1032 535h0M1098 504h0M1075 464h0M1040 519h0M1137 556h0M1034 491h0M1101 474h0M1044 554h0M1072 389h0M995 414h0M973 421h0M1076 472h0M989 372h0M1118 549h0M1063 485h0M972 542h0M1170 395h0M1169 427h0M1120 453h0M1019 463h0M1005 426h0M1025 542h0M1123 421h0M1035 500h0M1170 421h0M955 531h0M1136 382h0M916 392h0M1047 550h0M1079 446h0M953 525h0M1126 438h0M928 464h0M1076 418h0M1002 556h0M977 433h0M948 370h0M922 408h0M1085 415h0M979 562h0M929 406h0M1092 505h0M1172 514h0M1047 436h0M987 514h0M1073 514h0M1016 461h0M952 457h0M1140 385h0M1011 512h0M916 489h0M946 504h0M1160 371h0M942 537h0M962 481h0M946 448h0M963 468h0M998 380h0M1051 378h0M1010 392h0M1030 462h0M1080 516h0M1090 554h0M1165 544h0M932 451h0M1002 424h0M1030 542h0M965 391h0M1105 490h0M1027 486h0M948 465h0M916 416h0M1021 536h0M1065 475h0M936 457h0M1149 459h0M929 411h0M1067 493h0M974 539h0M1024 520h0M992 520h0M969 384h0M1164 551h0M1157 381h0M1108 391h0M926 492h0M1116 454h0M1143 416h0M1085 413h0M1017 388h0M1025 562h0M1101 426h0M929 502h0M1161 455h0M1136 537h0M1058 507h0M1071 471h0M1020 384h0M944 467h0M950 423h0M949 553h0M1145 398h0M1096 389h0M919 538h0M977 454h0M1080 400h0M1004 433h0M1068 543h0M994 460h0M1111 451h0M946 468h0M1063 493h0M934 373h0M929 394h0M1013 468h0M1162 455h0M1008 523h0M1026 432h0M1157 450h0M1116 536h0M1009 370h0M1012 414h0M1167 429h0M1137 429h0M1133 561h0M946 432h0M1163 504h0M998 523h0M1057 530h0M1002 452h0M1007 412h0M1127 404h0M959 442h0M1160 448h0M1145 386h0M1078 490h0M1063 456h0M986 511h0M954 424h0M1021 369h0M1170 540h0M1080 469h0M1114 455h0M1092 483h0M1014 518h0M1106 413h0M1161 493h0M1042 435h0M1008 406h0M1053 481h0M991 398h0M1167 497h0M1022 454h0M946 406h0M976 542h0M1168 544h0M946 464h0M1025 377h0M1033 545h0M1156 380h0M1106 418h0M1080 484h0M1009 481h0M1076 548h0M986 463h0M1019 426h0M981 476h0M1099 545h0M1010 450h0M1088 405h0M1038 427h0M974 524h0M1011 450h0M950 491h0M1023 477h0M1142 395h0M1015 391h0M970 496h0M939 479h0M982 476h0M944 392h0M1048 474h0M986 388h0M1134 515h0M945 484h0M1002 451h0M1080 384h0M1166 399h0M1085 376h0M916 470h0M1161 393h0M1044 409h0M1043 426h0M1077 467h0M1022 440h0M1166 439h0M1002 510h0M950 405h0M954 370h0M1106 492h0M962 406h0M1172 510h0M1051 440h0M929 444h0M1011 559h0M991 560h0M1164 458h0M964 420h0M1151 409h0M929 427h0M1132 502h0M1007 527h0M1082 507h0M1132 410h0M1152 388h0M995 488h0M936 457h0M1013 412h0M1034 369h0M1060 402h0M1008 496h0M1025 423h0M980 499h0M940 439h0M1027 473h0M1122 447h0M1096 487h0M1126 543h0M991 395h0M946 410h0M975 475h0M1036 368h0M1040 500h0M983 517h0M1014 412h0M1045 436h0M1056 403h0M1071 383h0M1033 505h0M1086 395h0M1056 556h0M1051 549h0M986 418h0M1163 460h0M1168 468h0M1071 532h0M1122 558h0M1044 443h0M964 469h0M936 379h0M1072 537h0M1057 482h0M991 499h0M966 523h0M1149 414h0M1018 484h0M1029 462h0M943 553h0M975 512h0M1129 405h0M918 446h0M1130 399h0M918 383h0M1104 529h0M983 392h0M1126 514h0M1056 413h0M970 442h0M993 467h0M920 446h0M1167 513h0M987 455h0M991 394h0M975 552h0M1057 460h0M1136 369h0M960 545h0M1101 421h0M941 371h0M955 554h0M1081 431h0M1032 440h0M1017 368h0M1015 454h0M931 529h0M1005 549h0M1105 462h0M1039 555h0M1155 417h0M970 542h0M1059 409h0M1130 405h0M951 381h0M1005 377h0M1029 519h0M1026 512h0M955 425h0M1125 420h0M1169 397h0M1028 375h0M1068 535h0M1137 485h0M1043 523h0M913 457h0M1000 405h0M945 491h0M996 489h0M1087 516h0M931 376h0M1133 480h0M941 420h0M995 478h0M1055 495h0M946 489h0M1066 385h0M913 428h0M1165 432h0M961 472h0" stroke="#702a58" stroke-width="2.5" opacity="0.9"/>
<path d="M1110 401h0M1152 518h0M1005 377h0M1045 433h0M1037 543h0M1018 509h0M931 479h0M1097 515h0M1128 384h0M1065 493h0M1166 491h0M953 467h0M1092 395h0M924 473h0M955 378h0M1034 516h0M1048 394h0M1146 369h0M1130 381h0M992 474h0M991 392h0M997 556h0M972 554h0M992 558h0M926 459h0M976 395h0M1049 556h0M974 478h0M1162 416h0M1063 493h0M1143 531h0M1110 430h0M923 556h0M1000 492h0M1006 427h0M952 502h0M1117 520h0M1169 414h0M926 405h0M944 523h0M928 457h0M981 442h0M1035 471h0M1149 462h0M913 550h0M1114 481h0M964 559h0M1002 498h0M984 548h0M958 438h0M934 436h0M1089 526h0M1071 407h0M1171 506h0M1099 389h0M977 514h0M932 496h0M1011 486h0M953 383h0M1119 400h0M946 480h0M1011 512h0M963 552h0M1162 442h0M1075 559h0M939 501h0M1125 401h0M1150 525h0M1110 483h0M959 542h0M1094 369h0M969 388h0M1114 434h0M1142 484h0M1031 389h0M918 517h0M1108 436h0M929 441h0M917 369h0M1167 444h0M1151 541h0M1015 436h0M986 419h0M1138 470h0M924 501h0M938 420h0M972 478h0M1167 540h0M1129 476h0M938 411h0M1045 558h0M1017 429h0M916 418h0M945 386h0M1039 455h0M1105 437h0M1170 530h0M930 419h0M949 394h0M912 475h0M1088 417h0M931 375h0M1159 402h0M1041 432h0M1154 429h0M1002 379h0M921 393h0M945 417h0M1053 543h0M966 498h0M996 553h0M1050 477h0M1100 367h0M964 424h0M978 454h0M1083 410h0M1153 424h0M1044 553h0M1009 414h0M1140 377h0M1058 478h0M1025 540h0M1124 545h0M1031 526h0M1042 391h0M1039 371h0M1045 406h0M930 407h0M1052 507h0M986 479h0M1168 405h0M1112 490h0M1147 429h0M1001 520h0M931 414h0M1082 377h0M1062 508h0M1051 555h0M1000 464h0M1160 544h0M994 393h0M1100 379h0M1168 526h0M1099 379h0M943 511h0M1087 419h0M996 440h0M1126 386h0M1026 509h0M968 397h0M1066 533h0M923 506h0M966 418h0M1052 479h0M919 410h0M1077 395h0M1029 508h0M1165 405h0M1089 429h0M1117 451h0M1099 547h0M994 542h0M1168 491h0M1102 501h0M1020 434h0M1025 374h0M1147 473h0M925 377h0M1126 531h0M990 458h0M1013 493h0M1032 537h0M1109 383h0M1171 519h0M937 471h0M1169 537h0M921 473h0M1138 557h0M967 423h0M938 543h0M1054 436h0M1012 419h0M1019 498h0M1087 437h0M1097 542h0M1124 443h0M1069 474h0M941 533h0M1078 424h0M1112 448h0M1149 413h0M1046 464h0M1007 476h0M928 428h0M957 531h0M1108 449h0M1143 388h0M1052 535h0M943 490h0M1083 503h0M953 382h0M1168 372h0M914 544h0M1156 389h0M1034 420h0M1158 456h0M1056 429h0M936 528h0M1029 373h0M1172 497h0M936 369h0M956 550h0M1156 527h0M958 442h0M961 513h0M1128 528h0M1102 516h0M1090 383h0M971 415h0M1015 495h0M1170 507h0M929 461h0M1125 525h0M952 504h0M1135 516h0M1014 407h0M1146 382h0M981 511h0M1092 522h0M1076 452h0M1064 530h0M957 403h0M1027 369h0M991 457h0M1079 553h0M948 416h0M1100 476h0M1006 534h0M1044 372h0M1061 379h0M1035 398h0M1171 529h0M941 420h0M1098 546h0M1068 556h0M1059 404h0M1116 416h0M981 549h0M970 522h0M1135 464h0M1038 411h0M1049 541h0M1150 519h0M964 409h0M1078 542h0M921 428h0M1002 544h0M1148 511h0M955 510h0M1076 480h0M1002 437h0M999 395h0M985 470h0M1163 392h0M1114 373h0M1000 512h0M1066 469h0M951 428h0M1171 494h0M1008 400h0M1132 440h0M1049 397h0M1086 429h0M912 494h0M963 437h0M1108 496h0M1030 383h0M992 484h0M1132 481h0M1169 401h0M951 390h0M964 369h0M978 367h0M1142 504h0M943 469h0M1018 429h0M1110 390h0M949 505h0M1171 465h0M1101 403h0M1134 453h0M1058 482h0M1078 439h0M983 517h0M999 445h0M953 546h0M1008 421h0M940 515h0M959 466h0M1031 454h0M1006 445h0M1014 510h0M1115 384h0M1141 448h0M1080 554h0M967 431h0M959 397h0M1027 545h0M1052 551h0M919 555h0M1098 558h0M1022 501h0M1069 551h0M926 510h0M1082 466h0M950 520h0M1010 422h0M1120 398h0M1022 370h0M1002 515h0M1074 392h0M1171 443h0M948 515h0M1035 436h0M928 390h0M941 414h0M993 450h0M1037 496h0M1094 470h0M1063 417h0M1157 469h0M995 454h0M946 520h0M1050 553h0M1004 441h0M1049 367h0M1081 536h0M1131 530h0M1132 425h0M1144 385h0M939 553h0M1137 477h0M1082 398h0M1081 562h0M933 484h0M924 556h0M977 475h0M1153 454h0M1131 395h0M1043 448h0M1163 529h0M1031 519h0M1023 503h0M988 501h0M1100 485h0M1154 555h0M1077 444h0M914 412h0M1006 467h0M1149 401h0M915 549h0M1152 530h0M947 543h0M947 411h0M1045 415h0M1125 390h0M1007 448h0M1028 503h0M1162 477h0M1085 498h0M1090 508h0M1069 517h0M1141 546h0M947 379h0M1046 421h0M1096 545h0M1074 475h0M1042 400h0M1147 484h0M1078 463h0M1141 380h0M1126 448h0M1025 455h0M1141 498h0M935 431h0M1172 543h0M946 460h0M915 420h0M1019 515h0M944 434h0M1078 404h0M924 476h0M982 512h0M1001 437h0M1163 407h0M1168 537h0M913 535h0M973 521h0M1020 500h0M1044 532h0M950 477h0M1001 401h0M1152 560h0M1029 403h0M1026 380h0M1165 391h0M993 473h0M933 490h0M1135 390h0M1112 459h0M1043 500h0M940 368h0M1062 519h0M958 454h0M988 556h0M1090 526h0M1065 438h0M1035 451h0M932 401h0M1089 515h0M985 545h0M1021 436h0M1124 552h0M970 542h0M1062 399h0M1051 424h0M1151 454h0M1027 444h0M1017 462h0M1094 562h0M985 427h0M1057 367h0M1127 561h0M966 553h0M1167 367h0M1067 466h0M1071 481h0M1098 413h0M976 497h0M963 427h0M1064 531h0M914 530h0M931 431h0M994 406h0M961 447h0M1113 404h0M1033 473h0M1016 428h0M1132 421h0M921 498h0M1084 441h0M1146 379h0M1094 486h0M995 479h0M958 538h0M1069 389h0M1061 459h0M1022 389h0M932 488h0M950 455h0M1135 484h0M995 559h0M1056 426h0M965 517h0M1098 491h0M962 446h0M1034 549h0M915 471h0M938 527h0M918 497h0M980 472h0M1077 510h0M1159 473h0M999 432h0M1032 464h0M940 511h0M1146 531h0M914 472h0M996 415h0M1083 474h0M1044 478h0M1046 372h0M1080 508h0M913 560h0M932 436h0M1041 411h0M930 498h0M1046 532h0M1127 440h0M918 503h0M1165 493h0M1155 561h0M1048 473h0M926 492h0M964 367h0M1044 449h0M943 423h0M1053 414h0M1009 481h0M938 508h0M1003 451h0M918 494h0M1106 507h0M961 449h0M947 438h0M920 560h0M970 505h0M1081 465h0M1075 515h0M926 559h0M949 429h0M1053 449h0M967 441h0M1018 458h0M1171 418h0M963 507h0M1141 521h0M1003 429h0M990 517h0M1128 516h0M937 490h0M940 380h0M974 414h0M913 454h0M973 508h0M945 524h0M1163 505h0M1143 476h0M1068 439h0M1122 494h0M997 469h0M1120 404h0M1166 472h0M1004 482h0M1099 539h0M945 503h0M1067 414h0M1020 561h0M1080 444h0M1107 476h0M1115 389h0M955 412h0M1070 419h0M1095 486h0M1022 552h0M1136 481h0M961 433h0M1159 381h0M1083 424h0M1023 383h0M1062 535h0M989 445h0M1040 525h0M1012 538h0M994 549h0M1151 451h0M985 461h0M1138 388h0M946 518h0M974 477h0M1089 463h0M1170 424h0M1153 504h0M963 383h0M1093 410h0M978 371h0M930 542h0M942 447h0M1050 406h0M998 513h0M959 518h0M948 482h0M1095 465h0M1084 511h0M1085 401h0M1015 434h0M1021 428h0M1055 500h0M1091 503h0M1161 480h0M1093 389h0M1028 418h0M924 410h0M1138 380h0M974 461h0M951 549h0M1001 553h0M1047 378h0M1075 367h0M1114 389h0M929 377h0M999 457h0M965 529h0M1052 419h0M1152 404h0M924 412h0M977 384h0M1038 510h0M1023 423h0M1048 371h0M1110 467h0M1130 491h0M969 536h0M950 521h0M1071 395h0M1028 538h0M1094 529h0M1026 368h0M1063 423h0M1172 388h0M962 510h0M1157 501h0M1004 477h0M1018 507h0M1123 553h0M1001 527h0M953 433h0M1148 370h0M1047 460h0M933 423h0M1150 427h0M999 501h0M940 491h0M937 447h0M1107 478h0M1087 554h0M966 475h0M1134 419h0M1022 377h0M1045 413h0M931 527h0M1060 441h0M1027 419h0M1058 448h0M1097 467h0M943 514h0M1153 560h0M951 424h0M1040 410h0M927 428h0M1069 551h0M1067 367h0M913 459h0M1029 507h0M1121 477h0M928 471h0M951 451h0M975 504h0M941 554h0M1011 459h0M939 399h0M1014 385h0M1144 478h0M1164 472h0M975 537h0M958 412h0M1165 503h0M940 446h0M920 475h0M1084 407h0M1055 552h0M1073 404h0M1082 436h0M1059 517h0M1039 421h0M920 450h0M1118 545h0M1061 407h0M948 468h0M1136 399h0M1078 412h0M1092 390h0M943 406h0M934 560h0M922 492h0M1033 482h0M1125 430h0M1089 505h0M940 485h0M1111 511h0M1059 469h0M925 549h0M1076 414h0M1015 478h0M979 520h0M1016 498h0M1006 499h0M967 552h0M1142 503h0M1070 405h0M918 558h0M1082 541h0M963 378h0M923 506h0M1141 410h0M1000 500h0M927 479h0M1151 457h0M1103 375h0M1079 540h0M981 561h0M1163 507h0M1157 370h0M945 501h0M1063 452h0M1141 559h0M1073 431h0M1040 465h0M1016 542h0M1004 450h0M1084 386h0M1011 465h0M1010 424h0M1025 552h0M1003 459h0M1029 494h0M1114 377h0M981 411h0M1005 439h0M1022 375h0M963 460h0M1087 434h0M1150 369h0M1164 463h0M1052 538h0M964 456h0" stroke="#8a6040" stroke-width="1.9" opacity="0.55"/>
</g>
<rect x="1362" y="198.4" width="42.7" height="209.8" fill="#9f9fa3"/>
<rect x="1427" y="196.3" width="43.4" height="211.9" fill="#0808f0"/>
<line x1="1339" y1="198.4" x2="1494" y2="198.4" stroke="#000" stroke-width="2.2" stroke-dasharray="5 5"/>
<line x1="1383.6" y1="198.4" x2="1383.6" y2="185.6" stroke="#000" stroke-width="2.2"/>
<line x1="1373" y1="185.6" x2="1394" y2="185.6" stroke="#000" stroke-width="2.5"/>
<line x1="1448.6" y1="196" x2="1448.6" y2="183" stroke="#000" stroke-width="2.2"/>
<line x1="1438.7" y1="183" x2="1459.1" y2="183" stroke="#000" stroke-width="2.5"/>
<circle cx="1378.4" cy="183.7" r="3.9" fill="#000"/>
<circle cx="1387.6" cy="187.7" r="3.9" fill="#000"/>
<circle cx="1383.6" cy="226" r="3.9" fill="#000"/>
<circle cx="1448.8" cy="171.5" r="3.9" fill="#000"/>
<circle cx="1448.8" cy="197.8" r="3.9" fill="#000"/>
<circle cx="1448.8" cy="219.2" r="3.9" fill="#000"/>
<line x1="1339" y1="92" x2="1339" y2="409.7" stroke="#000" stroke-width="3.2"/>
<line x1="1329.7" y1="408.2" x2="1494" y2="408.2" stroke="#000" stroke-width="3.2"/>
<line x1="1329.7" y1="408.2" x2="1339" y2="408.2" stroke="#000" stroke-width="3"/>
<text x="1326" y="418.2" font-size="28" text-anchor="end">0.0</text>
<line x1="1329.7" y1="303.3" x2="1339" y2="303.3" stroke="#000" stroke-width="3"/>
<text x="1326" y="313.3" font-size="28" text-anchor="end">0.5</text>
<line x1="1329.7" y1="198.4" x2="1339" y2="198.4" stroke="#000" stroke-width="3"/>
<text x="1326" y="208.4" font-size="28" text-anchor="end">1.0</text>
<line x1="1329.7" y1="93.5" x2="1339" y2="93.5" stroke="#000" stroke-width="3"/>
<text x="1326" y="103.5" font-size="28" text-anchor="end">1.5</text>
<line x1="1383.6" y1="408.2" x2="1383.6" y2="417" stroke="#000" stroke-width="3"/>
<line x1="1448.6" y1="408.2" x2="1448.6" y2="417" stroke="#000" stroke-width="3"/>
<text transform="translate(1259.2 246.3) rotate(-90)" font-size="31.2" font-weight="bold" text-anchor="middle">relative cell migration</text>
<text transform="translate(1394 445) rotate(-45)" font-size="31" font-weight="bold" text-anchor="end">0</text>
<text transform="translate(1457 444) rotate(-45)" font-size="31" text-anchor="end"><tspan font-weight="bold">1</tspan> × <tspan font-weight="bold">10</tspan><tspan font-size="19" dy="-12">-7</tspan></text>
<text x="1267" y="575.8" font-size="31.3">[<tspan font-weight="bold">pre-miR-155-Ctr</tspan>], M</text>
<g stroke="#ee4040" stroke-width="2.4">
<line x1="1735.5" y1="424" x2="1735.5" y2="354.8" stroke="#ee4040" stroke-width="2.4"/>
<line x1="1727" y1="424" x2="1744" y2="424" stroke="#ee4040" stroke-width="2.4"/>
<line x1="1727" y1="354.8" x2="1744" y2="354.8" stroke="#ee4040" stroke-width="2.4"/>
</g>
<g stroke="#ee4040" stroke-width="2.4">
<line x1="1742.9" y1="262.2" x2="1742.9" y2="184" stroke="#ee4040" stroke-width="2.4"/>
<line x1="1734.4" y1="262.2" x2="1751.4" y2="262.2" stroke="#ee4040" stroke-width="2.4"/>
<line x1="1734.4" y1="184" x2="1751.4" y2="184" stroke="#ee4040" stroke-width="2.4"/>
</g>
<g stroke="#ee4040" stroke-width="2.4">
<line x1="1757.9" y1="327.5" x2="1757.9" y2="170.9" stroke="#ee4040" stroke-width="2.4"/>
<line x1="1749.4" y1="327.5" x2="1766.4" y2="327.5" stroke="#ee4040" stroke-width="2.4"/>
<line x1="1749.4" y1="170.9" x2="1766.4" y2="170.9" stroke="#ee4040" stroke-width="2.4"/>
</g>
<g stroke="#ee4040" stroke-width="2.4">
<line x1="1847.5" y1="466.6" x2="1847.5" y2="444.7" stroke="#ee4040" stroke-width="2.4"/>
<line x1="1839" y1="466.6" x2="1856" y2="466.6" stroke="#ee4040" stroke-width="2.4"/>
<line x1="1839" y1="444.7" x2="1856" y2="444.7" stroke="#ee4040" stroke-width="2.4"/>
</g>
<line x1="1728" y1="153.3" x2="1728" y2="483.8" stroke="#000" stroke-width="3.2"/>
<line x1="1719" y1="482.3" x2="2027" y2="482.3" stroke="#000" stroke-width="3.2"/>
<line x1="1719" y1="482.3" x2="1728" y2="482.3" stroke="#000" stroke-width="3"/>
<text x="1714.7" y="492.3" font-size="28" text-anchor="end">0.0</text>
<line x1="1719" y1="373.1" x2="1728" y2="373.1" stroke="#000" stroke-width="3"/>
<text x="1714.7" y="383.1" font-size="28" text-anchor="end">0.5</text>
<line x1="1719" y1="263.9" x2="1728" y2="263.9" stroke="#000" stroke-width="3"/>
<text x="1714.7" y="273.9" font-size="28" text-anchor="end">1.0</text>
<line x1="1719" y1="154.7" x2="1728" y2="154.7" stroke="#000" stroke-width="3"/>
<text x="1714.7" y="164.7" font-size="28" text-anchor="end">1.5</text>
<line x1="1723" y1="460.5" x2="1728" y2="460.5" stroke="#000" stroke-width="2.5"/>
<line x1="1723" y1="438.6" x2="1728" y2="438.6" stroke="#000" stroke-width="2.5"/>
<line x1="1723" y1="416.8" x2="1728" y2="416.8" stroke="#000" stroke-width="2.5"/>
<line x1="1723" y1="394.9" x2="1728" y2="394.9" stroke="#000" stroke-width="2.5"/>
<line x1="1723" y1="351.3" x2="1728" y2="351.3" stroke="#000" stroke-width="2.5"/>
<line x1="1723" y1="329.4" x2="1728" y2="329.4" stroke="#000" stroke-width="2.5"/>
<line x1="1723" y1="307.6" x2="1728" y2="307.6" stroke="#000" stroke-width="2.5"/>
<line x1="1723" y1="285.7" x2="1728" y2="285.7" stroke="#000" stroke-width="2.5"/>
<line x1="1723" y1="242.1" x2="1728" y2="242.1" stroke="#000" stroke-width="2.5"/>
<line x1="1723" y1="220.2" x2="1728" y2="220.2" stroke="#000" stroke-width="2.5"/>
<line x1="1723" y1="198.4" x2="1728" y2="198.4" stroke="#000" stroke-width="2.5"/>
<line x1="1723" y1="176.5" x2="1728" y2="176.5" stroke="#000" stroke-width="2.5"/>
<line x1="1728" y1="482.3" x2="1728" y2="491.3" stroke="#000" stroke-width="3"/>
<text x="1728" y="522.5" font-size="28" text-anchor="middle">0</text>
<line x1="1827.6" y1="482.3" x2="1827.6" y2="491.3" stroke="#000" stroke-width="3"/>
<text x="1827.6" y="522.5" font-size="28" text-anchor="middle">200</text>
<line x1="1927.2" y1="482.3" x2="1927.2" y2="491.3" stroke="#000" stroke-width="3"/>
<text x="1927.2" y="522.5" font-size="28" text-anchor="middle">400</text>
<line x1="2026.8" y1="482.3" x2="2026.8" y2="491.3" stroke="#000" stroke-width="3"/>
<text x="2026.8" y="522.5" font-size="28" text-anchor="middle">600</text>
<circle cx="1728" cy="482.3" r="8.1" fill="#ee4040" stroke="#d43434" stroke-width="0.8"/>
<circle cx="1735.5" cy="389.5" r="8.1" fill="#ee4040" stroke="#d43434" stroke-width="0.8"/>
<circle cx="1742.9" cy="223.5" r="8.1" fill="#ee4040" stroke="#d43434" stroke-width="0.8"/>
<circle cx="1757.9" cy="249.9" r="8.1" fill="#ee4040" stroke="#d43434" stroke-width="0.8"/>
<circle cx="1787.8" cy="372.4" r="8.1" fill="#ee4040" stroke="#d43434" stroke-width="0.8"/>
<circle cx="1847.5" cy="455.4" r="8.1" fill="#ee4040" stroke="#d43434" stroke-width="0.8"/>
<circle cx="1907.3" cy="467.9" r="8.1" fill="#ee4040" stroke="#d43434" stroke-width="0.8"/>
<circle cx="1967" cy="473.3" r="8.1" fill="#ee4040" stroke="#d43434" stroke-width="0.8"/>
<text transform="translate(1619 310.5) rotate(-90)" font-size="32.6" font-weight="bold" text-anchor="middle">pre-miR-155-RiboTAC plasma</text>
<text transform="translate(1657 311.5) rotate(-90)" font-size="32.6" font-weight="bold" text-anchor="middle">concentration (µM)</text>
<text x="1876" y="565.4" font-size="33" font-weight="bold" text-anchor="middle">time (min)</text>
<line x1="1449.3" y1="758.5" x2="1519.7" y2="758.5" stroke="#000" stroke-width="3"/>
<line x1="1592.4" y1="786.6" x2="1663.2" y2="786.6" stroke="#000" stroke-width="3"/>
<line x1="1736" y1="842.9" x2="1806.3" y2="842.9" stroke="#000" stroke-width="3"/>
<circle cx="1484.5" cy="702.2" r="6.8" fill="#000"/>
<circle cx="1466.7" cy="758.5" r="6.8" fill="#000"/>
<circle cx="1502.3" cy="758.5" r="6.8" fill="#000"/>
<circle cx="1484.5" cy="786.6" r="6.8" fill="#000"/>
<circle cx="1484.5" cy="842.9" r="6.8" fill="#000"/>
<circle cx="1628" cy="730.4" r="6.8" fill="#1212f0"/>
<circle cx="1628" cy="758.5" r="6.8" fill="#1212f0"/>
<circle cx="1628" cy="786.6" r="6.8" fill="#1212f0"/>
<circle cx="1610.2" cy="814.8" r="6.8" fill="#1212f0"/>
<circle cx="1646" cy="814.8" r="6.8" fill="#1212f0"/>
<circle cx="1771.4" cy="814.8" r="6.8" fill="#f01818"/>
<circle cx="1753.7" cy="842.9" r="6.8" fill="#f01818"/>
<circle cx="1789.5" cy="842.9" r="6.8" fill="#f01818"/>
<circle cx="1753.7" cy="871" r="6.8" fill="#f01818"/>
<circle cx="1789.5" cy="871" r="6.8" fill="#f01818"/>
<line x1="1413.4" y1="644.5" x2="1413.4" y2="872.5" stroke="#000" stroke-width="3.5"/>
<line x1="1404" y1="871" x2="1845" y2="871" stroke="#000" stroke-width="3.5"/>
<line x1="1404" y1="871" x2="1413.4" y2="871" stroke="#000" stroke-width="3.2"/>
<text x="1400" y="882.5" font-size="33" font-weight="bold" text-anchor="end">0</text>
<line x1="1408" y1="842.9" x2="1413.4" y2="842.9" stroke="#000" stroke-width="3"/>
<line x1="1404" y1="814.8" x2="1413.4" y2="814.8" stroke="#000" stroke-width="3.2"/>
<text x="1400" y="826.2" font-size="33" font-weight="bold" text-anchor="end">2</text>
<line x1="1408" y1="786.6" x2="1413.4" y2="786.6" stroke="#000" stroke-width="3"/>
<line x1="1404" y1="758.5" x2="1413.4" y2="758.5" stroke="#000" stroke-width="3.2"/>
<text x="1400" y="770" font-size="33" font-weight="bold" text-anchor="end">4</text>
<line x1="1408" y1="730.4" x2="1413.4" y2="730.4" stroke="#000" stroke-width="3"/>
<line x1="1404" y1="702.2" x2="1413.4" y2="702.2" stroke="#000" stroke-width="3.2"/>
<text x="1400" y="713.8" font-size="33" font-weight="bold" text-anchor="end">6</text>
<line x1="1408" y1="674.1" x2="1413.4" y2="674.1" stroke="#000" stroke-width="3"/>
<line x1="1404" y1="646" x2="1413.4" y2="646" stroke="#000" stroke-width="3.2"/>
<text x="1400" y="657.5" font-size="33" font-weight="bold" text-anchor="end">8</text>
<line x1="1484.5" y1="871" x2="1484.5" y2="880" stroke="#000" stroke-width="3.2"/>
<line x1="1627.3" y1="871" x2="1627.3" y2="880" stroke="#000" stroke-width="3.2"/>
<line x1="1771.4" y1="871" x2="1771.4" y2="880" stroke="#000" stroke-width="3.2"/>
<line x1="1477.8" y1="631.3" x2="1765" y2="631.3" stroke="#000" stroke-width="3.2"/>
<line x1="1477.8" y1="679.6" x2="1620.3" y2="679.6" stroke="#000" stroke-width="3.2"/>
<text x="1569" y="617.5" font-size="24.6"><tspan font-style="italic">P</tspan> = 0.014</text>
<text x="1489.5" y="665.5" font-size="24.6"><tspan font-style="italic">P</tspan> = 0.6996</text>
<text transform="translate(1332 749) rotate(-90)" font-size="30.2" font-weight="bold" text-anchor="middle">number of lung</text>
<text transform="translate(1366.5 748.4) rotate(-90)" font-size="30.2" font-weight="bold" text-anchor="middle">tumor dodules</text>
<text transform="translate(1496 910) rotate(-45)" font-size="34" font-weight="bold" text-anchor="end">vehicle</text>
<text transform="translate(1628 909) rotate(-45)" font-size="34" font-weight="bold" text-anchor="end">pre-miR-155</text>
<text transform="translate(1662 944) rotate(-45)" font-size="34" font-weight="bold" text-anchor="end">-amide binder</text>
<text transform="translate(1771 908) rotate(-45)" font-size="34" font-weight="bold" text-anchor="end">pre-miR-155</text>
<text transform="translate(1804 944) rotate(-45)" font-size="34" font-weight="bold" text-anchor="end">-RiboTAC</text>
<rect x="1420.9" y="1267.6" width="42.5" height="177.1" fill="#9e9ea2"/>
<rect x="1485" y="1289.4" width="42.6" height="155.3" fill="#4ea8fa"/>
<rect x="1549.7" y="1356" width="42.1" height="88.7" fill="#f23c3c"/>
<line x1="1398.4" y1="1267.6" x2="1608" y2="1267.6" stroke="#000" stroke-width="2.2" stroke-dasharray="5 5"/>
<line x1="1441.7" y1="1267.6" x2="1441.7" y2="1253" stroke="#000" stroke-width="2.2"/>
<line x1="1431" y1="1253" x2="1452.5" y2="1253" stroke="#000" stroke-width="2.6"/>
<line x1="1506.8" y1="1289.4" x2="1506.8" y2="1278.6" stroke="#000" stroke-width="2.2"/>
<line x1="1497" y1="1278.6" x2="1516.5" y2="1278.6" stroke="#000" stroke-width="2.6"/>
<line x1="1571" y1="1356" x2="1571" y2="1342" stroke="#000" stroke-width="2.2"/>
<line x1="1560" y1="1342" x2="1581.5" y2="1342" stroke="#000" stroke-width="2.6"/>
<circle cx="1441.7" cy="1231.3" r="5.2" fill="#000"/>
<circle cx="1441.7" cy="1247.3" r="5.2" fill="#000"/>
<circle cx="1441.7" cy="1263.4" r="5.2" fill="#000"/>
<circle cx="1441.7" cy="1279.4" r="5.2" fill="#000"/>
<circle cx="1441.7" cy="1318.7" r="5.2" fill="#000"/>
<circle cx="1506.8" cy="1253.7" r="5.2" fill="#000"/>
<circle cx="1491.9" cy="1290.6" r="5.2" fill="#000"/>
<circle cx="1506.8" cy="1292.6" r="5.2" fill="#000"/>
<circle cx="1520.8" cy="1294.7" r="5.2" fill="#000"/>
<circle cx="1506.8" cy="1310.7" r="5.2" fill="#000"/>
<circle cx="1571" cy="1309.9" r="5.2" fill="#000"/>
<circle cx="1571" cy="1338" r="5.2" fill="#000"/>
<circle cx="1571" cy="1364.9" r="5.2" fill="#000"/>
<circle cx="1559.7" cy="1381.7" r="5.2" fill="#000"/>
<circle cx="1581.8" cy="1386.1" r="5.2" fill="#000"/>
<line x1="1398.4" y1="1177.5" x2="1398.4" y2="1446.2" stroke="#000" stroke-width="3.2"/>
<line x1="1390.4" y1="1444.7" x2="1614" y2="1444.7" stroke="#000" stroke-width="3.2"/>
<line x1="1389" y1="1444.7" x2="1398.4" y2="1444.7" stroke="#000" stroke-width="3"/>
<text x="1384.5" y="1456.2" font-size="32.5" font-weight="bold" text-anchor="end">0</text>
<line x1="1389" y1="1356.1" x2="1398.4" y2="1356.1" stroke="#000" stroke-width="3"/>
<text x="1384.5" y="1367.6" font-size="32.5" font-weight="bold" text-anchor="end">50</text>
<line x1="1389" y1="1267.6" x2="1398.4" y2="1267.6" stroke="#000" stroke-width="3"/>
<text x="1384.5" y="1279.1" font-size="32.5" font-weight="bold" text-anchor="end">100</text>
<line x1="1389" y1="1179" x2="1398.4" y2="1179" stroke="#000" stroke-width="3"/>
<text x="1384.5" y="1190.5" font-size="32.5" font-weight="bold" text-anchor="end">150</text>
<line x1="1393" y1="1427" x2="1398.4" y2="1427" stroke="#000" stroke-width="2.5"/>
<line x1="1393" y1="1409.3" x2="1398.4" y2="1409.3" stroke="#000" stroke-width="2.5"/>
<line x1="1393" y1="1391.6" x2="1398.4" y2="1391.6" stroke="#000" stroke-width="2.5"/>
<line x1="1393" y1="1373.8" x2="1398.4" y2="1373.8" stroke="#000" stroke-width="2.5"/>
<line x1="1393" y1="1338.4" x2="1398.4" y2="1338.4" stroke="#000" stroke-width="2.5"/>
<line x1="1393" y1="1320.7" x2="1398.4" y2="1320.7" stroke="#000" stroke-width="2.5"/>
<line x1="1393" y1="1303" x2="1398.4" y2="1303" stroke="#000" stroke-width="2.5"/>
<line x1="1393" y1="1285.3" x2="1398.4" y2="1285.3" stroke="#000" stroke-width="2.5"/>
<line x1="1393" y1="1249.9" x2="1398.4" y2="1249.9" stroke="#000" stroke-width="2.5"/>
<line x1="1393" y1="1232.1" x2="1398.4" y2="1232.1" stroke="#000" stroke-width="2.5"/>
<line x1="1393" y1="1214.4" x2="1398.4" y2="1214.4" stroke="#000" stroke-width="2.5"/>
<line x1="1393" y1="1196.7" x2="1398.4" y2="1196.7" stroke="#000" stroke-width="2.5"/>
<line x1="1441.7" y1="1444.7" x2="1441.7" y2="1455" stroke="#000" stroke-width="3"/>
<line x1="1506.8" y1="1444.7" x2="1506.8" y2="1455" stroke="#000" stroke-width="3"/>
<line x1="1571" y1="1444.7" x2="1571" y2="1455" stroke="#000" stroke-width="3"/>
<line x1="1442.5" y1="1162.2" x2="1570.2" y2="1162.2" stroke="#000" stroke-width="3.2"/>
<line x1="1442.5" y1="1209.6" x2="1506" y2="1209.6" stroke="#000" stroke-width="3.2"/>
<text x="1446" y="1148.2" font-size="24.6"><tspan font-style="italic">P</tspan> = 0.0027</text>
<text x="1413" y="1197.5" font-size="24.6"><tspan font-style="italic">P</tspan> = 0.2758</text>
<text transform="translate(1316 1298) rotate(-90)" font-size="33" font-weight="bold" text-anchor="middle">normalized intensity (%)</text>
<rect x="1665.3" y="1189.5" width="24" height="29" fill="#9e9ea2"/>
<rect x="1665.3" y="1240.5" width="24" height="27.5" fill="#4ea8fa"/>
<rect x="1665.3" y="1289.8" width="24" height="29" fill="#f23c3c"/>
<text x="1702" y="1215.2" font-size="34" font-weight="bold">vehicle</text>
<text x="1702" y="1265.4" font-size="34" font-weight="bold">pre-miR-155-amide binder</text>
<text x="1702" y="1315.5" font-size="34" font-weight="bold">pre-miR-155-RiboTAC</text>
<rect x="18.5" y="684.3" width="401.5" height="244" fill="#fff" stroke="#000" stroke-width="2.4"/>
<rect x="441" y="685.4" width="403" height="245" fill="#fff" stroke="#000" stroke-width="2.4"/>
<rect x="865.1" y="683.1" width="400.7" height="244.7" fill="#fff" stroke="#000" stroke-width="2.4"/>
<g clip-path="url(#cp0)">
<rect x="20" y="686" width="191.5" height="240.5" fill="#f1f1ec"/>
<ellipse cx="195" cy="820" rx="28" ry="90" fill="#f6f2a8" opacity="0.9" filter="url(#bl8)"/>
<ellipse cx="60" cy="880" rx="45" ry="40" fill="#c8ccc4" opacity="0.6" filter="url(#bl8)"/>
<ellipse cx="115" cy="905" rx="60" ry="18" fill="#e8e48a" opacity="0.6" filter="url(#bl8)"/>
<path d="M90.6 735.1C96.4 735.1 103.7 737 107 740C110.3 743 109.5 746.1 110.3 753.3C111.1 760.5 111.5 769.8 112 783C112.5 796.2 113.5 817.3 113.6 832.4C113.7 847.5 113.9 863.1 112.8 873.6C111.7 884.1 110.2 890.7 107 895.1C103.8 899.5 98.3 899.7 93.9 900C89.5 900.3 85.7 899.2 80.7 896.7C75.8 894.2 69.7 889.9 64.2 885.2C58.7 880.5 52.4 874.8 47.7 868.7C43 862.7 38.9 856.3 36.1 848.9C33.4 841.5 31.8 832.5 31.2 824.2C30.6 816 31.1 807.4 32.8 799.4C34.4 791.4 37.2 783.7 41.1 776.3C45 768.9 50.7 760.9 55.9 754.9C61.1 748.9 66.6 743.4 72.4 740.1C78.2 736.8 84.8 735.1 90.6 735.1Z" fill="url(#gL1)" filter="url(#bl1)"/>
<path d="M153.2 743.4C156.5 742.9 162.6 744.2 166.4 746.7C170.2 749.2 173.6 753.5 176.3 758.2C179.1 762.9 181 768.4 182.9 774.7C184.8 781 186 787.9 187.9 796.1C189.8 804.4 192.3 815.4 194.5 824.2C196.7 833 199.9 839.3 201 848.9C202.1 858.5 202.1 873.1 201 881.9C199.9 890.7 198.1 896.2 194.5 901.7C190.9 907.2 185.7 912.1 179.6 914.9C173.5 917.6 164.2 918.2 158.2 918.2C152.1 918.2 147.4 917.6 143.3 914.9C139.2 912.1 135.6 908.6 133.4 901.7C131.2 894.8 131.8 883.8 130.1 873.6C128.4 863.4 125.2 850.3 123.5 840.7C121.8 831.1 119.7 825.5 120.2 815.9C120.8 806.3 124 791.7 126.8 782.9C129.5 774.1 133.4 768.7 136.7 763.2C140 757.7 143.8 753.3 146.6 750C149.3 746.7 149.9 743.9 153.2 743.4Z" fill="url(#gL2)" filter="url(#bl1)"/>
<ellipse cx="138" cy="760" rx="22" ry="22" fill="#c8c040" opacity="0.75" filter="url(#bl4)"/>
<path d="M128 700C129.8 696.3 132 691.5 135 690C138 688.5 143.5 689 146 691C148.5 693 149 696.3 150 702C151 707.7 152 717.8 152 725C152 732.2 152 738.3 150 745C148 751.7 143.2 758.3 140 765C136.8 771.7 132.7 775.8 131 785C129.3 794.2 130 805.8 130 820C130 834.2 131.2 853.8 131 870C130.8 886.2 130.7 909 129 917C127.3 925 123 925.8 121 918C119 910.2 118 886.3 117 870C116 853.7 115.7 834.2 115 820C114.3 805.8 112.8 795 113 785C113.2 775 114.5 768.3 116 760C117.5 751.7 120.7 743 122 735C123.3 727 123 717.8 124 712C125 706.2 126.2 703.7 128 700Z" fill="#d0ca44" filter="url(#bl1)"/>
<ellipse cx="141" cy="720" rx="6" ry="16" fill="#e6e080" opacity="0.8" filter="url(#bl2)"/>
<path d="M134 855 Q140 875 146 895" stroke="#8a8f9a" stroke-width="3.5" fill="none" filter="url(#bl1)"/>
<ellipse cx="168" cy="810" rx="4" ry="18" fill="#f0ecd8" opacity="0.6" filter="url(#bl2)"/>
<path d="M164.3 827.4h1.1M165.6 809.8h0.7M169.5 824.4h0.1M163.3 826.8h0.6M170.6 785.1h0.7M170.2 796.4h1.4M172 786.5h0M168.4 832h0.6M165.2 806.1h0M165.2 806.9h0.7M165.3 796.5h0.3M167.6 799.5h0M171.4 812.8h1M164.9 834.6h1.3M164.2 801.6h1.1M170.1 831.8h0.6M171.3 818.5h0.5M168.9 829.1h1.3M168.1 814.5h0.1M165.4 824.9h0.6M164.7 812.4h1.1M169.7 803.7h0.7M168.1 823.9h0.8M166.9 809.5h0M163.4 820.2h1.5M168.9 804.7h0.3M168 834.1h1.2M168.4 828h0.3M168.1 832.6h0.9M167.6 798.5h0.8M172.6 785.3h1.2M171.2 829.3h1.1M171.1 810.9h0.8M167.3 787.8h1.3M168.7 795h0.8M167.8 802.8h0.5M168.4 816.2h0.9M167.6 786.4h0.3M164.8 814.2h1.3M171 824.9h1.2" stroke="#f6f2e0" stroke-width="1.4" stroke-linecap="round" opacity="0.51"/>
<path d="M148.8 758.9h0.1M124.4 756.4h1.1M140.8 744.8h0.9M139 750.8h0.2M134.1 746.7h1.1M149.9 758.9h0.8M134.5 743.9h0.1M122.8 748.2h0.5M132.6 757.6h0.8M137.7 743.2h0M131.1 741h0.8M150 752.8h0.3M147 755.5h1.1M147.4 754.8h1.2M131.9 759.6h1.4" stroke="#f6f2e0" stroke-width="1.4" stroke-linecap="round" opacity="0.36"/>
<ellipse cx="45" cy="845" rx="8" ry="40" fill="#d8d0a8" opacity="0.5" filter="url(#bl4)"/>
</g>
<g clip-path="url(#cp1)">
<rect x="229.7" y="686" width="189" height="240.5" fill="#f8f8f2"/>
<ellipse cx="370" cy="712" rx="45" ry="22" fill="#f7f3a0" opacity="0.9" filter="url(#bl8)"/>
<ellipse cx="405" cy="860" rx="18" ry="40" fill="#f5f1b0" opacity="0.7" filter="url(#bl8)"/>
<ellipse cx="250" cy="830" rx="20" ry="45" fill="#c8d0a0" opacity="0.6" filter="url(#bl8)"/>
<path d="M254.4 750C259.6 742.3 266.8 734.9 274.2 730.2C281.6 725.5 290.4 723.7 298.9 721.9C307.4 720.1 318.4 719 325.3 719.5C332.2 720 335.2 722.1 340.2 725.2C345.1 728.4 352 732.9 355 738.4C358 743.9 358.6 750.8 358.3 758.2C358 765.6 355.9 776 353.4 782.9C350.9 789.8 345.7 794.4 343.5 799.4C341.3 804.4 343.2 809.3 340.2 812.6C337.2 815.9 328.9 816.7 325.3 819.2C321.7 821.7 320.9 822.5 318.7 827.5C316.5 832.5 314.3 842 312.1 848.9C309.9 855.8 308.8 863.8 305.5 868.7C302.2 873.7 298.1 877.2 292.3 878.6C286.5 880 277.5 879.1 270.9 876.9C264.3 874.7 257.8 871.4 252.8 865.4C247.9 859.4 243.5 850.3 241.2 840.7C238.9 831.1 238.5 818.4 238.8 807.7C239.1 797 240.3 785.9 242.9 776.3C245.5 766.7 249.2 757.7 254.4 750Z" fill="url(#gL3)" filter="url(#bl1)"/>
<path d="M345.1 730.2C345.4 725.5 352.8 724.9 358.3 725.2C363.8 725.5 371.8 727.1 378.1 731.8C384.4 736.5 391.8 745.9 396.2 753.3C400.6 760.7 402.9 768.1 404.5 776.3C406.1 784.5 407.2 793.4 406.1 802.7C405 812.1 402 823.9 397.9 832.4C393.8 840.9 388 848.4 381.4 853.9C374.8 859.4 366 863.2 358.3 865.4C350.6 867.6 341 868.1 335.2 867C329.4 865.9 326.2 863.2 323.7 858.8C321.2 854.4 320.1 846.8 320.4 840.7C320.7 834.7 322 827.2 325.3 822.5C328.6 817.8 336.4 816.5 340.2 812.6C344 808.8 345.9 804.9 348.4 799.4C350.9 793.9 353.6 787.3 355 779.6C356.4 771.9 358.3 761.5 356.7 753.3C355.1 745.1 344.8 734.9 345.1 730.2Z" fill="url(#gL4)" filter="url(#bl1)"/>
<path d="M292.3 723.6C296.1 719.9 308 719.8 315.4 719.5C322.8 719.2 330.8 719 336.9 721.9C342.9 724.8 348.4 731.3 351.7 736.8C355 742.3 356.1 748.3 356.7 754.9C357.2 761.5 356.6 770.2 355 776.3C353.4 782.3 349 785.7 346.8 791.2C344.6 796.7 344.3 804.9 341.8 809.3C339.3 813.7 335.8 816.5 331.9 817.6C328 818.7 322 818.9 318.7 815.9C315.4 812.9 314 804.9 312.1 799.4C310.2 793.9 308.9 789.2 307.2 782.9C305.5 776.6 304.7 768.4 302.2 761.5C299.7 754.6 293.9 748 292.3 741.7C290.7 735.4 288.5 727.3 292.3 723.6Z" fill="#9a8672" filter="url(#bl4)" opacity="0.5"/>
<ellipse cx="330" cy="755" rx="14" ry="20" fill="#a09098" opacity="0.5" filter="url(#bl4)"/>
<path d="M290 712C290.8 709.2 300.3 706 305 707C309.7 708 318.8 715.2 318 718C317.2 720.8 304.7 725 300 724C295.3 723 289.2 714.8 290 712Z" fill="#d6d040" filter="url(#bl1)"/>
<path d="M308 820C309.8 812.7 316.2 808.3 318 813C319.8 817.7 320 839.8 319 848C318 856.2 314 860.5 312 862C310 863.5 307.7 864 307 857C306.3 850 306.2 827.3 308 820Z" fill="#dcd832" filter="url(#bl1)"/>
<ellipse cx="372" cy="800" rx="16" ry="14" fill="#e8e0c0" opacity="0.35" filter="url(#bl2)"/>
<path d="M360 803.8h0.6M375.4 807h0.1M350.6 815.5h0.4M359.8 821.8h0.7M385.1 801.1h1M356.3 807.4h1.3M372 811.7h1M352.7 812.3h0.9M362.7 783.2h1.3M369.9 810.8h1.3M380 818.8h0.6M383.6 799.8h1.4M386.9 785.9h0.2M359.1 820.6h0.7M376.3 794h0.8M366.2 796h0.9M374.5 818.2h1M389 816.3h1.5M378.2 788.5h1.3M390.5 818.2h0.9M380 790.4h1.2M374.1 793.4h0.1M385.9 821.6h0.1M383.6 798.4h0.2M362.3 812.8h1.3M351.9 806.6h0.1M380.2 795.2h1.3M391.2 802.2h1.5M363 785.1h0.9M351.3 789.9h0.6M375.6 788.2h0.1M386.4 794.6h1.4M387.7 797.1h0.7M371.8 807.8h0.9M373.5 806.8h1.4M371.3 799.2h1.1M360 794h1.5M371.9 803.9h0M367.4 805.2h0M375.9 807.3h0.1M376.3 800.7h1M364.8 810.3h1.1M350.9 784.4h1M390.5 792h0.7M374.9 794.8h0.5M363.1 796.8h0.9M362.6 797.1h1.2M351.1 804.8h1.1M363 790.9h1.2M360 789.5h0.7M379.3 786.1h0.5M364 815.3h0.7M385.9 788.8h0.5M377.3 817.4h0.7M359.5 786.8h0.8M358 814.3h1.3M357.7 793.1h1.2M377 814.3h0.5M355.4 793.7h1.2M361.4 795.9h0.6M367.6 798.4h1.4M356.6 782.2h1.4M387 821.5h0.7M389.9 819.1h0.3M381.3 815.5h1M371.8 793.6h0.5M359.6 784.7h0.9M362.1 814.4h0.1M388 809.7h1.4M387.7 818h0.9M350.6 811.8h0.3M362.6 808.5h0.8M367.4 819.6h0.9M364.3 792.1h1.3M370 813.3h0.5M358.3 803.4h1.2M357.2 813.7h1.4M383.9 814.9h0M376.4 816.5h0.1M361.4 792.7h0.8" stroke="#f6f2e0" stroke-width="1.4" stroke-linecap="round" opacity="0.51"/>
<path d="M273.7 797.8h0.6M271.7 796.8h0.6M290 816.6h1.1M273.3 809.5h0.4M272.1 797.9h0.3M290.3 817.4h1.2M287.2 800.2h0.5M283 814.8h1.3M289.1 797.3h0.9M284.1 808.7h0.3M279.4 797.4h1.4M288.8 809.8h0.5M289.8 810.5h1.3M288.4 808.7h0.6M282.4 806.6h0.2M275.3 816.9h0.1M269.1 811.9h0.4M280.8 807.7h0.5" stroke="#f6f2e0" stroke-width="1.4" stroke-linecap="round" opacity="0.36"/>
</g>
<g clip-path="url(#cp2)">
<rect x="442.5" y="687" width="210" height="241.5" fill="#f7f7f2"/>
<ellipse cx="620" cy="760" rx="22" ry="30" fill="#f4f0b0" opacity="0.8" filter="url(#bl8)"/>
<ellipse cx="645" cy="790" rx="8" ry="80" fill="#fbfbf0" opacity="0.9" filter="url(#bl8)"/>
<ellipse cx="540" cy="920" rx="60" ry="12" fill="#eeea90" opacity="0.7" filter="url(#bl8)"/>
<ellipse cx="470" cy="790" rx="25" ry="40" fill="#d6dcd8" opacity="0.6" filter="url(#bl8)"/>
<path d="M510.3 739.4C500.1 741.3 499.8 745 495.4 751C491 757 487.5 766.1 483.9 775.7C480.3 785.3 476.8 799.1 474 808.7C471.2 818.3 468.8 825.1 467.4 833.4C466 841.6 465.1 850 465.7 858.2C466.2 866.5 467.7 876 470.7 882.9C473.7 889.8 478.4 895.8 483.9 899.4C489.4 903 497.1 903.5 503.7 904.3C510.3 905.1 518.6 903.5 523.5 904.3C528.4 905.1 527.8 907.9 533.3 909.3C538.8 910.7 548.4 912 556.4 912.6C564.4 913.2 573.5 914 581.2 912.6C588.9 911.2 597.1 907.9 602.6 904.3C608.1 900.7 611.5 897.4 614.2 891.1C617 884.8 618.6 874.6 619.1 866.4C619.6 858.2 618.3 848.6 617.5 841.7C616.7 834.8 615.3 832.1 614.2 825.2C613.1 818.3 612.5 808.6 610.9 800.4C609.2 792.1 607 783.4 604.3 775.7C601.5 768 598 759.8 594.4 754.3C590.8 748.8 586.9 745.2 582.8 742.7C578.7 740.2 574 740 569.6 739.4C565.2 738.8 566.3 739.4 556.4 739.4C546.5 739.4 520.5 737.5 510.3 739.4Z" fill="url(#gL3b)" filter="url(#bl1)"/>
<path d="M531 700C533.3 697.3 536.5 694.5 540 694C543.5 693.5 548.3 696.2 552 697C555.7 697.8 560.2 696.5 562 699C563.8 701.5 563.3 707.2 563 712C562.7 716.8 559.5 723.7 560 728C560.5 732.3 564.3 734.7 566 738C567.7 741.3 571 745.7 570 748C569 750.3 563.7 752 560 752C556.3 752 551.7 749.2 548 748C544.3 746.8 541 746.3 538 745C535 743.7 531.8 743.3 530 740C528.2 736.7 527.7 730 527 725C526.3 720 525.3 714.2 526 710C526.7 705.8 528.7 702.7 531 700Z" fill="#c8c07c" filter="url(#bl1)"/>
<ellipse cx="546" cy="712" rx="10" ry="12" fill="#e0dab0" opacity="0.8" filter="url(#bl2)"/>
<path d="M532 742C535.5 742.2 543.3 743 546 746C548.7 749 548 751 548 760C548 769 546.5 783.3 546 800C545.5 816.7 544.8 843.3 545 860C545.2 876.7 548.3 892.8 547 900C545.7 907.2 539.2 909.7 537 903C534.8 896.3 534.8 877.2 534 860C533.2 842.8 532.8 815 532 800C531.2 785 530.7 777.5 529 770C527.3 762.5 522.7 759.2 522 755C521.3 750.8 523.3 747.2 525 745C526.7 742.8 528.5 741.8 532 742Z" fill="#b4ae48" filter="url(#bl1)"/>
<path d="M543 805 L545 860" stroke="#5a6a80" stroke-width="3" opacity="0.6" filter="url(#bl1)"/>
<ellipse cx="584" cy="790" rx="6" ry="12" fill="#e6dcb0" opacity="0.5" filter="url(#bl2)"/>
<path d="M586 803.7h1.2M591.1 803.7h1.4M576.5 794.9h1.4M586.4 808.8h0.2M583.5 787.9h0.8M585.2 780.4h0.3M580.5 809.3h1.1M578.6 805.5h0.2M585.9 784.1h0M589.9 786.7h0.3M591.7 807.9h0.4M591.4 797.3h1M579.3 810.1h1M591.5 808.6h0.4M581.8 785.3h0.2M577 789.6h0.9M576.1 801.7h0.5M581 806.2h0.7M581.1 795.4h1.1M576.9 811.2h0M588 807h0M588.6 791.7h0.9M576.1 781.5h0.3M591.3 786.3h1.1M590.9 810.1h0.5M581.7 796.8h1.2M577.7 803.9h1.2M589.8 781.2h1.4M577.5 790.9h0.9M590.7 790.9h1.4" stroke="#f6f2e0" stroke-width="1.4" stroke-linecap="round" opacity="0.51"/>
</g>
<g clip-path="url(#cp3)">
<rect x="652.5" y="687" width="190" height="241.5" fill="#f8f8f2"/>
<ellipse cx="815" cy="715" rx="40" ry="30" fill="#f6f2a8" opacity="0.8" filter="url(#bl8)"/>
<ellipse cx="662" cy="830" rx="8" ry="50" fill="#c8d0c8" opacity="0.8" filter="url(#bl8)"/>
<path d="M687.7 739.4C693.2 732 700.1 726.8 707.5 722.9C714.9 719 725.1 719 732.2 716.3C739.3 713.5 744.8 707.5 750.3 706.4C755.8 705.3 761.4 706.4 765.2 709.7C769.1 713 769.3 721.8 773.4 726.2C777.5 730.6 784.4 732 789.9 736.1C795.4 740.2 801.4 745.2 806.4 751C811.4 756.8 816 762.6 819.6 770.8C823.2 779 826.1 790 827.8 800.4C829.4 810.8 829.8 822.4 829.5 833.4C829.2 844.4 828.1 857.6 826.2 866.4C824.3 875.2 822.6 881 817.9 886.2C813.2 891.4 805.6 895.8 798.2 897.7C790.8 899.6 781.4 898 773.4 897.7C765.4 897.4 756.3 895.8 750.3 896.1C744.2 896.4 743.4 898.9 737.1 899.4C730.8 899.9 720.1 900.2 712.4 899.4C704.7 898.6 697.3 897.7 691 894.4C684.7 891.1 678.6 885.6 674.5 879.6C670.4 873.6 667.9 867.3 666.2 858.2C664.6 849.1 664.3 836.2 664.6 825.2C664.9 814.2 666.2 801.8 667.9 792.2C669.5 782.6 671.2 776.3 674.5 767.5C677.8 758.7 682.2 746.8 687.7 739.4Z" fill="url(#gL4)" filter="url(#bl1)"/>
<ellipse cx="700" cy="860" rx="28" ry="30" fill="#8e7030" opacity="0.55" filter="url(#bl8)"/>
<ellipse cx="790" cy="860" rx="25" ry="25" fill="#8e7030" opacity="0.45" filter="url(#bl8)"/>
<ellipse cx="770" cy="760" rx="30" ry="20" fill="#c0b070" opacity="0.6" filter="url(#bl4)"/>
<ellipse cx="755" cy="840" rx="22" ry="12" fill="#ddd8b8" opacity="0.4" filter="url(#bl2)"/>
<path d="M727.8 854.2h0.7M709.2 818h1M716.5 851.4h0.6M727 830h1.2M725.5 836.2h0.8M723.9 826.5h0.8M728.2 829.7h1.2M724 855.1h0.5M703.3 853.2h1.2M715.6 822.1h0.3M722.2 830.8h1.4M720.6 826.8h1M712.6 859h1.4M718 846.4h1M728.2 861h0M712.6 844.5h0.5M720.6 821.9h1.3M718.4 823.1h1M710.9 826.6h0.7M704.8 827.2h1.3M724.4 818.6h1.2M700.6 832.6h1.4M721.7 831.5h0.6M713.6 823.6h1.5M701.9 836.6h1.1M713.9 861.2h0.4M734.3 857.3h1M731.1 837.7h1.2M727.9 840.7h0.7M724.7 836h0.1M726.1 829.7h0.7M727.4 825.6h0M704.3 843.9h0.5M709 837.9h1.4M708.9 836.1h1.3M721.4 829.8h0.7M716.7 824.3h0.6M710.7 853.4h0.5M723.1 860.7h1.4M713.2 844.5h0.5M713.9 839.5h1.2M732.8 830.8h0M715.7 820.5h0M727.1 822.9h1.1M712.7 859.3h1.3M702.2 826.5h1.4M721.5 836.6h1.2M728.5 839.6h0.7M703.5 833.9h0.2M721.9 844.7h0.2M722 822.3h0.2M722.6 838.4h1.3M722 848.9h0.2M729.1 821.7h0.9M731.9 857.9h1.3M715.8 848.5h1.2M704.8 859.5h1.4M715.4 852.3h0.7M709.7 849.3h0.1M728 861h0.4" stroke="#f6f2e0" stroke-width="1.4" stroke-linecap="round" opacity="0.51"/>
<path d="M765 826.2h1M754.9 837h0.5M754.3 836.2h0.1M769.3 824h0.1M769 845.2h0.2M760.9 839.6h1.4M775.1 833.1h1.5M753.9 846h0.4M757.8 825.3h0.5M784.6 827.1h0.9M777.6 832.4h0.8M754.5 823.7h0.3M779.2 834h0.5M775.4 834.7h0.4M783.8 841.6h0.4M775 836.7h1.3M781.2 830.1h1.5M756.7 833.7h1.1M758.1 835.7h0.1M778.7 843.4h0.9M787 830.8h1M775.8 838.2h0.7M785.6 848.5h0.7M778.6 823.7h1.1M777.9 849.8h1.2M763.4 832.8h1M752.9 834.9h0.3M756.7 823.7h1.2M757.2 828.9h0.6M786.9 824.3h0.7M774 846.7h1.2M786.6 829.8h0.6M766.4 846.8h1.4M758 826.9h0.3M761.3 835.6h0.9M762.5 822.1h0.6M766.8 837.9h1.4M779.6 836.4h0.9M779 823.5h1.3M783.2 846.5h1.2M767.7 833.2h0.2M777.4 823.7h0.1M760.4 826.5h0.5M754.1 822h0.2M756.1 832.2h0M787 839.2h0.2M762.1 831.7h0.5M756.9 845.8h1.5M770.6 835.5h0.1M756.1 831.6h0.4M785.2 826.5h0M790 836.8h0.2M773.7 822.8h0.8M791.1 846.2h1M762.4 832.3h0.3M782.9 836.9h1.2M765.2 828.2h1.2M791.4 845.9h1.2M784.7 842.7h0.3M772.7 832h0" stroke="#f6f2e0" stroke-width="1.4" stroke-linecap="round" opacity="0.51"/>
<path d="M738 855C739.7 847.8 744.3 847.8 746 852C747.7 856.2 748.7 872 748 880C747.3 888 744 897.5 742 900C740 902.5 736.7 902.5 736 895C735.3 887.5 736.3 862.2 738 855Z" fill="#d6d040" filter="url(#bl1)"/>
</g>
<g clip-path="url(#cp4)">
<rect x="867" y="685" width="181" height="241" fill="#f3f3e8"/>
<ellipse cx="1030" cy="800" rx="25" ry="100" fill="#f0f0a8" opacity="0.8" filter="url(#bl8)"/>
<ellipse cx="900" cy="900" rx="40" ry="25" fill="#e4e890" opacity="0.6" filter="url(#bl8)"/>
<path d="M927.7 752.3C922.8 756.4 913.7 761.1 907.9 768.8C902.1 776.5 896.6 788 893 798.4C889.4 808.8 887.2 820.4 886.4 831.4C885.6 842.4 886.2 854.8 888.1 864.4C890 874 893.6 882.8 898 889.1C902.4 895.4 908.5 899.8 914.5 902.3C920.5 904.8 928.8 904.3 934.3 904C939.8 903.7 944.8 899.3 947.5 900.7C950.2 902.1 948 910 950.8 912.2C953.5 914.4 959.1 914.7 964 913.9C968.9 913.1 973.5 911.4 980.4 907.3C987.3 903.2 998.1 895.7 1005.2 889.1C1012.4 882.5 1018.6 875.9 1023.3 867.7C1028 859.5 1031.5 849.9 1033.2 839.7C1034.9 829.5 1034.9 817.7 1033.2 806.7C1031.5 795.7 1027.4 782.5 1023.3 773.7C1019.2 764.9 1014 758.6 1008.5 753.9C1003 749.2 995.8 747.1 990.3 745.7C984.8 744.3 981 752.3 975.5 745.7C970 739.1 962.8 712.9 957.3 706C951.8 699.1 947.4 703.8 942.5 704.4C937.6 705 928.5 702.8 927.7 709.4C926.9 716 937.6 736.9 937.6 744C937.6 751.1 932.7 748.2 927.7 752.3Z" fill="url(#gL5)" filter="url(#bl1)"/>
<path d="M932 750 Q945 800 950 905" stroke="#6a5a10" stroke-width="3" fill="none" opacity="0.7" filter="url(#bl1)"/>
<path d="M931 710C932.2 700.8 937.7 705.7 942 705C946.3 704.3 952 699.3 957 706C962 712.7 971.5 732.7 972 745C972.5 757.3 964 767.5 960 780C956 792.5 951.3 818.3 948 820C944.7 821.7 942.2 800 940 790C937.8 780 936.5 773.3 935 760C933.5 746.7 929.8 719.2 931 710Z" fill="#b8a850" filter="url(#bl1)"/>
<ellipse cx="994" cy="823" rx="6" ry="13" fill="#f4f0d0" opacity="0.4" filter="url(#bl2)"/>
<path d="M988.4 828.7h0.2M995.6 798h0.4M1000 802.3h1M991.9 810.9h0.7M987.9 824.1h0.1M988.5 795.7h0.4M991.1 826.6h0.6M986.7 804h1.5M985.9 816.7h0.6M994.9 806.8h1M992.5 817.7h1.4M993.7 800h0.1M999.2 812.1h0.3M999.2 815.3h1.1M998.2 805h0.5M998.2 799.7h1.1M986.5 819.2h1.1M999.2 824.5h0.8M988 800.3h0.8M992.6 797.5h1.4M992.6 819.5h0.3M988.7 795.4h0.5M989 809.8h0.6M997.5 826.2h0.3M990.9 800.8h1M999.6 802.1h1.1M989.5 795.5h1.1M990.1 801h0.7M988.5 809.4h0.7M991.3 815.6h0.4M986.4 798h0.2M992.8 807.6h1.2M992.6 819.8h1.5M985.9 795.6h0.2M990.8 815.1h1.1" stroke="#f6f2e0" stroke-width="1.4" stroke-linecap="round" opacity="0.51"/>
<path d="M993 868.1h0.2M998.3 855.2h0.8M998.7 857.8h0.8M995 856.4h0.6M996.1 870.8h1.1M989 863.3h0.2M993.6 887.3h0.9M997.1 868.4h1.1M988.3 865.2h1M996.4 869.8h0.1M990.5 862.3h0.4M997.5 862h1.3M998.4 856.9h0.6M993.4 855.8h0.6M998.8 858.9h0.9M988.6 875.3h1.3M989.6 855.3h0.1M994 855.6h0.1M993.5 887.2h0.6M992.2 877.4h0.1" stroke="#f6f2e0" stroke-width="1.4" stroke-linecap="round" opacity="0.51"/>
</g>
<g clip-path="url(#cp5)">
<rect x="1082.6" y="685" width="181.5" height="241" fill="#f3f3e8"/>
<ellipse cx="1115" cy="860" rx="25" ry="60" fill="#e6ea90" opacity="0.8" filter="url(#bl8)"/>
<ellipse cx="1180" cy="900" rx="60" ry="20" fill="#eaee98" opacity="0.6" filter="url(#bl8)"/>
<path d="M1122.2 737.4C1126.9 732.2 1133.4 732.4 1140.3 730.8C1147.2 729.1 1159 730 1163.4 727.5C1167.8 725 1162.6 717.9 1166.7 716C1170.8 714.1 1183.8 712.4 1188.2 716C1192.6 719.6 1191.7 732.4 1193.1 737.4C1194.5 742.4 1191.7 744.3 1196.4 745.7C1201.1 747.1 1214.3 744.3 1221.2 745.7C1228.1 747.1 1233.5 750 1237.6 753.9C1241.7 757.8 1243.2 762.8 1245.9 768.8C1248.7 774.8 1252.4 782.5 1254.1 790.2C1255.8 797.9 1256.3 806.6 1255.8 814.9C1255.2 823.1 1253.3 832 1250.8 839.7C1248.3 847.4 1245.8 855.1 1240.9 861.1C1236 867.1 1228.6 872.6 1221.2 875.9C1213.8 879.2 1203.3 879.5 1196.4 880.9C1189.5 882.3 1185.4 882.3 1179.9 884.2C1174.4 886.1 1170.3 891.6 1163.4 892.4C1156.5 893.2 1146.1 891.9 1138.7 889.1C1131.3 886.4 1124.4 882.2 1118.9 875.9C1113.4 869.6 1108.7 860 1105.7 851.2C1102.7 842.4 1101.1 833.4 1100.8 823.2C1100.5 813 1102.2 800.4 1104.1 790.2C1106 780 1109.3 771 1112.3 762.2C1115.3 753.4 1117.5 742.6 1122.2 737.4Z" fill="url(#gL6)" filter="url(#bl1)"/>
<ellipse cx="1195" cy="800" rx="38" ry="26" fill="#9a7e62" opacity="0.65" filter="url(#bl4)"/>
<ellipse cx="1125" cy="830" rx="18" ry="40" fill="#d8c020" opacity="0.5" filter="url(#bl4)"/>
<ellipse cx="1215" cy="840" rx="20" ry="25" fill="#c89040" opacity="0.5" filter="url(#bl4)"/>
<path d="M1175 820C1176.8 809.7 1181.5 811.3 1183 818C1184.5 824.7 1184.5 848.8 1184 860C1183.5 871.2 1182 881.7 1180 885C1178 888.3 1172.8 890.8 1172 880C1171.2 869.2 1173.2 830.3 1175 820Z" fill="#d8d860" filter="url(#bl1)"/>
<ellipse cx="1225" cy="830" rx="12" ry="16" fill="#f0e0b0" opacity="0.4" filter="url(#bl2)"/>
<path d="M1225 831.2h0.9M1212.2 851.9h1.2M1227.9 816.7h0.8M1216.5 821.5h1.4M1239.9 810.4h1.3M1226.1 828.6h0.4M1228.6 832.7h1M1228.2 815.2h1.2M1239.4 860.3h0.9M1206.5 808.2h0.2M1237.9 824.4h0.5M1236.4 825h0.8M1220.3 811.5h0.9M1234.5 816.4h0.3M1219.5 810h0.7M1233.6 843.5h0.8M1234.9 816.1h0.9M1218.1 840.5h0.2M1232.1 813.2h0.2M1233.3 859.2h0.6M1219.5 821.3h0.4M1226.6 817.6h0.2M1221 816.9h1M1233.7 850h0.7M1217.2 831.5h0M1229.9 825.9h0.5M1207.8 832.2h0.9M1218.7 855h1M1213.4 836.4h1.4M1223.2 840.5h0.1M1222.1 832.9h0.6M1219.7 839.6h0.8M1222.1 817h0.7M1238.9 830.4h0.1M1205.1 836.9h0.1M1208.2 813.9h0.7M1239.7 834.2h0.7M1220.3 835.1h0.7M1230.4 856.5h1M1219.8 843.1h1.4M1210.4 820.8h0.9M1229 842.7h0.9M1234 833.9h1.2M1238.7 831.5h1.3M1230.1 856h0.1M1237 849.4h1.4M1239.3 823.4h1M1209.9 840.1h1.4M1211.7 826.9h0.1M1211.8 819.2h0.1M1240 855.9h0.7M1231 845.5h0.8M1219.8 843.9h0.8M1214.3 827.7h0.9M1226.9 819.3h0.9M1235.6 855.1h1M1207.5 830.9h0.1M1206.9 821.8h0.7M1231.6 842h0.4M1229.3 835.4h0.8M1214.2 831.8h0.5M1230.4 834.1h0.7M1221.7 833.9h1M1230.2 851.3h0.6M1232.8 860.1h1.5M1230.2 811.5h1.3M1234.3 808.9h0.5M1216.3 848h0.9M1214.9 818.1h0.3M1208.3 850.7h1.4" stroke="#f6f2e0" stroke-width="1.4" stroke-linecap="round" opacity="0.51"/>
</g>
<rect x="211.5" y="686" width="18.2" height="240.5" fill="#fff"/>
<rect x="1048.5" y="685" width="34" height="241" fill="#fff"/>
<path d="M-5 0 L3 0 M0 -3 L4 0 L0 3" transform="translate(118 787) rotate(-30)" stroke="#f01010" stroke-width="2.2" fill="none"/>
<path d="M-5 0 L3 0 M0 -3 L4 0 L0 3" transform="translate(70 842) rotate(-30)" stroke="#f01010" stroke-width="2.2" fill="none"/>
<path d="M-5 0 L3 0 M0 -3 L4 0 L0 3" transform="translate(94 837) rotate(40)" stroke="#f01010" stroke-width="2.2" fill="none"/>
<path d="M-5 0 L3 0 M0 -3 L4 0 L0 3" transform="translate(120 888) rotate(-30)" stroke="#f01010" stroke-width="2.2" fill="none"/>
<path d="M-5 0 L3 0 M0 -3 L4 0 L0 3" transform="translate(295 798) rotate(-30)" stroke="#f01010" stroke-width="2.2" fill="none"/>
<path d="M-5 0 L3 0 M0 -3 L4 0 L0 3" transform="translate(550 757) rotate(-30)" stroke="#f01010" stroke-width="2.2" fill="none"/>
<path d="M-5 0 L3 0 M0 -3 L4 0 L0 3" transform="translate(688 797) rotate(-30)" stroke="#f01010" stroke-width="2.2" fill="none"/>
<path d="M-5 0 L3 0 M0 -3 L4 0 L0 3" transform="translate(725 817) rotate(-30)" stroke="#f01010" stroke-width="2.2" fill="none"/>
<path d="M-5 0 L3 0 M0 -3 L4 0 L0 3" transform="translate(775 812) rotate(-30)" stroke="#f01010" stroke-width="2.2" fill="none"/>
<text x="211.6" y="674.8" font-size="33.7" font-weight="bold" text-anchor="middle">vehicle</text>
<text x="633.6" y="667.7" font-size="33.7" font-weight="bold" text-anchor="middle">pre-miR-155-amide</text>
<text x="1052.5" y="673.3" font-size="33.7" font-weight="bold" text-anchor="middle">pre-miR-155-RiboTAC</text>
<text x="614" y="1083" font-size="39.3" font-weight="bold" text-anchor="middle">mature-miR-155 FISH</text>
<text x="207.5" y="1158.7" font-size="34" font-weight="bold" text-anchor="middle">vehicle</text>
<text x="636.5" y="1129.6" font-size="34" font-weight="bold" text-anchor="middle">pre-miR-155-</text>
<text x="635.8" y="1169" font-size="33.8" font-weight="bold" text-anchor="middle">amide binder</text>
<text x="1046.7" y="1129.6" font-size="34" font-weight="bold" text-anchor="middle">pre-miR-155-</text>
<text x="1045.8" y="1169" font-size="33.8" font-weight="bold" text-anchor="middle">RiboTAC</text>
<rect x="5.5" y="1180.8" width="390.5" height="294.2" fill="#fbf4c6" filter="url(#ff1)"/>
<ellipse cx="130" cy="1330" rx="70" ry="110" fill="#fffbd8" opacity="0.5" filter="url(#bl8)"/>
<path d="M248 1397.6h0M370.9 1397h0M19.7 1318h0M258 1443.4h0M188.9 1254.9h0M229.2 1187.6h0M116 1447.9h0M69.9 1413.5h0M245.9 1220.3h0M343.6 1244.2h0M386.2 1435.2h0M378.2 1339.2h0M87.2 1455h0M380.1 1441.4h0M147.4 1231.6h0M33.5 1270.7h0M9.8 1379.2h0M127.7 1419.7h0M30.4 1464.8h0M296.8 1427.3h0M311.4 1289.3h0M12 1197.3h0M375.8 1240.4h0M366 1455.3h0M50 1399.5h0M339.1 1194.4h0M43.6 1282h0M361.5 1281.8h0M218.1 1273.8h0M76.7 1206.3h0M273.5 1471.1h0M27.2 1468.2h0M164.6 1252.2h0M326.2 1315.1h0M29.9 1447.8h0M198.3 1425.4h0M289.8 1457.5h0M311.5 1214.5h0M65.9 1427.3h0M182.7 1471.8h0M383.8 1314.5h0M289 1321.9h0M163.8 1226h0M388.5 1460.4h0M200.5 1281.3h0M275.6 1375.2h0M148.2 1386.8h0M195.2 1405.6h0M121.5 1456.3h0M231.8 1187.1h0M104.9 1377.4h0M322.5 1370.4h0M326.9 1284.7h0M343 1382.2h0M376.3 1333.1h0M289.3 1233.3h0M231.8 1375.6h0M248.3 1407.1h0M285.5 1191.8h0M178.1 1371.2h0M272.3 1365.6h0M189.8 1249h0M59.8 1275.3h0M82.8 1194.1h0M100 1444.1h0M164.4 1264.1h0M52.7 1423.4h0M22.4 1360.6h0M218.1 1281.6h0M377 1419.7h0M321.1 1368.9h0M63.1 1355.5h0M376.5 1462.8h0M143.5 1441.3h0M50 1346.9h0M153 1308.2h0M120.6 1464.1h0M378.1 1447.1h0M108.4 1466.5h0M197.6 1266.3h0M55.4 1363h0M13.6 1337.3h0M368.1 1409.1h0M256.5 1357.8h0M53.9 1402.9h0M213.6 1280.7h0M212.2 1317.6h0M295 1354.1h0M349.9 1341h0M307.8 1307.1h0M280.8 1366h0M359.1 1294.9h0M336.1 1240.4h0M327.6 1202.8h0M275.6 1308.5h0M308.7 1446.3h0M135.7 1228h0M320.6 1203.5h0M323.6 1412h0M392.4 1385.9h0M332.3 1247h0M374.6 1389.1h0M121 1448.4h0M243.3 1303.1h0M247.8 1196.4h0M154.3 1204.6h0M60.2 1308.2h0M152.4 1199.9h0M66.6 1365.8h0M358.6 1343.7h0M109.7 1342.8h0M297.1 1332.8h0M77.4 1389.4h0M41.3 1376.3h0M56.5 1355h0M345.7 1322.3h0M314.7 1192.3h0M270.4 1248.1h0M382.5 1375.5h0M62.2 1363.9h0M142.6 1295h0M328.1 1370.5h0M175.1 1429.2h0M236.4 1349h0M160.6 1211.8h0M193.4 1402.9h0M189.3 1440.2h0M173.3 1318h0M68 1229.6h0M156.8 1437.5h0M106.2 1263.8h0M118.9 1251.6h0M20.8 1450.2h0M369.1 1382h0M189.9 1456.3h0M265.6 1267.7h0M288.9 1230.8h0M18.1 1250.2h0M162.7 1464.4h0M290.1 1390.7h0M166.2 1196.8h0M389 1333.4h0M197.4 1453.5h0M102.1 1198.3h0M31.6 1257.4h0M126.1 1198.6h0M382.1 1235.5h0M163.2 1336.9h0M129.2 1214.9h0M362.7 1356.2h0M90.9 1188.8h0M195.6 1348.5h0M248.9 1392.9h0M94.6 1217.1h0M42.2 1406.4h0M128.8 1221.2h0M102.6 1208.1h0M230.3 1254.5h0M277.9 1197.6h0M118.5 1291.5h0M222.3 1442.1h0M300.6 1349.4h0M322.6 1372.7h0M288.4 1385.9h0M320.7 1294h0M33.8 1232.6h0M268.4 1266.1h0M302.2 1344.4h0M28 1221.3h0M339.1 1457.4h0M97.4 1307.4h0M135.5 1187.4h0M326.5 1393.3h0M212.4 1233.1h0M180.1 1454.3h0M303.6 1453.6h0M381.3 1355.6h0M321.6 1304.7h0M384.5 1193.3h0M193.8 1437.9h0M91.4 1263.6h0M224.8 1286.7h0M101.4 1285.2h0M386.2 1425.9h0M246.2 1299.3h0M328.3 1325.1h0M354.6 1241.2h0M248.1 1414.5h0M12.4 1331.3h0M79.5 1295.9h0M18.9 1273.7h0M191.6 1386.5h0M386.2 1418.8h0M274.9 1376.9h0M315.6 1288.4h0M269.8 1334.3h0M38.4 1209h0M231.7 1402.7h0M126.5 1451.6h0M283.8 1204.6h0M266.1 1459.6h0M272.9 1425.4h0M243.4 1244h0M353.1 1252.7h0M217.7 1297.2h0M158.5 1235.1h0M354.4 1446.1h0M157.2 1215.2h0M221.3 1389.9h0M349.5 1245.1h0M94.9 1201.9h0M327.7 1437h0M356.4 1270.9h0M241.3 1462.4h0M20.2 1217.1h0M240.5 1236.8h0M237.1 1370.1h0M288.8 1201.5h0M329.4 1459.7h0M335.5 1369.7h0M191.8 1212.8h0M68.7 1210.6h0M245.2 1214h0M291.6 1419.1h0M282.7 1450.1h0M248.9 1461.9h0M48.1 1202.4h0M294.2 1207.9h0M217.5 1291.9h0M238.1 1291.7h0M199 1461.2h0M36.3 1402.8h0M122.3 1217.5h0M155.4 1267.5h0M276.4 1411.2h0M208.1 1198.3h0M99.9 1375.8h0M112.7 1211.5h0M387.1 1339.8h0M367.6 1210.3h0M320.2 1185.3h0M147.3 1188.5h0M178.7 1319.8h0M115.8 1459h0M203.8 1199.1h0M307.8 1309.1h0M355.5 1369.7h0M167.4 1435.7h0M360.5 1292.9h0M299.3 1440.8h0M308.8 1305.5h0M390.8 1246.3h0M112.7 1319.2h0M264.8 1219.3h0M184.5 1205.1h0M353.6 1439h0M15.6 1422.5h0M238.8 1223.1h0M362.3 1454h0M79.6 1307.4h0M298.4 1291.3h0M278.4 1209.8h0M255.9 1291.9h0M101.1 1347.7h0M218.2 1394.6h0M193.5 1387.2h0M305 1304.5h0M243.2 1412.3h0M201 1194.8h0M141.4 1190h0M368.9 1457.5h0M38.3 1313.1h0M61.6 1284.9h0M226.1 1243.6h0M31.5 1209.1h0M63.8 1462.6h0M114.5 1409.7h0M109.3 1422.8h0M157.9 1365h0M109.8 1436.4h0M353.5 1234.8h0M28.5 1397h0M198.6 1434.9h0M234.9 1217.7h0M243.6 1360.2h0M373.4 1215.8h0M271.5 1210.5h0M285.7 1203.8h0M332.9 1218.5h0M108 1269.9h0M300 1332.4h0M187.5 1228.6h0M109.8 1456.7h0M42.4 1285.5h0M272.7 1312.7h0M359.2 1225.6h0M222 1374.7h0M310.1 1424.7h0M50 1258.5h0M350.6 1260.1h0M254.8 1459.4h0M304.5 1280.8h0M251.5 1427.1h0M27.7 1464h0M253.2 1392.5h0M165.5 1278.7h0M33.3 1390.4h0M342.9 1201.9h0M77.8 1455.7h0M353.1 1329.7h0M168.5 1249h0M225.7 1267.4h0M205.2 1452.7h0M187.7 1213.4h0M52.6 1338.7h0M388.1 1340.2h0M173 1244.1h0M361.6 1293.8h0M361.8 1277.7h0M211.9 1224h0M369.5 1318.1h0M361.3 1349.2h0M117.8 1398.3h0M189.4 1402.4h0M59.8 1232.1h0M71.2 1385.2h0M231.7 1256.4h0M28.7 1391.5h0M302.3 1280.8h0M362 1265.1h0M345.7 1222.1h0M167.9 1465.2h0M260.4 1402h0M8.9 1455.8h0M336.5 1374.4h0M330.6 1378.6h0M289.9 1329.4h0M244.7 1413.2h0M198.7 1184.1h0M305.1 1425.1h0M214.3 1321.7h0M86.4 1464.6h0M100.1 1422.8h0M156.5 1369.6h0M113.8 1186.7h0M232.1 1398.1h0M179.4 1381.5h0M108.7 1426.1h0M49.4 1315.8h0M317.2 1321.2h0M18 1413h0M248.2 1424.4h0M283.8 1429.1h0M16.3 1438.7h0M85.9 1202.8h0M47 1290.2h0M93.2 1184.7h0M123.9 1393.8h0M72.3 1458.6h0M273.5 1246.3h0M181.9 1301.6h0M183.7 1405h0M339.3 1380.6h0M343.3 1448.1h0M347.9 1389.5h0M81.8 1278.2h0M270.7 1405.5h0M213.6 1426h0M44.9 1358.3h0M63.8 1266.8h0M65.7 1306.4h0M10.8 1342.3h0M329.2 1277.8h0M39.2 1227.2h0M31 1357.2h0M192.2 1415.3h0M361.7 1359h0M74.1 1306.7h0M324.9 1250h0M322.5 1204.2h0M92.9 1375.5h0M44.8 1394.3h0M131.8 1430.7h0M127.5 1379.1h0M208 1207.6h0M360.7 1367.2h0M205.8 1319.1h0M66.6 1264h0M35.8 1378.2h0M120.1 1210h0M366.5 1267.9h0M141.5 1456.2h0M140.2 1244h0M186 1212.1h0M134.7 1381.5h0M343.7 1200.6h0M201.7 1283.7h0M333.7 1348h0M261.1 1361.1h0M172.4 1221.8h0M346.4 1272h0M240.5 1354h0M180 1395.3h0M50.3 1401.5h0M117.9 1373h0M184 1230.4h0M275.2 1330.8h0M332.1 1362.3h0M76.7 1320.6h0M248.8 1215.9h0M370 1296.3h0M391.8 1221.3h0M288.1 1315.7h0M163.1 1257.4h0M261.9 1254h0M307.9 1272.1h0M243.7 1230.6h0M26 1327.8h0M210.8 1196.9h0M388.8 1410.9h0M183.9 1193.2h0M82.3 1467.5h0M103.7 1202.6h0M391.2 1397.1h0M329.8 1409.4h0M73.5 1261.6h0M76 1391.3h0M12.5 1271.6h0M335.7 1394h0M359.1 1344.4h0M228.9 1265.2h0M108.5 1315.7h0M39.5 1255.1h0M376.5 1324.1h0M294.7 1354.5h0M337.3 1411.7h0M96.2 1185.4h0M233.2 1265h0M87.9 1449.3h0M236.1 1387h0M195.8 1435h0M274.1 1206.6h0M187.6 1340.9h0M293.7 1283.7h0M209.2 1425.5h0M223.7 1358.3h0M128.5 1264.2h0M239.6 1369.6h0M180 1345.3h0M47.8 1451.5h0M200.2 1268.7h0M112.3 1230.3h0M358.3 1206.7h0M275.7 1363.9h0M178.5 1258h0M195 1226.9h0M285.7 1321.3h0M304.8 1459.4h0M25.5 1329.4h0M135.7 1381h0M245.5 1360.8h0M364.3 1387.8h0M279.3 1250.3h0M247.1 1201.4h0M286.2 1404.3h0M369.8 1311.5h0M389.8 1277.1h0M376.2 1208.1h0M259.1 1339.3h0M339.2 1226.1h0M317.2 1422.6h0M299.2 1279.9h0M212.9 1376.2h0M341.2 1389.6h0M224.5 1197.9h0M131.1 1327.8h0M81.7 1451.5h0M123.3 1417.8h0M265.1 1347.6h0M191.8 1278.5h0M148.4 1183.8h0M370.7 1285.9h0M53.7 1334.8h0M63.9 1410.1h0M177.4 1404.6h0M344.4 1275.2h0M25.3 1441.8h0M283.9 1396.3h0M11 1272.2h0M358.1 1445.5h0M388.1 1343.6h0M40.3 1306.8h0M102.4 1305.6h0M100 1471.1h0M209.8 1377.8h0M208.9 1289.5h0M19.8 1218.7h0M12.4 1378.2h0M98.3 1274.2h0M89.1 1429.5h0M230.8 1267.8h0M26.2 1440h0M263.9 1198.3h0M330.3 1354.8h0M98.6 1202.1h0M354.9 1325.6h0M60 1456.9h0M194.1 1439.1h0M385.5 1276.8h0M330.4 1453.1h0M36.7 1264.4h0M357.9 1380h0M142.2 1283.3h0M95 1332.6h0M20.4 1437.5h0M84 1396.9h0M244.9 1321h0M173.1 1239.8h0M373.8 1284.3h0M115.7 1409h0M74 1438.6h0M26.4 1316.1h0M254.2 1287.2h0M196.1 1379.9h0M372.6 1310.2h0M366.3 1363h0M312.2 1389h0M168.8 1229h0M272.8 1278.6h0M18.5 1190.3h0M357.4 1385.8h0M388.8 1236.7h0M256.1 1266.6h0M243 1388.4h0M328.5 1266.6h0M291.9 1276.7h0M135.5 1465.7h0M109.3 1205.7h0M199.4 1305.3h0M151.4 1402.9h0M55.6 1459.2h0M296.4 1341.6h0M230 1216.9h0M289.5 1284.5h0M322 1399.4h0M157.3 1221.8h0M113.6 1184.4h0M312.4 1353.4h0M96.3 1394.5h0M231.6 1270.9h0M240.7 1327.8h0M249.9 1301.4h0M270.9 1295.3h0M260.8 1325.1h0M269.7 1306.5h0M18.6 1338.4h0M346.5 1239.5h0M213.5 1453.3h0M138.9 1296.1h0M271.4 1204.1h0M200.2 1401.3h0M82.3 1444.6h0M270.2 1260.4h0M356.5 1354.7h0M243 1459.5h0M26.9 1184.2h0M107.5 1326h0M223.7 1378.5h0M230.1 1367.7h0M324.9 1211.6h0M341.4 1424.2h0M352.3 1359.3h0M278.1 1292.2h0M302.5 1388.4h0M384.7 1234.7h0M289.1 1295.3h0M271.5 1262.5h0M87 1247.6h0M173 1441.6h0M360.8 1259.3h0M275.9 1236.9h0M72.7 1255.7h0M72.3 1379.7h0M120.4 1257.2h0M52.5 1310.2h0M209.4 1257.4h0M365.9 1249.4h0M189.9 1438.8h0M216.5 1258.4h0M149.9 1438.5h0M173.4 1192.8h0M10.5 1318.5h0M375 1382.3h0M240.3 1471.8h0M220.6 1356.2h0M392.9 1470.9h0M25.3 1204.8h0M326.4 1344.7h0M47.2 1255.9h0M63.7 1398.5h0M72.7 1362.5h0M328.9 1371.2h0M287.6 1394.4h0M171.1 1293.3h0M359.3 1309.5h0M251 1207.6h0M230.7 1411.3h0M104.5 1292.5h0M170 1450.4h0M70.2 1296.8h0M260.9 1433.7h0M238.1 1294.7h0M222.1 1234.7h0M199.7 1240.7h0M330 1368.7h0M100.2 1365.5h0M249.7 1436.9h0M64.4 1380.1h0M197.4 1313.9h0M76.2 1459.7h0M63.3 1396.7h0M88.3 1387.5h0M392.1 1355.8h0M263.5 1221.7h0M279.7 1227.9h0M389.5 1450h0M309.3 1390h0M251.6 1450.8h0M281.3 1453.3h0M49 1380.7h0M186.5 1250.9h0M309 1393h0M197.2 1297.8h0M316.7 1222.8h0M323.7 1283.2h0M370.1 1204.2h0M339 1365.6h0M104.2 1413.5h0M78.7 1415.3h0M95.2 1441.3h0M267.6 1467.8h0M217.6 1341.3h0M213.8 1462.2h0M150.3 1377.2h0M308.9 1295.6h0M122.8 1233.3h0M335.8 1254.2h0M199.8 1221.9h0M161.3 1218.2h0M378.2 1376.9h0M300.6 1281.4h0M278.6 1400.7h0M22.7 1265.1h0M177.8 1434.7h0M48.6 1188.9h0M287.8 1314.3h0M205.7 1287.7h0M24.2 1458.2h0M203.7 1399.6h0M64.4 1420.8h0M61.7 1399.2h0M58.4 1455.7h0M391.8 1254.5h0M228 1426.4h0M200.2 1459.3h0M95.2 1430.6h0M309.2 1470.6h0M243.1 1400.3h0M210.9 1193h0M390.5 1364.2h0M196.3 1444.2h0M309.2 1392.9h0M84.4 1325.2h0M87.2 1457.6h0M321.9 1424.1h0M17.9 1234.9h0M281.2 1286.1h0M71.2 1373.4h0M309.4 1346h0M9.3 1260.6h0M271.3 1345.9h0M342.6 1366.8h0M159.4 1463.5h0M66.9 1419.6h0M140.6 1384h0M295.2 1344.9h0M30.2 1444.1h0M301.1 1268.3h0M53.3 1341.3h0M189.7 1267.3h0M175.8 1252.2h0M136 1219.7h0M382.9 1199.7h0M169.9 1218.5h0M203.5 1199.8h0M11.3 1269.9h0M333.2 1235.1h0M372.8 1274.6h0M103.4 1433.3h0M264.4 1454.1h0" stroke="#9a5a46" stroke-width="2.6" stroke-linecap="round" opacity="0.8"/>
<path d="M29.4 1363.3h0M18.7 1360.7h0M19.6 1275.8h0M30.3 1275.9h0M31.2 1375.8h0M23.9 1347.4h0M14.4 1349.6h0M36.1 1327.6h0M38.9 1308.4h0M16 1352.6h0M20.5 1275.2h0M11.9 1349.6h0M22.1 1379.8h0M8.3 1348.8h0M15.1 1366.5h0M29.6 1363.5h0M22.9 1320.3h0M34.3 1351.7h0M27.1 1247.3h0M37.1 1259.8h0M32.7 1314.5h0M28.8 1337.8h0M27.1 1295h0M22.3 1339.9h0M31.9 1305.1h0M26.5 1373.5h0M24 1309.3h0M12.1 1296.4h0M11.4 1303.9h0M31.6 1248.9h0M31.9 1292.5h0M38.1 1331.7h0M41.8 1329.5h0M34.7 1263.7h0M21.3 1286.2h0M22.4 1263.5h0M29.7 1399.1h0M10.4 1328.4h0M32.3 1391.4h0M32.9 1279.5h0M13.5 1297.2h0M26.7 1391.4h0M27.8 1314.9h0M38.2 1329.3h0M36.3 1340.7h0M20.1 1344.9h0M27.5 1267.9h0M32 1307.6h0M12.8 1357.8h0M26.8 1278.2h0M29.6 1356.3h0M11.5 1257.3h0M31.4 1283.4h0M23 1280.2h0M32.3 1380.1h0" stroke="#9a5a46" stroke-width="2.4" stroke-linecap="round" opacity="0.8"/>
<path d="M324.8 1345.1h0M329.8 1360.5h0M294.4 1292.6h0M305.7 1317.7h0M340.2 1322.7h0M267.4 1298.6h0M322.8 1340h0M334.4 1333.1h0M327.1 1309.5h0M350.4 1295.7h0M351.1 1332.8h0M328.3 1345.6h0M348.9 1332.8h0M315.3 1348.5h0M259 1318.8h0M340.4 1336.7h0M346.9 1320.6h0M309.3 1325.9h0M376.2 1301.5h0M320 1326.2h0M303 1352.5h0M311.4 1323.5h0M322.9 1334.3h0M291.7 1351.3h0M308.7 1344.6h0M349.5 1357.5h0M308.6 1339.8h0M333.1 1313.4h0M361.7 1343.4h0M329.4 1323.4h0M300.7 1364.4h0M304.5 1328.9h0M344.1 1342h0M282.6 1306.9h0M295.6 1285.2h0M322.1 1334.2h0M317.1 1346.1h0M339.7 1332.9h0M375 1307.5h0M336.9 1336.1h0M345 1328.5h0M324.3 1343.6h0M331.6 1334.9h0M288 1338.2h0M356.2 1340.1h0M359.7 1356h0M372 1306.9h0M316.5 1327.7h0M328.1 1322.6h0M333.3 1313.3h0" stroke="#9a5a46" stroke-width="2.4" stroke-linecap="round" opacity="0.8"/>
<path d="M186 1222.3h0M168.2 1212.5h0M172 1247.4h0M156.8 1233.7h0M140.5 1224.7h0M163 1217h0M157.5 1223.4h0M151.7 1228.5h0M173.6 1220.5h0M167.6 1235.5h0M160.5 1247.8h0M171.7 1237.5h0M186.9 1222h0M175.4 1244.8h0M192.5 1209.1h0M195.7 1219.2h0M155 1245.2h0M205.3 1238.2h0M199.5 1201.7h0M187.5 1211.1h0M176.9 1218.3h0M156.2 1226.6h0M197.6 1223h0M202.2 1268.7h0M157.4 1222.9h0M189.8 1212.6h0M133.2 1208.6h0M161.9 1241.1h0M154.8 1225.7h0M161 1213.8h0" stroke="#9a5a46" stroke-width="2.4" stroke-linecap="round" opacity="0.8"/>
<rect x="422" y="1181" width="389.4" height="292.6" fill="#fbf4c6" filter="url(#ff2)"/>
<ellipse cx="620" cy="1320" rx="90" ry="90" fill="#fffbd8" opacity="0.5" filter="url(#bl8)"/>
<ellipse cx="755" cy="1260" rx="7" ry="35" fill="#f4c8a8" opacity="0.45" filter="url(#bl8)"/>
<path d="M602.5 1291h0M757.2 1185.8h0M769.4 1207.2h0M661.4 1195.7h0M485.3 1252.2h0M619.1 1448.8h0M721.8 1294h0M464 1267.5h0M703.2 1304.9h0M527.3 1244.2h0M735.4 1241.2h0M762.2 1199.7h0M613.5 1190.7h0M772.5 1216.1h0M471.5 1349.9h0M502.9 1186.4h0M631.9 1189h0M615.5 1447.9h0M577.6 1367.1h0M647.3 1233.5h0M792.4 1199.5h0M657.5 1226.8h0M806.4 1470h0M695.5 1456.5h0M659.3 1196.3h0M458.3 1283.5h0M803.1 1348.6h0M731.5 1278.2h0M506.8 1311.3h0M459.1 1364.4h0M725.6 1191.3h0M734.6 1326.5h0M520.2 1395.4h0M513.5 1460.3h0M568 1430.4h0M680.9 1233h0M524.3 1198.5h0M491.2 1455.3h0M657.6 1187.4h0M505 1295.5h0M795.5 1285.6h0M640.4 1223.4h0M638.2 1383.5h0M571.8 1438.3h0M614.6 1212.4h0M627.8 1233.7h0M457.3 1407.6h0M430 1234.4h0M639.4 1295.3h0M609.8 1455.2h0M785.9 1192.2h0M765.8 1340h0M630.9 1444.7h0M671.5 1339.4h0M702.9 1390.5h0M693.2 1314h0M669.1 1199.2h0M568.1 1435.8h0M740.6 1393.1h0M760.8 1194.3h0M660.1 1378.3h0M451.4 1238.2h0M494.5 1202.6h0M605.3 1337.5h0M722.4 1279.7h0M428.3 1457.4h0M799.3 1466.7h0M465.7 1284h0M724 1239.1h0M467.4 1218.4h0M799.3 1290.7h0M604.2 1333.6h0M668.3 1251.7h0M623.5 1240.6h0M786.9 1190.4h0M731.7 1200.6h0M751.5 1357.5h0M447.5 1262.9h0M731.8 1463.6h0M770.7 1450.7h0M777.7 1461.3h0M546.8 1254.8h0M578 1243.9h0M593.7 1237.4h0M549.6 1232.9h0M497.3 1387.9h0M477.8 1363.2h0M763.8 1394.2h0M632.8 1280.1h0M549.1 1422.9h0M463 1389.5h0M629.5 1204.5h0M778.1 1196h0M487.6 1211.5h0M806.6 1370.1h0M765.6 1329.1h0M689.6 1286.9h0M547.9 1294.4h0M659.8 1432.9h0M428.6 1380.1h0M608.6 1432.1h0M773.2 1400.3h0M480.1 1313.4h0M514 1278.9h0M558.3 1356.2h0M781.1 1191.5h0M723.5 1375.8h0M476.6 1244.4h0M771 1246.1h0M808 1452.3h0M615.2 1201.5h0M794.6 1343.3h0M794.6 1208.3h0M496.4 1336.2h0M491.4 1200.2h0M533.7 1221.2h0M438.8 1300.3h0M599.1 1460.5h0M491.4 1225.2h0M501.6 1375.2h0M647.7 1426.2h0M778.6 1227.6h0M793.2 1297.7h0M624.5 1256.7h0M789.1 1283.4h0M500.8 1200.8h0M544.4 1428.1h0M430.8 1317.2h0M544 1248.6h0M668.9 1452.3h0M637 1192.4h0M505.5 1197.4h0M747.2 1387.4h0M638.8 1386.2h0M447.7 1348.1h0M749.4 1288.3h0M768.9 1284h0M767.6 1193.8h0M545 1315.1h0M730.8 1336.7h0M464.8 1436.3h0M685.8 1247.8h0M581.4 1457.2h0M673.5 1412.9h0M587.2 1189.5h0M791.9 1464.9h0M436.4 1267.7h0M470.6 1349.4h0M659.2 1293.1h0M796.6 1237.4h0M627 1374h0M710.6 1439h0M606.3 1371.2h0M713.3 1368.7h0M686.1 1405.6h0M459.1 1300.8h0M702.6 1205.3h0M650.3 1336.7h0M672.9 1383.9h0M785.2 1349.5h0M534.2 1385.2h0M795 1384.3h0M490.1 1185.9h0M487.1 1465h0M793.3 1257.3h0M658.4 1415.7h0M598.3 1196h0M743.8 1437h0M455.6 1405.6h0M535.1 1322.1h0M445.5 1394.3h0M458.4 1444.6h0M716.3 1417.6h0M567.7 1247.9h0M798.3 1397.2h0M528.3 1254.3h0M522.7 1467.3h0M495.5 1190.1h0M476.4 1327.3h0M735 1295.2h0M737.3 1222.6h0M457.2 1208.3h0M602.9 1289.4h0M665.1 1257.5h0M485.4 1202h0M527.4 1230.1h0M471.9 1251.8h0M767.1 1379.3h0M452.6 1443.9h0M699 1381.8h0M608.6 1303.1h0M672.9 1227.2h0M524.8 1289.4h0M425.5 1408.4h0M787 1263.3h0M554.4 1189.2h0M456.7 1186.5h0M427.4 1321.8h0M698.4 1199h0M497.9 1415h0M505.5 1441.5h0M461 1245.8h0M743.5 1237h0M530.2 1286.7h0M480.1 1195.7h0M751.8 1403.3h0M781.9 1449.5h0M493 1350h0M696.6 1284h0M499.2 1224.8h0M688.9 1336.7h0M704.5 1312.3h0M500.4 1469.7h0M605.7 1243.6h0M553.4 1362.5h0M476.9 1419.9h0M523.8 1422.2h0M796.4 1246.4h0M743.1 1331.3h0M483.4 1204h0M443.4 1391.5h0M450.8 1452.4h0M680.1 1397.5h0M704.4 1310.8h0M443.4 1259.8h0M527.9 1445.3h0M504.7 1214h0M580.6 1304.5h0M623 1282.7h0M606.7 1229.1h0M713.3 1306.8h0M789 1389.1h0M790.5 1188.5h0M471.6 1293.4h0M574.2 1365.4h0M792 1289.6h0M805.1 1424.7h0M468.9 1267h0M573.7 1329h0M650.7 1340.3h0M447.8 1399.6h0M554.7 1241.2h0M773.6 1447.8h0M471.9 1220.7h0M751.4 1460h0M716.5 1373.8h0M575.6 1458.3h0M463.4 1199.1h0M724.1 1428.4h0M511.7 1288.1h0M756.5 1184.6h0M675.5 1366.6h0M468.2 1232.4h0M621.2 1192.8h0M603.5 1370.9h0M750.2 1213.8h0M519.6 1331.4h0M444.5 1337.2h0M662.6 1214.6h0M456.3 1197.3h0M800.3 1230.4h0M446.5 1357.5h0M632.3 1389.6h0M445.9 1251.9h0M717.8 1191.5h0M626.1 1277.1h0M533.6 1191.5h0M747 1274.5h0M519.3 1396h0M431.8 1356.7h0M719.9 1218.8h0M714.4 1229.9h0M753.6 1205.4h0M650.6 1186.3h0M784.6 1279.3h0M784.4 1434.4h0M459.8 1470.5h0M563 1237h0M621.7 1351h0M700.8 1259.2h0M792.1 1212.1h0M719.1 1306.8h0M517.6 1245.9h0M712.3 1404.2h0M438.5 1405.7h0M546.8 1363.3h0M793.7 1387.5h0M693.6 1377.7h0M649.3 1451.1h0M606.4 1461.5h0M721.6 1327.1h0M501 1371h0M582.5 1203h0M673.3 1369.6h0M764.6 1392.7h0M481.7 1261.8h0M427.1 1462.9h0M483 1411.9h0M645.4 1370.7h0M444.1 1385.6h0" stroke="#9a5a46" stroke-width="2.6" stroke-linecap="round" opacity="0.8"/>
<path d="M752.8 1237.1h0M749.2 1262h0M762.2 1252.7h0M758.2 1203.1h0M760.2 1227.6h0M749.9 1270h0M752.4 1243.4h0M765.2 1268.6h0M761.2 1266.3h0M749.3 1254.2h0M744.6 1271.1h0M750.5 1237.6h0M754 1230h0M754.7 1226.1h0M756.1 1227.6h0M742.7 1289.1h0M758.2 1242.3h0M745.3 1241.6h0M750.2 1232.2h0M756.7 1237h0M758.5 1244.5h0M761.8 1224.8h0M751.8 1249.7h0M746.3 1233.6h0M749.6 1259.4h0M751.7 1252.9h0M746.1 1250.6h0M743.1 1258.3h0M744.3 1256.8h0M752.2 1223.6h0M748.4 1247.9h0M748.1 1211.7h0M760.8 1239.1h0M758.5 1240.3h0M738.5 1260.1h0M751.1 1238.9h0M756.1 1225.8h0M755.1 1230.5h0M747.4 1227.1h0M744.2 1220.5h0M746.1 1261.6h0M754 1242.1h0M756.7 1223.3h0M750.7 1246.8h0M749 1245.4h0M754 1265.1h0M743.9 1215.2h0M746.2 1222.5h0M750.9 1243.8h0M750.8 1252.9h0M748.6 1235.6h0M748.5 1234.5h0M755.4 1248.6h0M757 1237h0M748.8 1225.8h0M744.6 1251.5h0M757.9 1230.8h0M753.1 1228.8h0M751.9 1247.6h0M750.2 1243.6h0M751.4 1264.9h0M749.6 1253.8h0M742.2 1264.4h0M745.2 1234.9h0M759.2 1244.8h0M759.4 1236.7h0M754.5 1222h0M758.3 1244.9h0M748.2 1267.5h0M756.4 1255.5h0M754.6 1241.4h0M748.4 1253.3h0M744.8 1221.2h0M749.2 1266.1h0M755.6 1247.6h0M745.7 1257.5h0M759.6 1219h0M748.1 1244.2h0M756.2 1213.7h0M754 1219.2h0M748.6 1231.8h0M747.7 1237.5h0M749.1 1209.6h0M749.4 1272.8h0M753.7 1249.6h0M753.5 1258.8h0M747.5 1252.2h0M753.4 1241.6h0M754.5 1235.1h0M750.2 1264.2h0M745.9 1252.9h0M758.6 1249.9h0M754.9 1247.8h0M750.8 1266.1h0M751.8 1240.3h0M757.1 1248.5h0M753 1273.3h0M756.2 1209h0M764.7 1241.2h0M752.4 1268.2h0M756.3 1261.5h0M749.8 1220.8h0M756.8 1243h0M742.4 1262.8h0M753 1234h0M745.2 1264h0M760.6 1257.1h0M757.7 1229h0M756.7 1260.5h0M757.9 1276.1h0" stroke="#e8906a" stroke-width="2.4" stroke-linecap="round" opacity="0.8"/>
<path d="M762 1301.3h0M756.4 1300.9h0M765.3 1298.1h0M767.7 1302.6h0M752.7 1301.8h0M769.8 1299h0M765 1298.5h0M745.3 1301h0M767.9 1295.1h0M787.1 1307.7h0M754.5 1304.6h0M765 1301.1h0M749.9 1303.6h0M762.3 1296h0M761.6 1305.2h0M756.3 1301h0M763.9 1301h0M773.8 1303.6h0M775.8 1298h0M757.8 1296.2h0M760.5 1304.5h0M749.7 1304.4h0M769.9 1299h0M759.9 1306.4h0M780.7 1295h0" stroke="#e8906a" stroke-width="2.4" stroke-linecap="round" opacity="0.8"/>
<path d="M544.8 1366.2h0M538.7 1360.1h0M534.8 1362.8h0M539.7 1367.8h0M536.9 1354h0M539.5 1362.7h0M535.1 1368.1h0M540.7 1360.7h0M538.9 1373.7h0M531.7 1373.9h0M534.7 1373.9h0M527.7 1366.1h0M530.7 1369.6h0M527.3 1380.7h0M536.5 1355.8h0M543.9 1372.9h0M529 1373h0M534 1368.6h0M528.3 1364.3h0M539.3 1377.7h0M535.9 1369.2h0M540.8 1370.4h0M536 1373h0M531.8 1380.3h0M529.5 1367.1h0M539 1364.6h0M541.9 1360.5h0M534 1350.3h0M538.7 1374.8h0M530 1365.7h0M539.7 1367.5h0M534.9 1381.7h0M537.2 1361.2h0M541.5 1371.1h0M526.9 1362h0" stroke="#e8906a" stroke-width="2.4" stroke-linecap="round" opacity="0.8"/>
<path d="M595.3 1410.8h0M603.7 1407.2h0M601.2 1412.5h0M600.3 1408.9h0M594.8 1411.7h0M602.7 1410.7h0M604.3 1411.4h0M607 1406h0M609.4 1414.1h0M604.3 1409.9h0M610.1 1420.8h0M605.5 1425.6h0M594.2 1421.1h0M599.7 1412.4h0M602.9 1418.5h0M606.3 1413.2h0M600.1 1414.4h0M608.8 1411.3h0M598.3 1415.9h0M608.3 1416.5h0M597.1 1407.2h0M609.8 1406.9h0M599 1415.1h0M609.7 1416.4h0M600.2 1411.5h0" stroke="#e8906a" stroke-width="2.4" stroke-linecap="round" opacity="0.8"/>
<path d="M712 1321.8h0M720.9 1331h0M715.5 1323.5h0M713.3 1333.8h0M717 1331.4h0M704.7 1325.9h0M710 1335h0M721.3 1327.5h0M715 1333.5h0M714.8 1329.7h0M709.2 1330.2h0M716.8 1334.6h0" stroke="#e8906a" stroke-width="2.4" stroke-linecap="round" opacity="0.8"/>
<rect x="831.2" y="1184" width="394.4" height="296.1" fill="#fbf4c6" filter="url(#ff3)"/>
<ellipse cx="1000" cy="1300" rx="90" ry="80" fill="#fffbd8" opacity="0.5" filter="url(#bl8)"/>
<ellipse cx="865" cy="1235" rx="35" ry="45" fill="#f2e0c0" opacity="0.35" filter="url(#bl8)"/>
<path d="M1164.1 1240.9h0M891.4 1252.3h0M884.8 1341.1h0M1070.5 1191.2h0M1147.3 1426.7h0M1202.9 1417.3h0M1164.3 1328.2h0M1053.3 1311.6h0M1001.1 1278h0M1152.5 1418.6h0M1102.6 1347.8h0M886.6 1383.3h0M902.8 1245.8h0M987.9 1224.9h0M925.6 1255.4h0M976.5 1208.3h0M1204.6 1300h0M1196.6 1199.5h0M1147.3 1430.1h0M1178.4 1420h0M1165.8 1295.7h0M887.4 1468.8h0M1114.9 1248.4h0M1059.8 1358.5h0M1116.8 1286h0M898.1 1385.4h0M921.8 1207.1h0M1050.2 1344.6h0M1004.9 1286.5h0M835.4 1476.5h0M864.3 1323.3h0M1158.3 1188.7h0M1027.1 1468.3h0M1018.4 1381.2h0M1121 1261.9h0M1164 1262h0M972.3 1257.9h0M913.4 1288.8h0M1067.2 1188.2h0M908.2 1326.5h0M887.4 1437.5h0M1154 1250.3h0M985 1196.7h0M1218.7 1199.6h0M884.4 1420.1h0M1181 1345.2h0M836.1 1259h0M892.4 1325.9h0M968.2 1419.6h0M1113.2 1380.4h0M1036.1 1454h0M1056.9 1367h0M1182.8 1220.5h0M1041.5 1422.7h0M950.5 1466h0M867.9 1202.1h0M1116.5 1218.1h0M1170.7 1477h0M1112.3 1271.3h0M1009.1 1188.1h0M995.8 1475.1h0M1184.6 1342.7h0M980.1 1325.1h0M1056.7 1196.9h0M903.6 1216.8h0M953.5 1443.8h0M1036.7 1429.1h0M1123.7 1375.3h0M1206.8 1193.4h0M889.9 1430.6h0M928.8 1340.9h0M1008.7 1407.4h0M919.8 1201.7h0M1000.1 1452.2h0M1151.5 1428.2h0M1114.2 1380.6h0M934.1 1225.7h0M1065.9 1203.4h0M1174.6 1297.6h0M1028.1 1352.9h0M1196.6 1315.9h0M1099.7 1295.9h0M1138.8 1473.1h0M865.2 1249.5h0M914.9 1457.8h0M913.4 1469.7h0M878 1224.3h0M984.4 1248.6h0M840.3 1389.6h0M1090.3 1392.6h0M1143.8 1434.5h0M855.2 1367.1h0M1036.5 1413.8h0M1108.4 1310.7h0M929.2 1268.7h0M1049.4 1450h0M1112.1 1215.1h0M933 1421.5h0M952.8 1216.9h0M997.4 1392.9h0M963 1292.5h0M1178.7 1212.6h0M1144.1 1424.4h0M997.9 1227.4h0M1036.4 1257.7h0M1186 1192.6h0M1126.1 1403.6h0M1122.4 1350.5h0M1200.6 1418.7h0M1133.2 1329.7h0M1151.7 1366.7h0M842.1 1416.1h0M989.9 1428.9h0M1051.1 1414.2h0M1042.5 1404.7h0M1123 1445.5h0M1049.8 1241.7h0M850.8 1288.4h0M1012.5 1433.1h0M1133.7 1312.1h0M856.3 1303.9h0M1119.7 1350.6h0M849.3 1389.8h0M1115.4 1364.5h0M1173.9 1225.3h0M867.6 1468.1h0M1008.1 1458.5h0M1082.5 1256.5h0M997.4 1458.3h0M1208.5 1229.8h0M1113.9 1192h0M1092.9 1330.3h0M930.8 1322.7h0M1114.1 1206.1h0M903.9 1350.4h0M844.9 1368.3h0M1179.2 1383.5h0M902.3 1227.6h0M1037.5 1415.4h0M1056.3 1209.5h0M929.6 1276.6h0M1126 1218h0M936.8 1395.8h0M918.7 1267h0M1147.6 1361.6h0M1137.7 1355.3h0M876.7 1292.8h0M1092.2 1447.8h0M1055.4 1442.1h0M1111.8 1322.3h0M1206.3 1285.6h0M968.1 1444.5h0M1167.4 1440.5h0M1203.4 1232.1h0M863.1 1356.2h0M945 1422.6h0M910.9 1243.1h0M983.4 1200.6h0M1212.7 1324h0M999.8 1207.6h0M915.8 1222.4h0M842.3 1235.2h0M1143.9 1402.4h0M1001.1 1451.6h0M1207.4 1201.6h0M1125.9 1410.3h0M930.7 1438.5h0M855.9 1250.7h0M1181.2 1428h0M1079.3 1190.4h0M859.8 1399.1h0M874.8 1440.8h0M948.6 1349.5h0M881.8 1446.3h0M914.4 1283.8h0M869.6 1377.1h0M907.9 1336.3h0M1098.8 1466.7h0M994.8 1238.8h0M1102.4 1326.1h0M890.6 1431h0M1156.6 1366h0M972.3 1355.2h0M1034.8 1461.1h0M1149.9 1436.6h0M1113.2 1223.1h0M1008.5 1314.3h0M1209 1295.7h0M965.2 1437.6h0M905.1 1278.5h0M891.3 1254.3h0M1195 1262.1h0M1062.2 1195.6h0M1057 1321.8h0M995.5 1192.7h0M903 1256.3h0M1151 1191.7h0M901 1246h0M1207.5 1467.1h0M1044.6 1312.2h0M998.5 1364.4h0M1139.1 1316.5h0M1182 1352.4h0M1185.4 1326.2h0M1016.1 1436.2h0M1159.4 1361.7h0M1039.2 1307.4h0M1048.8 1211.2h0M998.9 1420.8h0M1129.2 1271.9h0M1202.2 1299.4h0M853.7 1326.2h0M1187.4 1465.7h0M863.8 1310.2h0M915.6 1347.6h0M1013.6 1466.8h0M1030.7 1272.6h0M1119.1 1355.4h0M1102.6 1215.8h0M1175.3 1451.6h0M1138 1443.6h0M889.7 1217.2h0M966.8 1339.7h0M1202.2 1267.6h0M1076 1290.3h0M1052.4 1281.8h0M902.6 1198.4h0M912.9 1453.7h0M1205.8 1323.2h0M1098 1450.9h0M1084.9 1391.1h0M931.5 1457.1h0M1063 1282.2h0M901.9 1298.6h0M1014.2 1304.6h0M1163.7 1230.5h0M965.8 1216.7h0M1033.3 1292.6h0M1060 1402.9h0M1219.4 1356.8h0M960.3 1232.8h0M1073.9 1453.1h0M1095.6 1436.3h0M1102.3 1339h0M1188.6 1200.3h0M1015.8 1394.2h0M1006.2 1379.5h0M1094.2 1204.5h0M1082.3 1437.5h0M1092.4 1379.6h0M1009.5 1278.9h0M1178.7 1411.9h0M1126.7 1278.2h0M1173.4 1300.8h0M1107.9 1443.1h0M1064.9 1445.7h0M851.6 1469.5h0M1011.7 1319.9h0M941.9 1195.5h0M1216.2 1276.4h0" stroke="#9a5a46" stroke-width="2.6" stroke-linecap="round" opacity="0.8"/>
<line x1="9" y1="1461.8" x2="106" y2="1461.8" stroke="#000" stroke-width="4"/>
<text x="15.5" y="1450.6" font-size="24.6" font-weight="bold">200 µm</text>
<line x1="433.7" y1="1461.7" x2="530.7" y2="1461.7" stroke="#000" stroke-width="4"/>
<text x="441" y="1450.5" font-size="24.6" font-weight="bold">200 µm</text>
<line x1="840.1" y1="1464.4" x2="937.1" y2="1464.4" stroke="#000" stroke-width="4"/>
<text x="847.5" y="1453.2" font-size="24.6" font-weight="bold">200 µm</text>
</svg>
</body></html>
